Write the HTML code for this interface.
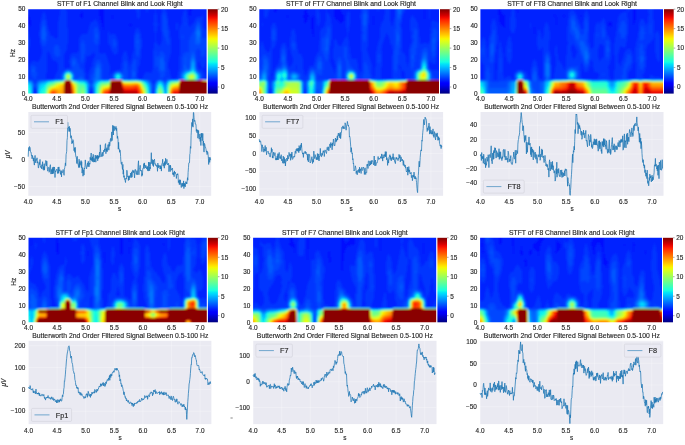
<!DOCTYPE html>
<html lang="en"><head><meta charset="utf-8"><title>STFT and filtered EEG signals</title>
<style>html,body{margin:0;padding:0;background:#fff}body{width:685px;height:445px;overflow:hidden}svg{display:block}text{stroke:#262626;stroke-width:.14px}</style></head>
<body>
<svg width="685" height="445" viewBox="0 0 685 445" font-family="'Liberation Sans', sans-serif" fill="#262626">
<defs><linearGradient id="jet" x1="0" y1="1" x2="0" y2="0"><stop offset="0.000" stop-color="#000080"/><stop offset="0.025" stop-color="#00009c"/><stop offset="0.050" stop-color="#0000b9"/><stop offset="0.075" stop-color="#0000d6"/><stop offset="0.100" stop-color="#0000f3"/><stop offset="0.125" stop-color="#0000ff"/><stop offset="0.150" stop-color="#0019ff"/><stop offset="0.175" stop-color="#0033ff"/><stop offset="0.200" stop-color="#004dff"/><stop offset="0.225" stop-color="#0066ff"/><stop offset="0.250" stop-color="#0080ff"/><stop offset="0.275" stop-color="#0099ff"/><stop offset="0.300" stop-color="#00b2ff"/><stop offset="0.325" stop-color="#00ccff"/><stop offset="0.350" stop-color="#00e5f7"/><stop offset="0.375" stop-color="#15ffe2"/><stop offset="0.400" stop-color="#29ffce"/><stop offset="0.425" stop-color="#3effb9"/><stop offset="0.450" stop-color="#52ffa5"/><stop offset="0.475" stop-color="#67ff90"/><stop offset="0.500" stop-color="#7bff7b"/><stop offset="0.525" stop-color="#90ff67"/><stop offset="0.550" stop-color="#a5ff52"/><stop offset="0.575" stop-color="#b9ff3e"/><stop offset="0.600" stop-color="#ceff29"/><stop offset="0.625" stop-color="#e2ff15"/><stop offset="0.650" stop-color="#f7f600"/><stop offset="0.675" stop-color="#ffde00"/><stop offset="0.700" stop-color="#ffc600"/><stop offset="0.725" stop-color="#ffaf00"/><stop offset="0.750" stop-color="#ff9700"/><stop offset="0.775" stop-color="#ff8000"/><stop offset="0.800" stop-color="#ff6800"/><stop offset="0.825" stop-color="#ff5000"/><stop offset="0.850" stop-color="#ff3900"/><stop offset="0.875" stop-color="#ff2100"/><stop offset="0.900" stop-color="#f30900"/><stop offset="0.925" stop-color="#d60000"/><stop offset="0.950" stop-color="#b90000"/><stop offset="0.975" stop-color="#9c0000"/><stop offset="1.000" stop-color="#800000"/></linearGradient><filter id="bl" x="-2%" y="-4%" width="104%" height="108%"><feGaussianBlur stdDeviation="1"/></filter></defs>
<rect width="685" height="445" fill="#fff" stroke="none"/>
<g><text x="119.9" y="6.2" text-anchor="middle" font-size="6.8">STFT of F1 Channel Blink and Look Right</text>
<clipPath id="cF1"><rect x="28.2" y="9.2" width="178.4" height="84.4"/></clipPath><g clip-path="url(#cF1)"><g filter="url(#bl)"><g shape-rendering="crispEdges"><rect x="25" y="6" width="185" height="91" fill="#000eff"/><path fill="#0021ff" d="M25 6h14v3h-14zM40 6h50v3h-50zM92 6h7v3h-7zM104 6h38v4h-38zM143 6h46v4h-46zM192 6h18v5h-18zM25 9h74v3h-74zM25 12h56v2h-56zM28 14h52v1h-52zM104 10h85v5h-85zM83 12h16v4h-16zM113 15h77v1h-77zM191 11h19v5h-19zM29 15h51v2h-51zM30 17h51v1h-51zM83 16h17v2h-17zM104 15h8v4h-8zM113 16h97v3h-97zM30 18h70v2h-70zM31 20h70v3h-70zM31 23h71v1h-71zM104 19h106v5h-106zM32 24h70v1h-70zM25 25h5v1h-5zM31 25h71v1h-71zM104 24h25v2h-25zM132 24h78v2h-78zM25 26h77v1h-77zM25 27h78v3h-78zM104 26h106v4h-106zM25 30h185v62h-185zM25 92h65v5h-65zM91 92h119v5h-119z"/><path fill="#0034ff" d="M145 6h4v3h-4zM61 6h5v4h-5zM129 6h1v4h-1zM185 6h1v4h-1zM60 10h6v1h-6zM136 6h4v6h-4zM146 9h2v3h-2zM162 6h4v6h-4zM184 10h2v2h-2zM43 12h2v2h-2zM155 6h1v8h-1zM162 12h5v2h-5zM42 14h3v1h-3zM60 11h7v5h-7zM183 12h4v4h-4zM137 12h3v5h-3zM161 14h6v3h-6zM202 15h1v2h-1zM42 15h4v3h-4zM137 17h2v1h-2zM182 16h5v2h-5zM197 17h6v1h-6zM138 18h1v1h-1zM196 18h7v1h-7zM41 18h5v2h-5zM95 19h1v1h-1zM59 16h8v5h-8zM94 20h3v1h-3zM195 19h8v2h-8zM93 21h4v1h-4zM41 20h6v3h-6zM91 22h7v1h-7zM154 14h3v9h-3zM194 21h9v2h-9zM182 18h6v6h-6zM193 23h10v1h-10zM90 23h8v2h-8zM153 23h5v2h-5zM181 24h7v1h-7zM192 24h11v1h-11zM40 23h7v3h-7zM90 25h9v1h-9zM154 25h4v1h-4zM161 17h7v9h-7zM181 25h8v1h-8zM191 25h12v1h-12zM180 26h9v1h-9zM190 26h13v1h-13zM58 21h9v7h-9zM180 27h24v2h-24zM40 26h8v4h-8zM89 26h10v4h-10zM136 28h3v2h-3zM161 26h8v4h-8zM176 23h2v7h-2zM179 29h26v1h-26zM40 30h9v1h-9zM161 30h9v1h-9zM39 31h10v1h-10zM154 26h3v6h-3zM25 32h3v1h-3zM88 30h12v3h-12zM108 31h1v2h-1zM135 30h5v3h-5zM87 33h13v1h-13zM135 33h6v1h-6zM39 32h11v3h-11zM82 34h18v1h-18zM108 33h2v2h-2zM111 34h4v1h-4zM39 35h12v1h-12zM81 35h19v1h-19zM39 36h14v1h-14zM108 35h8v2h-8zM162 31h8v6h-8zM25 33h4v5h-4zM40 37h14v1h-14zM58 28h10v10h-10zM80 36h20v2h-20zM40 38h16v1h-16zM57 38h11v1h-11zM134 34h7v5h-7zM179 30h31v9h-31zM108 37h9v3h-9zM155 32h1v10h-1zM162 37h9v5h-9zM155 42h2v1h-2zM40 39h28v5h-28zM108 40h10v4h-10zM154 43h3v1h-3zM79 38h21v7h-21zM109 44h9v1h-9zM154 44h4v1h-4zM161 42h10v3h-10zM154 45h5v1h-5zM160 45h11v1h-11zM25 38h5v9h-5zM110 45h8v2h-8zM41 44h26v4h-26zM134 39h8v9h-8zM154 46h17v3h-17zM42 48h25v2h-25zM111 47h7v3h-7zM42 50h24v1h-24zM79 45h20v6h-20zM134 48h7v3h-7zM25 47h4v5h-4zM42 51h6v1h-6zM49 51h17v1h-17zM78 51h21v1h-21zM112 50h6v2h-6zM124 51h2v1h-2zM25 52h3v1h-3zM49 52h16v1h-16zM78 52h15v1h-15zM94 52h5v1h-5zM113 52h5v1h-5zM124 52h3v1h-3zM50 53h15v1h-15zM72 53h20v1h-20zM95 53h6v1h-6zM103 53h2v1h-2zM113 53h4v1h-4zM133 51h8v3h-8zM153 49h18v5h-18zM42 52h5v3h-5zM50 54h14v1h-14zM71 54h21v1h-21zM115 54h1v1h-1zM70 55h20v1h-20zM95 54h11v2h-11zM123 53h4v3h-4zM180 39h30v17h-30zM70 56h17v1h-17zM95 56h12v1h-12zM179 56h31v1h-31zM41 55h6v3h-6zM51 55h13v3h-13zM153 54h17v4h-17zM94 57h13v2h-13zM132 54h9v5h-9zM40 58h7v2h-7zM52 58h12v2h-12zM70 57h16v3h-16zM39 60h8v1h-8zM54 60h10v1h-10zM122 56h6v5h-6zM32 61h4v1h-4zM38 61h9v1h-9zM69 60h17v2h-17zM93 59h15v3h-15zM153 58h16v4h-16zM179 57h27v5h-27zM31 62h16v1h-16zM57 61h7v2h-7zM69 62h16v1h-16zM122 61h7v2h-7zM131 59h9v4h-9zM200 62h6v1h-6zM30 63h17v1h-17zM92 62h17v3h-17zM130 63h10v2h-10zM200 63h5v2h-5zM70 63h15v3h-15zM121 63h8v3h-8zM130 65h9v1h-9zM29 64h18v3h-18zM70 66h14v1h-14zM92 65h18v2h-18zM121 66h18v1h-18zM201 65h4v2h-4zM58 63h6v5h-6zM70 67h15v1h-15zM91 67h19v1h-19zM153 62h15v6h-15zM179 62h19v6h-19zM202 67h2v1h-2zM28 67h19v2h-19zM58 68h7v1h-7zM66 68h19v1h-19zM121 67h17v2h-17zM179 68h20v1h-20zM120 69h18v1h-18zM153 68h16v2h-16zM179 69h23v1h-23zM58 69h27v2h-27zM90 68h20v3h-20zM116 70h22v1h-22zM179 70h24v1h-24zM57 71h28v1h-28zM113 71h25v1h-25zM25 69h22v4h-22zM57 72h29v1h-29zM89 71h21v2h-21zM112 72h26v1h-26zM146 72h3v1h-3zM152 70h18v3h-18zM89 73h20v1h-20zM111 73h27v1h-27zM145 73h25v1h-25zM178 71h26v3h-26zM56 73h30v2h-30zM88 74h21v1h-21zM110 74h27v1h-27zM144 74h26v1h-26zM28 73h18v3h-18zM88 75h49v1h-49zM144 75h27v1h-27zM178 74h27v2h-27zM55 75h31v3h-31zM143 76h28v2h-28zM177 76h28v2h-28zM25 76h21v3h-21zM176 78h29v1h-29zM25 79h22v1h-22zM54 78h32v2h-32zM88 76h50v4h-50zM143 78h29v2h-29zM175 79h30v1h-30zM25 80h185v1h-185zM155 81h55v2h-55zM25 81h128v3h-128zM154 83h56v1h-56zM25 84h185v4h-185zM35 88h175v1h-175zM35 89h56v1h-56zM92 89h118v1h-118zM25 88h9v3h-9zM36 90h54v2h-54zM25 91h8v6h-8zM35 93h1v4h-1zM37 92h53v5h-53zM92 90h61v7h-61zM154 90h56v7h-56z"/><path fill="#0047ff" d="M164 13h1v1h-1zM163 14h2v2h-2zM163 16h3v4h-3zM198 20h1v1h-1zM43 20h2v2h-2zM197 21h2v1h-2zM197 22h3v1h-3zM42 22h3v2h-3zM196 23h4v1h-4zM185 23h1v2h-1zM196 24h5v1h-5zM42 24h4v3h-4zM95 27h2v1h-2zM195 25h6v3h-6zM95 28h3v1h-3zM195 28h7v1h-7zM41 27h5v3h-5zM163 20h4v10h-4zM194 29h8v3h-8zM94 29h4v4h-4zM163 30h5v3h-5zM193 32h9v1h-9zM137 33h1v1h-1zM192 33h10v2h-10zM164 33h4v3h-4zM136 34h3v3h-3zM191 35h11v2h-11zM165 36h3v2h-3zM190 37h12v1h-12zM135 37h4v2h-4zM166 38h2v1h-2zM182 35h1v4h-1zM94 33h5v7h-5zM190 38h20v2h-20zM41 30h6v11h-6zM82 40h1v1h-1zM166 39h3v2h-3zM94 40h4v2h-4zM113 39h2v3h-2zM82 41h2v2h-2zM42 41h4v3h-4zM81 43h3v1h-3zM95 42h3v2h-3zM167 41h2v3h-2zM96 44h1v1h-1zM168 44h1v1h-1zM43 44h2v2h-2zM55 45h3v1h-3zM113 42h3v4h-3zM55 46h4v1h-4zM113 46h2v1h-2zM114 47h1v1h-1zM135 39h5v9h-5zM189 40h21v8h-21zM54 47h5v2h-5zM81 44h4v5h-4zM189 48h17v1h-17zM81 49h5v1h-5zM136 48h4v2h-4zM189 49h8v1h-8zM200 49h6v1h-6zM200 50h5v1h-5zM161 51h1v1h-1zM189 50h7v2h-7zM160 52h3v1h-3zM185 52h2v1h-2zM188 52h8v1h-8zM54 49h6v5h-6zM81 50h4v4h-4zM184 53h12v1h-12zM201 51h4v3h-4zM136 50h3v5h-3zM160 53h4v2h-4zM55 54h5v2h-5zM137 55h2v1h-2zM155 51h1v5h-1zM159 55h6v1h-6zM201 54h3v2h-3zM57 56h2v1h-2zM137 56h1v1h-1zM155 56h2v1h-2zM158 56h7v1h-7zM183 54h13v3h-13zM202 56h1v1h-1zM72 57h3v1h-3zM72 58h4v1h-4zM81 54h3v5h-3zM97 60h3v1h-3zM134 59h2v2h-2zM71 59h6v3h-6zM81 59h2v3h-2zM96 61h4v1h-4zM125 60h1v2h-1zM155 57h10v5h-10zM82 62h1v1h-1zM96 62h5v1h-5zM124 62h2v1h-2zM71 62h7v2h-7zM95 63h6v1h-6zM133 61h3v3h-3zM32 65h2v1h-2zM71 64h8v2h-8zM155 62h11v4h-11zM31 66h4v1h-4zM72 66h7v1h-7zM95 64h7v3h-7zM157 66h9v1h-9zM182 57h14v10h-14zM155 66h1v2h-1zM72 67h8v2h-8zM124 63h3v6h-3zM182 67h15v2h-15zM68 69h1v1h-1zM71 69h11v1h-11zM94 67h8v3h-8zM123 69h4v1h-4zM132 64h4v6h-4zM181 69h16v1h-16zM65 70h18v1h-18zM158 67h8v4h-8zM181 70h17v1h-17zM31 67h5v5h-5zM63 71h20v1h-20zM117 71h3v1h-3zM123 70h5v2h-5zM159 71h7v1h-7zM181 71h18v1h-18zM62 72h21v1h-21zM93 70h9v3h-9zM115 72h13v1h-13zM159 72h6v1h-6zM62 73h22v1h-22zM114 73h14v1h-14zM180 72h21v2h-21zM31 72h6v3h-6zM92 73h10v2h-10zM32 75h5v1h-5zM113 74h15v2h-15zM160 73h5v3h-5zM180 74h22v2h-22zM32 76h4v1h-4zM160 76h4v1h-4zM33 77h3v1h-3zM61 74h23v4h-23zM112 76h16v2h-16zM160 77h3v1h-3zM34 78h2v1h-2zM91 75h11v4h-11zM161 78h1v1h-1zM35 79h1v1h-1zM61 78h24v2h-24zM90 79h12v1h-12zM113 78h14v2h-14zM131 70h5v10h-5zM167 78h2v2h-2zM179 76h23v4h-23zM37 80h114v1h-114zM157 80h8v1h-8zM166 80h44v1h-44zM25 80h8v2h-8zM156 81h54v1h-54zM36 81h54v2h-54zM92 81h59v2h-59zM25 82h9v2h-9zM35 83h117v1h-117zM155 82h55v3h-55zM154 85h56v1h-56zM25 84h128v3h-128zM25 87h9v1h-9zM35 87h56v1h-56zM36 88h54v1h-54zM92 87h61v3h-61zM37 89h53v2h-53zM93 90h60v2h-60zM25 88h8v9h-8zM37 91h52v6h-52zM93 92h59v5h-59zM155 86h55v11h-55z"/><path fill="#005aff" d="M198 23h1v2h-1zM197 25h2v1h-2zM43 26h1v1h-1zM197 26h3v1h-3zM43 27h2v3h-2zM196 27h4v3h-4zM196 30h5v1h-5zM42 30h3v3h-3zM42 33h4v3h-4zM96 34h1v4h-1zM42 36h3v3h-3zM43 39h2v1h-2zM137 41h1v2h-1zM195 31h6v12h-6zM195 43h5v1h-5zM197 44h2v1h-2zM192 52h1v1h-1zM192 53h2v2h-2zM161 57h1v1h-1zM161 58h2v1h-2zM191 55h4v4h-4zM73 60h1v1h-1zM160 59h3v2h-3zM190 59h5v2h-5zM73 61h2v4h-2zM97 64h2v1h-2zM185 57h1v8h-1zM73 65h1v1h-1zM97 65h3v1h-3zM184 65h2v2h-2zM96 66h4v2h-4zM190 61h6v7h-6zM95 68h5v1h-5zM160 61h4v8h-4zM184 67h3v2h-3zM189 68h7v1h-7zM33 69h1v1h-1zM161 69h3v1h-3zM184 69h12v1h-12zM32 70h2v1h-2zM66 70h4v1h-4zM161 70h2v1h-2zM183 70h14v1h-14zM33 71h1v1h-1zM65 71h7v1h-7zM133 71h1v1h-1zM183 71h15v1h-15zM64 72h9v1h-9zM116 72h4v1h-4zM182 72h17v1h-17zM95 69h6v5h-6zM115 73h7v1h-7zM181 73h19v1h-19zM63 73h11v2h-11zM114 74h9v1h-9zM133 72h2v4h-2zM79 77h4v1h-4zM94 74h7v4h-7zM113 75h11v3h-11zM133 76h1v2h-1zM62 75h12v4h-12zM114 78h9v1h-9zM63 79h11v1h-11zM78 78h5v2h-5zM93 78h8v2h-8zM114 79h8v1h-8zM181 74h20v6h-20zM25 80h5v1h-5zM40 80h47v1h-47zM93 80h56v1h-56zM158 80h5v1h-5zM167 80h43v1h-43zM38 81h50v1h-50zM93 81h57v1h-57zM157 81h7v1h-7zM37 82h52v1h-52zM93 82h58v1h-58zM25 81h8v3h-8zM37 83h53v1h-53zM92 83h59v1h-59zM156 82h9v2h-9zM166 81h44v3h-44zM36 84h54v1h-54zM25 84h9v2h-9zM36 85h55v1h-55zM36 86h54v1h-54zM92 84h60v4h-60zM37 87h53v2h-53zM93 88h59v4h-59zM25 86h8v11h-8zM37 89h52v8h-52zM94 92h58v5h-58zM155 84h55v13h-55z"/><path fill="#006dff" d="M198 27h1v2h-1zM197 29h2v2h-2zM197 31h3v1h-3zM196 32h4v2h-4zM197 34h3v3h-3zM197 37h2v3h-2zM198 40h1v2h-1zM192 56h1v1h-1zM192 57h2v2h-2zM191 59h4v8h-4zM190 67h5v1h-5zM190 68h6v2h-6zM97 68h2v3h-2zM185 70h11v1h-11zM66 71h5v1h-5zM184 71h13v1h-13zM64 72h8v1h-8zM183 72h15v1h-15zM64 73h9v1h-9zM115 73h6v1h-6zM182 73h17v1h-17zM63 74h10v1h-10zM114 74h8v2h-8zM63 75h11v3h-11zM96 71h3v7h-3zM114 76h9v2h-9zM95 78h4v1h-4zM114 78h8v1h-8zM63 78h10v2h-10zM95 79h3v1h-3zM115 79h6v1h-6zM182 74h18v6h-18zM47 80h39v1h-39zM94 80h53v1h-53zM159 80h2v1h-2zM168 80h42v1h-42zM39 81h49v1h-49zM94 81h55v1h-55zM157 81h6v1h-6zM167 81h43v1h-43zM25 81h7v2h-7zM38 82h50v1h-50zM94 82h56v1h-56zM157 82h7v1h-7zM38 83h51v1h-51zM93 83h57v1h-57zM93 84h58v1h-58zM37 84h53v2h-53zM92 85h59v1h-59zM156 83h9v3h-9zM166 82h44v4h-44zM93 86h58v3h-58zM37 86h52v4h-52zM37 90h51v1h-51zM25 83h8v14h-8zM38 91h50v6h-50zM94 89h57v8h-57zM155 86h55v11h-55z"/><path fill="#0080ff" d="M198 31h1v5h-1zM192 59h2v3h-2zM191 62h4v7h-4zM190 69h5v1h-5zM189 70h7v1h-7zM66 71h4v1h-4zM185 71h11v1h-11zM65 72h7v1h-7zM184 72h13v1h-13zM64 73h8v1h-8zM116 73h4v1h-4zM183 73h15v1h-15zM64 74h9v1h-9zM115 74h6v1h-6zM183 74h16v1h-16zM182 75h17v1h-17zM114 75h8v3h-8zM182 76h18v2h-18zM63 75h10v4h-10zM183 78h17v1h-17zM64 79h9v1h-9zM115 78h6v2h-6zM183 79h16v1h-16zM53 80h31v1h-31zM96 80h48v1h-48zM169 80h41v1h-41zM25 81h5v1h-5zM42 81h45v1h-45zM95 81h53v1h-53zM158 81h4v1h-4zM39 82h49v1h-49zM94 82h55v1h-55zM167 81h43v2h-43zM25 82h7v2h-7zM38 83h50v1h-50zM94 83h56v1h-56zM157 82h7v2h-7zM38 84h51v3h-51zM93 84h57v3h-57zM156 84h9v6h-9zM25 84h8v7h-8zM155 90h10v2h-10zM166 83h44v9h-44zM25 91h7v6h-7zM38 87h50v10h-50zM94 87h57v10h-57zM155 92h55v5h-55z"/><path fill="#0092ff" d="M192 61h2v5h-2zM191 66h3v1h-3zM191 67h4v3h-4zM190 70h5v1h-5zM67 71h2v1h-2zM187 71h9v1h-9zM65 72h6v1h-6zM185 72h12v1h-12zM65 73h7v1h-7zM117 73h2v1h-2zM184 73h14v1h-14zM116 74h5v1h-5zM183 74h15v1h-15zM115 75h6v1h-6zM115 76h7v1h-7zM64 74h9v5h-9zM115 77h6v2h-6zM183 75h16v4h-16zM64 79h8v1h-8zM116 79h4v1h-4zM184 79h15v1h-15zM55 80h25v1h-25zM81 80h2v1h-2zM98 80h5v1h-5zM107 80h35v1h-35zM170 80h40v1h-40zM46 81h40v1h-40zM96 81h51v1h-51zM159 81h2v1h-2zM168 81h42v1h-42zM25 82h6v1h-6zM40 82h47v1h-47zM95 82h53v1h-53zM158 82h5v1h-5zM39 83h49v1h-49zM95 83h54v1h-54zM157 83h6v1h-6zM167 82h43v2h-43zM157 84h7v2h-7zM94 84h56v6h-56zM25 83h7v14h-7zM38 84h50v13h-50zM95 90h55v7h-55zM156 86h9v11h-9zM166 84h44v13h-44z"/><path fill="#00a5ff" d="M192 63h2v6h-2zM191 69h3v1h-3zM191 70h4v1h-4zM189 71h6v1h-6zM66 72h5v1h-5zM186 72h10v1h-10zM65 73h7v1h-7zM185 73h12v1h-12zM64 74h8v1h-8zM116 74h4v1h-4zM184 74h14v2h-14zM64 75h9v3h-9zM115 75h6v3h-6zM183 76h16v2h-16zM64 78h8v1h-8zM116 78h4v1h-4zM184 78h15v1h-15zM65 79h7v1h-7zM117 79h2v1h-2zM184 79h14v1h-14zM56 80h20v1h-20zM110 80h31v1h-31zM175 80h35v1h-35zM47 81h38v1h-38zM97 81h49v1h-49zM159 81h1v1h-1zM168 81h42v1h-42zM25 82h5v1h-5zM43 82h44v1h-44zM96 82h52v1h-52zM158 82h4v1h-4zM25 83h6v1h-6zM40 83h47v1h-47zM95 83h53v1h-53zM158 83h5v1h-5zM95 84h54v1h-54zM157 84h6v1h-6zM167 82h43v3h-43zM94 85h55v1h-55zM95 86h54v1h-54zM157 85h7v3h-7zM39 84h49v5h-49zM25 84h7v13h-7zM38 89h50v8h-50zM95 87h55v10h-55zM156 88h9v9h-9zM166 85h44v12h-44z"/><path fill="#00b8ff" d="M192 67h1v1h-1zM192 68h2v2h-2zM191 70h3v1h-3zM190 71h5v1h-5zM66 72h4v1h-4zM187 72h9v1h-9zM65 73h6v1h-6zM65 74h7v1h-7zM117 74h3v1h-3zM185 73h12v2h-12zM116 75h4v1h-4zM115 76h6v2h-6zM64 75h8v4h-8zM116 78h4v1h-4zM184 75h14v4h-14zM65 79h7v1h-7zM185 79h13v1h-13zM61 80h13v1h-13zM110 80h29v1h-29zM179 80h31v1h-31zM48 81h36v1h-36zM98 81h47v1h-47zM169 81h41v1h-41zM45 82h41v1h-41zM97 82h50v1h-50zM159 82h2v1h-2zM168 82h42v1h-42zM25 83h5v1h-5zM42 83h45v1h-45zM96 83h52v1h-52zM158 83h4v1h-4zM40 84h47v1h-47zM95 84h53v1h-53zM158 84h5v1h-5zM25 84h6v2h-6zM39 85h49v1h-49zM157 85h6v1h-6zM167 83h43v5h-43zM157 86h7v3h-7zM156 89h8v1h-8zM95 85h54v7h-54zM25 86h7v11h-7zM39 86h48v11h-48zM95 92h55v5h-55zM156 90h9v7h-9zM166 88h44v9h-44z"/><path fill="#00cbff" d="M192 70h2v1h-2zM191 71h4v1h-4zM67 72h2v1h-2zM188 72h7v1h-7zM66 73h5v1h-5zM186 73h10v1h-10zM117 74h2v1h-2zM185 74h12v1h-12zM65 74h7v2h-7zM185 75h13v1h-13zM64 76h8v2h-8zM116 75h4v3h-4zM184 76h14v2h-14zM65 78h7v1h-7zM117 78h3v1h-3zM185 78h13v1h-13zM65 79h6v1h-6zM185 79h12v1h-12zM63 80h11v1h-11zM110 80h18v1h-18zM130 80h8v1h-8zM179 80h31v1h-31zM51 81h29v1h-29zM99 81h45v1h-45zM169 81h41v1h-41zM46 82h40v1h-40zM97 82h49v1h-49zM159 82h2v1h-2zM25 83h3v1h-3zM45 83h41v1h-41zM97 83h50v1h-50zM159 83h3v1h-3zM168 82h42v2h-42zM25 84h5v1h-5zM42 84h45v1h-45zM158 84h4v1h-4zM158 85h5v1h-5zM40 85h47v2h-47zM96 84h52v3h-52zM157 86h6v1h-6zM25 85h6v6h-6zM157 87h7v4h-7zM25 91h7v6h-7zM39 87h48v10h-48zM96 87h53v10h-53zM156 91h8v6h-8zM167 84h43v13h-43z"/><path fill="#00defd" d="M192 70h1v1h-1zM191 71h3v1h-3zM68 72h1v1h-1zM189 72h6v1h-6zM66 73h5v1h-5zM187 73h9v1h-9zM65 74h6v1h-6zM186 74h11v1h-11zM185 75h12v1h-12zM116 75h4v3h-4zM185 76h13v2h-13zM65 75h7v4h-7zM117 78h2v1h-2zM185 78h12v1h-12zM65 79h6v1h-6zM186 79h11v1h-11zM63 80h10v1h-10zM110 80h13v1h-13zM134 80h1v1h-1zM179 80h31v1h-31zM53 81h25v1h-25zM101 81h42v1h-42zM170 81h40v1h-40zM47 82h38v1h-38zM98 82h47v1h-47zM46 83h40v1h-40zM97 83h49v1h-49zM159 83h2v1h-2zM25 84h4v1h-4zM44 84h43v1h-43zM96 84h51v1h-51zM159 84h3v1h-3zM168 82h42v3h-42zM158 85h4v1h-4zM25 85h5v2h-5zM42 85h45v2h-45zM41 87h46v1h-46zM158 86h5v2h-5zM157 88h6v1h-6zM40 88h47v2h-47zM96 85h52v5h-52zM25 87h6v10h-6zM39 90h48v7h-48zM96 90h53v7h-53zM157 89h7v8h-7zM167 85h43v12h-43z"/><path fill="#09f1ee" d="M192 71h2v1h-2zM190 72h5v1h-5zM66 73h4v1h-4zM187 73h9v1h-9zM65 74h6v1h-6zM186 74h10v1h-10zM117 75h2v1h-2zM116 76h4v1h-4zM65 75h7v3h-7zM117 77h2v1h-2zM65 78h6v1h-6zM185 75h12v4h-12zM66 79h5v1h-5zM186 79h10v1h-10zM64 80h9v1h-9zM110 80h13v1h-13zM179 80h31v1h-31zM54 81h23v1h-23zM107 81h35v1h-35zM171 81h39v1h-39zM48 82h36v1h-36zM99 82h46v1h-46zM169 82h41v1h-41zM47 83h39v1h-39zM98 83h48v1h-48zM159 83h1v1h-1zM46 84h40v1h-40zM159 84h2v1h-2zM45 85h41v1h-41zM97 84h50v2h-50zM159 85h3v1h-3zM168 83h42v3h-42zM44 86h42v1h-42zM96 86h51v1h-51zM158 86h4v1h-4zM25 85h4v3h-4zM43 87h43v1h-43zM42 88h45v1h-45zM158 87h5v2h-5zM25 88h5v2h-5zM157 89h6v1h-6zM41 89h46v2h-46zM25 90h6v7h-6zM40 91h47v6h-47zM96 87h52v10h-52zM157 90h7v7h-7zM167 86h43v11h-43z"/><path fill="#18ffde" d="M190 72h4v1h-4zM67 73h3v1h-3zM188 73h7v1h-7zM66 74h5v1h-5zM187 74h9v1h-9zM65 75h6v1h-6zM186 75h11v1h-11zM65 76h7v1h-7zM117 76h2v2h-2zM185 76h12v2h-12zM65 77h6v2h-6zM186 78h11v1h-11zM66 79h4v1h-4zM187 79h9v1h-9zM64 80h8v1h-8zM110 80h13v1h-13zM179 80h31v1h-31zM55 81h21v1h-21zM109 81h33v1h-33zM171 81h39v1h-39zM49 82h31v1h-31zM100 82h44v1h-44zM47 83h38v1h-38zM98 83h47v1h-47zM169 82h41v2h-41zM98 84h48v1h-48zM159 84h1v1h-1zM159 85h2v1h-2zM46 84h40v3h-40zM25 87h3v1h-3zM45 87h41v1h-41zM97 85h50v3h-50zM158 86h4v2h-4zM168 84h42v5h-42zM44 88h42v2h-42zM97 88h51v2h-51zM158 88h5v2h-5zM25 88h4v3h-4zM43 90h43v1h-43zM157 90h6v1h-6zM25 91h5v6h-5zM42 91h44v6h-44zM96 90h52v7h-52zM157 91h7v6h-7zM167 89h43v8h-43z"/><path fill="#28ffcf" d="M191 72h3v1h-3zM67 73h3v1h-3zM189 73h6v1h-6zM66 74h5v1h-5zM187 74h9v1h-9zM186 75h10v1h-10zM65 75h6v3h-6zM186 76h11v2h-11zM66 78h5v1h-5zM186 78h10v1h-10zM66 79h4v1h-4zM187 79h9v1h-9zM64 80h8v1h-8zM110 80h12v1h-12zM179 80h31v1h-31zM56 81h19v1h-19zM109 81h32v1h-32zM174 81h36v1h-36zM50 82h29v1h-29zM100 82h44v1h-44zM170 82h40v1h-40zM48 83h35v1h-35zM99 83h46v1h-46zM169 83h41v1h-41zM47 84h38v1h-38zM98 84h47v1h-47zM98 85h48v1h-48zM97 86h49v1h-49zM159 85h2v2h-2zM46 85h40v4h-40zM158 87h4v2h-4zM97 87h50v3h-50zM25 90h3v1h-3zM45 89h41v2h-41zM158 89h5v2h-5zM25 91h4v6h-4zM44 91h42v6h-42zM97 90h51v7h-51zM157 91h6v6h-6zM168 84h42v13h-42z"/><path fill="#37ffc0" d="M192 72h1v1h-1zM67 73h2v1h-2zM189 73h6v1h-6zM66 74h4v1h-4zM187 74h8v1h-8zM66 75h5v1h-5zM187 75h9v1h-9zM65 76h6v2h-6zM186 76h10v2h-10zM66 78h5v1h-5zM187 78h9v1h-9zM67 79h3v1h-3zM187 79h8v1h-8zM64 80h8v1h-8zM110 80h12v1h-12zM180 80h30v1h-30zM58 81h17v1h-17zM110 81h31v1h-31zM177 81h33v1h-33zM52 82h26v1h-26zM101 82h42v1h-42zM170 82h40v1h-40zM49 83h30v1h-30zM100 83h44v1h-44zM48 84h36v1h-36zM99 84h46v1h-46zM169 83h41v2h-41zM47 85h38v1h-38zM98 85h47v1h-47zM46 86h39v1h-39zM98 86h48v2h-48zM159 86h2v2h-2zM98 88h49v1h-49zM158 88h4v2h-4zM46 87h40v5h-40zM97 89h50v3h-50zM45 92h41v5h-41zM97 92h51v5h-51zM158 90h5v7h-5zM168 85h42v12h-42z"/><path fill="#46ffb1" d="M190 73h4v1h-4zM66 74h4v1h-4zM188 74h7v1h-7zM66 75h5v3h-5zM66 78h4v1h-4zM187 75h9v4h-9zM67 79h3v1h-3zM188 79h7v1h-7zM64 80h8v1h-8zM110 80h12v1h-12zM180 80h30v1h-30zM61 81h13v1h-13zM110 81h30v1h-30zM179 81h31v1h-31zM53 82h24v1h-24zM102 82h41v1h-41zM50 83h29v1h-29zM101 83h43v1h-43zM170 82h40v2h-40zM48 84h35v1h-35zM100 84h45v1h-45zM47 85h37v1h-37zM99 85h46v1h-46zM47 86h38v1h-38zM99 86h47v1h-47zM159 86h1v1h-1zM169 84h41v3h-41zM98 87h48v2h-48zM159 87h2v2h-2zM46 87h39v3h-39zM98 89h49v2h-49zM158 89h4v2h-4zM46 90h40v7h-40zM97 91h50v6h-50zM158 91h5v6h-5zM168 87h42v10h-42z"/><path fill="#55ffa1" d="M191 73h3v1h-3zM67 74h3v1h-3zM188 74h7v1h-7zM187 75h8v1h-8zM66 75h5v3h-5zM187 76h9v2h-9zM66 78h4v1h-4zM187 78h8v1h-8zM67 79h2v1h-2zM188 79h6v1h-6zM64 80h8v1h-8zM111 80h11v1h-11zM180 80h30v1h-30zM63 81h10v1h-10zM110 81h29v1h-29zM179 81h31v1h-31zM54 82h23v1h-23zM106 82h36v1h-36zM171 82h39v1h-39zM51 83h27v1h-27zM101 83h42v1h-42zM170 83h40v1h-40zM49 84h30v1h-30zM100 84h44v1h-44zM48 85h35v1h-35zM99 85h46v2h-46zM47 86h37v2h-37zM99 87h47v1h-47zM159 87h1v1h-1zM47 88h38v1h-38zM159 88h2v1h-2zM169 84h41v5h-41zM98 88h48v2h-48zM159 89h3v1h-3zM158 90h4v2h-4zM46 89h39v8h-39zM98 90h49v7h-49zM158 92h5v5h-5zM168 89h42v8h-42z"/><path fill="#65ff92" d="M191 73h2v1h-2zM67 74h3v1h-3zM189 74h5v1h-5zM66 75h4v1h-4zM188 75h7v1h-7zM66 76h5v2h-5zM187 76h8v2h-8zM66 78h4v1h-4zM188 78h7v1h-7zM189 79h5v1h-5zM64 80h7v1h-7zM111 80h11v1h-11zM180 80h30v1h-30zM64 81h9v1h-9zM110 81h19v1h-19zM130 81h8v1h-8zM179 81h31v1h-31zM55 82h21v1h-21zM109 82h33v1h-33zM171 82h39v1h-39zM53 83h24v1h-24zM102 83h41v1h-41zM51 84h28v1h-28zM101 84h43v1h-43zM170 83h40v2h-40zM49 85h30v1h-30zM100 85h44v1h-44zM48 86h31v1h-31zM82 86h1v1h-1zM100 86h45v1h-45zM81 87h2v1h-2zM99 87h46v1h-46zM81 88h3v1h-3zM47 87h32v3h-32zM99 88h47v2h-47zM159 88h2v2h-2zM80 89h4v2h-4zM159 90h3v1h-3zM98 90h48v2h-48zM169 85h41v7h-41zM46 90h33v7h-33zM80 91h5v6h-5zM98 92h49v5h-49zM158 91h4v6h-4zM168 92h42v5h-42z"/><path fill="#74ff83" d="M67 74h2v1h-2zM190 74h4v1h-4zM66 75h4v3h-4zM67 78h3v1h-3zM188 75h7v4h-7zM190 79h3v1h-3zM65 80h6v1h-6zM111 80h11v1h-11zM180 80h30v1h-30zM64 81h8v1h-8zM110 81h14v1h-14zM134 81h3v1h-3zM179 81h31v1h-31zM56 82h20v1h-20zM109 82h33v1h-33zM172 82h38v1h-38zM54 83h23v1h-23zM106 83h37v1h-37zM171 83h39v1h-39zM52 84h26v1h-26zM101 84h42v1h-42zM170 84h40v1h-40zM50 85h29v1h-29zM101 85h43v1h-43zM100 86h44v1h-44zM48 86h31v2h-31zM100 87h45v1h-45zM82 88h1v1h-1zM99 88h46v1h-46zM81 89h2v1h-2zM47 88h32v3h-32zM159 89h2v2h-2zM159 91h3v1h-3zM46 91h33v6h-33zM81 90h3v7h-3zM99 89h47v8h-47zM158 92h4v5h-4zM169 85h41v12h-41z"/><path fill="#83ff74" d="M68 74h1v1h-1zM190 74h4v1h-4zM67 75h3v1h-3zM189 75h6v1h-6zM66 76h4v2h-4zM188 76h7v2h-7zM67 78h3v1h-3zM189 78h5v1h-5zM190 79h3v1h-3zM65 80h6v1h-6zM111 80h11v1h-11zM180 80h25v1h-25zM64 81h8v1h-8zM110 81h13v1h-13zM179 81h31v1h-31zM57 82h18v1h-18zM109 82h32v1h-32zM174 82h36v1h-36zM55 83h21v1h-21zM108 83h34v1h-34zM171 83h39v1h-39zM53 84h24v1h-24zM102 84h41v1h-41zM51 85h27v1h-27zM101 85h43v1h-43zM49 86h29v1h-29zM100 86h44v1h-44zM170 84h40v3h-40zM48 87h30v2h-30zM100 87h45v3h-45zM159 89h1v1h-1zM82 89h1v2h-1zM82 91h2v1h-2zM159 90h2v2h-2zM47 89h31v8h-31zM81 92h3v5h-3zM99 90h47v7h-47zM159 92h3v5h-3zM169 87h41v10h-41z"/><path fill="#92ff65" d="M191 74h2v1h-2zM67 75h3v1h-3zM189 75h5v1h-5zM66 76h4v1h-4zM188 76h7v1h-7zM67 77h3v1h-3zM188 77h6v1h-6zM67 78h2v1h-2zM189 78h5v1h-5zM65 80h6v1h-6zM111 80h11v1h-11zM180 80h25v1h-25zM64 81h8v1h-8zM110 81h13v1h-13zM179 81h31v1h-31zM58 82h17v1h-17zM110 82h31v1h-31zM176 82h34v1h-34zM55 83h21v1h-21zM109 83h33v1h-33zM54 84h23v1h-23zM106 84h37v1h-37zM171 83h39v2h-39zM52 85h25v1h-25zM102 85h41v1h-41zM50 86h27v1h-27zM101 86h43v1h-43zM100 87h44v1h-44zM170 85h40v3h-40zM48 87h29v3h-29zM100 88h45v3h-45zM159 90h1v1h-1zM47 90h30v7h-30zM82 91h1v6h-1zM99 91h47v6h-47zM159 91h2v6h-2zM169 88h41v9h-41z"/><path fill="#a1ff55" d="M67 75h2v1h-2zM190 75h4v1h-4zM67 76h3v2h-3zM189 76h5v2h-5zM68 78h1v1h-1zM190 78h4v1h-4zM65 80h6v1h-6zM111 80h11v1h-11zM180 80h25v1h-25zM64 81h8v1h-8zM110 81h13v1h-13zM179 81h31v1h-31zM59 82h15v1h-15zM110 82h31v1h-31zM178 82h32v1h-32zM56 83h19v1h-19zM109 83h33v1h-33zM173 83h37v1h-37zM55 84h21v1h-21zM107 84h35v1h-35zM171 84h39v1h-39zM53 85h24v1h-24zM102 85h41v1h-41zM50 86h27v1h-27zM101 86h42v1h-42zM49 87h28v1h-28zM101 87h43v1h-43zM100 88h44v1h-44zM170 85h40v4h-40zM48 88h29v2h-29zM159 91h1v1h-1zM47 90h30v7h-30zM82 92h1v5h-1zM100 89h45v8h-45zM159 92h2v5h-2zM169 89h41v8h-41z"/><path fill="#b1ff46" d="M67 75h2v1h-2zM190 75h4v1h-4zM67 76h3v1h-3zM67 77h2v1h-2zM189 76h5v2h-5zM190 78h3v1h-3zM65 80h6v1h-6zM111 80h11v1h-11zM180 80h25v1h-25zM64 81h8v1h-8zM110 81h13v1h-13zM61 82h13v1h-13zM110 82h30v1h-30zM179 81h31v2h-31zM57 83h18v1h-18zM110 83h31v1h-31zM174 83h36v1h-36zM55 84h21v1h-21zM109 84h33v1h-33zM54 85h22v1h-22zM105 85h37v1h-37zM171 84h39v2h-39zM51 86h26v1h-26zM102 86h41v1h-41zM50 87h27v1h-27zM101 87h42v1h-42zM49 88h28v1h-28zM101 88h43v1h-43zM100 89h44v1h-44zM170 86h40v4h-40zM48 89h29v2h-29zM47 91h30v6h-30zM100 90h45v7h-45zM159 92h1v5h-1zM169 90h41v7h-41z"/><path fill="#c0ff37" d="M68 75h1v1h-1zM191 75h2v1h-2zM190 76h4v1h-4zM67 76h2v2h-2zM190 77h3v1h-3zM191 78h1v1h-1zM65 80h6v1h-6zM111 80h11v1h-11zM180 80h25v1h-25zM64 81h8v1h-8zM110 81h13v1h-13zM63 82h10v1h-10zM110 82h30v1h-30zM179 81h31v2h-31zM58 83h17v1h-17zM110 83h31v1h-31zM176 83h34v1h-34zM56 84h20v1h-20zM109 84h33v1h-33zM172 84h38v1h-38zM55 85h21v1h-21zM107 85h35v1h-35zM171 85h39v1h-39zM52 86h24v1h-24zM50 87h26v1h-26zM102 86h41v2h-41zM49 88h27v1h-27zM101 88h43v3h-43zM170 86h40v5h-40zM48 89h28v8h-28zM100 91h45v6h-45zM169 91h41v6h-41z"/><path fill="#cfff28" d="M67 76h2v1h-2zM68 77h1v1h-1zM190 76h3v2h-3zM65 80h6v1h-6zM111 80h11v1h-11zM180 80h24v1h-24zM64 81h8v1h-8zM110 81h12v1h-12zM64 82h9v1h-9zM110 82h29v1h-29zM179 81h31v2h-31zM59 83h15v1h-15zM178 83h32v1h-32zM56 84h19v1h-19zM110 83h31v2h-31zM173 84h37v1h-37zM55 85h21v1h-21zM109 85h33v1h-33zM53 86h23v1h-23zM104 86h38v1h-38zM171 85h39v2h-39zM51 87h25v1h-25zM102 87h41v1h-41zM50 88h26v1h-26zM101 88h42v1h-42zM49 89h27v1h-27zM101 89h43v3h-43zM170 87h40v5h-40zM48 90h28v7h-28zM100 92h45v5h-45zM169 92h41v5h-41z"/><path fill="#deff18" d="M68 76h1v1h-1zM191 76h2v1h-2zM191 77h1v1h-1zM65 80h6v1h-6zM111 80h11v1h-11zM180 80h24v1h-24zM64 81h8v1h-8zM110 81h12v1h-12zM64 82h9v1h-9zM110 82h28v1h-28zM61 83h13v1h-13zM110 83h30v1h-30zM179 81h31v3h-31zM57 84h18v1h-18zM110 84h31v1h-31zM175 84h35v1h-35zM56 85h19v1h-19zM109 85h33v1h-33zM172 85h38v1h-38zM54 86h22v1h-22zM106 86h36v1h-36zM51 87h25v1h-25zM102 87h40v1h-40zM171 86h39v2h-39zM50 88h26v1h-26zM102 88h41v1h-41zM101 89h42v1h-42zM49 89h27v2h-27zM48 91h28v6h-28zM101 90h43v7h-43zM170 88h40v9h-40z"/><path fill="#eeff09" d="M65 80h6v1h-6zM111 80h11v1h-11zM180 80h24v1h-24zM64 81h7v1h-7zM110 81h12v1h-12zM64 82h8v1h-8zM110 82h14v1h-14zM134 82h4v1h-4zM62 83h11v1h-11zM110 83h30v1h-30zM179 81h31v3h-31zM59 84h15v1h-15zM110 84h31v1h-31zM177 84h33v1h-33zM57 85h18v1h-18zM109 85h32v1h-32zM173 85h37v1h-37zM55 86h20v1h-20zM108 86h34v1h-34zM53 87h22v1h-22zM104 87h38v1h-38zM171 86h39v2h-39zM51 88h24v1h-24zM50 89h26v1h-26zM102 88h41v2h-41zM101 90h42v1h-42zM49 90h27v2h-27zM48 92h28v5h-28zM101 91h43v6h-43zM170 88h40v9h-40z"/><path fill="#fdef00" d="M65 80h6v1h-6zM111 80h11v1h-11zM180 80h24v1h-24zM64 81h7v1h-7zM110 81h12v1h-12zM180 81h30v1h-30zM64 82h8v1h-8zM110 82h13v1h-13zM64 83h9v1h-9zM110 83h29v1h-29zM60 84h14v1h-14zM110 84h30v1h-30zM179 82h31v3h-31zM57 85h18v1h-18zM110 85h31v1h-31zM174 85h36v1h-36zM56 86h19v1h-19zM109 86h32v1h-32zM172 86h38v1h-38zM54 87h21v1h-21zM105 87h37v1h-37zM51 88h24v1h-24zM102 88h40v1h-40zM171 87h39v2h-39zM50 89h25v1h-25zM102 89h41v2h-41zM49 90h26v2h-26zM48 92h27v5h-27zM101 91h43v6h-43zM170 89h40v8h-40z"/><path fill="#ffdd00" d="M65 80h6v1h-6zM111 80h11v1h-11zM180 80h23v1h-23zM64 81h7v1h-7zM110 81h12v1h-12zM180 81h30v1h-30zM64 82h8v1h-8zM110 82h13v1h-13zM64 83h9v1h-9zM110 83h29v1h-29zM61 84h13v1h-13zM110 84h30v1h-30zM179 82h31v3h-31zM59 85h15v1h-15zM110 85h31v1h-31zM176 85h34v1h-34zM58 86h16v1h-16zM109 86h32v1h-32zM173 86h37v1h-37zM56 87h19v1h-19zM107 87h35v1h-35zM52 88h23v1h-23zM103 88h39v1h-39zM102 89h40v1h-40zM171 87h39v3h-39zM50 89h25v2h-25zM102 90h41v2h-41zM49 91h26v6h-26zM101 92h42v5h-42zM170 90h40v7h-40z"/><path fill="#ffcc00" d="M65 80h6v1h-6zM111 80h11v1h-11zM180 80h23v1h-23zM64 81h7v1h-7zM110 81h12v1h-12zM180 81h30v1h-30zM110 82h13v1h-13zM64 82h8v2h-8zM110 83h15v1h-15zM132 83h6v1h-6zM63 84h10v1h-10zM179 82h31v3h-31zM110 84h30v2h-30zM178 85h32v1h-32zM60 85h14v2h-14zM110 86h31v1h-31zM174 86h36v1h-36zM58 87h16v1h-16zM108 87h33v1h-33zM172 87h38v1h-38zM53 88h22v1h-22zM105 88h37v1h-37zM51 89h24v1h-24zM103 89h39v1h-39zM50 90h25v1h-25zM171 88h39v3h-39zM49 91h26v6h-26zM102 90h41v7h-41zM170 91h40v6h-40z"/><path fill="#ffba00" d="M111 80h11v1h-11zM180 80h23v1h-23zM65 80h6v2h-6zM110 81h12v1h-12zM180 81h30v1h-30zM110 82h13v1h-13zM64 82h8v2h-8zM110 83h14v1h-14zM135 83h2v1h-2zM64 84h9v1h-9zM110 84h29v1h-29zM62 85h12v1h-12zM110 85h30v1h-30zM179 82h31v4h-31zM110 86h31v1h-31zM176 86h34v1h-34zM61 86h13v2h-13zM109 87h32v1h-32zM173 87h37v1h-37zM60 88h14v1h-14zM106 88h35v1h-35zM52 89h22v1h-22zM104 89h38v1h-38zM102 90h40v1h-40zM171 88h39v3h-39zM50 90h25v2h-25zM49 92h26v5h-26zM102 91h41v6h-41zM170 91h40v6h-40z"/><path fill="#ffa900" d="M111 80h11v1h-11zM180 80h23v1h-23zM65 80h6v2h-6zM110 81h12v1h-12zM180 81h30v1h-30zM110 82h13v2h-13zM64 82h8v3h-8zM110 84h29v1h-29zM179 82h31v4h-31zM63 85h10v2h-10zM110 85h30v2h-30zM178 86h32v1h-32zM109 87h32v1h-32zM174 87h36v1h-36zM62 87h12v2h-12zM107 88h34v1h-34zM172 88h38v1h-38zM53 89h3v1h-3zM61 89h13v1h-13zM104 89h37v1h-37zM51 90h8v1h-8zM103 90h39v1h-39zM50 91h9v1h-9zM60 90h14v2h-14zM102 91h40v1h-40zM171 89h39v3h-39zM50 92h25v5h-25zM102 92h41v5h-41zM170 92h40v5h-40z"/><path fill="#ff9700" d="M111 80h10v1h-10zM180 80h22v1h-22zM65 80h6v2h-6zM111 81h11v1h-11zM180 81h30v1h-30zM110 82h13v2h-13zM64 82h8v3h-8zM110 84h15v1h-15zM132 84h6v1h-6zM110 85h29v1h-29zM179 82h31v5h-31zM64 85h9v3h-9zM110 86h30v2h-30zM176 87h34v1h-34zM109 88h32v1h-32zM173 88h37v1h-37zM63 88h11v2h-11zM105 89h36v1h-36zM172 89h38v1h-38zM51 90h6v1h-6zM104 90h37v1h-37zM50 91h8v1h-8zM62 90h12v2h-12zM50 92h9v5h-9zM61 92h13v5h-13zM102 91h40v6h-40zM171 90h39v7h-39z"/><path fill="#ff8600" d="M113 80h8v1h-8zM180 80h22v1h-22zM65 80h6v2h-6zM111 81h11v1h-11zM180 81h30v1h-30zM110 82h13v2h-13zM110 84h14v1h-14zM135 84h2v1h-2zM64 82h8v4h-8zM110 85h29v2h-29zM110 87h30v1h-30zM179 82h31v6h-31zM109 88h31v1h-31zM174 88h36v1h-36zM64 86h9v4h-9zM107 89h34v1h-34zM172 89h38v1h-38zM52 90h3v1h-3zM64 90h10v1h-10zM104 90h37v1h-37zM51 91h6v1h-6zM103 91h39v1h-39zM50 92h7v5h-7zM63 91h11v6h-11zM102 92h40v5h-40zM171 90h39v7h-39z"/><path fill="#ff7400" d="M115 80h6v1h-6zM180 80h22v1h-22zM65 80h6v2h-6zM111 81h11v1h-11zM180 81h30v1h-30zM110 82h12v1h-12zM110 83h13v2h-13zM110 85h28v1h-28zM110 86h29v1h-29zM64 82h8v6h-8zM179 82h31v6h-31zM110 87h30v2h-30zM176 88h34v1h-34zM108 89h32v1h-32zM173 89h37v1h-37zM53 90h1v1h-1zM64 88h9v3h-9zM105 90h36v1h-36zM172 90h38v1h-38zM51 91h5v1h-5zM104 91h37v1h-37zM50 92h7v5h-7zM64 91h10v6h-10zM103 92h38v5h-38zM171 91h39v6h-39z"/><path fill="#ff6300" d="M116 80h4v1h-4zM180 80h22v1h-22zM65 80h6v2h-6zM111 81h11v1h-11zM180 81h30v1h-30zM110 82h12v1h-12zM110 83h13v2h-13zM110 85h14v1h-14zM133 85h5v1h-5zM110 86h28v1h-28zM110 87h29v1h-29zM64 82h8v7h-8zM110 88h30v1h-30zM179 82h31v7h-31zM109 89h31v1h-31zM174 89h36v1h-36zM106 90h34v1h-34zM172 90h38v1h-38zM52 91h3v1h-3zM104 91h37v1h-37zM51 92h5v5h-5zM64 89h9v8h-9zM103 92h38v5h-38zM171 91h39v6h-39z"/><path fill="#ff5100" d="M117 80h2v1h-2zM180 80h21v1h-21zM65 80h6v2h-6zM111 81h11v1h-11zM180 81h30v1h-30zM110 82h12v1h-12zM110 83h13v3h-13zM136 85h1v1h-1zM110 86h15v1h-15zM132 86h6v1h-6zM110 87h28v1h-28zM110 88h29v1h-29zM179 82h31v7h-31zM64 82h8v8h-8zM110 89h30v1h-30zM177 89h33v1h-33zM108 90h32v1h-32zM173 90h37v1h-37zM53 91h1v1h-1zM105 91h35v1h-35zM172 91h38v1h-38zM51 92h4v5h-4zM64 90h9v7h-9zM104 92h37v5h-37zM171 92h39v5h-39z"/><path fill="#ff4000" d="M180 80h21v1h-21zM65 80h6v2h-6zM111 81h11v1h-11zM180 81h30v1h-30zM64 82h7v1h-7zM110 82h12v1h-12zM110 83h13v3h-13zM110 86h14v1h-14zM135 86h2v1h-2zM110 87h28v2h-28zM110 89h29v1h-29zM179 82h31v8h-31zM109 90h31v1h-31zM174 90h36v1h-36zM64 83h8v9h-8zM106 91h34v1h-34zM173 91h37v1h-37zM52 92h3v5h-3zM64 92h9v5h-9zM105 92h35v5h-35zM172 92h38v5h-38z"/><path fill="#ff2e00" d="M180 80h21v1h-21zM65 80h6v2h-6zM111 81h11v1h-11zM180 81h30v1h-30zM64 82h7v1h-7zM110 82h12v2h-12zM110 84h13v3h-13zM110 87h14v1h-14zM135 87h2v1h-2zM110 88h28v2h-28zM179 82h31v8h-31zM109 90h30v1h-30zM178 90h32v1h-32zM107 91h33v1h-33zM173 91h37v1h-37zM53 92h1v5h-1zM64 83h8v14h-8zM105 92h35v5h-35zM172 92h38v5h-38z"/><path fill="#ff1d00" d="M66 80h5v1h-5zM182 80h19v1h-19zM65 81h6v1h-6zM111 81h11v1h-11zM180 81h25v1h-25zM180 82h30v1h-30zM64 82h7v2h-7zM110 82h12v2h-12zM110 84h13v4h-13zM110 88h15v1h-15zM134 88h3v1h-3zM110 89h28v2h-28zM179 83h31v8h-31zM109 91h30v1h-30zM174 91h36v1h-36zM64 84h8v13h-8zM106 92h33v5h-33zM173 92h37v5h-37z"/><path fill="#f60b00" d="M66 80h4v1h-4zM183 80h18v1h-18zM65 81h6v1h-6zM111 81h11v1h-11zM180 81h25v1h-25zM180 82h30v1h-30zM64 82h7v3h-7zM110 82h12v3h-12zM110 85h13v4h-13zM110 89h15v1h-15zM132 89h5v1h-5zM110 90h28v1h-28zM109 91h29v1h-29zM179 83h31v9h-31zM64 85h8v12h-8zM108 92h31v5h-31zM173 92h37v5h-37z"/><path fill="#e00000" d="M66 80h4v1h-4zM183 80h17v1h-17zM65 81h6v1h-6zM111 81h11v1h-11zM180 81h25v1h-25zM180 82h30v1h-30zM64 82h7v3h-7zM110 82h12v3h-12zM110 85h13v4h-13zM110 89h14v1h-14zM110 90h27v1h-27zM110 91h28v1h-28zM179 83h31v9h-31zM64 85h8v12h-8zM109 92h29v5h-29zM174 92h36v5h-36z"/><path fill="#cb0000" d="M67 80h3v1h-3zM184 80h16v1h-16zM65 81h6v1h-6zM111 81h11v1h-11zM180 81h25v1h-25zM180 82h30v2h-30zM110 82h12v4h-12zM64 82h7v5h-7zM110 86h13v4h-13zM110 90h14v1h-14zM110 91h27v1h-27zM64 87h8v10h-8zM109 92h29v5h-29zM179 84h31v13h-31z"/><path fill="#b50000" d="M67 80h2v1h-2zM184 80h16v1h-16zM111 81h11v1h-11zM180 81h25v1h-25zM65 81h6v2h-6zM180 82h30v3h-30zM110 82h12v5h-12zM64 83h7v5h-7zM110 87h13v4h-13zM110 91h15v1h-15zM64 88h8v9h-8zM110 92h27v5h-27zM179 85h31v12h-31z"/><path fill="#a00000" d="M185 80h15v1h-15zM111 81h11v1h-11zM180 81h25v1h-25zM65 81h6v2h-6zM180 82h30v3h-30zM110 82h12v6h-12zM64 83h7v7h-7zM110 88h13v4h-13zM64 90h8v7h-8zM110 92h14v5h-14zM179 85h31v12h-31z"/><path fill="#8a0000" d="M185 80h14v1h-14zM111 81h11v1h-11zM180 81h25v1h-25zM65 81h6v3h-6zM180 82h30v4h-30zM110 82h12v7h-12zM64 84h7v7h-7zM64 91h8v6h-8zM110 89h13v8h-13zM179 86h31v11h-31z"/></g></g></g>
<text x="25.4" y="95.8" text-anchor="end" font-size="6.45">0</text>
<text x="25.4" y="78.9" text-anchor="end" font-size="6.45">10</text>
<text x="25.4" y="62.0" text-anchor="end" font-size="6.45">20</text>
<text x="25.4" y="45.2" text-anchor="end" font-size="6.45">30</text>
<text x="25.4" y="28.3" text-anchor="end" font-size="6.45">40</text>
<text x="25.4" y="11.4" text-anchor="end" font-size="6.45">50</text>
<text transform="translate(15.2 53.0) rotate(-90)" text-anchor="middle" font-size="6.45">Hz</text>
<text x="28.2" y="101.4" text-anchor="middle" font-size="6.45">4.0</text>
<text x="56.8" y="101.4" text-anchor="middle" font-size="6.45">4.5</text>
<text x="85.4" y="101.4" text-anchor="middle" font-size="6.45">5.0</text>
<text x="114.0" y="101.4" text-anchor="middle" font-size="6.45">5.5</text>
<text x="142.6" y="101.4" text-anchor="middle" font-size="6.45">6.0</text>
<text x="171.2" y="101.4" text-anchor="middle" font-size="6.45">6.5</text>
<text x="199.8" y="101.4" text-anchor="middle" font-size="6.45">7.0</text>
<rect x="207.8" y="9.2" width="9.9" height="84.4" fill="url(#jet)"/>
<path d="M217.7 87.0h1.6" stroke="#555" stroke-width=".5"/>
<text x="220.9" y="89.3" font-size="6.45">0</text>
<path d="M217.7 67.5h1.6" stroke="#555" stroke-width=".5"/>
<text x="220.9" y="69.8" font-size="6.45">5</text>
<path d="M217.7 48.1h1.6" stroke="#555" stroke-width=".5"/>
<text x="220.9" y="50.4" font-size="6.45">10</text>
<path d="M217.7 28.6h1.6" stroke="#555" stroke-width=".5"/>
<text x="220.9" y="30.9" font-size="6.45">15</text>
<path d="M217.7 9.2h1.6" stroke="#555" stroke-width=".5"/>
<text x="220.9" y="11.5" font-size="6.45">20</text>
<text x="120.0" y="108.9" text-anchor="middle" font-size="6.8">Butterworth 2nd Order Filtered Signal Between 0.5-100 Hz</text>
<rect x="28.2" y="112.0" width="183.0" height="83.8" fill="#eaeaf2"/>
<text x="28.2" y="204.2" text-anchor="middle" font-size="6.45">4.0</text>
<text x="56.8" y="204.2" text-anchor="middle" font-size="6.45">4.5</text>
<text x="85.4" y="204.2" text-anchor="middle" font-size="6.45">5.0</text>
<text x="114.0" y="204.2" text-anchor="middle" font-size="6.45">5.5</text>
<text x="142.6" y="204.2" text-anchor="middle" font-size="6.45">6.0</text>
<text x="171.2" y="204.2" text-anchor="middle" font-size="6.45">6.5</text>
<text x="199.8" y="204.2" text-anchor="middle" font-size="6.45">7.0</text>
<text x="25.0" y="188.8" text-anchor="end" font-size="6.45">−50</text>
<text x="25.0" y="161.8" text-anchor="end" font-size="6.45">0</text>
<text x="25.0" y="134.8" text-anchor="end" font-size="6.45">50</text>
<path d="M28.2 112.0V195.8M56.8 112.0V195.8M85.4 112.0V195.8M114.0 112.0V195.8M142.6 112.0V195.8M171.2 112.0V195.8M199.8 112.0V195.8M28.2 186.6H211.2M28.2 159.6H211.2M28.2 132.6H211.2" stroke="#fff" stroke-width=".45" stroke-opacity=".6" fill="none"/>
<polyline points="28.2,156.7 28.5,149.8 28.9,147.4 29.2,150.9 29.5,146.5 29.8,147 30.2,148 30.5,151.8 30.8,152.4 31.1,152.3 31.5,156 31.8,155.6 32.1,158.8 32.4,155.4 32.8,156.9 33.1,158.6 33.4,161.1 33.7,157.9 34.1,163.4 34.4,165.1 34.7,157.5 35.1,155.4 35.4,159.1 35.7,162.9 36,159.3 36.4,160.1 36.7,160.4 37,157.8 37.3,163.1 37.7,161.5 38,162.9 38.3,167.9 38.6,167.9 39,164.4 39.3,162.2 39.6,164.6 40,159.4 40.3,165.3 40.6,167.1 40.9,167.6 41.3,166.6 41.6,168.8 41.9,164.7 42.2,166.2 42.6,161.7 42.9,169.3 43.2,169.5 43.5,166.6 43.9,170.3 44.2,163.7 44.5,169.9 44.8,166 45.2,165.5 45.5,162.2 45.8,160.4 46.2,161 46.5,165.9 46.8,161.1 47.1,165.4 47.5,169.6 47.8,171.2 48.1,168.5 48.4,167.4 48.8,167.5 49.1,172.3 49.4,171.8 49.7,167.2 50.1,166.1 50.4,164.7 50.7,172.3 51,174.1 51.4,169.4 51.7,172.7 52,174 52.4,167.4 52.7,173.9 53,169 53.3,173.4 53.7,166.9 54,170.6 54.3,167 54.6,168.4 55,177.5 55.3,170.8 55.6,171.8 55.9,171.1 56.3,169.6 56.6,169.6 56.9,169.1 57.3,171.7 57.6,173.5 57.9,169.3 58.2,167 58.6,173.3 58.9,166.9 59.2,171.2 59.5,170.5 59.9,169.7 60.2,170.9 60.5,174.4 60.8,172.6 61.2,170.6 61.5,176.9 61.8,171.6 62.1,172.2 62.5,172.6 62.8,170.1 63.1,169.5 63.5,170.3 63.8,174.4 64.1,175.3 64.4,169.3 64.8,167.3 65.1,165.4 65.4,162.9 65.7,165.7 66.1,154.5 66.4,153.1 66.7,151.3 67,140.6 67.4,137.7 67.7,122.2 68,128.2 68.3,127.2 68.7,127.9 69,131.5 69.3,126.3 69.7,131.4 70,128.2 70.3,130 70.6,137.7 71,138.3 71.3,135.7 71.6,137.7 71.9,143.8 72.3,141.2 72.6,143 72.9,139.6 73.2,140.3 73.6,142.7 73.9,150.6 74.2,150.8 74.6,147.8 74.9,152.4 75.2,147.3 75.5,154 75.9,156.9 76.2,157.1 76.5,159.2 76.8,163.5 77.2,156.3 77.5,162.9 77.8,163.8 78.1,163.7 78.5,166.1 78.8,167.6 79.1,159.2 79.4,167.4 79.8,161.6 80.1,165.3 80.4,162.9 80.8,162.8 81.1,160.6 81.4,167.7 81.7,161.7 82.1,173.1 82.4,170 82.7,167.5 83,176.2 83.4,170.1 83.7,169.7 84,175.1 84.3,168 84.7,168.9 85,165.5 85.3,159.9 85.6,164.3 86,166.3 86.3,167.5 86.6,168.8 87,165.8 87.3,163.9 87.6,162.9 87.9,166.7 88.3,161.3 88.6,166 88.9,166.9 89.2,166.6 89.6,163.2 89.9,164.2 90.2,157.3 90.5,159.8 90.9,155.7 91.2,153 91.5,160.4 91.9,158.1 92.2,161.3 92.5,156.8 92.8,161.7 93.2,154.3 93.5,157.3 93.8,162.2 94.1,158.5 94.5,162 94.8,159.6 95.1,155.6 95.4,155 95.8,162.2 96.1,156.7 96.4,158.4 96.7,155.6 97.1,158.5 97.4,155.3 97.7,160.8 98.1,155.6 98.4,158.6 98.7,156 99,157.5 99.4,153.5 99.7,152 100,157.1 100.3,144.8 100.7,151.6 101,152.3 101.3,153.7 101.6,156.4 102,156.9 102.3,154.3 102.6,152.3 102.9,156.1 103.3,153.6 103.6,150.9 103.9,150 104.3,151.8 104.6,148.9 104.9,150.1 105.2,144.8 105.6,143.6 105.9,153.7 106.2,148.9 106.5,151.3 106.9,147.7 107.2,151.7 107.5,150.5 107.8,144.8 108.2,145.1 108.5,144.6 108.8,150.2 109.2,142.1 109.5,146.3 109.8,146 110.1,142.2 110.5,138.5 110.8,138.6 111.1,141.4 111.4,137.3 111.8,131.9 112.1,140.6 112.4,133.6 112.7,125.3 113.1,130.6 113.4,135 113.7,125.8 114,130.8 114.4,130.3 114.7,126.5 115,127.8 115.4,128.1 115.7,129.4 116,126.4 116.3,130.7 116.7,128.3 117,134.1 117.3,138.4 117.6,136.2 118,139.1 118.3,149.2 118.6,142.3 118.9,148.9 119.3,148.9 119.6,152.3 119.9,149.9 120.3,151.2 120.6,156.4 120.9,161.5 121.2,163.6 121.6,164.4 121.9,161.9 122.2,166.7 122.5,169.5 122.9,164.4 123.2,174.2 123.5,169.6 123.8,177.3 124.2,175.7 124.5,179.3 124.8,178.9 125.1,180.4 125.5,182.5 125.8,178 126.1,178.7 126.5,178.9 126.8,170.2 127.1,170.9 127.4,175.6 127.8,176.8 128.1,175.8 128.4,180.5 128.7,176.5 129.1,180 129.4,175.7 129.7,177.6 130,177.4 130.4,176.7 130.7,173 131,177.8 131.3,177.2 131.7,171.8 132,177.2 132.3,172.6 132.7,170.2 133,170.4 133.3,172.8 133.6,170.8 134,170.5 134.3,175.1 134.6,177.9 134.9,170.1 135.3,169.3 135.6,171.4 135.9,172.5 136.2,174.3 136.6,174.3 136.9,170.6 137.2,174.9 137.6,174.1 137.9,168.9 138.2,163.8 138.5,160.8 138.9,174.8 139.2,168.3 139.5,168.4 139.8,167.6 140.2,165.3 140.5,171.1 140.8,170.6 141.1,170 141.5,170.7 141.8,176.3 142.1,173.6 142.4,175.2 142.8,168.6 143.1,168 143.4,168.1 143.8,163.6 144.1,168.7 144.4,162.9 144.7,166 145.1,165.3 145.4,167.9 145.7,166.3 146,165.5 146.4,168.2 146.7,169.1 147,166.7 147.3,166.8 147.7,170.6 148,166.3 148.3,171.1 148.6,162 149,166.1 149.3,162.3 149.6,170.8 150,167 150.3,168.8 150.6,162.6 150.9,163.6 151.3,152.7 151.6,160.2 151.9,163.6 152.2,159.4 152.6,164.3 152.9,165.5 153.2,160 153.5,166.5 153.9,160.2 154.2,160.1 154.5,159.2 154.9,164.1 155.2,163.6 155.5,165.4 155.8,164.6 156.2,165.7 156.5,165.4 156.8,166.6 157.1,165.4 157.5,171.3 157.8,163.1 158.1,164.6 158.4,167.8 158.8,165.2 159.1,166.6 159.4,165.9 159.7,165.9 160.1,169 160.4,165.6 160.7,169 161.1,166.6 161.4,171.1 161.7,164.8 162,163.7 162.4,162.8 162.7,159.2 163,165.9 163.3,166.1 163.7,164.1 164,163.1 164.3,168.2 164.6,161.6 165,165.4 165.3,165.2 165.6,158.3 165.9,164.3 166.3,163 166.6,162.1 166.9,159.3 167.3,163.5 167.6,164.8 167.9,163.7 168.2,164.4 168.6,163.3 168.9,171.7 169.2,168.8 169.5,165.3 169.9,165.6 170.2,171.6 170.5,165.2 170.8,167.7 171.2,168.6 171.5,170.2 171.8,169.3 172.2,168.5 172.5,168 172.8,174.5 173.1,173 173.5,174.9 173.8,172.3 174.1,176.7 174.4,170.9 174.8,173.3 175.1,172.1 175.4,172.5 175.7,174.2 176.1,174.7 176.4,178.5 176.7,175.2 177,174 177.4,174.9 177.7,173.6 178,174.7 178.4,182.6 178.7,180.7 179,180.7 179.3,184.5 179.7,179.7 180,184.6 180.3,179.9 180.6,182.6 181,184.9 181.3,187.5 181.6,183.7 181.9,183 182.3,183.2 182.6,186.5 182.9,183.2 183.2,186.1 183.6,180.9 183.9,188.6 184.2,183 184.6,186.2 184.9,184 185.2,186.9 185.5,183.9 185.9,181.6 186.2,183.9 186.5,182.4 186.8,183.9 187.2,181.2 187.5,177.7 187.8,180.2 188.1,172.6 188.5,167.3 188.8,163 189.1,162.5 189.5,162.7 189.8,154.2 190.1,153.4 190.4,146.5 190.8,148.3 191.1,135.3 191.4,130.1 191.7,122.5 192.1,123.7 192.4,126.2 192.7,118.9 193,127.2 193.4,112.5 193.7,112.5 194,117.3 194.3,121.5 194.7,120.2 195,120.9 195.3,124.1 195.7,123.9 196,125 196.3,131.3 196.6,129.3 197,132.8 197.3,131.2 197.6,129.8 197.9,138.2 198.3,134.1 198.6,130.4 198.9,137.2 199.2,139.2 199.6,137.5 199.9,134 200.2,141.5 200.5,137.2 200.9,145.5 201.2,133.3 201.5,137.4 201.9,133.1 202.2,140.8 202.5,138.5 202.8,133.5 203.2,145.6 203.5,141 203.8,151.1 204.1,152.1 204.5,143.4 204.8,144.4 205.1,146.3 205.4,146.9 205.8,148.4 206.1,149.7 206.4,152.2 206.8,150.9 207.1,154.6 207.4,151.5 207.7,151.8 208.1,154.7 208.4,158.4 208.7,164.5 209,157.3 209.4,158.1 209.7,162.4 210,157.3 210.3,158.2 210.7,160.2" fill="none" stroke="#1f77b4" stroke-width=".75" stroke-linejoin="round"/>
<text x="119.7" y="211.2" text-anchor="middle" font-size="6.45">s</text>
<text transform="translate(9.7 154.4) rotate(-90)" text-anchor="middle" font-size="6.45" font-style="italic">μV</text>
<rect x="31.0" y="115.3" width="36.5" height="13.0" rx="1.2" fill="#eaeaf2" fill-opacity=".8" stroke="#d2d2da" stroke-width=".6"/>
<path d="M34.0 121.8h15" stroke="#1f77b4" stroke-width=".6"/>
<text x="55.2" y="124.4" font-size="7.3">F1</text></g>
<g><text x="351.0" y="6.2" text-anchor="middle" font-size="6.8">STFT of FT7 Channel Blink and Look Right</text>
<clipPath id="cFT7"><rect x="259.3" y="9.2" width="179.7" height="84.4"/></clipPath><g clip-path="url(#cFT7)"><g filter="url(#bl)"><g shape-rendering="crispEdges"><rect x="256" y="6" width="186" height="91" fill="#000eff"/><path fill="#0021ff" d="M260 6h14v3h-14zM259 9h15v1h-15zM306 6h28v4h-28zM277 6h28v5h-28zM256 10h18v2h-18zM341 6h83v6h-83zM256 12h19v1h-19zM276 11h28v2h-28zM307 10h27v3h-27zM342 12h82v2h-82zM256 13h48v2h-48zM308 13h26v2h-26zM343 14h81v1h-81zM309 15h25v1h-25zM344 15h80v1h-80zM309 16h3v1h-3zM314 16h20v1h-20zM256 15h31v3h-31zM288 15h15v3h-15zM308 17h4v1h-4zM314 17h21v2h-21zM374 16h50v3h-50zM425 6h17v13h-17zM308 18h3v2h-3zM314 19h22v1h-22zM314 20h24v1h-24zM344 16h29v5h-29zM307 20h4v2h-4zM343 21h30v1h-30zM256 18h48v5h-48zM306 22h5v1h-5zM314 21h25v2h-25zM342 22h31v1h-31zM314 23h59v1h-59zM314 24h38v1h-38zM353 24h20v1h-20zM374 19h68v6h-68zM256 23h55v6h-55zM256 29h56v5h-56zM256 34h57v3h-57zM314 25h128v12h-128zM256 37h186v55h-186zM256 92h49v5h-49zM306 92h136v5h-136z"/><path fill="#0034ff" d="M317 6h2v3h-2zM395 6h11v4h-11zM377 6h2v5h-2zM264 6h5v6h-5zM348 11h1v1h-1zM395 10h10v2h-10zM316 9h3v4h-3zM326 6h1v7h-1zM395 12h9v1h-9zM326 13h2v1h-2zM361 6h8v8h-8zM326 14h3v1h-3zM385 6h5v9h-5zM264 12h4v4h-4zM347 12h3v4h-3zM412 15h1v1h-1zM264 16h3v1h-3zM395 13h8v4h-8zM265 17h2v1h-2zM316 13h4v5h-4zM326 15h4v3h-4zM395 17h7v1h-7zM411 16h3v2h-3zM360 14h9v5h-9zM411 18h4v1h-4zM429 6h1v13h-1zM384 15h6v5h-6zM410 19h6v2h-6zM432 20h1v1h-1zM326 18h5v4h-5zM383 20h7v2h-7zM394 18h8v4h-8zM431 21h5v1h-5zM317 18h3v5h-3zM382 22h9v1h-9zM393 22h9v1h-9zM410 21h7v2h-7zM431 22h7v1h-7zM273 23h2v1h-2zM325 22h6v2h-6zM361 19h8v5h-8zM317 23h2v2h-2zM262 23h1v3h-1zM272 24h4v2h-4zM318 25h1v1h-1zM325 24h7v2h-7zM346 16h4v10h-4zM381 23h10v3h-10zM393 23h8v3h-8zM271 26h5v1h-5zM381 26h20v1h-20zM324 26h8v2h-8zM346 26h3v2h-3zM380 27h21v1h-21zM410 23h8v5h-8zM431 23h11v5h-11zM322 28h10v1h-10zM292 29h2v1h-2zM292 30h3v1h-3zM321 29h11v2h-11zM410 28h9v3h-9zM430 28h12v3h-12zM347 28h2v4h-2zM361 24h7v8h-7zM362 32h6v1h-6zM380 28h22v5h-22zM431 31h11v2h-11zM291 31h4v3h-4zM387 33h15v1h-15zM380 33h6v3h-6zM388 34h14v2h-14zM271 27h6v10h-6zM291 34h5v3h-5zM347 32h1v5h-1zM411 31h8v6h-8zM270 37h7v1h-7zM346 37h2v1h-2zM380 36h5v2h-5zM345 38h3v1h-3zM380 38h4v1h-4zM389 36h13v3h-13zM320 31h12v9h-12zM335 39h1v1h-1zM344 39h4v1h-4zM411 37h9v3h-9zM430 33h12v7h-12zM271 38h6v3h-6zM320 40h11v1h-11zM334 40h2v1h-2zM344 40h5v1h-5zM379 39h5v2h-5zM379 41h4v1h-4zM412 40h8v2h-8zM430 40h9v2h-9zM290 37h6v6h-6zM319 41h12v2h-12zM343 41h6v2h-6zM411 42h9v1h-9zM283 43h2v1h-2zM320 43h11v1h-11zM334 41h3v3h-3zM378 42h5v2h-5zM390 39h12v5h-12zM411 43h10v1h-10zM423 43h4v1h-4zM429 42h9v2h-9zM261 42h2v3h-2zM271 41h5v4h-5zM282 44h4v1h-4zM334 44h4v1h-4zM342 43h7v2h-7zM391 44h11v1h-11zM261 45h3v1h-3zM334 45h5v1h-5zM341 45h8v1h-8zM378 44h4v2h-4zM410 44h28v2h-28zM271 45h4v2h-4zM281 45h5v2h-5zM319 44h12v3h-12zM334 46h15v1h-15zM361 33h7v14h-7zM260 46h4v2h-4zM271 47h3v1h-3zM334 47h16v1h-16zM410 46h27v2h-27zM270 48h3v1h-3zM281 47h6v2h-6zM290 43h7v6h-7zM377 46h5v3h-5zM392 45h10v4h-10zM260 48h5v2h-5zM290 49h8v1h-8zM377 49h4v1h-4zM361 47h6v4h-6zM377 50h5v1h-5zM260 50h6v2h-6zM270 49h2v3h-2zM319 47h11v5h-11zM362 51h5v1h-5zM393 49h9v3h-9zM291 50h7v3h-7zM318 52h12v1h-12zM393 52h10v1h-10zM291 53h8v1h-8zM333 48h17v6h-17zM393 53h11v1h-11zM292 54h9v1h-9zM317 53h13v2h-13zM362 52h6v3h-6zM393 54h12v1h-12zM392 55h13v1h-13zM409 48h28v8h-28zM292 55h10v2h-10zM316 55h14v2h-14zM293 57h9v1h-9zM333 54h18v4h-18zM362 55h7v3h-7zM260 52h12v7h-12zM280 49h7v10h-7zM333 58h19v1h-19zM259 59h13v1h-13zM334 59h23v2h-23zM362 58h8v3h-8zM409 56h27v5h-27zM279 59h8v3h-8zM315 57h15v5h-15zM409 61h21v1h-21zM431 61h5v1h-5zM279 62h9v1h-9zM293 58h10v5h-10zM314 62h16v1h-16zM335 61h22v2h-22zM392 56h14v7h-14zM409 62h20v1h-20zM432 62h4v1h-4zM362 61h9v3h-9zM432 63h3v1h-3zM278 63h10v2h-10zM292 63h11v2h-11zM335 63h23v2h-23zM392 63h15v2h-15zM277 65h11v1h-11zM291 65h5v1h-5zM314 63h17v3h-17zM400 65h7v1h-7zM276 66h13v1h-13zM290 66h6v1h-6zM310 66h22v1h-22zM376 51h6v16h-6zM401 66h6v1h-6zM408 63h21v4h-21zM276 67h20v1h-20zM309 67h23v1h-23zM336 65h22v3h-22zM392 65h7v3h-7zM401 67h28v1h-28zM309 68h24v1h-24zM335 68h23v1h-23zM401 68h29v1h-29zM275 68h21v2h-21zM297 65h6v5h-6zM392 68h8v2h-8zM401 69h30v1h-30zM274 70h30v1h-30zM308 69h25v2h-25zM335 69h24v2h-24zM362 64h10v7h-10zM403 70h35v1h-35zM308 71h26v1h-26zM335 71h8v1h-8zM344 71h15v1h-15zM404 71h38v1h-38zM256 60h16v13h-16zM307 72h27v2h-27zM335 72h25v2h-25zM361 71h11v3h-11zM273 71h31v4h-31zM306 74h66v1h-66zM273 75h32v1h-32zM306 75h67v1h-67zM375 67h6v10h-6zM392 70h9v7h-9zM272 76h101v3h-101zM374 77h7v2h-7zM392 77h10v2h-10zM256 73h15v7h-15zM272 79h109v1h-109zM391 79h11v1h-11zM405 72h37v8h-37zM256 80h186v8h-186zM271 88h34v1h-34zM256 88h14v9h-14zM271 89h33v8h-33zM306 88h136v9h-136z"/><path fill="#0047ff" d="M364 6h2v4h-2zM396 6h7v6h-7zM363 10h4v4h-4zM396 12h6v3h-6zM362 14h6v5h-6zM396 15h5v5h-5zM396 20h4v3h-4zM362 19h5v6h-5zM396 23h3v3h-3zM328 26h1v1h-1zM327 27h2v1h-2zM273 28h1v1h-1zM363 25h4v4h-4zM396 26h4v3h-4zM414 28h1v1h-1zM434 28h1v1h-1zM273 29h2v1h-2zM414 29h2v1h-2zM433 29h3v2h-3zM363 29h3v3h-3zM433 31h4v1h-4zM272 30h3v3h-3zM327 28h3v5h-3zM433 32h5v1h-5zM364 32h2v2h-2zM272 33h4v2h-4zM326 33h4v2h-4zM414 30h3v5h-3zM325 35h5v2h-5zM324 37h6v1h-6zM413 35h4v3h-4zM432 33h5v6h-5zM272 35h3v5h-3zM363 34h3v6h-3zM273 40h1v1h-1zM364 40h2v1h-2zM431 39h6v2h-6zM364 41h1v1h-1zM414 38h3v4h-3zM293 41h1v2h-1zM322 38h8v6h-8zM413 42h4v3h-4zM292 43h3v4h-3zM345 46h1v1h-1zM395 29h5v19h-5zM412 45h5v3h-5zM283 47h1v2h-1zM424 48h3v1h-3zM293 47h2v3h-2zM395 48h4v2h-4zM423 49h4v1h-4zM431 41h5v9h-5zM322 44h7v7h-7zM431 50h4v2h-4zM282 49h3v4h-3zM422 50h6v3h-6zM282 53h4v1h-4zM323 51h6v3h-6zM379 54h1v1h-1zM394 50h5v5h-5zM411 48h5v7h-5zM263 55h3v1h-3zM432 52h3v4h-3zM263 56h4v1h-4zM319 56h2v1h-2zM324 54h4v3h-4zM318 57h3v1h-3zM339 57h1v1h-1zM344 47h3v11h-3zM378 55h2v3h-2zM433 56h1v2h-1zM262 57h6v2h-6zM318 58h4v1h-4zM325 57h3v2h-3zM338 58h2v1h-2zM345 58h2v1h-2zM379 58h1v1h-1zM421 53h7v6h-7zM325 59h2v1h-2zM326 60h1v1h-1zM338 59h3v2h-3zM345 59h3v2h-3zM317 59h5v3h-5zM378 59h2v3h-2zM411 55h4v7h-4zM365 61h1v2h-1zM378 62h1v1h-1zM281 54h5v10h-5zM317 62h6v2h-6zM346 61h3v3h-3zM364 63h2v1h-2zM394 55h4v9h-4zM281 64h6v2h-6zM346 64h4v2h-4zM364 64h3v2h-3zM280 66h7v1h-7zM346 66h5v1h-5zM411 62h3v5h-3zM278 67h9v1h-9zM346 67h6v1h-6zM411 67h2v1h-2zM420 59h8v9h-8zM277 68h11v1h-11zM312 68h1v1h-1zM346 68h7v1h-7zM418 68h10v1h-10zM256 68h4v2h-4zM262 59h7v11h-7zM276 69h12v1h-12zM310 69h5v1h-5zM316 64h7v6h-7zM346 69h8v1h-8zM364 66h4v4h-4zM394 64h3v6h-3zM416 69h13v1h-13zM276 70h13v1h-13zM346 70h9v1h-9zM395 70h2v1h-2zM412 68h1v3h-1zM414 70h16v1h-16zM275 71h14v1h-14zM291 71h4v1h-4zM310 70h12v2h-12zM345 71h11v1h-11zM275 72h23v1h-23zM309 72h13v1h-13zM337 61h5v12h-5zM413 71h18v2h-18zM275 73h25v1h-25zM318 73h4v1h-4zM364 70h5v4h-5zM395 71h1v3h-1zM319 74h3v1h-3zM345 72h12v3h-12zM256 70h13v6h-13zM275 74h26v2h-26zM309 73h8v3h-8zM413 73h19v3h-19zM413 76h20v1h-20zM274 76h27v2h-27zM395 76h1v2h-1zM412 77h22v1h-22zM363 74h7v5h-7zM411 78h23v1h-23zM256 76h12v4h-12zM275 78h25v2h-25zM308 76h9v4h-9zM336 73h6v7h-6zM345 75h13v5h-13zM362 79h9v1h-9zM395 78h2v2h-2zM410 79h25v1h-25zM272 80h31v1h-31zM256 80h13v2h-13zM272 81h32v1h-32zM271 82h34v4h-34zM256 82h14v6h-14zM271 86h33v3h-33zM256 88h13v9h-13zM272 89h32v8h-32zM306 80h136v17h-136z"/><path fill="#005aff" d="M397 6h5v4h-5zM397 10h4v1h-4zM365 13h1v1h-1zM398 11h3v3h-3zM398 14h2v4h-2zM399 18h1v1h-1zM364 14h2v11h-2zM364 25h1v1h-1zM397 32h1v3h-1zM327 37h1v2h-1zM433 38h1v1h-1zM397 35h2v6h-2zM433 39h2v4h-2zM397 41h1v4h-1zM326 39h2v9h-2zM325 48h3v2h-3zM433 43h1v8h-1zM326 50h1v3h-1zM424 52h2v1h-2zM283 52h1v4h-1zM423 53h4v3h-4zM412 55h1v4h-1zM264 59h2v1h-2zM422 56h5v4h-5zM282 56h3v6h-3zM319 61h1v1h-1zM264 60h3v3h-3zM339 62h1v2h-1zM421 60h6v4h-6zM264 63h4v2h-4zM283 62h2v3h-2zM338 64h2v1h-2zM282 65h4v2h-4zM421 64h7v3h-7zM282 67h5v1h-5zM279 68h8v1h-8zM318 62h3v7h-3zM420 67h8v2h-8zM263 65h5v5h-5zM277 69h10v1h-10zM319 69h1v1h-1zM347 69h4v1h-4zM418 69h10v1h-10zM263 70h4v1h-4zM311 70h3v1h-3zM347 70h7v1h-7zM416 70h13v1h-13zM310 71h4v1h-4zM347 71h8v1h-8zM415 71h15v1h-15zM276 70h12v3h-12zM292 72h3v1h-3zM415 72h16v1h-16zM262 71h5v3h-5zM275 73h14v1h-14zM291 73h6v1h-6zM346 72h10v2h-10zM256 74h3v1h-3zM310 72h5v3h-5zM256 75h4v1h-4zM261 74h6v2h-6zM275 74h24v2h-24zM275 76h25v1h-25zM275 77h24v2h-24zM338 65h3v14h-3zM346 74h11v5h-11zM256 76h11v4h-11zM275 79h13v1h-13zM291 79h7v1h-7zM309 75h7v5h-7zM338 79h2v1h-2zM346 79h10v1h-10zM414 73h17v7h-17zM274 80h28v1h-28zM308 80h8v1h-8zM323 80h119v1h-119zM256 80h12v2h-12zM272 81h31v1h-31zM307 81h10v1h-10zM321 81h121v1h-121zM306 82h136v7h-136zM256 82h13v8h-13zM317 89h125v1h-125zM272 82h32v9h-32zM318 90h124v1h-124zM256 90h12v7h-12zM272 91h31v6h-31zM307 89h9v8h-9zM319 91h123v6h-123z"/><path fill="#006dff" d="M398 6h2v4h-2zM399 10h1v4h-1zM424 55h1v1h-1zM424 56h2v1h-2zM283 58h1v1h-1zM423 57h3v2h-3zM422 59h5v4h-5zM283 66h2v1h-2zM283 67h3v1h-3zM265 66h1v3h-1zM282 68h4v1h-4zM421 63h6v6h-6zM264 69h2v1h-2zM279 69h8v1h-8zM419 69h9v1h-9zM277 70h10v1h-10zM348 70h4v1h-4zM417 70h12v1h-12zM263 70h3v2h-3zM277 71h11v1h-11zM312 71h1v1h-1zM347 71h7v1h-7zM416 71h14v1h-14zM263 72h4v1h-4zM311 72h3v1h-3zM347 72h8v1h-8zM292 73h4v1h-4zM310 73h4v1h-4zM415 72h15v2h-15zM291 74h7v1h-7zM290 75h8v1h-8zM276 72h12v5h-12zM290 76h9v1h-9zM339 66h1v11h-1zM262 73h5v5h-5zM275 77h13v1h-13zM290 77h8v1h-8zM291 78h7v1h-7zM346 73h10v6h-10zM415 74h16v5h-16zM261 78h6v2h-6zM276 78h12v2h-12zM292 79h5v1h-5zM310 74h5v6h-5zM347 79h9v1h-9zM415 79h15v1h-15zM256 80h11v1h-11zM275 80h26v1h-26zM308 80h8v1h-8zM325 80h117v1h-117zM273 81h30v1h-30zM323 81h119v1h-119zM272 82h31v7h-31zM256 81h12v16h-12zM273 89h30v8h-30zM307 81h9v16h-9zM322 82h120v15h-120z"/><path fill="#0080ff" d="M424 58h1v1h-1zM423 59h3v2h-3zM422 61h4v2h-4zM422 63h5v3h-5zM283 68h3v1h-3zM421 66h6v3h-6zM282 69h4v1h-4zM420 69h7v1h-7zM278 70h9v1h-9zM418 70h10v1h-10zM348 71h5v1h-5zM417 71h12v1h-12zM263 72h2v1h-2zM277 71h10v2h-10zM312 72h1v1h-1zM347 72h8v2h-8zM416 72h14v2h-14zM263 73h3v2h-3zM292 74h4v1h-4zM311 73h3v2h-3zM347 74h9v1h-9zM310 75h4v1h-4zM346 75h10v2h-10zM276 73h12v5h-12zM291 75h7v3h-7zM292 78h5v1h-5zM347 77h9v2h-9zM415 74h15v5h-15zM262 75h4v5h-4zM276 78h11v2h-11zM293 79h2v1h-2zM310 76h5v4h-5zM347 79h8v1h-8zM416 79h14v1h-14zM275 80h26v1h-26zM309 80h6v1h-6zM326 80h116v1h-116zM256 80h11v2h-11zM274 81h28v1h-28zM308 81h8v1h-8zM307 82h9v7h-9zM323 81h119v8h-119zM256 82h12v15h-12zM273 82h30v15h-30zM307 89h8v8h-8zM322 89h120v8h-120z"/><path fill="#0092ff" d="M423 60h2v1h-2zM423 61h3v1h-3zM422 62h4v5h-4zM422 67h5v1h-5zM283 69h3v1h-3zM421 68h6v2h-6zM282 70h4v1h-4zM418 70h10v1h-10zM278 71h9v1h-9zM349 71h4v1h-4zM417 71h12v1h-12zM348 72h6v1h-6zM416 72h13v1h-13zM277 72h10v2h-10zM312 73h1v1h-1zM293 74h2v1h-2zM347 73h8v2h-8zM263 74h2v2h-2zM311 74h3v2h-3zM292 75h5v3h-5zM347 75h9v3h-9zM263 76h3v3h-3zM292 78h4v1h-4zM263 79h2v1h-2zM276 74h11v6h-11zM310 76h4v4h-4zM347 78h8v2h-8zM416 73h14v7h-14zM275 80h25v1h-25zM309 80h6v1h-6zM328 80h114v1h-114zM275 81h27v1h-27zM324 81h118v1h-118zM274 82h28v1h-28zM273 83h29v6h-29zM256 80h11v17h-11zM274 89h28v8h-28zM308 81h7v16h-7zM323 82h119v15h-119z"/><path fill="#00a5ff" d="M423 61h2v1h-2zM423 62h3v2h-3zM422 64h4v5h-4zM421 69h6v1h-6zM283 70h3v1h-3zM419 70h9v1h-9zM279 71h1v1h-1zM282 71h4v1h-4zM417 71h11v1h-11zM278 72h9v1h-9zM348 72h6v1h-6zM417 72h12v1h-12zM348 73h7v1h-7zM416 73h13v1h-13zM264 75h1v1h-1zM277 73h10v3h-10zM293 75h3v1h-3zM311 75h2v1h-2zM292 76h4v2h-4zM276 76h11v3h-11zM294 78h1v1h-1zM347 74h8v5h-8zM416 74h14v5h-14zM263 76h2v4h-2zM277 79h4v1h-4zM282 79h5v1h-5zM311 76h3v4h-3zM348 79h6v1h-6zM416 79h13v1h-13zM256 80h10v1h-10zM276 80h24v1h-24zM310 80h4v1h-4zM329 80h49v1h-49zM383 80h59v1h-59zM275 81h26v1h-26zM309 81h6v1h-6zM325 81h117v1h-117zM324 82h118v1h-118zM308 82h7v9h-7zM256 81h11v16h-11zM274 82h28v15h-28zM308 91h6v6h-6zM323 83h119v14h-119z"/><path fill="#00b8ff" d="M423 62h2v2h-2zM423 64h3v1h-3zM422 65h4v4h-4zM421 69h6v1h-6zM284 70h1v1h-1zM420 70h7v1h-7zM283 71h3v1h-3zM418 71h10v1h-10zM278 72h8v1h-8zM349 72h4v1h-4zM348 73h6v1h-6zM417 72h12v2h-12zM348 74h7v1h-7zM293 76h3v1h-3zM277 73h10v5h-10zM293 77h2v1h-2zM311 76h2v2h-2zM347 75h8v3h-8zM277 78h9v1h-9zM348 78h7v1h-7zM416 74h13v5h-13zM277 79h4v1h-4zM283 79h3v1h-3zM311 78h3v2h-3zM348 79h6v1h-6zM417 79h12v1h-12zM256 80h10v1h-10zM276 80h23v1h-23zM310 80h4v1h-4zM329 80h46v1h-46zM386 80h56v1h-56zM275 81h26v1h-26zM309 81h5v1h-5zM325 81h117v1h-117zM308 82h7v3h-7zM308 85h6v1h-6zM324 82h118v5h-118zM256 81h11v16h-11zM274 82h28v15h-28zM309 86h5v11h-5zM323 87h119v10h-119z"/><path fill="#00cbff" d="M423 63h2v2h-2zM423 65h3v2h-3zM422 67h4v3h-4zM420 70h7v1h-7zM283 71h2v1h-2zM418 71h10v1h-10zM282 72h4v1h-4zM349 72h4v1h-4zM417 72h11v1h-11zM278 73h8v1h-8zM348 73h6v1h-6zM348 74h7v2h-7zM277 74h10v3h-10zM347 76h8v1h-8zM277 77h9v1h-9zM348 77h7v1h-7zM277 78h4v1h-4zM283 78h3v1h-3zM348 78h6v1h-6zM277 79h3v1h-3zM284 79h2v1h-2zM312 78h1v2h-1zM349 79h5v1h-5zM417 73h12v7h-12zM261 80h5v1h-5zM276 80h5v1h-5zM283 80h5v1h-5zM291 80h6v1h-6zM329 80h45v1h-45zM388 80h54v1h-54zM256 81h10v1h-10zM276 81h25v1h-25zM310 80h4v2h-4zM326 81h116v1h-116zM275 82h27v6h-27zM324 82h118v6h-118zM309 82h5v11h-5zM256 82h11v15h-11zM274 88h28v9h-28zM309 93h4v4h-4zM323 88h119v9h-119z"/><path fill="#00defd" d="M423 64h2v4h-2zM423 68h3v1h-3zM422 69h4v1h-4zM421 70h6v1h-6zM419 71h9v1h-9zM283 72h3v1h-3zM350 72h2v1h-2zM418 72h10v1h-10zM279 73h1v1h-1zM282 73h4v1h-4zM349 73h5v1h-5zM278 74h8v1h-8zM348 74h6v1h-6zM277 75h9v2h-9zM277 77h4v1h-4zM348 75h7v3h-7zM277 78h3v1h-3zM283 77h3v2h-3zM348 78h6v1h-6zM417 73h12v6h-12zM278 79h2v1h-2zM349 79h5v1h-5zM417 79h11v1h-11zM262 80h3v1h-3zM277 80h3v1h-3zM283 80h4v1h-4zM311 80h2v1h-2zM329 80h44v1h-44zM397 80h45v1h-45zM256 81h10v1h-10zM276 81h25v1h-25zM310 81h4v1h-4zM327 81h115v1h-115zM325 82h117v3h-117zM309 82h5v5h-5zM256 82h11v6h-11zM275 82h26v7h-26zM324 85h118v5h-118zM275 89h27v3h-27zM256 88h10v9h-10zM274 92h28v5h-28zM309 87h4v10h-4zM323 90h119v7h-119z"/><path fill="#09f1ee" d="M424 65h1v1h-1zM423 66h2v3h-2zM422 69h4v1h-4zM421 70h5v1h-5zM419 71h8v1h-8zM284 72h1v1h-1zM418 72h10v1h-10zM283 73h3v1h-3zM349 73h4v1h-4zM417 73h11v1h-11zM278 74h2v1h-2zM348 74h6v1h-6zM278 75h3v1h-3zM282 74h4v2h-4zM348 75h7v2h-7zM283 76h3v2h-3zM278 76h2v3h-2zM284 78h1v1h-1zM348 77h6v2h-6zM417 74h12v5h-12zM278 79h1v1h-1zM349 79h4v1h-4zM417 79h11v1h-11zM263 80h2v1h-2zM277 80h3v1h-3zM284 80h3v1h-3zM311 80h2v1h-2zM329 80h43v1h-43zM402 80h40v1h-40zM276 81h5v1h-5zM282 81h18v1h-18zM310 81h3v1h-3zM328 81h114v1h-114zM309 82h5v2h-5zM276 82h25v4h-25zM309 84h4v2h-4zM325 82h117v4h-117zM310 86h3v4h-3zM324 86h118v5h-118zM256 81h10v16h-10zM275 86h26v11h-26zM310 90h2v7h-2zM323 91h119v6h-119z"/><path fill="#18ffde" d="M424 66h1v1h-1zM423 67h2v2h-2zM423 69h3v1h-3zM422 70h4v1h-4zM420 71h7v1h-7zM284 73h1v1h-1zM349 73h4v1h-4zM418 72h10v2h-10zM283 74h3v3h-3zM278 75h2v3h-2zM284 77h1v1h-1zM348 74h6v4h-6zM278 78h1v1h-1zM349 78h5v1h-5zM417 74h11v5h-11zM350 79h3v1h-3zM418 79h10v1h-10zM278 80h1v1h-1zM284 80h2v1h-2zM329 80h42v1h-42zM405 80h37v1h-37zM277 81h3v1h-3zM283 81h17v1h-17zM328 81h114v1h-114zM326 82h116v1h-116zM310 81h3v6h-3zM325 83h117v4h-117zM276 82h25v6h-25zM256 81h10v16h-10zM275 88h26v9h-26zM310 87h2v10h-2zM324 87h118v10h-118z"/><path fill="#28ffcf" d="M423 68h2v2h-2zM422 70h4v1h-4zM420 71h7v1h-7zM419 72h9v1h-9zM350 73h3v1h-3zM349 74h5v1h-5zM418 73h10v2h-10zM284 74h1v3h-1zM348 75h6v3h-6zM417 75h11v3h-11zM349 78h5v1h-5zM350 79h3v1h-3zM418 78h10v2h-10zM278 80h1v1h-1zM330 80h40v1h-40zM406 80h36v1h-36zM256 81h9v1h-9zM277 81h3v1h-3zM283 81h17v1h-17zM311 81h2v1h-2zM329 81h48v1h-48zM382 81h60v1h-60zM276 82h5v2h-5zM282 82h19v2h-19zM283 84h18v1h-18zM310 82h3v3h-3zM276 84h4v2h-4zM282 85h19v1h-19zM326 82h116v4h-116zM325 86h117v2h-117zM310 85h2v4h-2zM276 86h25v4h-25zM310 89h1v4h-1zM256 82h10v15h-10zM275 90h26v7h-26zM324 88h118v9h-118z"/><path fill="#37ffc0" d="M423 69h2v1h-2zM422 70h4v1h-4zM421 71h6v1h-6zM419 72h8v1h-8zM350 73h3v1h-3zM349 74h5v1h-5zM348 75h6v2h-6zM349 77h5v1h-5zM349 78h4v1h-4zM418 73h10v6h-10zM350 79h2v1h-2zM418 79h9v1h-9zM330 80h40v1h-40zM406 80h36v1h-36zM261 81h4v1h-4zM277 81h2v1h-2zM284 81h15v1h-15zM329 81h47v1h-47zM383 81h59v1h-59zM327 82h115v1h-115zM276 82h4v2h-4zM310 82h3v2h-3zM277 84h2v2h-2zM283 82h18v4h-18zM326 83h116v3h-116zM277 86h24v1h-24zM310 84h2v3h-2zM325 86h117v3h-117zM276 87h25v4h-25zM256 82h10v15h-10zM275 91h26v6h-26zM324 89h118v8h-118z"/><path fill="#46ffb1" d="M424 69h1v1h-1zM422 70h3v1h-3zM421 71h5v1h-5zM419 72h8v1h-8zM350 73h2v1h-2zM349 74h4v1h-4zM349 75h5v3h-5zM349 78h4v1h-4zM418 73h10v6h-10zM418 79h9v1h-9zM330 80h40v1h-40zM406 80h36v1h-36zM262 81h3v1h-3zM285 81h3v1h-3zM290 81h7v1h-7zM329 81h47v1h-47zM385 81h57v1h-57zM277 82h3v1h-3zM283 82h17v1h-17zM277 83h2v1h-2zM283 83h18v1h-18zM310 82h2v3h-2zM327 82h115v3h-115zM284 84h17v2h-17zM256 82h10v5h-10zM278 86h1v1h-1zM283 86h18v1h-18zM326 85h116v2h-116zM277 87h24v1h-24zM325 87h117v3h-117zM256 87h9v10h-9zM276 88h25v9h-25zM324 90h118v7h-118z"/><path fill="#55ffa1" d="M423 70h2v1h-2zM421 71h5v1h-5zM420 72h7v1h-7zM351 73h1v1h-1zM419 73h8v1h-8zM349 74h4v1h-4zM349 75h5v3h-5zM418 74h10v4h-10zM350 78h3v1h-3zM418 78h9v1h-9zM419 79h8v1h-8zM330 80h40v1h-40zM406 80h36v1h-36zM263 81h1v1h-1zM329 81h46v1h-46zM386 81h56v1h-56zM277 82h2v1h-2zM328 82h114v1h-114zM256 82h10v2h-10zM311 82h1v2h-1zM284 82h16v4h-16zM327 83h115v3h-115zM283 86h17v1h-17zM326 86h116v1h-116zM282 87h18v1h-18zM277 88h23v1h-23zM325 87h117v4h-117zM256 84h9v13h-9zM276 89h24v8h-24zM324 91h118v6h-118z"/><path fill="#65ff92" d="M423 70h2v1h-2zM422 71h4v1h-4zM420 72h7v1h-7zM419 73h8v1h-8zM350 74h3v1h-3zM349 75h5v2h-5zM349 77h4v1h-4zM350 78h3v1h-3zM418 74h9v5h-9zM419 79h8v1h-8zM330 80h40v1h-40zM406 80h36v1h-36zM329 81h45v1h-45zM387 81h55v1h-55zM284 82h16v2h-16zM328 82h114v3h-114zM285 84h15v2h-15zM327 85h115v1h-115zM284 86h16v1h-16zM283 87h17v1h-17zM326 86h116v2h-116zM280 88h20v1h-20zM277 89h23v1h-23zM325 88h117v4h-117zM256 82h9v15h-9zM276 90h24v7h-24zM324 92h118v5h-118z"/><path fill="#74ff83" d="M422 71h4v1h-4zM420 72h6v1h-6zM350 74h3v1h-3zM349 75h4v1h-4zM349 76h5v1h-5zM349 77h4v1h-4zM350 78h3v1h-3zM419 73h8v6h-8zM419 79h7v1h-7zM330 80h40v1h-40zM406 80h36v1h-36zM329 81h45v1h-45zM388 81h54v1h-54zM329 82h51v1h-51zM381 82h61v1h-61zM285 82h15v2h-15zM286 84h14v1h-14zM285 85h15v1h-15zM328 83h114v3h-114zM284 86h16v1h-16zM327 86h115v1h-115zM256 82h9v6h-9zM283 87h17v1h-17zM282 88h18v1h-18zM326 87h116v2h-116zM279 89h21v1h-21zM278 90h22v1h-22zM256 88h8v9h-8zM276 91h24v6h-24zM325 89h117v8h-117z"/><path fill="#83ff74" d="M422 71h3v1h-3zM421 72h5v1h-5zM350 74h3v1h-3zM349 75h4v3h-4zM350 78h2v1h-2zM419 73h8v6h-8zM420 79h6v1h-6zM330 80h40v1h-40zM406 80h36v1h-36zM329 81h44v1h-44zM398 81h44v1h-44zM261 82h4v1h-4zM285 82h15v1h-15zM329 82h48v1h-48zM382 82h60v1h-60zM260 83h5v2h-5zM329 83h50v2h-50zM381 83h61v2h-61zM286 83h14v3h-14zM328 85h114v1h-114zM285 86h15v1h-15zM327 86h115v1h-115zM284 87h16v1h-16zM283 88h17v1h-17zM326 87h116v2h-116zM282 89h18v1h-18zM279 90h21v1h-21zM278 91h22v1h-22zM256 85h8v12h-8zM277 92h23v5h-23zM325 89h117v8h-117z"/><path fill="#92ff65" d="M423 71h2v1h-2zM421 72h5v1h-5zM420 73h7v1h-7zM350 74h2v1h-2zM350 75h3v1h-3zM349 76h4v1h-4zM350 77h3v1h-3zM419 74h8v4h-8zM351 78h1v1h-1zM419 78h7v1h-7zM420 79h5v1h-5zM330 80h40v1h-40zM407 80h35v1h-35zM329 81h44v1h-44zM399 81h43v1h-43zM262 82h3v1h-3zM286 82h13v1h-13zM329 82h47v1h-47zM383 82h59v1h-59zM261 83h4v1h-4zM286 83h14v1h-14zM262 84h2v1h-2zM329 83h48v2h-48zM382 83h60v2h-60zM262 85h1v1h-1zM287 84h13v2h-13zM329 85h49v1h-49zM381 85h61v1h-61zM286 86h14v1h-14zM284 87h16v1h-16zM327 86h115v2h-115zM283 88h17v2h-17zM326 88h116v2h-116zM256 86h7v5h-7zM281 90h19v1h-19zM279 91h21v1h-21zM256 91h8v6h-8zM278 92h22v5h-22zM325 90h117v7h-117z"/><path fill="#a1ff55" d="M423 71h2v1h-2zM422 72h4v1h-4zM420 73h6v1h-6zM351 74h1v1h-1zM420 74h7v1h-7zM419 75h8v2h-8zM350 75h3v3h-3zM419 77h7v2h-7zM420 79h5v1h-5zM330 80h40v1h-40zM407 80h35v1h-35zM329 81h43v1h-43zM400 81h42v1h-42zM263 82h1v1h-1zM287 82h11v1h-11zM384 82h58v1h-58zM262 83h2v1h-2zM383 83h59v2h-59zM287 83h12v3h-12zM329 82h47v4h-47zM382 85h60v1h-60zM256 86h5v1h-5zM286 86h13v1h-13zM328 86h114v1h-114zM256 87h6v1h-6zM285 87h14v1h-14zM327 87h115v1h-115zM284 88h15v1h-15zM283 89h17v1h-17zM282 90h18v1h-18zM326 88h116v3h-116zM280 91h20v1h-20zM256 88h7v9h-7zM279 92h21v5h-21zM325 91h117v6h-117z"/><path fill="#b1ff46" d="M422 72h4v1h-4zM421 73h5v1h-5zM350 75h3v3h-3zM420 74h6v5h-6zM421 79h3v1h-3zM330 80h40v1h-40zM407 80h35v1h-35zM329 81h42v1h-42zM402 81h40v1h-40zM294 82h1v1h-1zM385 82h57v1h-57zM289 83h9v1h-9zM290 84h7v1h-7zM384 83h58v2h-58zM288 85h10v1h-10zM329 82h47v4h-47zM383 85h59v1h-59zM256 86h4v1h-4zM287 86h11v1h-11zM328 86h50v1h-50zM381 86h61v1h-61zM286 87h13v1h-13zM284 88h15v1h-15zM327 87h115v2h-115zM256 87h6v4h-6zM283 89h16v2h-16zM326 89h116v2h-116zM282 91h17v1h-17zM256 91h7v6h-7zM280 92h19v5h-19zM325 91h117v6h-117z"/><path fill="#c0ff37" d="M422 72h3v1h-3zM421 73h5v1h-5zM350 75h2v1h-2zM350 76h3v1h-3zM350 77h2v1h-2zM420 74h6v4h-6zM420 78h5v1h-5zM330 80h40v1h-40zM407 80h35v1h-35zM329 81h42v1h-42zM404 81h38v1h-38zM329 82h46v1h-46zM385 82h57v3h-57zM329 83h47v3h-47zM384 85h58v1h-58zM288 86h1v1h-1zM328 86h48v1h-48zM383 86h59v1h-59zM256 87h5v1h-5zM287 87h10v1h-10zM328 87h52v1h-52zM381 87h61v1h-61zM285 88h12v1h-12zM327 88h115v1h-115zM284 89h14v1h-14zM283 90h15v1h-15zM282 91h16v1h-16zM326 89h116v3h-116zM256 88h6v9h-6zM281 92h18v5h-18zM325 92h117v5h-117z"/><path fill="#cfff28" d="M423 72h2v1h-2zM422 73h4v1h-4zM421 74h5v1h-5zM350 75h2v2h-2zM351 77h1v1h-1zM420 75h6v3h-6zM421 78h4v1h-4zM330 80h40v1h-40zM407 80h35v1h-35zM329 81h41v1h-41zM405 81h37v1h-37zM386 82h56v1h-56zM329 82h46v4h-46zM385 83h57v3h-57zM329 86h47v1h-47zM384 86h58v1h-58zM256 87h4v1h-4zM287 87h2v1h-2zM328 87h49v1h-49zM382 87h60v1h-60zM256 88h5v1h-5zM286 88h4v1h-4zM284 89h7v1h-7zM327 88h115v2h-115zM284 90h13v1h-13zM283 91h14v1h-14zM256 89h6v8h-6zM282 92h15v5h-15zM326 90h116v7h-116z"/><path fill="#deff18" d="M423 72h1v1h-1zM422 73h3v1h-3zM351 75h1v1h-1zM421 74h5v2h-5zM350 76h2v1h-2zM421 76h4v2h-4zM422 78h2v1h-2zM330 80h40v1h-40zM407 80h35v1h-35zM329 81h41v1h-41zM406 81h36v1h-36zM387 82h55v1h-55zM329 82h46v4h-46zM386 83h56v3h-56zM329 86h47v1h-47zM385 86h57v1h-57zM256 87h4v1h-4zM328 87h48v1h-48zM383 87h59v1h-59zM287 88h2v1h-2zM327 88h53v1h-53zM381 88h61v1h-61zM256 88h5v2h-5zM285 89h5v1h-5zM327 89h115v1h-115zM284 90h6v1h-6zM283 91h7v1h-7zM256 90h6v7h-6zM283 92h8v5h-8zM326 90h116v7h-116z"/><path fill="#eeff09" d="M422 73h3v2h-3zM351 76h1v1h-1zM421 75h4v2h-4zM422 77h3v1h-3zM330 80h39v1h-39zM407 80h35v1h-35zM330 81h40v1h-40zM406 81h36v1h-36zM329 82h45v1h-45zM387 82h55v3h-55zM386 85h56v1h-56zM329 83h46v4h-46zM385 86h57v1h-57zM328 87h48v1h-48zM384 87h58v1h-58zM256 88h4v1h-4zM328 88h49v1h-49zM382 88h60v1h-60zM286 89h3v1h-3zM256 89h5v2h-5zM284 90h5v1h-5zM327 89h115v2h-115zM284 91h6v1h-6zM256 91h6v6h-6zM283 92h7v5h-7zM326 91h116v6h-116z"/><path fill="#fdef00" d="M423 73h2v1h-2zM422 74h3v3h-3zM330 80h39v1h-39zM407 80h35v1h-35zM330 81h40v1h-40zM406 81h36v1h-36zM388 82h7v1h-7zM397 82h45v1h-45zM329 82h45v4h-45zM387 83h55v3h-55zM329 86h46v1h-46zM386 86h56v1h-56zM329 87h47v1h-47zM385 87h57v1h-57zM256 88h4v1h-4zM328 88h48v1h-48zM383 88h59v1h-59zM285 90h4v1h-4zM327 89h115v2h-115zM256 89h5v3h-5zM284 91h5v1h-5zM256 92h6v5h-6zM283 92h7v5h-7zM326 91h116v6h-116z"/><path fill="#ffdd00" d="M423 74h2v2h-2zM330 80h39v1h-39zM407 80h35v1h-35zM330 81h40v1h-40zM406 81h36v1h-36zM329 82h44v1h-44zM389 82h3v1h-3zM398 82h44v1h-44zM388 83h7v2h-7zM329 83h45v3h-45zM387 85h9v1h-9zM397 83h45v3h-45zM387 86h55v1h-55zM329 86h46v2h-46zM386 87h56v1h-56zM256 88h3v1h-3zM328 88h48v1h-48zM384 88h58v1h-58zM256 89h4v1h-4zM327 89h50v1h-50zM382 89h60v1h-60zM327 90h115v2h-115zM256 90h5v7h-5zM284 91h5v6h-5zM326 92h116v5h-116z"/><path fill="#ffcc00" d="M330 80h39v1h-39zM407 80h35v1h-35zM330 81h40v1h-40zM406 81h36v1h-36zM329 82h44v1h-44zM399 82h43v1h-43zM389 83h4v2h-4zM388 85h6v1h-6zM398 83h44v3h-44zM329 83h45v4h-45zM387 86h9v1h-9zM397 86h45v1h-45zM329 87h46v1h-46zM328 88h47v1h-47zM386 87h56v2h-56zM256 89h4v1h-4zM328 89h48v1h-48zM383 89h59v1h-59zM285 91h3v1h-3zM327 90h115v2h-115zM256 90h5v7h-5zM284 92h4v5h-4zM326 92h116v5h-116z"/><path fill="#ffba00" d="M330 80h39v1h-39zM407 80h35v1h-35zM330 81h40v1h-40zM406 81h36v1h-36zM400 82h42v1h-42zM399 83h43v2h-43zM329 82h44v4h-44zM390 85h1v1h-1zM388 86h6v1h-6zM398 85h44v2h-44zM329 86h45v2h-45zM387 87h9v1h-9zM397 87h45v1h-45zM329 88h46v1h-46zM386 88h56v1h-56zM328 89h48v1h-48zM384 89h58v1h-58zM256 89h4v2h-4zM327 90h50v1h-50zM381 90h61v1h-61zM256 91h5v6h-5zM285 92h3v5h-3zM327 91h115v6h-115z"/><path fill="#ffa900" d="M330 80h39v1h-39zM407 80h35v1h-35zM330 81h40v1h-40zM406 81h36v1h-36zM329 82h43v1h-43zM400 82h42v1h-42zM329 83h44v4h-44zM390 86h2v1h-2zM399 83h43v4h-43zM329 87h45v1h-45zM388 87h6v1h-6zM398 87h44v1h-44zM329 88h46v1h-46zM387 88h55v1h-55zM256 89h3v1h-3zM328 89h47v1h-47zM385 89h57v1h-57zM328 90h48v1h-48zM382 90h60v1h-60zM256 90h4v2h-4zM285 92h1v1h-1zM256 92h5v5h-5zM327 91h115v6h-115z"/><path fill="#ff9700" d="M330 80h39v1h-39zM407 80h35v1h-35zM330 81h40v1h-40zM406 81h36v1h-36zM401 82h41v1h-41zM329 82h43v4h-43zM329 86h44v1h-44zM400 83h42v4h-42zM390 87h2v1h-2zM329 87h45v2h-45zM388 88h6v1h-6zM399 87h43v2h-43zM328 89h47v1h-47zM386 89h56v1h-56zM328 90h48v1h-48zM383 90h59v1h-59zM256 90h4v2h-4zM327 91h50v1h-50zM381 91h61v1h-61zM256 92h5v5h-5zM327 92h115v5h-115z"/><path fill="#ff8600" d="M330 80h39v1h-39zM407 80h35v1h-35zM330 81h40v1h-40zM406 81h36v1h-36zM329 82h42v1h-42zM402 82h40v1h-40zM329 83h43v3h-43zM401 83h41v4h-41zM329 86h44v2h-44zM329 88h45v1h-45zM390 88h2v1h-2zM400 87h42v2h-42zM329 89h46v1h-46zM386 89h56v1h-56zM328 90h47v1h-47zM384 90h58v1h-58zM327 91h49v1h-49zM382 91h60v1h-60zM256 90h4v7h-4zM327 92h115v5h-115z"/><path fill="#ff7400" d="M330 80h39v1h-39zM407 80h35v1h-35zM330 81h40v1h-40zM406 81h36v1h-36zM403 82h39v1h-39zM329 82h42v3h-42zM402 83h40v3h-40zM329 85h43v2h-43zM329 87h44v2h-44zM401 86h41v3h-41zM329 89h45v1h-45zM387 89h55v1h-55zM328 90h47v1h-47zM385 90h57v1h-57zM328 91h48v1h-48zM383 91h59v1h-59zM256 91h4v6h-4zM327 92h49v5h-49zM381 92h61v5h-61z"/><path fill="#ff6300" d="M330 80h39v1h-39zM407 80h35v1h-35zM330 81h40v1h-40zM406 81h36v1h-36zM404 82h38v1h-38zM329 82h42v4h-42zM329 86h43v2h-43zM329 88h44v1h-44zM402 83h40v6h-40zM329 89h45v1h-45zM388 89h7v1h-7zM398 89h44v1h-44zM386 90h56v1h-56zM328 90h47v2h-47zM384 91h58v1h-58zM256 91h4v6h-4zM327 92h49v5h-49zM382 92h60v5h-60z"/><path fill="#ff5100" d="M330 80h39v1h-39zM407 80h35v1h-35zM330 81h40v1h-40zM406 81h36v1h-36zM329 82h41v1h-41zM405 82h37v1h-37zM329 83h42v4h-42zM403 83h39v5h-39zM329 87h43v2h-43zM402 88h40v1h-40zM329 89h44v1h-44zM390 89h2v1h-2zM400 89h42v1h-42zM329 90h45v1h-45zM387 90h55v1h-55zM256 91h3v1h-3zM328 91h47v1h-47zM385 91h57v1h-57zM256 92h4v5h-4zM328 92h48v5h-48zM383 92h59v5h-59z"/><path fill="#ff4000" d="M330 80h39v1h-39zM407 80h35v1h-35zM330 81h40v1h-40zM406 81h36v2h-36zM329 82h41v3h-41zM329 85h42v3h-42zM404 83h38v5h-38zM329 88h43v1h-43zM403 88h39v1h-39zM329 89h44v1h-44zM401 89h41v1h-41zM329 90h45v1h-45zM387 90h55v1h-55zM385 91h57v1h-57zM256 92h4v5h-4zM328 91h47v6h-47zM384 92h58v5h-58z"/><path fill="#ff2e00" d="M330 80h39v1h-39zM407 80h35v1h-35zM330 81h40v2h-40zM406 81h36v2h-36zM329 83h41v4h-41zM405 83h37v4h-37zM329 87h42v2h-42zM404 87h38v2h-38zM329 89h43v1h-43zM402 89h40v1h-40zM329 90h44v1h-44zM388 90h54v1h-54zM328 91h46v1h-46zM386 91h56v1h-56zM256 92h3v5h-3zM328 92h47v5h-47zM385 92h57v5h-57z"/><path fill="#ff1d00" d="M330 80h39v1h-39zM407 80h35v1h-35zM330 81h40v2h-40zM406 81h36v6h-36zM329 83h41v5h-41zM405 87h37v2h-37zM329 88h42v2h-42zM403 89h39v1h-39zM329 90h44v1h-44zM390 90h3v1h-3zM400 90h42v1h-42zM329 91h45v1h-45zM387 91h55v1h-55zM328 92h46v5h-46zM385 92h57v5h-57z"/><path fill="#f60b00" d="M330 80h39v1h-39zM407 80h35v2h-35zM330 81h40v4h-40zM329 85h41v4h-41zM406 82h36v7h-36zM329 89h42v1h-42zM404 89h38v1h-38zM329 90h43v1h-43zM401 90h41v1h-41zM329 91h44v1h-44zM387 91h55v1h-55zM328 92h46v5h-46zM386 92h56v5h-56z"/><path fill="#e00000" d="M330 80h39v1h-39zM407 80h35v2h-35zM330 81h40v5h-40zM329 86h41v4h-41zM406 82h36v8h-36zM329 90h42v1h-42zM403 90h39v1h-39zM329 91h44v1h-44zM388 91h54v1h-54zM329 92h45v5h-45zM387 92h55v5h-55z"/><path fill="#cb0000" d="M336 80h6v1h-6zM345 80h13v1h-13zM362 80h7v1h-7zM408 80h34v1h-34zM407 81h35v1h-35zM330 81h40v5h-40zM329 86h41v4h-41zM406 82h36v8h-36zM329 90h42v1h-42zM405 90h37v1h-37zM329 91h43v1h-43zM390 91h52v1h-52zM329 92h44v5h-44zM387 92h55v5h-55z"/><path fill="#b50000" d="M339 80h1v1h-1zM346 80h10v1h-10zM408 80h34v1h-34zM407 81h35v1h-35zM330 81h40v5h-40zM329 86h41v5h-41zM406 82h36v9h-36zM329 91h42v1h-42zM402 91h40v1h-40zM329 92h43v5h-43zM388 92h54v5h-54z"/><path fill="#a00000" d="M347 80h8v1h-8zM409 80h33v1h-33zM407 81h35v1h-35zM330 81h40v6h-40zM329 87h41v4h-41zM406 82h36v10h-36zM329 91h42v6h-42zM389 92h53v5h-53z"/><path fill="#8a0000" d="M348 80h6v1h-6zM410 80h32v1h-32zM407 81h35v1h-35zM330 81h40v6h-40zM329 87h41v5h-41zM329 92h42v5h-42zM406 82h36v15h-36z"/></g></g></g>
<text x="256.5" y="95.8" text-anchor="end" font-size="6.45">0</text>
<text x="256.5" y="78.9" text-anchor="end" font-size="6.45">10</text>
<text x="256.5" y="62.0" text-anchor="end" font-size="6.45">20</text>
<text x="256.5" y="45.2" text-anchor="end" font-size="6.45">30</text>
<text x="256.5" y="28.3" text-anchor="end" font-size="6.45">40</text>
<text x="256.5" y="11.4" text-anchor="end" font-size="6.45">50</text>
<text x="259.3" y="101.4" text-anchor="middle" font-size="6.45">4.0</text>
<text x="287.9" y="101.4" text-anchor="middle" font-size="6.45">4.5</text>
<text x="316.5" y="101.4" text-anchor="middle" font-size="6.45">5.0</text>
<text x="345.1" y="101.4" text-anchor="middle" font-size="6.45">5.5</text>
<text x="373.7" y="101.4" text-anchor="middle" font-size="6.45">6.0</text>
<text x="402.3" y="101.4" text-anchor="middle" font-size="6.45">6.5</text>
<text x="430.9" y="101.4" text-anchor="middle" font-size="6.45">7.0</text>
<rect x="440.0" y="9.2" width="9.7" height="84.4" fill="url(#jet)"/>
<path d="M449.7 87.0h1.6" stroke="#555" stroke-width=".5"/>
<text x="452.9" y="89.3" font-size="6.45">0</text>
<path d="M449.7 67.5h1.6" stroke="#555" stroke-width=".5"/>
<text x="452.9" y="69.8" font-size="6.45">5</text>
<path d="M449.7 48.1h1.6" stroke="#555" stroke-width=".5"/>
<text x="452.9" y="50.4" font-size="6.45">10</text>
<path d="M449.7 28.6h1.6" stroke="#555" stroke-width=".5"/>
<text x="452.9" y="30.9" font-size="6.45">15</text>
<path d="M449.7 9.2h1.6" stroke="#555" stroke-width=".5"/>
<text x="452.9" y="11.5" font-size="6.45">20</text>
<text x="351.1" y="108.9" text-anchor="middle" font-size="6.8">Butterworth 2nd Order Filtered Signal Between 0.5-100 Hz</text>
<rect x="259.3" y="112.0" width="183.8" height="83.8" fill="#eaeaf2"/>
<text x="259.3" y="204.2" text-anchor="middle" font-size="6.45">4.0</text>
<text x="287.9" y="204.2" text-anchor="middle" font-size="6.45">4.5</text>
<text x="316.5" y="204.2" text-anchor="middle" font-size="6.45">5.0</text>
<text x="345.1" y="204.2" text-anchor="middle" font-size="6.45">5.5</text>
<text x="373.7" y="204.2" text-anchor="middle" font-size="6.45">6.0</text>
<text x="402.3" y="204.2" text-anchor="middle" font-size="6.45">6.5</text>
<text x="430.9" y="204.2" text-anchor="middle" font-size="6.45">7.0</text>
<text x="256.1" y="191.1" text-anchor="end" font-size="6.45">−100</text>
<text x="256.1" y="173.4" text-anchor="end" font-size="6.45">−50</text>
<text x="256.1" y="155.7" text-anchor="end" font-size="6.45">0</text>
<text x="256.1" y="138.0" text-anchor="end" font-size="6.45">50</text>
<text x="256.1" y="120.3" text-anchor="end" font-size="6.45">100</text>
<path d="M259.3 112.0V195.8M287.9 112.0V195.8M316.5 112.0V195.8M345.1 112.0V195.8M373.7 112.0V195.8M402.3 112.0V195.8M430.9 112.0V195.8M259.3 188.9H443.1M259.3 171.2H443.1M259.3 153.5H443.1M259.3 135.8H443.1M259.3 118.1H443.1" stroke="#fff" stroke-width=".45" stroke-opacity=".6" fill="none"/>
<polyline points="259.3,139.2 259.6,142.1 260,141.2 260.3,140.8 260.6,141 260.9,143.3 261.3,145.4 261.6,145.2 261.9,151.6 262.2,144.8 262.6,146.6 262.9,147.6 263.2,147.2 263.5,150.3 263.9,152.2 264.2,148.9 264.5,150.7 264.8,148.2 265.2,145.5 265.5,151.2 265.8,150.7 266.2,147.3 266.5,154.7 266.8,153.2 267.1,151.6 267.5,151.7 267.8,151.7 268.1,151.4 268.4,151.4 268.8,153.8 269.1,153.1 269.4,155.4 269.7,156.6 270.1,156.7 270.4,156.9 270.7,152.8 271.1,152.9 271.4,147.7 271.7,151.6 272,149.1 272.4,157.8 272.7,155.9 273,158.2 273.3,154.8 273.7,152.1 274,155.5 274.3,155.5 274.6,154.6 275,152.7 275.3,157.1 275.6,159.9 275.9,159.9 276.3,158 276.6,160.1 276.9,156.8 277.3,155.8 277.6,159.8 277.9,153.6 278.2,159.9 278.6,154.3 278.9,154.7 279.2,152.4 279.5,157.8 279.9,158.5 280.2,157.4 280.5,156.6 280.8,158.8 281.2,154.7 281.5,160.2 281.8,160.9 282.1,159.2 282.5,160.6 282.8,163.2 283.1,156 283.5,156.5 283.8,163.4 284.1,157.3 284.4,157.8 284.8,163.1 285.1,159.2 285.4,166 285.7,162.2 286.1,161.6 286.4,159.5 286.7,158.1 287,158.9 287.4,160.9 287.7,155.3 288,156.6 288.4,159.1 288.7,158.5 289,152.4 289.3,153.4 289.7,156.3 290,155.4 290.3,153.9 290.6,160.3 291,158 291.3,153.8 291.6,157.4 291.9,152 292.3,158.4 292.6,159.4 292.9,158.9 293.2,156.5 293.6,156.8 293.9,157.4 294.2,156.3 294.6,157 294.9,153.3 295.2,151.1 295.5,150.9 295.9,153.5 296.2,149.2 296.5,150.7 296.8,149 297.2,148.1 297.5,150.8 297.8,149.2 298.1,151.5 298.5,148.1 298.8,152.7 299.1,145.6 299.4,147.2 299.8,150.9 300.1,147 300.4,150.1 300.8,144.8 301.1,147.5 301.4,143.1 301.7,147.3 302.1,151.9 302.4,152.9 302.7,154.1 303,152.9 303.4,157.4 303.7,153.1 304,153.8 304.3,151.8 304.7,152 305,152.4 305.3,151.3 305.7,153.6 306,152 306.3,153.8 306.6,154.4 307,153.9 307.3,154.9 307.6,160.3 307.9,154.3 308.3,161.6 308.6,162 308.9,153.9 309.2,154.8 309.6,154.9 309.9,158.6 310.2,163 310.5,162 310.9,161.5 311.2,160 311.5,159 311.9,156.7 312.2,159.9 312.5,163.5 312.8,159.4 313.2,159.4 313.5,162.2 313.8,151.1 314.1,155.6 314.5,158 314.8,158.7 315.1,154.6 315.4,155.4 315.8,157.2 316.1,158.4 316.4,159.9 316.7,157.4 317.1,159 317.4,153.5 317.7,160 318.1,159.3 318.4,159.2 318.7,153.9 319,161 319.4,157.1 319.7,155.8 320,155.5 320.3,148.4 320.7,155.4 321,154.7 321.3,156.9 321.6,156.7 322,153 322.3,155.3 322.6,153.8 323,151.3 323.3,150.6 323.6,152.3 323.9,151.2 324.3,156.5 324.6,153.4 324.9,149.9 325.2,150 325.6,151.6 325.9,151.9 326.2,152.8 326.5,153.5 326.9,149.1 327.2,147.3 327.5,148.3 327.8,150.1 328.2,146.7 328.5,147 328.8,150.9 329.2,147.9 329.5,146.5 329.8,144.1 330.1,143.9 330.5,147.6 330.8,142.5 331.1,145.4 331.4,145.1 331.8,143.9 332.1,149.8 332.4,142.8 332.7,146.2 333.1,143.9 333.4,139 333.7,139.7 334,144.2 334.4,145 334.7,145.9 335,144 335.4,138 335.7,139.5 336,142.1 336.3,139.3 336.7,141.1 337,138.3 337.3,135.8 337.6,140 338,134.8 338.3,133 338.6,133.7 338.9,136.1 339.3,133.5 339.6,137.1 339.9,138 340.3,132.4 340.6,138.7 340.9,136.2 341.2,133.5 341.6,131 341.9,127.4 342.2,128.5 342.5,126.4 342.9,126.5 343.2,125.8 343.5,128.6 343.8,126.9 344.2,128.7 344.5,129 344.8,128.5 345.1,122.8 345.5,124.5 345.8,125 346.1,130.2 346.5,126.2 346.8,125.3 347.1,123.9 347.4,121.4 347.8,124 348.1,125.7 348.4,125 348.7,126.9 349.1,127.4 349.4,137.1 349.7,136.4 350,137.5 350.4,142 350.7,146.3 351,152.2 351.4,147.7 351.7,151.6 352,153.6 352.3,152.9 352.7,159.7 353,158.7 353.3,163.9 353.6,163.2 354,171 354.3,170.2 354.6,170.1 354.9,169.4 355.3,165.8 355.6,167.1 355.9,168.1 356.2,173.6 356.6,170.9 356.9,171.9 357.2,174.8 357.6,172.2 357.9,170.2 358.2,171.7 358.5,171.3 358.9,169.2 359.2,173 359.5,167.2 359.8,171.5 360.2,170.2 360.5,168.8 360.8,171.2 361.1,173.5 361.5,168.2 361.8,167.3 362.1,169.5 362.4,170.5 362.8,170.2 363.1,167.6 363.4,167 363.8,168.4 364.1,169 364.4,174.5 364.7,170.4 365.1,167.8 365.4,171.3 365.7,174.5 366,172.2 366.4,172.2 366.7,172.6 367,164.4 367.3,165.7 367.7,164.2 368,168.5 368.3,161.3 368.7,161 369,160.8 369.3,165.8 369.6,165.9 370,161.1 370.3,161.6 370.6,165 370.9,162.5 371.3,160.4 371.6,164 371.9,161.2 372.2,161.4 372.6,160.5 372.9,161.3 373.2,162.5 373.5,164.8 373.9,163.3 374.2,156 374.5,163 374.9,165.8 375.2,160.7 375.5,160 375.8,165.7 376.2,163.7 376.5,162.9 376.8,162.8 377.1,163 377.5,161.3 377.8,159.9 378.1,156.5 378.4,159.1 378.8,159.5 379.1,158.2 379.4,158.5 379.7,159.1 380.1,158.3 380.4,158 380.7,156.6 381.1,158.2 381.4,156.5 381.7,153.9 382,158.5 382.4,157.3 382.7,161.1 383,154.6 383.3,156.6 383.7,157.9 384,158.2 384.3,156.2 384.6,154.5 385,156.5 385.3,151.6 385.6,156.8 386,153.2 386.3,151.7 386.6,159.8 386.9,157.7 387.3,159.3 387.6,165.4 387.9,160.8 388.2,159.5 388.6,163.1 388.9,157.4 389.2,156.6 389.5,156.6 389.9,154.7 390.2,159.5 390.5,155.9 390.8,157.7 391.2,160.9 391.5,160 391.8,157.6 392.2,159.5 392.5,156.9 392.8,157.7 393.1,153.7 393.5,159.8 393.8,157.2 394.1,157.4 394.4,160 394.8,162.1 395.1,162.1 395.4,163.6 395.7,160.1 396.1,157.4 396.4,159.2 396.7,157.5 397,158.7 397.4,158.9 397.7,158.7 398,160.7 398.4,158.4 398.7,159.1 399,154.4 399.3,155.8 399.7,158.1 400,155.2 400.3,161.9 400.6,159.9 401,156.8 401.3,157.8 401.6,158.9 401.9,161 402.3,159.2 402.6,160.9 402.9,161.5 403.3,165.4 403.6,160.5 403.9,164.1 404.2,165.5 404.6,164.7 404.9,166.8 405.2,165.1 405.5,168.1 405.9,167.3 406.2,170.7 406.5,172 406.8,171.3 407.2,170.7 407.5,167.1 407.8,175.2 408.1,169.2 408.5,171.5 408.8,166.6 409.1,172.3 409.5,169.9 409.8,172.1 410.1,173.9 410.4,173.1 410.8,173.5 411.1,172.3 411.4,177.6 411.7,176.9 412.1,175.2 412.4,180.7 412.7,178.8 413,175.3 413.4,175.1 413.7,177.2 414,172.1 414.3,175.1 414.7,178.8 415,177.1 415.3,176.3 415.7,179 416,177.7 416.3,180.7 416.6,182.7 417,188.4 417.3,191.1 417.6,192.6 417.9,184.5 418.3,175.5 418.6,171.1 418.9,164.1 419.2,161.2 419.6,167 419.9,163.1 420.2,157.5 420.6,152.9 420.9,149.9 421.2,150 421.5,150.9 421.9,140.3 422.2,141.2 422.5,135.8 422.8,132.2 423.2,128.6 423.5,121.9 423.8,119.4 424.1,124.1 424.5,124.9 424.8,120.6 425.1,117.1 425.4,117.9 425.8,119 426.1,118.9 426.4,120.9 426.8,127.6 427.1,131.5 427.4,130.8 427.7,127.8 428.1,130.3 428.4,126.5 428.7,127.4 429,123.1 429.4,129.5 429.7,134.1 430,126.6 430.3,132.1 430.7,133.5 431,130.1 431.3,132.2 431.6,134.2 432,131.6 432.3,131.5 432.6,134.2 433,128.9 433.3,135.7 433.6,134.8 433.9,137.4 434.3,131.6 434.6,131.8 434.9,136.2 435.2,137.8 435.6,139.9 435.9,133.3 436.2,135.4 436.5,134.3 436.9,136.9 437.2,132.9 437.5,136.9 437.9,140.3 438.2,138.8 438.5,136.7 438.8,140.1 439.2,137.8 439.5,143.5 439.8,144.5 440.1,146.2 440.5,146 440.8,144.8 441.1,148.6 441.4,145.5 441.8,146.9" fill="none" stroke="#1f77b4" stroke-width=".75" stroke-linejoin="round"/>
<text x="351.2" y="211.2" text-anchor="middle" font-size="6.45">s</text>
<rect x="262.1" y="115.3" width="40.8" height="13.0" rx="1.2" fill="#eaeaf2" fill-opacity=".8" stroke="#d2d2da" stroke-width=".6"/>
<path d="M265.1 121.8h15" stroke="#1f77b4" stroke-width=".6"/>
<text x="286.3" y="124.4" font-size="7.3">FT7</text></g>
<g><text x="572.1" y="6.2" text-anchor="middle" font-size="6.8">STFT of FT8 Channel Blink and Look Right</text>
<clipPath id="cFT8"><rect x="480.4" y="9.2" width="182.6" height="84.4"/></clipPath><g clip-path="url(#cFT8)"><g filter="url(#bl)"><g shape-rendering="crispEdges"><rect x="477" y="6" width="189" height="91" fill="#000eff"/><path fill="#0021ff" d="M477 6h20v3h-20zM635 6h31v4h-31zM501 6h16v6h-16zM502 12h15v1h-15zM518 6h115v7h-115zM502 13h131v1h-131zM477 9h21v6h-21zM503 14h130v1h-130zM477 15h22v1h-22zM505 15h48v1h-48zM477 16h6v1h-6zM484 16h15v1h-15zM506 16h49v1h-49zM556 15h7v2h-7zM565 15h16v2h-16zM582 15h51v2h-51zM636 10h30v10h-30zM477 17h22v5h-22zM557 17h76v5h-76zM635 20h31v3h-31zM557 22h51v2h-51zM477 22h23v3h-23zM505 17h51v8h-51zM557 24h50v1h-50zM612 22h21v3h-21zM634 23h32v2h-32zM477 25h25v1h-25zM505 25h103v1h-103zM477 26h26v1h-26zM505 26h106v1h-106zM612 25h54v2h-54zM477 27h27v1h-27zM505 27h29v1h-29zM535 27h131v3h-131zM477 28h57v6h-57zM535 30h128v4h-128zM477 34h186v2h-186zM477 36h189v61h-189z"/><path fill="#0034ff" d="M504 6h1v3h-1zM627 6h3v4h-3zM512 6h2v5h-2zM571 10h2v1h-2zM586 10h1v1h-1zM627 10h2v1h-2zM570 11h5v1h-5zM585 11h2v1h-2zM628 11h1v1h-1zM569 12h6v1h-6zM623 12h4v1h-4zM648 6h5v7h-5zM585 12h3v2h-3zM621 13h6v1h-6zM569 13h7v2h-7zM584 14h4v1h-4zM620 14h7v1h-7zM649 13h4v3h-4zM511 11h4v6h-4zM619 15h8v2h-8zM510 17h5v1h-5zM569 15h8v3h-8zM618 17h9v1h-9zM569 18h9v1h-9zM603 18h1v1h-1zM493 19h2v1h-2zM568 19h10v1h-10zM602 19h2v1h-2zM641 19h2v1h-2zM648 16h5v4h-5zM584 15h5v6h-5zM602 20h3v1h-3zM492 20h3v2h-3zM601 21h4v1h-4zM640 20h4v2h-4zM546 22h1v1h-1zM568 20h11v3h-11zM597 22h1v1h-1zM618 18h10v5h-10zM640 22h5v1h-5zM648 20h6v3h-6zM492 22h4v2h-4zM596 23h3v1h-3zM600 22h5v2h-5zM639 23h6v1h-6zM491 24h5v2h-5zM545 23h3v3h-3zM568 23h12v3h-12zM596 24h10v2h-10zM639 24h7v2h-7zM647 23h7v3h-7zM545 26h4v1h-4zM510 18h6v10h-6zM530 23h1v5h-1zM567 26h14v3h-14zM583 21h6v8h-6zM510 28h5v2h-5zM544 27h5v4h-5zM595 26h11v5h-11zM617 23h11v8h-11zM511 30h4v2h-4zM639 26h15v6h-15zM656 31h2v1h-2zM512 32h2v1h-2zM538 30h2v3h-2zM595 31h12v2h-12zM656 32h3v1h-3zM491 26h6v8h-6zM490 34h7v1h-7zM594 33h13v2h-13zM616 31h12v4h-12zM655 33h4v2h-4zM538 33h3v3h-3zM544 31h6v5h-6zM594 35h14v1h-14zM490 35h8v2h-8zM509 36h1v1h-1zM616 35h11v2h-11zM483 37h1v1h-1zM509 37h2v1h-2zM537 36h4v2h-4zM594 36h15v2h-15zM638 32h16v6h-16zM537 38h5v2h-5zM543 36h7v4h-7zM637 38h16v2h-16zM482 38h3v3h-3zM508 38h3v3h-3zM567 29h22v12h-22zM594 38h16v3h-16zM637 40h15v1h-15zM507 41h4v1h-4zM615 37h12v5h-12zM637 41h14v1h-14zM500 41h1v2h-1zM568 41h21v2h-21zM615 42h11v1h-11zM636 42h15v1h-15zM489 37h9v7h-9zM568 43h22v1h-22zM594 41h17v3h-17zM636 43h13v1h-13zM568 44h4v1h-4zM573 44h17v1h-17zM594 44h6v1h-6zM602 44h9v1h-9zM636 44h12v1h-12zM489 44h8v2h-8zM507 42h5v4h-5zM537 40h12v6h-12zM567 45h5v1h-5zM574 45h16v1h-16zM603 45h8v1h-8zM614 43h12v3h-12zM499 43h2v4h-2zM538 46h11v1h-11zM556 45h1v2h-1zM594 45h5v2h-5zM621 46h5v1h-5zM636 45h11v2h-11zM481 41h5v7h-5zM538 47h4v1h-4zM575 46h15v2h-15zM593 47h6v1h-6zM624 47h1v1h-1zM635 47h12v1h-12zM480 48h7v1h-7zM499 47h3v2h-3zM576 48h15v1h-15zM593 48h5v1h-5zM614 46h6v3h-6zM538 48h3v2h-3zM576 49h22v1h-22zM627 49h4v1h-4zM543 47h6v4h-6zM626 50h5v1h-5zM567 46h4v6h-4zM498 49h4v4h-4zM614 49h5v4h-5zM625 51h7v2h-7zM655 35h5v18h-5zM488 46h8v8h-8zM555 47h2v7h-2zM577 50h21v4h-21zM624 53h8v1h-8zM477 49h10v6h-10zM543 51h7v4h-7zM567 52h5v3h-5zM614 53h4v2h-4zM555 54h3v2h-3zM506 46h6v11h-6zM566 55h6v2h-6zM576 54h22v3h-22zM604 46h7v11h-7zM624 54h9v3h-9zM635 48h11v9h-11zM480 55h7v3h-7zM488 54h7v4h-7zM575 57h23v1h-23zM603 57h8v1h-8zM656 53h4v5h-4zM507 57h5v2h-5zM602 58h9v1h-9zM635 57h12v2h-12zM534 59h1v1h-1zM556 56h2v4h-2zM566 57h7v3h-7zM574 58h25v2h-25zM601 59h10v1h-10zM623 57h10v3h-10zM657 58h3v2h-3zM507 59h4v2h-4zM566 60h25v1h-25zM592 60h7v1h-7zM658 60h2v1h-2zM481 58h14v4h-14zM508 61h3v1h-3zM533 60h3v2h-3zM556 60h3v2h-3zM566 61h24v1h-24zM593 61h6v1h-6zM600 60h10v2h-10zM622 60h11v2h-11zM635 59h11v3h-11zM658 61h1v1h-1zM482 62h13v1h-13zM508 62h2v1h-2zM533 62h4v1h-4zM615 55h3v8h-3zM482 63h12v1h-12zM509 63h1v1h-1zM556 62h5v2h-5zM582 62h8v2h-8zM593 62h17v2h-17zM621 62h12v2h-12zM615 63h4v2h-4zM556 64h6v2h-6zM593 64h16v2h-16zM615 65h5v1h-5zM621 64h11v2h-11zM532 63h5v4h-5zM556 66h7v1h-7zM566 62h15v5h-15zM583 64h7v3h-7zM532 67h6v1h-6zM593 66h15v2h-15zM636 62h10v6h-10zM555 67h8v2h-8zM583 67h6v2h-6zM594 68h14v1h-14zM615 66h17v3h-17zM498 53h5v17h-5zM555 69h9v1h-9zM565 67h16v3h-16zM584 69h5v1h-5zM615 69h16v1h-16zM517 70h6v1h-6zM584 70h4v1h-4zM614 70h16v1h-16zM516 71h9v1h-9zM585 71h3v1h-3zM594 69h15v3h-15zM636 68h9v4h-9zM515 72h12v1h-12zM555 70h26v3h-26zM597 72h12v1h-12zM614 71h15v2h-15zM636 72h8v2h-8zM514 73h13v2h-13zM636 74h7v1h-7zM497 70h6v6h-6zM531 68h7v8h-7zM636 75h6v1h-6zM650 75h2v1h-2zM508 76h2v1h-2zM554 73h27v4h-27zM599 73h10v4h-10zM636 76h7v1h-7zM650 76h4v1h-4zM506 77h5v1h-5zM543 55h8v23h-8zM636 77h8v1h-8zM650 77h10v1h-10zM497 76h7v3h-7zM505 78h7v1h-7zM514 75h14v4h-14zM531 76h8v3h-8zM598 77h12v2h-12zM614 73h14v6h-14zM635 78h9v1h-9zM649 78h13v1h-13zM484 64h10v16h-10zM497 79h15v1h-15zM514 79h15v1h-15zM531 79h11v1h-11zM543 78h9v2h-9zM554 77h28v3h-28zM597 79h13v1h-13zM613 79h15v1h-15zM633 79h11v1h-11zM649 79h17v1h-17zM477 80h189v17h-189z"/><path fill="#0047ff" d="M572 15h2v1h-2zM571 16h4v3h-4zM586 17h1v2h-1zM570 19h6v3h-6zM585 19h2v3h-2zM622 21h3v1h-3zM570 22h7v2h-7zM621 22h4v2h-4zM621 24h5v1h-5zM570 24h8v2h-8zM603 24h1v3h-1zM620 25h6v3h-6zM641 26h2v2h-2zM570 26h9v3h-9zM585 22h3v7h-3zM602 27h2v3h-2zM641 28h3v2h-3zM570 29h10v3h-10zM584 29h4v3h-4zM602 30h3v2h-3zM619 28h7v4h-7zM640 30h4v2h-4zM571 32h9v1h-9zM601 32h4v1h-4zM493 30h2v4h-2zM571 33h10v1h-10zM584 32h3v2h-3zM620 32h6v2h-6zM640 32h5v2h-5zM650 24h1v10h-1zM572 34h9v1h-9zM583 34h4v1h-4zM621 34h5v1h-5zM573 35h14v1h-14zM492 34h3v3h-3zM597 33h1v4h-1zM602 33h3v4h-3zM621 35h4v3h-4zM574 36h13v3h-13zM603 37h1v2h-1zM640 34h4v5h-4zM575 39h12v1h-12zM640 39h3v1h-3zM575 40h11v1h-11zM606 40h2v1h-2zM641 40h1v1h-1zM576 41h10v1h-10zM605 41h4v1h-4zM491 37h4v6h-4zM576 42h11v1h-11zM641 43h1v1h-1zM577 43h10v2h-10zM640 44h2v1h-2zM578 45h10v2h-10zM483 45h1v3h-1zM606 42h3v6h-3zM640 45h3v3h-3zM509 49h1v1h-1zM579 47h10v3h-10zM508 50h2v1h-2zM639 48h4v3h-4zM490 43h5v9h-5zM509 51h1v1h-1zM580 50h9v2h-9zM606 48h4v4h-4zM482 48h2v5h-2zM547 52h1v1h-1zM546 53h2v1h-2zM580 52h10v2h-10zM546 54h3v1h-3zM628 54h2v1h-2zM483 53h1v3h-1zM581 54h9v2h-9zM627 55h3v1h-3zM545 55h4v2h-4zM606 52h3v5h-3zM639 51h5v6h-5zM490 52h4v6h-4zM582 56h8v2h-8zM627 56h4v2h-4zM583 58h7v1h-7zM638 57h7v2h-7zM607 57h1v3h-1zM639 59h6v1h-6zM545 57h5v4h-5zM490 58h3v4h-3zM583 59h6v3h-6zM626 58h5v4h-5zM491 62h1v1h-1zM625 62h6v1h-6zM584 62h5v2h-5zM625 63h5v1h-5zM544 61h6v4h-6zM584 64h4v1h-4zM624 64h6v1h-6zM585 65h3v1h-3zM624 65h5v1h-5zM639 60h5v6h-5zM534 66h1v1h-1zM576 66h2v1h-2zM585 66h2v1h-2zM640 66h4v1h-4zM487 66h1v2h-1zM534 67h2v1h-2zM569 67h9v1h-9zM586 67h1v1h-1zM624 66h4v2h-4zM568 68h10v1h-10zM640 67h3v2h-3zM623 68h4v2h-4zM641 69h2v1h-2zM487 68h2v3h-2zM533 68h3v3h-3zM567 69h11v2h-11zM500 58h1v14h-1zM518 71h4v1h-4zM486 71h3v2h-3zM517 72h6v1h-6zM533 71h4v2h-4zM516 73h8v1h-8zM623 70h3v5h-3zM603 73h1v3h-1zM532 73h5v4h-5zM544 65h7v12h-7zM566 71h13v7h-13zM515 74h10v5h-10zM486 73h4v7h-4zM516 79h9v1h-9zM532 77h6v3h-6zM545 77h5v3h-5zM566 78h12v2h-12zM622 75h4v5h-4zM477 80h13v1h-13zM507 80h23v1h-23zM531 80h7v1h-7zM544 80h122v1h-122zM477 81h15v1h-15zM499 81h167v1h-167zM477 82h189v15h-189z"/><path fill="#005aff" d="M572 20h2v2h-2zM572 22h3v5h-3zM572 27h4v1h-4zM572 28h5v1h-5zM573 29h4v1h-4zM574 30h4v1h-4zM575 31h3v1h-3zM575 32h4v2h-4zM576 34h3v4h-3zM577 38h2v1h-2zM578 39h1v1h-1zM580 41h3v1h-3zM580 42h4v2h-4zM492 43h1v2h-1zM580 44h5v2h-5zM581 46h5v1h-5zM581 47h6v2h-6zM581 49h7v1h-7zM607 47h1v5h-1zM582 50h6v3h-6zM491 45h2v9h-2zM491 54h1v2h-1zM583 53h6v3h-6zM547 55h1v2h-1zM546 57h2v1h-2zM584 56h5v3h-5zM584 59h4v1h-4zM641 56h2v5h-2zM546 58h3v5h-3zM585 60h3v3h-3zM641 61h1v2h-1zM545 63h4v1h-4zM586 63h1v1h-1zM571 68h2v1h-2zM569 69h7v1h-7zM568 70h9v1h-9zM567 71h10v1h-10zM518 72h4v1h-4zM534 71h1v2h-1zM517 73h6v1h-6zM534 73h2v2h-2zM545 64h5v12h-5zM546 76h4v1h-4zM567 72h11v5h-11zM516 74h8v5h-8zM567 77h10v2h-10zM516 79h7v1h-7zM533 75h3v5h-3zM546 77h3v3h-3zM568 79h8v1h-8zM514 80h15v1h-15zM534 80h2v1h-2zM545 80h65v1h-65zM614 80h52v1h-52zM477 80h11v2h-11zM509 81h22v1h-22zM534 81h1v1h-1zM544 81h122v1h-122zM508 82h24v1h-24zM507 83h25v4h-25zM477 82h12v6h-12zM506 87h26v1h-26zM477 88h56v1h-56zM477 89h57v2h-57zM477 91h58v6h-58zM540 82h126v15h-126z"/><path fill="#006dff" d="M585 51h2v4h-2zM585 55h3v3h-3zM585 58h2v1h-2zM586 59h1v2h-1zM547 59h1v4h-1zM571 69h2v1h-2zM569 70h6v1h-6zM568 71h8v1h-8zM519 72h2v1h-2zM568 72h9v1h-9zM517 73h5v1h-5zM517 74h6v1h-6zM546 63h3v13h-3zM547 76h2v1h-2zM567 73h10v4h-10zM516 75h8v3h-8zM568 77h8v2h-8zM517 78h6v2h-6zM547 77h1v3h-1zM569 79h6v1h-6zM516 80h13v1h-13zM545 80h63v1h-63zM616 80h50v1h-50zM477 81h10v1h-10zM511 81h19v1h-19zM544 81h122v2h-122zM509 82h22v6h-22zM508 88h23v1h-23zM477 82h11v9h-11zM508 89h24v2h-24zM477 91h12v6h-12zM507 91h25v6h-25zM543 83h123v14h-123z"/><path fill="#0080ff" d="M570 70h4v1h-4zM569 71h6v1h-6zM518 73h4v1h-4zM547 64h1v12h-1zM568 72h8v6h-8zM517 74h6v5h-6zM569 78h6v1h-6zM518 79h4v1h-4zM570 79h4v1h-4zM516 80h12v1h-12zM547 80h45v1h-45zM601 80h5v1h-5zM617 80h49v1h-49zM477 81h8v1h-8zM514 81h15v1h-15zM545 81h66v1h-66zM613 81h53v1h-53zM511 82h19v1h-19zM510 83h20v3h-20zM510 86h21v4h-21zM477 82h10v15h-10zM509 90h22v7h-22zM544 82h122v15h-122z"/><path fill="#0092ff" d="M570 71h4v1h-4zM569 72h6v1h-6zM519 73h2v1h-2zM569 73h7v1h-7zM518 74h4v1h-4zM568 74h8v3h-8zM517 75h6v3h-6zM569 77h6v1h-6zM517 78h5v1h-5zM569 78h5v1h-5zM518 79h4v1h-4zM571 79h1v1h-1zM516 80h12v1h-12zM550 80h40v1h-40zM622 80h44v1h-44zM477 81h6v1h-6zM516 81h13v1h-13zM546 81h63v1h-63zM615 81h51v1h-51zM512 82h18v4h-18zM545 82h121v5h-121zM511 86h19v2h-19zM511 88h20v3h-20zM477 82h9v15h-9zM510 91h21v6h-21zM544 87h122v10h-122z"/><path fill="#00a5ff" d="M571 71h2v1h-2zM518 74h4v1h-4zM517 75h5v1h-5zM517 76h6v1h-6zM517 77h5v1h-5zM569 72h6v6h-6zM518 78h4v1h-4zM570 78h3v1h-3zM519 79h2v1h-2zM516 80h11v1h-11zM552 80h35v1h-35zM627 80h39v1h-39zM477 81h4v1h-4zM516 81h13v1h-13zM547 81h61v1h-61zM616 81h50v1h-50zM514 82h15v1h-15zM513 83h16v3h-16zM545 82h66v4h-66zM613 82h53v4h-53zM477 82h8v5h-8zM513 86h17v1h-17zM512 87h18v4h-18zM512 91h19v1h-19zM477 87h9v10h-9zM511 92h20v5h-20zM545 86h121v11h-121z"/><path fill="#00b8ff" d="M570 72h4v1h-4zM519 74h2v1h-2zM569 73h6v4h-6zM570 77h4v1h-4zM518 75h4v4h-4zM517 80h8v1h-8zM553 80h33v1h-33zM630 80h36v1h-36zM516 81h12v1h-12zM549 81h58v1h-58zM617 81h49v1h-49zM477 82h7v4h-7zM515 82h14v4h-14zM546 82h64v4h-64zM614 82h52v4h-52zM546 86h65v1h-65zM613 86h53v1h-53zM514 86h15v2h-15zM514 88h16v1h-16zM477 86h8v11h-8zM513 89h17v8h-17zM545 87h121v10h-121z"/><path fill="#00cbff" d="M571 72h2v1h-2zM519 74h2v1h-2zM570 73h4v4h-4zM518 75h4v3h-4zM571 77h2v1h-2zM519 78h2v1h-2zM517 80h7v1h-7zM554 80h30v1h-30zM630 80h36v1h-36zM516 81h12v1h-12zM550 81h42v1h-42zM599 81h7v1h-7zM618 81h48v1h-48zM477 82h5v1h-5zM547 82h62v3h-62zM477 83h6v3h-6zM546 85h63v1h-63zM615 82h51v4h-51zM516 82h13v5h-13zM546 86h64v1h-64zM614 86h52v1h-52zM546 87h65v1h-65zM477 86h7v3h-7zM546 88h66v1h-66zM613 87h53v2h-53zM515 87h14v3h-14zM546 89h120v2h-120zM477 89h8v8h-8zM514 90h16v7h-16zM545 91h121v6h-121z"/><path fill="#00defd" d="M519 75h2v1h-2zM518 76h4v1h-4zM570 73h4v4h-4zM518 77h3v1h-3zM519 78h2v1h-2zM517 80h7v1h-7zM555 80h28v1h-28zM631 80h9v1h-9zM641 80h25v1h-25zM516 81h12v1h-12zM550 81h41v1h-41zM621 81h45v1h-45zM477 82h4v1h-4zM548 82h60v3h-60zM616 82h50v3h-50zM477 83h5v3h-5zM547 85h61v1h-61zM477 86h6v1h-6zM547 86h62v1h-62zM547 87h63v1h-63zM615 85h51v3h-51zM546 88h64v1h-64zM614 88h52v1h-52zM516 82h13v8h-13zM546 89h65v1h-65zM613 89h53v1h-53zM477 87h7v4h-7zM477 91h8v6h-8zM515 90h14v7h-14zM546 90h120v7h-120z"/><path fill="#09f1ee" d="M571 73h2v4h-2zM519 75h2v3h-2zM517 80h7v1h-7zM562 80h17v1h-17zM632 80h7v1h-7zM642 80h9v1h-9zM551 81h39v1h-39zM623 81h43v1h-43zM516 81h12v4h-12zM477 83h4v3h-4zM549 82h59v4h-59zM477 86h5v1h-5zM548 86h60v1h-60zM616 82h50v5h-50zM477 87h6v2h-6zM547 87h62v2h-62zM547 89h63v1h-63zM615 87h51v3h-51zM546 90h65v1h-65zM614 90h52v1h-52zM546 91h66v1h-66zM613 91h53v1h-53zM477 89h7v8h-7zM516 85h13v12h-13zM546 92h120v5h-120z"/><path fill="#18ffde" d="M571 74h2v2h-2zM519 76h2v2h-2zM517 80h7v1h-7zM566 80h11v1h-11zM633 80h5v1h-5zM643 80h5v1h-5zM516 81h11v1h-11zM551 81h38v1h-38zM625 81h41v1h-41zM516 82h12v4h-12zM549 82h58v4h-58zM617 82h49v4h-49zM549 86h59v1h-59zM477 86h4v2h-4zM548 87h60v1h-60zM477 88h5v1h-5zM548 88h61v1h-61zM616 86h50v3h-50zM547 89h62v1h-62zM477 89h6v2h-6zM547 90h63v2h-63zM615 89h51v3h-51zM477 91h7v6h-7zM516 86h13v11h-13zM547 92h64v5h-64zM614 92h52v5h-52z"/><path fill="#28ffcf" d="M517 80h7v1h-7zM567 80h9v1h-9zM517 81h10v1h-10zM552 81h36v1h-36zM627 81h39v1h-39zM550 82h56v1h-56zM618 82h48v1h-48zM550 83h57v2h-57zM516 82h12v5h-12zM549 85h58v3h-58zM617 83h49v5h-49zM477 88h4v1h-4zM549 88h59v1h-59zM477 89h5v1h-5zM548 89h60v1h-60zM548 90h61v1h-61zM477 90h6v2h-6zM547 91h62v1h-62zM616 88h50v4h-50zM477 92h7v5h-7zM516 87h13v10h-13zM547 92h63v5h-63zM615 92h51v5h-51z"/><path fill="#37ffc0" d="M517 80h6v1h-6zM568 80h7v1h-7zM517 81h10v1h-10zM552 81h35v1h-35zM628 81h38v1h-38zM550 82h41v1h-41zM620 82h46v1h-46zM550 83h42v3h-42zM549 86h57v1h-57zM618 83h48v4h-48zM516 82h12v6h-12zM549 87h58v2h-58zM477 89h4v1h-4zM549 89h59v1h-59zM617 87h49v4h-49zM477 90h5v2h-5zM548 90h60v2h-60zM477 92h6v5h-6zM516 88h13v9h-13zM548 92h61v5h-61zM616 91h50v6h-50z"/><path fill="#46ffb1" d="M517 80h6v1h-6zM569 80h6v1h-6zM517 81h8v1h-8zM553 81h33v1h-33zM629 81h37v1h-37zM622 82h44v1h-44zM621 83h45v2h-45zM550 82h41v4h-41zM620 85h46v1h-46zM550 86h42v1h-42zM619 86h47v1h-47zM549 87h45v1h-45zM516 82h12v7h-12zM618 87h48v3h-48zM549 88h58v3h-58zM477 91h4v1h-4zM549 91h59v1h-59zM477 92h5v5h-5zM516 89h13v8h-13zM548 92h60v5h-60zM617 90h49v7h-49z"/><path fill="#55ffa1" d="M517 80h6v1h-6zM570 80h4v1h-4zM517 81h7v1h-7zM553 81h33v1h-33zM630 81h36v1h-36zM551 82h39v1h-39zM624 82h42v1h-42zM623 83h43v2h-43zM622 85h44v1h-44zM550 83h41v4h-41zM621 86h45v1h-45zM550 87h42v1h-42zM620 87h46v1h-46zM549 88h43v1h-43zM619 88h47v1h-47zM516 82h12v8h-12zM549 89h57v1h-57zM477 92h4v5h-4zM516 90h13v7h-13zM549 90h58v7h-58zM618 89h48v8h-48z"/><path fill="#65ff92" d="M518 80h5v1h-5zM517 81h7v1h-7zM553 81h32v1h-32zM630 81h36v1h-36zM625 82h41v1h-41zM551 82h39v4h-39zM624 83h42v3h-42zM622 86h44v1h-44zM550 86h41v2h-41zM621 87h45v1h-45zM620 88h46v1h-46zM550 88h42v2h-42zM516 82h12v9h-12zM549 90h44v1h-44zM549 91h57v1h-57zM619 89h47v3h-47zM516 91h13v6h-13zM549 92h58v5h-58zM618 92h48v5h-48z"/><path fill="#74ff83" d="M518 80h5v1h-5zM517 81h7v1h-7zM554 81h30v1h-30zM630 81h36v1h-36zM516 82h11v3h-11zM551 82h38v3h-38zM626 82h40v3h-40zM551 85h39v1h-39zM625 85h41v1h-41zM550 86h40v1h-40zM624 86h42v1h-42zM622 87h44v1h-44zM550 87h41v2h-41zM621 88h45v2h-45zM550 89h42v2h-42zM620 90h46v1h-46zM516 85h12v7h-12zM549 91h43v1h-43zM516 92h13v5h-13zM549 92h44v5h-44zM619 91h47v6h-47z"/><path fill="#83ff74" d="M518 80h5v1h-5zM517 81h7v1h-7zM554 81h30v1h-30zM631 81h9v1h-9zM641 81h25v1h-25zM552 82h36v1h-36zM627 82h39v1h-39zM517 82h10v4h-10zM551 83h38v3h-38zM626 83h40v3h-40zM517 86h11v1h-11zM551 86h39v1h-39zM625 86h41v1h-41zM550 87h40v1h-40zM624 87h42v1h-42zM622 88h44v2h-44zM550 88h41v3h-41zM621 90h45v1h-45zM550 91h42v1h-42zM516 87h12v10h-12zM549 92h43v5h-43zM620 91h46v6h-46z"/><path fill="#92ff65" d="M518 80h5v1h-5zM517 81h7v1h-7zM555 81h28v1h-28zM631 81h9v1h-9zM641 81h12v1h-12zM656 81h7v1h-7zM628 82h38v1h-38zM552 82h36v3h-36zM517 82h10v4h-10zM627 83h39v3h-39zM551 85h38v2h-38zM625 86h41v1h-41zM551 87h39v1h-39zM624 87h42v1h-42zM517 86h11v3h-11zM550 88h40v1h-40zM623 88h43v2h-43zM622 90h44v1h-44zM550 89h41v3h-41zM516 89h12v8h-12zM550 92h42v5h-42zM621 91h45v6h-45z"/><path fill="#a1ff55" d="M518 80h5v1h-5zM517 81h7v1h-7zM560 81h20v1h-20zM632 81h7v1h-7zM642 81h9v1h-9zM517 82h9v1h-9zM552 82h35v1h-35zM628 82h38v3h-38zM552 83h36v3h-36zM627 85h39v1h-39zM517 83h10v4h-10zM551 86h38v1h-38zM626 86h40v1h-40zM551 87h39v1h-39zM625 87h41v1h-41zM624 88h42v1h-42zM550 88h40v2h-40zM517 87h11v4h-11zM623 89h43v2h-43zM622 91h44v1h-44zM516 91h12v6h-12zM550 90h41v7h-41zM621 92h45v5h-45z"/><path fill="#b1ff46" d="M518 80h5v1h-5zM517 81h7v1h-7zM562 81h16v1h-16zM632 81h7v1h-7zM642 81h8v1h-8zM517 82h8v1h-8zM629 82h37v1h-37zM517 83h9v2h-9zM552 82h35v4h-35zM628 83h38v3h-38zM517 85h10v2h-10zM551 86h37v1h-37zM627 86h39v1h-39zM551 87h38v1h-38zM626 87h40v1h-40zM551 88h39v1h-39zM625 88h41v1h-41zM624 89h42v1h-42zM550 89h40v2h-40zM623 90h43v2h-43zM517 87h11v10h-11zM550 91h41v6h-41zM622 92h44v5h-44z"/><path fill="#c0ff37" d="M518 80h5v1h-5zM565 81h12v1h-12zM633 81h5v1h-5zM643 81h6v1h-6zM517 81h7v2h-7zM553 82h33v1h-33zM517 83h8v2h-8zM629 82h37v3h-37zM517 85h9v1h-9zM552 83h35v3h-35zM628 85h38v1h-38zM552 86h36v1h-36zM627 86h39v1h-39zM517 86h10v2h-10zM626 87h40v1h-40zM551 87h38v2h-38zM625 88h41v1h-41zM551 89h39v1h-39zM624 89h42v2h-42zM550 90h40v2h-40zM517 88h11v9h-11zM550 92h41v5h-41zM623 91h43v6h-43z"/><path fill="#cfff28" d="M518 80h5v1h-5zM567 81h9v1h-9zM633 81h5v1h-5zM643 81h5v1h-5zM630 82h36v1h-36zM517 81h7v4h-7zM517 85h8v1h-8zM553 82h33v4h-33zM629 83h37v3h-37zM552 86h35v1h-35zM628 86h38v1h-38zM551 87h37v1h-37zM627 87h39v1h-39zM517 86h10v3h-10zM626 88h40v1h-40zM551 88h38v2h-38zM625 89h41v1h-41zM551 90h39v1h-39zM517 89h11v8h-11zM550 91h40v6h-40zM624 90h42v7h-42z"/><path fill="#deff18" d="M518 80h5v1h-5zM567 81h9v1h-9zM634 81h3v1h-3zM644 81h3v1h-3zM553 82h32v1h-32zM630 82h36v3h-36zM517 81h7v5h-7zM553 83h33v3h-33zM517 86h9v1h-9zM552 86h35v1h-35zM629 85h37v2h-37zM552 87h36v1h-36zM627 87h39v1h-39zM517 87h10v2h-10zM551 88h37v1h-37zM626 88h40v2h-40zM551 89h38v2h-38zM625 90h41v1h-41zM517 89h11v8h-11zM550 91h40v6h-40zM624 91h42v6h-42z"/><path fill="#eeff09" d="M518 80h5v1h-5zM517 81h6v1h-6zM568 81h7v1h-7zM554 82h31v1h-31zM553 83h32v2h-32zM517 82h7v4h-7zM630 82h36v4h-36zM517 86h8v1h-8zM553 85h33v2h-33zM629 86h37v1h-37zM552 87h35v1h-35zM628 87h38v1h-38zM517 87h10v2h-10zM551 88h37v1h-37zM627 88h39v1h-39zM626 89h40v1h-40zM551 89h38v2h-38zM551 91h39v1h-39zM625 90h41v2h-41zM517 89h11v8h-11zM550 92h40v5h-40zM624 92h42v5h-42z"/><path fill="#fdef00" d="M518 80h5v1h-5zM517 81h6v1h-6zM569 81h6v1h-6zM554 82h30v1h-30zM554 83h31v2h-31zM553 85h32v1h-32zM630 82h36v4h-36zM517 82h7v5h-7zM553 86h33v1h-33zM517 87h9v1h-9zM629 86h37v2h-37zM552 87h35v2h-35zM628 88h38v1h-38zM517 88h10v2h-10zM551 89h37v1h-37zM627 89h39v1h-39zM626 90h40v1h-40zM551 90h38v2h-38zM517 90h11v7h-11zM551 92h39v5h-39zM625 91h41v6h-41z"/><path fill="#ffdd00" d="M518 80h5v1h-5zM517 81h6v1h-6zM570 81h4v1h-4zM554 82h30v1h-30zM631 82h9v1h-9zM641 82h25v1h-25zM554 83h31v3h-31zM517 82h7v5h-7zM553 86h32v1h-32zM630 83h36v4h-36zM517 87h8v1h-8zM552 87h34v1h-34zM629 87h37v1h-37zM552 88h35v1h-35zM628 88h38v1h-38zM517 88h10v2h-10zM627 89h39v1h-39zM551 89h37v2h-37zM626 90h40v2h-40zM517 90h11v7h-11zM551 91h38v6h-38zM625 92h41v5h-41z"/><path fill="#ffcc00" d="M518 80h5v1h-5zM517 81h6v1h-6zM571 81h2v1h-2zM555 82h29v1h-29zM554 83h30v3h-30zM631 82h9v4h-9zM641 82h25v4h-25zM553 86h32v1h-32zM630 86h36v1h-36zM517 82h7v6h-7zM553 87h33v1h-33zM517 88h9v1h-9zM629 87h37v2h-37zM517 89h10v1h-10zM552 88h35v2h-35zM628 89h38v1h-38zM551 90h37v1h-37zM627 90h39v1h-39zM626 91h40v1h-40zM517 90h11v7h-11zM551 91h38v6h-38zM625 92h41v5h-41z"/><path fill="#ffba00" d="M518 80h5v1h-5zM517 81h6v1h-6zM558 82h25v1h-25zM641 82h11v1h-11zM554 83h30v3h-30zM631 82h9v4h-9zM554 86h31v1h-31zM517 82h7v6h-7zM553 87h32v1h-32zM630 86h10v2h-10zM641 83h25v5h-25zM517 88h8v1h-8zM552 88h34v1h-34zM629 88h37v1h-37zM552 89h35v1h-35zM628 89h38v1h-38zM517 89h10v2h-10zM627 90h39v1h-39zM551 90h37v2h-37zM517 91h11v6h-11zM551 92h38v5h-38zM626 91h40v6h-40z"/><path fill="#ffa900" d="M518 80h5v2h-5zM559 82h22v1h-22zM632 82h7v1h-7zM642 82h9v1h-9zM555 83h28v2h-28zM555 85h29v1h-29zM554 86h30v1h-30zM631 83h9v4h-9zM554 87h31v1h-31zM517 82h7v7h-7zM553 88h33v1h-33zM630 87h10v2h-10zM552 89h34v1h-34zM629 89h11v1h-11zM517 89h10v2h-10zM552 90h35v1h-35zM628 90h12v1h-12zM641 83h25v8h-25zM627 91h39v1h-39zM517 91h11v6h-11zM551 91h37v6h-37zM626 92h40v5h-40z"/><path fill="#ff9700" d="M518 80h5v2h-5zM560 82h18v1h-18zM632 82h7v1h-7zM559 83h22v2h-22zM632 83h8v2h-8zM642 82h9v3h-9zM558 85h24v1h-24zM642 85h10v1h-10zM554 86h30v2h-30zM631 85h9v3h-9zM517 82h7v7h-7zM553 88h32v1h-32zM630 88h10v1h-10zM552 89h34v1h-34zM629 89h11v1h-11zM517 89h10v3h-10zM552 90h35v2h-35zM628 90h12v2h-12zM517 92h11v5h-11zM551 92h37v5h-37zM627 92h13v5h-13zM641 86h25v11h-25z"/><path fill="#ff8600" d="M518 80h5v2h-5zM562 82h15v1h-15zM642 82h8v1h-8zM560 83h19v2h-19zM559 85h21v1h-21zM632 82h7v4h-7zM642 83h9v3h-9zM555 86h28v1h-28zM631 86h8v1h-8zM554 87h30v1h-30zM631 87h9v1h-9zM642 86h24v2h-24zM517 82h7v7h-7zM554 88h31v1h-31zM517 89h9v1h-9zM553 89h33v1h-33zM630 88h10v2h-10zM552 90h34v1h-34zM629 90h11v1h-11zM517 90h10v2h-10zM552 91h35v1h-35zM628 91h12v1h-12zM517 92h11v5h-11zM551 92h36v5h-36zM627 92h13v5h-13zM641 88h25v9h-25z"/><path fill="#ff7400" d="M518 80h5v2h-5zM565 82h12v1h-12zM633 82h6v1h-6zM643 82h6v1h-6zM561 83h16v2h-16zM642 83h8v2h-8zM561 85h17v1h-17zM559 86h22v1h-22zM632 83h7v4h-7zM642 85h9v2h-9zM555 87h29v1h-29zM517 82h7v7h-7zM554 88h30v1h-30zM631 87h8v2h-8zM517 89h8v1h-8zM553 89h32v1h-32zM630 89h9v1h-9zM552 90h34v1h-34zM630 90h10v1h-10zM642 87h24v4h-24zM629 91h11v1h-11zM517 90h10v7h-10zM552 91h35v6h-35zM628 92h12v5h-12zM641 91h25v6h-25z"/><path fill="#ff6300" d="M518 80h4v1h-4zM518 81h5v1h-5zM566 82h11v1h-11zM633 82h5v1h-5zM643 82h6v1h-6zM564 83h13v2h-13zM633 83h6v2h-6zM563 85h14v1h-14zM642 83h8v3h-8zM562 86h17v1h-17zM642 86h9v1h-9zM559 87h23v1h-23zM632 85h7v3h-7zM642 87h10v1h-10zM554 88h30v1h-30zM517 82h7v8h-7zM631 88h8v2h-8zM553 89h32v2h-32zM630 90h9v1h-9zM552 91h34v1h-34zM517 90h10v7h-10zM552 92h35v5h-35zM629 91h10v6h-10zM642 88h24v9h-24z"/><path fill="#ff5100" d="M518 80h3v1h-3zM518 81h5v1h-5zM567 82h9v1h-9zM634 82h4v1h-4zM643 82h5v1h-5zM566 83h11v3h-11zM633 83h5v3h-5zM643 83h6v3h-6zM564 86h13v1h-13zM643 86h7v1h-7zM562 87h18v1h-18zM642 87h9v1h-9zM558 88h25v1h-25zM632 86h7v3h-7zM642 88h10v1h-10zM517 82h7v8h-7zM554 89h30v1h-30zM631 89h8v1h-8zM517 90h9v1h-9zM553 90h32v1h-32zM630 90h9v2h-9zM517 91h10v6h-10zM552 91h34v6h-34zM629 92h10v5h-10zM642 89h24v8h-24z"/><path fill="#ff4000" d="M518 81h5v1h-5zM634 82h4v1h-4zM643 82h5v1h-5zM567 82h9v4h-9zM566 86h11v1h-11zM633 83h5v4h-5zM643 83h6v4h-6zM564 87h14v1h-14zM643 87h7v1h-7zM563 88h18v1h-18zM632 87h6v2h-6zM643 88h8v1h-8zM517 82h7v8h-7zM554 89h30v1h-30zM643 89h23v1h-23zM517 90h8v1h-8zM631 89h8v2h-8zM553 90h32v2h-32zM517 91h10v6h-10zM552 92h34v5h-34zM630 91h9v6h-9zM642 90h24v7h-24z"/><path fill="#ff2e00" d="M518 81h5v1h-5zM517 82h6v1h-6zM568 82h7v1h-7zM634 82h2v1h-2zM645 82h2v1h-2zM634 83h4v3h-4zM643 83h5v3h-5zM567 83h9v4h-9zM643 86h6v1h-6zM566 87h11v1h-11zM633 86h5v2h-5zM565 88h14v1h-14zM643 87h7v2h-7zM555 89h28v1h-28zM632 88h6v2h-6zM643 89h8v1h-8zM517 83h7v8h-7zM554 90h30v1h-30zM553 91h32v1h-32zM631 90h7v2h-7zM517 91h10v6h-10zM552 92h33v5h-33zM630 92h9v5h-9zM643 90h23v7h-23z"/><path fill="#ff1d00" d="M518 81h5v1h-5zM569 82h6v1h-6zM517 82h6v3h-6zM644 83h3v2h-3zM568 83h8v3h-8zM634 83h3v3h-3zM644 85h4v1h-4zM634 86h4v1h-4zM643 86h5v1h-5zM567 86h9v2h-9zM643 87h6v1h-6zM567 88h10v1h-10zM633 87h5v2h-5zM643 88h7v1h-7zM563 89h18v1h-18zM643 89h8v1h-8zM517 85h7v6h-7zM554 90h30v1h-30zM632 89h6v2h-6zM643 90h9v1h-9zM517 91h9v1h-9zM517 92h10v5h-10zM553 91h32v6h-32zM631 91h7v6h-7zM643 91h23v6h-23z"/><path fill="#f60b00" d="M518 81h5v1h-5zM569 82h6v1h-6zM517 82h6v4h-6zM568 83h7v3h-7zM634 83h2v3h-2zM645 83h2v4h-2zM568 86h8v2h-8zM644 87h4v1h-4zM567 88h9v1h-9zM634 86h3v3h-3zM644 88h5v1h-5zM566 89h12v1h-12zM643 89h7v1h-7zM517 86h7v5h-7zM554 90h29v1h-29zM633 89h5v2h-5zM643 90h8v1h-8zM517 91h8v1h-8zM554 91h30v1h-30zM632 91h6v1h-6zM517 92h10v5h-10zM553 92h32v5h-32zM631 92h7v5h-7zM643 91h23v6h-23z"/><path fill="#e00000" d="M518 81h5v1h-5zM570 82h4v1h-4zM517 82h6v5h-6zM569 83h6v4h-6zM646 86h1v1h-1zM568 87h7v1h-7zM645 87h2v1h-2zM568 88h8v1h-8zM634 87h2v2h-2zM645 88h3v1h-3zM567 89h10v1h-10zM634 89h3v1h-3zM644 89h5v1h-5zM555 90h4v1h-4zM562 90h18v1h-18zM644 90h6v1h-6zM517 87h7v5h-7zM554 91h30v1h-30zM633 90h4v2h-4zM644 91h7v1h-7zM517 92h10v5h-10zM553 92h31v5h-31zM632 92h6v5h-6zM643 92h23v5h-23z"/><path fill="#cb0000" d="M518 81h5v1h-5zM571 82h2v1h-2zM517 82h6v5h-6zM570 83h4v4h-4zM569 87h6v2h-6zM568 89h8v1h-8zM646 88h1v2h-1zM566 90h11v1h-11zM645 90h4v1h-4zM517 87h7v5h-7zM554 91h29v1h-29zM634 89h2v3h-2zM645 91h5v1h-5zM517 92h9v5h-9zM554 92h30v5h-30zM633 92h4v5h-4zM645 92h6v5h-6z"/><path fill="#b50000" d="M518 81h5v1h-5zM517 82h6v6h-6zM571 83h2v6h-2zM569 89h6v1h-6zM568 90h8v1h-8zM517 88h7v4h-7zM554 91h6v1h-6zM561 91h19v1h-19zM646 91h2v1h-2zM517 92h8v5h-8zM554 92h30v5h-30zM634 92h1v5h-1zM646 92h4v5h-4z"/><path fill="#a00000" d="M518 81h5v1h-5zM517 82h6v7h-6zM571 89h1v1h-1zM569 90h6v1h-6zM567 91h10v1h-10zM517 89h7v8h-7zM554 92h27v5h-27z"/><path fill="#8a0000" d="M518 81h5v2h-5zM517 83h6v6h-6zM569 91h6v1h-6zM517 89h7v8h-7zM554 92h6v5h-6zM567 92h10v5h-10z"/></g></g></g>
<text x="477.6" y="95.8" text-anchor="end" font-size="6.45">0</text>
<text x="477.6" y="78.9" text-anchor="end" font-size="6.45">10</text>
<text x="477.6" y="62.0" text-anchor="end" font-size="6.45">20</text>
<text x="477.6" y="45.2" text-anchor="end" font-size="6.45">30</text>
<text x="477.6" y="28.3" text-anchor="end" font-size="6.45">40</text>
<text x="477.6" y="11.4" text-anchor="end" font-size="6.45">50</text>
<text x="480.4" y="101.4" text-anchor="middle" font-size="6.45">4.0</text>
<text x="509.0" y="101.4" text-anchor="middle" font-size="6.45">4.5</text>
<text x="537.6" y="101.4" text-anchor="middle" font-size="6.45">5.0</text>
<text x="566.2" y="101.4" text-anchor="middle" font-size="6.45">5.5</text>
<text x="594.8" y="101.4" text-anchor="middle" font-size="6.45">6.0</text>
<text x="623.4" y="101.4" text-anchor="middle" font-size="6.45">6.5</text>
<text x="652.0" y="101.4" text-anchor="middle" font-size="6.45">7.0</text>
<rect x="664.0" y="9.2" width="9.7" height="84.4" fill="url(#jet)"/>
<path d="M673.7 87.0h1.6" stroke="#555" stroke-width=".5"/>
<text x="676.9" y="89.3" font-size="6.45">0</text>
<path d="M673.7 67.5h1.6" stroke="#555" stroke-width=".5"/>
<text x="676.9" y="69.8" font-size="6.45">5</text>
<path d="M673.7 48.1h1.6" stroke="#555" stroke-width=".5"/>
<text x="676.9" y="50.4" font-size="6.45">10</text>
<path d="M673.7 28.6h1.6" stroke="#555" stroke-width=".5"/>
<text x="676.9" y="30.9" font-size="6.45">15</text>
<path d="M673.7 9.2h1.6" stroke="#555" stroke-width=".5"/>
<text x="676.9" y="11.5" font-size="6.45">20</text>
<text x="572.2" y="108.9" text-anchor="middle" font-size="6.8">Butterworth 2nd Order Filtered Signal Between 0.5-100 Hz</text>
<rect x="480.4" y="112.0" width="183.1" height="83.8" fill="#eaeaf2"/>
<text x="480.4" y="204.2" text-anchor="middle" font-size="6.45">4.0</text>
<text x="509.0" y="204.2" text-anchor="middle" font-size="6.45">4.5</text>
<text x="537.6" y="204.2" text-anchor="middle" font-size="6.45">5.0</text>
<text x="566.2" y="204.2" text-anchor="middle" font-size="6.45">5.5</text>
<text x="594.8" y="204.2" text-anchor="middle" font-size="6.45">6.0</text>
<text x="623.4" y="204.2" text-anchor="middle" font-size="6.45">6.5</text>
<text x="652.0" y="204.2" text-anchor="middle" font-size="6.45">7.0</text>
<text x="477.2" y="185.0" text-anchor="end" font-size="6.45">−40</text>
<text x="477.2" y="170.6" text-anchor="end" font-size="6.45">−20</text>
<text x="477.2" y="156.2" text-anchor="end" font-size="6.45">0</text>
<text x="477.2" y="141.8" text-anchor="end" font-size="6.45">20</text>
<text x="477.2" y="127.4" text-anchor="end" font-size="6.45">40</text>
<path d="M480.4 112.0V195.8M509.0 112.0V195.8M537.6 112.0V195.8M566.2 112.0V195.8M594.8 112.0V195.8M623.4 112.0V195.8M652.0 112.0V195.8M480.4 182.8H663.5M480.4 168.4H663.5M480.4 154.0H663.5M480.4 139.6H663.5M480.4 125.2H663.5" stroke="#fff" stroke-width=".45" stroke-opacity=".6" fill="none"/>
<polyline points="480.4,155.8 480.7,154.5 481.1,157.2 481.4,160.5 481.7,152.5 482,157.9 482.4,156.5 482.7,159 483,156.3 483.3,163.3 483.7,154.2 484,157.6 484.3,162.4 484.6,164.2 485,162.8 485.3,158.5 485.6,167.7 485.9,162.7 486.3,165.3 486.6,163.7 486.9,157.1 487.3,158.4 487.6,161.3 487.9,159.1 488.2,154.7 488.6,158.9 488.9,167.6 489.2,156.4 489.5,155.5 489.9,154.4 490.2,157.7 490.5,154.7 490.8,152.5 491.2,145.8 491.5,160.5 491.8,159.8 492.2,163.8 492.5,153.2 492.8,154.8 493.1,159.5 493.5,151.5 493.8,158.9 494.1,150 494.4,152.8 494.8,147.6 495.1,150.1 495.4,148 495.7,153.6 496.1,158.1 496.4,150.6 496.7,151 497,157.2 497.4,156.2 497.7,152.6 498,154.1 498.4,154.1 498.7,157.1 499,148.7 499.3,159.4 499.7,151.8 500,158.4 500.3,157.7 500.6,151.8 501,158.4 501.3,158.5 501.6,157.7 501.9,160.6 502.3,156.6 502.6,158.4 502.9,156 503.2,150 503.6,149.4 503.9,152 504.2,156.6 504.6,157.2 504.9,149.4 505.2,160.1 505.5,159.4 505.9,156.1 506.2,156.6 506.5,159.2 506.8,160 507.2,158 507.5,161.9 507.8,162.4 508.1,151.2 508.5,152.4 508.8,155.6 509.1,161.9 509.5,160.6 509.8,159.1 510.1,161.2 510.4,158.4 510.8,155.6 511.1,163.3 511.4,163.1 511.7,162.9 512.1,164.6 512.4,163.8 512.7,161.7 513,157.7 513.4,156.9 513.7,152 514,156 514.3,159.1 514.7,158.8 515,153.2 515.3,150.2 515.7,163.2 516,153.7 516.3,154.9 516.6,150.4 517,150.5 517.3,150.8 517.6,153.6 517.9,144.1 518.3,139.8 518.6,139.3 518.9,135.9 519.2,135.8 519.6,132.8 519.9,125.8 520.2,122.2 520.5,122.2 520.9,115.4 521.2,112.5 521.5,115 521.9,119.6 522.2,122.7 522.5,124.3 522.8,130.7 523.2,126.4 523.5,125.8 523.8,134.7 524.1,136.3 524.5,142.3 524.8,135.6 525.1,140.6 525.4,139.4 525.8,135.4 526.1,141.7 526.4,153.9 526.8,142.2 527.1,146.1 527.4,152.3 527.7,146.4 528.1,142.7 528.4,144.7 528.7,141.1 529,136.9 529.4,143.5 529.7,145.1 530,143.1 530.3,146.5 530.7,154.6 531,147.5 531.3,156.9 531.6,146.9 532,150.7 532.3,152.3 532.6,149 533,157.6 533.3,159.9 533.6,150.4 533.9,152.8 534.3,152.7 534.6,154.2 534.9,157.5 535.2,152.1 535.6,153.3 535.9,159.2 536.2,154.5 536.5,156.4 536.9,162 537.2,163.3 537.5,158 537.8,157.3 538.2,154.6 538.5,156.5 538.8,155.4 539.2,156.8 539.5,146.4 539.8,153.3 540.1,160.3 540.5,158.3 540.8,154.2 541.1,157 541.4,155.4 541.8,148.9 542.1,154.4 542.4,150 542.7,157.5 543.1,157.1 543.4,155.9 543.7,160.1 544.1,162.6 544.4,160.9 544.7,158.3 545,155.4 545.4,159.9 545.7,161.2 546,166 546.3,163.8 546.7,164.2 547,166.9 547.3,164.6 547.6,166.9 548,170 548.3,170 548.6,168.4 548.9,177.1 549.3,161.7 549.6,159.8 549.9,167.9 550.3,170.9 550.6,167.1 550.9,161.9 551.2,162.1 551.6,169.3 551.9,164.6 552.2,167.3 552.5,161.4 552.9,169.8 553.2,165.7 553.5,170.4 553.8,170.4 554.2,173.1 554.5,170.7 554.8,171.1 555.1,181.1 555.5,179.9 555.8,175.7 556.1,168.7 556.5,173.8 556.8,162.2 557.1,177.2 557.4,169.5 557.8,169.6 558.1,173.1 558.4,173.1 558.7,168.5 559.1,175.6 559.4,175.4 559.7,175.3 560,177 560.4,170.1 560.7,170.8 561,175.4 561.4,174.7 561.7,169.9 562,177.5 562.3,173.1 562.7,172.3 563,177 563.3,175.6 563.6,173.1 564,175.8 564.3,172.3 564.6,170.6 564.9,176 565.3,168.8 565.6,170.3 565.9,170.6 566.2,169.4 566.6,169.4 566.9,176.7 567.2,176.9 567.6,186.2 567.9,177.7 568.2,182.9 568.5,182.7 568.9,183.4 569.2,185.7 569.5,184.9 569.8,194 570.2,195.3 570.5,190.4 570.8,187 571.1,179.7 571.5,174.3 571.8,168.8 572.1,162.6 572.5,154.2 572.8,162.7 573.1,156.3 573.4,150.6 573.8,152.2 574.1,146.3 574.4,150 574.7,141.3 575.1,129.5 575.4,133.5 575.7,124 576,114 576.4,114.5 576.7,114 577,117.6 577.3,124.4 577.7,122.2 578,133.7 578.3,129.8 578.7,123.5 579,128.3 579.3,128.8 579.6,125.4 580,128.4 580.3,128.2 580.6,130.9 580.9,134.2 581.3,135.3 581.6,131.1 581.9,139.3 582.2,138 582.6,137.6 582.9,132.4 583.2,134.7 583.5,130.1 583.9,134.3 584.2,133.2 584.5,137.3 584.9,138.1 585.2,134.6 585.5,134 585.8,130.4 586.2,140.8 586.5,140 586.8,142.3 587.1,143.9 587.5,146.8 587.8,140.7 588.1,139.6 588.4,134.5 588.8,135.8 589.1,136 589.4,145.7 589.8,139.9 590.1,142.2 590.4,141.1 590.7,134.4 591.1,138.1 591.4,142 591.7,147.3 592,144.5 592.4,148.6 592.7,147.9 593,145.3 593.3,141.7 593.7,144.7 594,142.8 594.3,138.8 594.6,144.8 595,141.7 595.3,139.4 595.6,144.9 596,140.4 596.3,145.1 596.6,138.9 596.9,141.8 597.3,143.8 597.6,146.2 597.9,148.8 598.2,151.2 598.6,149 598.9,140.9 599.2,147.5 599.5,140.8 599.9,149.1 600.2,146.6 600.5,142.3 600.8,142.4 601.2,151.3 601.5,149.6 601.8,153.6 602.2,141.4 602.5,145.3 602.8,141.9 603.1,146.4 603.5,138.7 603.8,147.1 604.1,138.7 604.4,145.1 604.8,140.3 605.1,139.6 605.4,146.3 605.7,145.2 606.1,149.3 606.4,140.7 606.7,142.6 607.1,148.1 607.4,152.1 607.7,153.3 608,149 608.4,152.4 608.7,149.9 609,143.1 609.3,139.8 609.7,149 610,153.2 610.3,149.2 610.6,154.5 611,152.8 611.3,147.2 611.6,144.3 611.9,141.7 612.3,137.6 612.6,144.3 612.9,150.1 613.3,145.7 613.6,147.2 613.9,149.8 614.2,143.8 614.6,149.7 614.9,152.1 615.2,149.1 615.5,147 615.9,145.6 616.2,149.7 616.5,146.2 616.8,146.9 617.2,149.6 617.5,146.5 617.8,145 618.1,142.5 618.5,146.7 618.8,143.9 619.1,140.6 619.5,141.1 619.8,147.1 620.1,146.2 620.4,140.4 620.8,142.9 621.1,138.9 621.4,141.7 621.7,139.8 622.1,142.2 622.4,141.6 622.7,135.8 623,150.2 623.4,149.5 623.7,141.2 624,139.4 624.4,133.9 624.7,147.6 625,140.4 625.3,141.9 625.7,141.2 626,147.9 626.3,137.1 626.6,134.4 627,141.4 627.3,133 627.6,144.3 627.9,140.4 628.3,140.6 628.6,137.1 628.9,141.7 629.2,133.6 629.6,129.5 629.9,131.2 630.2,133.1 630.6,132.8 630.9,136.8 631.2,133.3 631.5,133 631.9,127.9 632.2,134.5 632.5,132.9 632.8,136.5 633.2,135 633.5,126.8 633.8,125.5 634.1,130.6 634.5,124.4 634.8,125.8 635.1,123.3 635.4,123.5 635.8,124.1 636.1,126.1 636.4,122.6 636.8,116.9 637.1,122.9 637.4,125.2 637.7,125.3 638.1,130.9 638.4,127.2 638.7,133.1 639,135.2 639.4,142.1 639.7,133.4 640,138.7 640.3,143.4 640.7,138 641,148.7 641.3,141.5 641.7,145.8 642,153.5 642.3,157.5 642.6,161.9 643,162.6 643.3,159.7 643.6,165.6 643.9,164.5 644.3,168.2 644.6,165.2 644.9,172.6 645.2,169.8 645.6,174.7 645.9,176.3 646.2,173 646.5,173.1 646.9,178.6 647.2,170.1 647.5,180.8 647.9,183.4 648.2,180.7 648.5,185.6 648.8,185.9 649.2,177.5 649.5,180.4 649.8,174.1 650.1,176.2 650.5,178 650.8,175.8 651.1,181 651.4,181.9 651.8,177.5 652.1,175.2 652.4,181 652.7,177 653.1,179.5 653.4,179.8 653.7,175.8 654.1,172.7 654.4,165.7 654.7,164.8 655,166.2 655.4,158.4 655.7,166.2 656,164.4 656.3,164.4 656.7,168.8 657,167.7 657.3,170.9 657.6,165.7 658,175.3 658.3,165 658.6,166.7 659,178.7 659.3,162 659.6,162.9 659.9,167.7 660.3,169.9 660.6,160.5 660.9,163.8 661.2,170.2 661.6,170.1 661.9,167.4 662.2,159.7 662.5,168.3 662.9,168.3" fill="none" stroke="#1f77b4" stroke-width=".75" stroke-linejoin="round"/>
<text x="572.0" y="211.2" text-anchor="middle" font-size="6.45">s</text>
<rect x="483.4" y="180.1" width="40.8" height="13.0" rx="1.2" fill="#eaeaf2" fill-opacity=".8" stroke="#d2d2da" stroke-width=".6"/>
<path d="M486.4 186.6h15" stroke="#1f77b4" stroke-width=".6"/>
<text x="507.6" y="189.2" font-size="7.3">FT8</text></g>
<g><text x="120.2" y="234.8" text-anchor="middle" font-size="6.8">STFT of Fp1 Channel Blink and Look Right</text>
<clipPath id="cFp1"><rect x="28.5" y="237.8" width="178.3" height="84.5"/></clipPath><g clip-path="url(#cFp1)"><g filter="url(#bl)"><g shape-rendering="crispEdges"><rect x="25" y="234" width="185" height="92" fill="#000eff"/><path fill="#0021ff" d="M25 234h32v5h-32zM122 234h7v5h-7zM123 239h6v3h-6zM130 234h80v8h-80zM58 234h62v9h-62zM123 242h87v1h-87zM25 239h6v5h-6zM164 243h46v1h-46zM25 244h5v1h-5zM32 239h24v6h-24zM123 243h40v2h-40zM165 244h45v1h-45zM123 245h87v2h-87zM59 243h61v8h-61zM25 245h31v7h-31zM88 251h32v1h-32zM105 252h15v1h-15zM59 251h28v3h-28zM106 253h14v1h-14zM123 247h6v7h-6zM130 247h80v7h-80zM25 252h32v3h-32zM58 254h29v1h-29zM105 254h16v1h-16zM122 254h88v1h-88zM25 255h62v1h-62zM88 252h16v4h-16zM25 256h79v7h-79zM105 255h105v8h-105zM25 263h185v63h-185z"/><path fill="#0034ff" d="M90 234h10v4h-10zM185 234h6v4h-6zM203 234h7v4h-7zM72 234h6v5h-6zM134 234h1v5h-1zM185 238h7v1h-7zM194 238h1v1h-1zM73 239h4v1h-4zM134 239h2v1h-2zM185 239h10v1h-10zM202 238h8v2h-8zM73 240h3v1h-3zM134 240h3v1h-3zM43 234h2v8h-2zM90 238h9v4h-9zM134 241h4v1h-4zM44 242h1v1h-1zM134 242h5v1h-5zM185 240h11v3h-11zM201 240h9v3h-9zM35 243h1v1h-1zM184 243h12v1h-12zM82 244h2v1h-2zM91 242h8v3h-8zM133 243h6v2h-6zM35 244h2v2h-2zM91 245h9v1h-9zM81 245h3v2h-3zM146 245h2v2h-2zM146 247h3v1h-3zM168 234h2v14h-2zM35 246h1v3h-1zM92 246h8v3h-8zM133 245h7v4h-7zM93 249h7v1h-7zM112 247h2v4h-2zM168 248h1v3h-1zM44 251h1v1h-1zM81 247h4v5h-4zM145 248h4v4h-4zM44 252h2v1h-2zM43 253h3v1h-3zM80 252h5v2h-5zM43 254h4v1h-4zM164 253h2v2h-2zM42 255h5v1h-5zM163 255h3v1h-3zM184 244h13v12h-13zM200 243h10v13h-10zM111 251h4v6h-4zM200 256h7v1h-7zM31 256h1v2h-1zM93 250h8v8h-8zM183 256h14v2h-14zM200 257h6v1h-6zM31 258h2v1h-2zM163 256h4v3h-4zM42 256h6v4h-6zM65 257h1v3h-1zM201 258h5v2h-5zM41 260h7v1h-7zM81 254h4v7h-4zM132 249h8v12h-8zM145 252h5v9h-5zM81 261h3v1h-3zM111 257h3v5h-3zM201 260h4v2h-4zM65 260h2v3h-2zM82 262h2v1h-2zM162 259h5v4h-5zM65 263h1v1h-1zM82 263h1v1h-1zM112 262h2v2h-2zM121 263h1v1h-1zM201 262h3v2h-3zM30 259h3v6h-3zM41 261h8v4h-8zM64 264h2v1h-2zM112 264h1v1h-1zM120 264h2v1h-2zM181 264h1v1h-1zM183 258h13v7h-13zM202 264h1v1h-1zM61 265h5v1h-5zM93 258h9v8h-9zM120 265h3v1h-3zM162 263h6v3h-6zM177 265h1v1h-1zM181 265h14v1h-14zM30 265h2v2h-2zM60 266h5v1h-5zM119 266h4v1h-4zM145 261h6v6h-6zM162 266h8v1h-8zM177 266h18v1h-18zM29 267h3v1h-3zM59 267h6v1h-6zM131 261h9v7h-9zM145 267h7v1h-7zM176 267h19v1h-19zM25 268h7v1h-7zM92 266h10v3h-10zM131 268h8v1h-8zM176 268h18v1h-18zM25 269h6v1h-6zM145 268h8v2h-8zM163 267h8v3h-8zM175 269h18v1h-18zM58 268h7v3h-7zM119 267h5v4h-5zM163 270h9v1h-9zM175 270h19v1h-19zM199 270h2v1h-2zM91 269h12v3h-12zM132 269h7v3h-7zM145 270h9v2h-9zM163 271h10v1h-10zM175 271h20v1h-20zM198 271h3v1h-3zM25 270h5v3h-5zM145 272h11v1h-11zM164 272h18v1h-18zM183 272h12v1h-12zM197 272h5v1h-5zM41 265h9v9h-9zM57 271h8v3h-8zM113 273h2v1h-2zM164 273h16v1h-16zM67 274h3v1h-3zM133 272h6v3h-6zM145 273h12v2h-12zM164 274h15v1h-15zM67 275h4v1h-4zM90 272h13v4h-13zM145 275h13v1h-13zM183 273h19v3h-19zM67 276h5v1h-5zM77 276h2v1h-2zM112 274h4v3h-4zM134 275h4v2h-4zM144 276h15v1h-15zM165 275h13v2h-13zM183 276h20v1h-20zM66 277h6v1h-6zM75 277h4v1h-4zM112 277h5v1h-5zM118 271h6v7h-6zM135 277h3v1h-3zM165 277h12v1h-12zM42 274h8v5h-8zM56 274h9v5h-9zM118 278h7v1h-7zM135 278h2v1h-2zM144 277h16v2h-16zM166 278h11v1h-11zM25 273h4v7h-4zM66 278h14v2h-14zM111 278h6v2h-6zM118 279h6v1h-6zM134 279h3v1h-3zM165 279h12v1h-12zM55 279h10v2h-10zM66 280h15v1h-15zM144 279h17v2h-17zM25 280h5v2h-5zM43 279h7v3h-7zM133 280h4v2h-4zM25 282h6v1h-6zM44 282h6v1h-6zM55 281h27v2h-27zM132 282h5v1h-5zM144 281h18v2h-18zM165 280h11v3h-11zM25 283h8v1h-8zM55 283h28v1h-28zM144 283h32v1h-32zM25 284h10v1h-10zM45 283h5v3h-5zM55 284h29v2h-29zM111 280h13v6h-13zM25 285h11v2h-11zM132 283h6v4h-6zM25 287h12v1h-12zM46 286h4v2h-4zM118 286h6v2h-6zM184 277h19v11h-19zM54 286h31v3h-31zM45 288h5v2h-5zM89 276h14v14h-14zM143 284h33v6h-33zM184 288h18v2h-18zM25 288h13v3h-13zM44 290h6v1h-6zM54 289h32v2h-32zM89 290h13v1h-13zM111 286h6v5h-6zM199 290h2v1h-2zM43 291h7v1h-7zM54 291h33v1h-33zM88 291h14v1h-14zM110 291h7v1h-7zM119 288h5v4h-5zM143 290h34v2h-34zM42 292h8v2h-8zM108 293h1v1h-1zM110 292h6v2h-6zM144 292h34v2h-34zM144 294h35v1h-35zM54 292h48v4h-48zM108 294h8v2h-8zM120 292h4v4h-4zM25 291h14v6h-14zM41 294h9v3h-9zM54 296h37v1h-37zM108 296h17v1h-17zM184 290h14v7h-14zM108 297h19v1h-19zM183 297h16v1h-16zM25 297h25v2h-25zM54 297h36v2h-36zM92 296h10v3h-10zM108 298h20v1h-20zM144 295h36v4h-36zM183 298h17v1h-17zM201 298h4v1h-4zM108 299h21v1h-21zM131 287h7v13h-7zM145 299h36v3h-36zM55 299h35v4h-35zM108 300h30v3h-30zM146 302h35v3h-35zM92 299h11v8h-11zM25 299h26v9h-26zM56 303h34v5h-34zM92 307h12v1h-12zM107 303h31v5h-31zM147 305h34v3h-34zM182 299h28v9h-28zM25 308h185v18h-185z"/><path fill="#0047ff" d="M207 239h3v1h-3zM206 240h4v1h-4zM187 239h2v3h-2zM205 241h5v1h-5zM203 242h7v2h-7zM96 245h1v1h-1zM95 246h2v1h-2zM186 242h4v5h-4zM202 244h8v3h-8zM202 247h5v1h-5zM95 247h3v2h-3zM135 248h2v1h-2zM134 249h3v1h-3zM186 247h5v4h-5zM194 248h1v3h-1zM202 248h4v3h-4zM185 251h6v1h-6zM202 251h3v1h-3zM95 249h4v4h-4zM134 250h4v3h-4zM201 252h4v1h-4zM82 252h1v2h-1zM95 253h5v1h-5zM193 251h2v3h-2zM185 252h7v3h-7zM202 253h3v2h-3zM194 254h1v2h-1zM44 257h1v1h-1zM202 255h2v3h-2zM44 258h2v1h-2zM43 259h3v1h-3zM94 254h6v6h-6zM43 260h4v4h-4zM133 253h5v12h-5zM147 253h1v13h-1zM134 265h4v4h-4zM61 269h1v2h-1zM121 268h1v3h-1zM148 270h1v1h-1zM42 264h6v8h-6zM135 269h2v3h-2zM60 271h3v2h-3zM120 271h2v2h-2zM147 271h3v2h-3zM94 260h7v14h-7zM43 272h5v4h-5zM59 273h4v3h-4zM168 274h2v2h-2zM147 273h4v4h-4zM167 276h4v1h-4zM185 255h6v22h-6zM44 276h4v2h-4zM146 277h5v1h-5zM186 277h6v1h-6zM45 278h2v1h-2zM186 278h7v1h-7zM68 279h1v1h-1zM146 278h6v2h-6zM168 277h3v3h-3zM58 276h6v5h-6zM68 280h2v1h-2zM146 280h7v1h-7zM186 279h9v2h-9zM67 281h3v1h-3zM120 273h3v9h-3zM146 281h8v1h-8zM120 282h2v1h-2zM77 283h2v1h-2zM146 282h9v2h-9zM168 280h4v4h-4zM186 281h10v3h-10zM57 281h7v4h-7zM76 284h4v1h-4zM134 284h1v1h-1zM75 285h5v1h-5zM121 283h1v3h-1zM146 284h10v2h-10zM74 286h7v2h-7zM168 284h5v4h-5zM31 288h1v1h-1zM168 288h3v1h-3zM186 284h11v5h-11zM30 289h3v1h-3zM67 282h4v8h-4zM133 285h3v5h-3zM146 286h11v4h-11zM30 290h4v1h-4zM56 285h8v6h-8zM67 290h3v1h-3zM73 288h9v3h-9zM146 290h10v1h-10zM164 290h4v1h-4zM56 291h9v1h-9zM66 291h4v1h-4zM163 291h5v1h-5zM187 289h10v3h-10zM29 291h7v2h-7zM56 292h14v1h-14zM72 291h11v2h-11zM56 293h27v1h-27zM162 292h6v2h-6zM189 292h8v2h-8zM93 274h8v21h-8zM162 294h7v2h-7zM190 294h7v2h-7zM29 293h8v4h-8zM44 296h1v1h-1zM56 294h28v3h-28zM147 291h9v6h-9zM187 296h10v1h-10zM25 297h12v1h-12zM43 297h3v1h-3zM147 297h8v1h-8zM185 297h13v1h-13zM43 298h4v1h-4zM56 297h27v2h-27zM115 298h9v1h-9zM57 299h25v1h-25zM114 299h12v1h-12zM184 298h15v2h-15zM42 299h5v2h-5zM57 300h24v2h-24zM113 300h15v2h-15zM42 301h6v2h-6zM57 302h23v1h-23zM112 302h17v1h-17zM177 302h1v1h-1zM111 303h18v1h-18zM132 290h5v14h-5zM202 303h2v1h-2zM86 303h1v2h-1zM131 304h5v1h-5zM202 304h3v1h-3zM183 300h17v6h-17zM201 305h4v1h-4zM58 303h22v4h-22zM132 305h4v2h-4zM148 298h7v9h-7zM162 296h6v11h-6zM183 306h22v1h-22zM25 298h13v10h-13zM41 303h7v5h-7zM58 307h21v1h-21zM94 295h7v13h-7zM111 304h19v4h-19zM133 307h2v1h-2zM149 307h6v1h-6zM162 307h5v1h-5zM176 303h2v5h-2zM183 307h23v1h-23zM25 308h185v18h-185z"/><path fill="#005aff" d="M187 247h1v1h-1zM187 248h2v5h-2zM186 253h3v1h-3zM96 253h2v2h-2zM96 255h3v2h-3zM135 255h1v2h-1zM95 257h4v3h-4zM135 257h2v6h-2zM135 263h1v1h-1zM44 262h2v4h-2zM43 266h4v5h-4zM44 271h3v1h-3zM44 272h2v2h-2zM61 274h1v1h-1zM186 254h4v21h-4zM60 275h2v2h-2zM60 277h3v1h-3zM187 275h3v4h-3zM59 278h4v3h-4zM148 280h2v1h-2zM187 279h2v2h-2zM148 281h3v1h-3zM188 281h1v1h-1zM148 282h4v2h-4zM192 282h3v2h-3zM59 281h3v4h-3zM191 284h4v1h-4zM95 260h5v26h-5zM148 284h5v2h-5zM58 285h4v2h-4zM76 287h3v2h-3zM191 285h5v4h-5zM75 289h5v1h-5zM57 287h5v4h-5zM134 288h1v3h-1zM57 291h6v1h-6zM133 291h2v1h-2zM57 292h11v1h-11zM57 293h12v1h-12zM31 294h2v1h-2zM74 290h6v5h-6zM94 286h6v9h-6zM57 294h13v2h-13zM31 295h3v2h-3zM57 296h14v1h-14zM73 295h7v2h-7zM148 286h6v11h-6zM190 289h6v8h-6zM57 297h23v1h-23zM186 297h11v1h-11zM31 297h4v2h-4zM185 298h13v1h-13zM115 299h9v1h-9zM31 299h5v2h-5zM44 300h1v1h-1zM58 298h21v3h-21zM95 295h5v6h-5zM114 300h12v1h-12zM133 292h3v9h-3zM43 301h2v1h-2zM114 301h13v1h-13zM133 301h2v2h-2zM30 301h6v3h-6zM113 302h15v2h-15zM134 303h1v2h-1zM149 297h5v8h-5zM184 299h15v6h-15zM43 302h3v4h-3zM150 305h4v1h-4zM164 295h1v11h-1zM95 301h4v6h-4zM112 304h17v3h-17zM31 304h5v4h-5zM42 306h4v2h-4zM58 301h20v7h-20zM96 307h3v1h-3zM113 307h16v1h-16zM150 306h3v2h-3zM184 305h16v3h-16zM30 308h59v1h-59zM94 308h9v1h-9zM105 308h105v1h-105zM25 309h185v17h-185z"/><path fill="#006dff" d="M97 258h1v1h-1zM96 259h2v2h-2zM61 278h1v1h-1zM193 284h2v1h-2zM151 285h1v1h-1zM96 261h3v26h-3zM192 285h3v2h-3zM191 287h4v1h-4zM60 288h1v1h-1zM150 286h2v3h-2zM59 289h2v2h-2zM77 290h1v1h-1zM58 291h3v1h-3zM58 292h4v1h-4zM76 291h3v2h-3zM150 289h3v4h-3zM58 293h10v1h-10zM58 294h11v2h-11zM75 293h4v3h-4zM149 293h4v3h-4zM58 296h12v1h-12zM74 296h4v1h-4zM95 287h4v10h-4zM191 288h5v9h-5zM59 297h12v1h-12zM73 297h5v1h-5zM189 297h8v1h-8zM134 293h1v6h-1zM185 298h13v1h-13zM59 298h18v2h-18zM96 297h3v3h-3zM117 299h5v1h-5zM184 299h14v1h-14zM115 300h10v1h-10zM114 301h12v1h-12zM96 300h2v3h-2zM114 302h13v1h-13zM150 296h3v8h-3zM44 304h1v4h-1zM59 300h19v8h-19zM113 303h15v5h-15zM151 304h1v4h-1zM184 300h15v8h-15zM35 308h52v1h-52zM97 308h2v1h-2zM105 308h105v1h-105zM25 309h185v17h-185z"/><path fill="#0080ff" d="M97 265h1v11h-1zM97 280h1v7h-1zM192 286h3v4h-3zM191 290h4v4h-4zM60 294h8v1h-8zM96 287h2v8h-2zM97 295h1v1h-1zM60 295h9v2h-9zM191 294h5v3h-5zM60 297h10v1h-10zM190 297h6v1h-6zM60 298h11v1h-11zM73 298h3v1h-3zM186 298h11v1h-11zM185 299h13v1h-13zM60 299h17v2h-17zM116 300h8v1h-8zM115 301h11v1h-11zM59 301h18v2h-18zM151 291h1v12h-1zM114 302h13v3h-13zM113 305h14v1h-14zM59 303h19v4h-19zM59 307h18v1h-18zM114 306h13v2h-13zM184 300h15v8h-15zM38 308h41v1h-41zM82 308h1v1h-1zM106 308h40v1h-40zM148 308h6v1h-6zM159 308h51v1h-51zM25 309h185v17h-185z"/><path fill="#0092ff" d="M193 287h1v1h-1zM62 294h5v1h-5zM61 295h7v1h-7zM192 288h3v8h-3zM60 296h9v1h-9zM191 296h4v1h-4zM60 297h10v1h-10zM191 297h5v1h-5zM186 298h11v1h-11zM60 298h11v2h-11zM73 299h3v1h-3zM60 300h16v1h-16zM117 300h6v1h-6zM185 299h13v2h-13zM60 301h17v1h-17zM115 301h10v1h-10zM115 302h11v1h-11zM114 303h13v4h-13zM59 302h18v6h-18zM114 307h12v1h-12zM184 301h15v7h-15zM39 308h39v1h-39zM106 308h39v1h-39zM151 308h1v1h-1zM161 308h49v1h-49zM33 309h177v1h-177zM25 310h185v16h-185z"/><path fill="#00a5ff" d="M193 289h1v1h-1zM64 294h1v1h-1zM62 295h6v1h-6zM61 296h7v1h-7zM192 290h3v7h-3zM61 297h8v1h-8zM191 297h4v1h-4zM61 298h9v1h-9zM187 298h10v1h-10zM61 299h10v1h-10zM73 299h2v1h-2zM119 300h2v1h-2zM60 300h16v2h-16zM116 301h8v1h-8zM185 299h13v3h-13zM60 302h17v1h-17zM115 302h10v1h-10zM184 302h14v1h-14zM115 303h11v1h-11zM114 304h12v3h-12zM184 303h15v4h-15zM59 303h18v5h-18zM115 307h11v1h-11zM184 307h14v1h-14zM42 308h36v1h-36zM106 308h39v1h-39zM167 308h43v1h-43zM35 309h57v1h-57zM97 309h113v1h-113zM25 310h185v16h-185z"/><path fill="#00b8ff" d="M193 290h1v2h-1zM192 292h2v2h-2zM63 295h4v1h-4zM62 296h6v1h-6zM192 294h3v3h-3zM62 297h7v1h-7zM191 297h4v1h-4zM61 298h9v1h-9zM187 298h9v1h-9zM61 299h10v1h-10zM186 299h11v1h-11zM61 300h14v1h-14zM117 301h6v1h-6zM60 301h16v2h-16zM116 302h9v1h-9zM60 303h17v2h-17zM59 305h18v1h-18zM115 303h11v4h-11zM60 306h17v2h-17zM115 307h10v1h-10zM185 300h13v8h-13zM43 308h2v1h-2zM46 308h31v1h-31zM106 308h39v1h-39zM168 308h42v1h-42zM35 309h56v1h-56zM99 309h111v1h-111zM25 310h5v1h-5zM33 310h177v1h-177zM25 311h185v15h-185z"/><path fill="#00cbff" d="M64 295h2v1h-2zM63 296h4v1h-4zM193 293h1v4h-1zM62 297h6v1h-6zM192 297h3v1h-3zM62 298h8v1h-8zM188 298h8v1h-8zM186 299h11v1h-11zM61 299h10v2h-10zM73 300h2v1h-2zM117 301h5v1h-5zM116 302h8v1h-8zM60 301h16v3h-16zM115 303h10v1h-10zM115 304h11v2h-11zM60 304h17v3h-17zM60 307h16v1h-16zM115 306h10v2h-10zM185 300h13v8h-13zM48 308h29v1h-29zM106 308h38v1h-38zM169 308h41v1h-41zM36 309h54v1h-54zM100 309h110v1h-110zM34 310h176v1h-176zM25 311h6v15h-6zM32 311h178v15h-178z"/><path fill="#00defd" d="M63 296h3v1h-3zM63 297h5v1h-5zM192 297h2v1h-2zM62 298h8v1h-8zM190 298h6v1h-6zM62 299h9v1h-9zM186 299h11v1h-11zM61 300h10v1h-10zM61 301h14v1h-14zM119 301h2v1h-2zM116 302h8v1h-8zM116 303h9v1h-9zM115 304h10v3h-10zM60 302h16v6h-16zM116 307h8v1h-8zM185 300h13v8h-13zM49 308h28v1h-28zM106 308h38v1h-38zM169 308h41v1h-41zM37 309h53v1h-53zM101 309h109v1h-109zM35 310h60v1h-60zM97 310h113v1h-113zM33 311h177v7h-177zM25 311h5v8h-5zM25 319h6v7h-6zM32 318h178v8h-178z"/><path fill="#09f1ee" d="M64 297h3v1h-3zM193 297h1v1h-1zM63 298h6v1h-6zM191 298h5v1h-5zM63 299h8v1h-8zM186 299h11v1h-11zM62 300h9v1h-9zM61 301h11v1h-11zM73 301h2v1h-2zM117 302h6v1h-6zM116 303h8v1h-8zM116 304h9v2h-9zM60 302h16v6h-16zM116 306h8v2h-8zM185 300h13v8h-13zM49 308h27v1h-27zM106 308h38v1h-38zM170 308h40v1h-40zM37 309h52v1h-52zM103 309h107v1h-107zM35 310h58v1h-58zM98 310h112v1h-112zM25 311h4v6h-4zM34 311h176v7h-176zM25 317h5v9h-5zM33 318h177v8h-177z"/><path fill="#18ffde" d="M65 298h4v1h-4zM191 298h4v1h-4zM64 299h6v1h-6zM62 300h9v1h-9zM186 299h11v2h-11zM61 301h10v1h-10zM73 301h2v1h-2zM61 302h15v1h-15zM117 302h6v1h-6zM116 303h8v4h-8zM60 303h16v5h-16zM116 307h7v1h-7zM185 301h13v7h-13zM50 308h26v1h-26zM106 308h38v1h-38zM170 308h40v1h-40zM37 309h51v1h-51zM105 309h105v1h-105zM35 310h57v1h-57zM99 310h111v1h-111zM34 311h176v2h-176zM96 313h114v2h-114zM34 313h61v7h-61zM25 316h4v10h-4zM33 320h62v6h-62zM97 315h113v11h-113z"/><path fill="#28ffcf" d="M65 298h4v1h-4zM191 298h4v1h-4zM65 299h5v1h-5zM187 299h10v1h-10zM63 300h8v1h-8zM186 300h11v1h-11zM61 301h10v1h-10zM61 302h14v1h-14zM118 302h4v1h-4zM117 303h6v1h-6zM116 304h8v3h-8zM60 303h16v5h-16zM117 307h5v1h-5zM185 301h13v7h-13zM50 308h26v1h-26zM106 308h37v1h-37zM170 308h40v1h-40zM37 309h51v1h-51zM105 309h105v1h-105zM36 310h56v1h-56zM99 310h111v1h-111zM97 311h113v6h-113zM35 311h59v7h-59zM25 319h4v7h-4zM34 318h60v8h-60zM98 317h112v9h-112z"/><path fill="#37ffc0" d="M66 298h2v1h-2zM192 298h3v1h-3zM65 299h5v1h-5zM187 299h9v1h-9zM65 300h6v1h-6zM62 301h9v1h-9zM186 300h11v2h-11zM61 302h11v1h-11zM73 302h2v1h-2zM61 303h15v1h-15zM117 303h6v1h-6zM117 304h7v1h-7zM116 305h8v1h-8zM60 304h16v3h-16zM117 306h6v1h-6zM61 307h14v1h-14zM117 307h4v1h-4zM185 302h13v6h-13zM51 308h25v1h-25zM107 308h36v1h-36zM171 308h39v1h-39zM37 309h50v1h-50zM105 309h105v1h-105zM36 310h55v1h-55zM100 310h110v1h-110zM35 311h58v7h-58zM34 318h59v8h-59zM98 311h112v15h-112z"/><path fill="#46ffb1" d="M66 298h2v1h-2zM192 298h2v1h-2zM65 299h5v1h-5zM187 299h9v1h-9zM65 300h6v1h-6zM62 301h9v1h-9zM61 302h10v1h-10zM73 302h2v1h-2zM61 303h14v1h-14zM118 303h4v1h-4zM61 304h15v1h-15zM186 300h11v5h-11zM60 305h16v1h-16zM117 304h6v3h-6zM185 305h12v2h-12zM61 306h14v2h-14zM118 307h2v1h-2zM186 307h11v1h-11zM51 308h25v1h-25zM108 308h35v1h-35zM171 308h39v1h-39zM38 309h48v1h-48zM105 309h105v1h-105zM37 310h54v1h-54zM100 310h110v1h-110zM35 311h58v8h-58zM34 319h59v7h-59zM99 311h111v15h-111z"/><path fill="#55ffa1" d="M193 298h1v1h-1zM65 299h5v1h-5zM188 299h8v1h-8zM65 300h6v1h-6zM62 301h1v1h-1zM64 301h7v1h-7zM61 302h10v1h-10zM73 302h1v1h-1zM118 303h4v1h-4zM117 304h6v2h-6zM117 306h5v1h-5zM61 303h14v5h-14zM186 300h11v8h-11zM57 308h19v1h-19zM110 308h26v1h-26zM173 308h7v1h-7zM183 308h24v1h-24zM38 309h48v1h-48zM105 309h47v1h-47zM155 309h55v1h-55zM37 310h53v1h-53zM101 310h109v1h-109zM36 311h56v2h-56zM35 313h57v7h-57zM34 320h58v6h-58zM99 311h111v15h-111z"/><path fill="#65ff92" d="M65 299h5v1h-5zM188 299h8v1h-8zM65 300h6v1h-6zM64 301h7v1h-7zM62 302h9v1h-9zM61 303h11v1h-11zM73 303h2v1h-2zM118 304h4v1h-4zM117 305h5v1h-5zM61 304h14v3h-14zM118 306h3v1h-3zM61 307h10v1h-10zM73 307h2v1h-2zM186 300h11v8h-11zM58 308h18v1h-18zM113 308h16v1h-16zM183 308h17v1h-17zM202 308h3v1h-3zM38 309h47v1h-47zM105 309h46v1h-46zM156 309h54v1h-54zM37 310h53v1h-53zM101 310h109v1h-109zM36 311h56v4h-56zM35 315h57v11h-57zM99 311h111v15h-111z"/><path fill="#74ff83" d="M66 299h4v1h-4zM189 299h7v1h-7zM187 300h10v1h-10zM65 300h6v2h-6zM62 302h9v1h-9zM61 303h10v1h-10zM73 303h2v1h-2zM118 304h3v1h-3zM118 305h4v1h-4zM61 304h14v3h-14zM61 307h10v1h-10zM73 307h1v1h-1zM186 301h11v7h-11zM59 308h17v1h-17zM113 308h14v1h-14zM184 308h15v1h-15zM38 309h41v1h-41zM105 309h45v1h-45zM156 309h54v1h-54zM37 310h52v1h-52zM102 310h108v1h-108zM36 311h55v3h-55zM100 311h110v5h-110zM36 314h56v3h-56zM35 317h57v9h-57zM99 316h111v10h-111z"/><path fill="#83ff74" d="M66 299h4v1h-4zM190 299h5v1h-5zM65 300h5v1h-5zM187 300h9v1h-9zM65 301h6v1h-6zM62 302h9v1h-9zM73 303h1v1h-1zM73 304h2v1h-2zM72 305h3v1h-3zM119 305h2v1h-2zM73 306h2v1h-2zM61 303h10v5h-10zM186 301h11v7h-11zM59 308h16v1h-16zM114 308h12v1h-12zM184 308h15v1h-15zM38 309h40v1h-40zM106 309h43v1h-43zM158 309h52v1h-52zM37 310h52v1h-52zM103 310h107v1h-107zM37 311h54v1h-54zM100 311h110v3h-110zM100 314h53v1h-53zM154 314h56v1h-56zM36 312h55v6h-55zM35 318h56v1h-56zM35 319h57v7h-57zM100 315h110v11h-110z"/><path fill="#92ff65" d="M66 299h4v1h-4zM191 299h4v1h-4zM65 300h5v1h-5zM187 300h9v1h-9zM65 301h6v1h-6zM62 302h1v1h-1zM64 302h7v1h-7zM62 303h9v1h-9zM73 304h2v2h-2zM61 304h10v3h-10zM73 306h1v1h-1zM62 307h9v1h-9zM186 301h11v7h-11zM59 308h16v1h-16zM114 308h12v1h-12zM184 308h15v1h-15zM39 309h38v1h-38zM106 309h42v1h-42zM159 309h51v1h-51zM37 310h52v1h-52zM104 310h106v1h-106zM37 311h54v2h-54zM100 311h110v2h-110zM100 313h53v1h-53zM100 314h52v1h-52zM154 313h56v2h-56zM36 313h55v5h-55zM35 318h56v8h-56zM100 315h110v11h-110z"/><path fill="#a1ff55" d="M66 299h3v1h-3zM191 299h4v1h-4zM65 300h5v1h-5zM187 300h9v1h-9zM65 301h6v2h-6zM62 303h9v1h-9zM73 304h1v1h-1zM73 305h2v1h-2zM61 304h10v3h-10zM73 306h1v1h-1zM62 307h9v1h-9zM186 301h11v7h-11zM60 308h15v1h-15zM115 308h10v1h-10zM184 308h14v1h-14zM39 309h38v1h-38zM106 309h42v1h-42zM159 309h51v1h-51zM37 310h51v1h-51zM105 310h105v1h-105zM101 311h109v2h-109zM37 311h53v3h-53zM154 313h56v1h-56zM36 314h54v1h-54zM101 313h51v2h-51zM155 314h55v1h-55zM101 315h52v1h-52zM154 315h56v1h-56zM36 315h55v3h-55zM35 318h56v8h-56zM100 316h110v10h-110z"/><path fill="#b1ff46" d="M66 299h3v1h-3zM192 299h3v1h-3zM65 300h5v1h-5zM187 300h9v2h-9zM65 301h6v2h-6zM62 303h9v1h-9zM73 305h1v1h-1zM61 304h10v3h-10zM62 307h9v1h-9zM186 302h11v6h-11zM60 308h15v1h-15zM115 308h9v1h-9zM185 308h13v1h-13zM39 309h38v1h-38zM106 309h41v1h-41zM159 309h51v1h-51zM37 310h51v1h-51zM105 310h105v1h-105zM101 311h109v2h-109zM101 313h51v1h-51zM37 311h53v4h-53zM101 314h50v1h-50zM155 313h55v2h-55zM101 315h51v1h-51zM154 315h56v1h-56zM36 315h54v3h-54zM36 318h55v1h-55zM35 319h56v7h-56zM101 316h109v10h-109z"/><path fill="#c0ff37" d="M66 299h3v1h-3zM192 299h2v1h-2zM65 300h5v1h-5zM188 300h8v1h-8zM187 301h9v1h-9zM65 301h6v2h-6zM187 302h10v1h-10zM62 303h9v2h-9zM61 305h10v1h-10zM62 306h9v1h-9zM186 303h11v4h-11zM62 307h1v1h-1zM64 307h7v1h-7zM187 307h9v1h-9zM60 308h15v1h-15zM116 308h7v1h-7zM185 308h13v1h-13zM39 309h37v1h-37zM106 309h40v1h-40zM159 309h51v1h-51zM37 310h50v1h-50zM105 310h105v1h-105zM37 311h53v2h-53zM101 311h109v2h-109zM37 313h52v1h-52zM37 314h53v2h-53zM101 313h50v3h-50zM155 313h55v3h-55zM101 316h52v1h-52zM154 316h56v1h-56zM36 316h54v3h-54zM35 319h55v7h-55zM101 317h109v9h-109z"/><path fill="#cfff28" d="M66 299h3v1h-3zM193 299h1v1h-1zM65 300h5v1h-5zM188 300h8v1h-8zM65 301h6v2h-6zM64 303h7v1h-7zM62 304h9v3h-9zM65 307h6v1h-6zM187 301h9v7h-9zM60 308h15v1h-15zM116 308h7v1h-7zM185 308h13v1h-13zM39 309h37v1h-37zM106 309h40v1h-40zM160 309h50v1h-50zM38 310h49v1h-49zM105 310h105v1h-105zM102 311h108v2h-108zM102 313h49v1h-49zM155 313h55v1h-55zM102 314h48v1h-48zM156 314h54v1h-54zM101 315h50v1h-50zM155 315h55v1h-55zM37 311h52v6h-52zM101 316h51v1h-51zM154 316h56v1h-56zM36 317h54v3h-54zM35 320h55v6h-55zM101 317h109v9h-109z"/><path fill="#deff18" d="M67 299h2v1h-2zM66 300h4v1h-4zM188 300h7v1h-7zM65 301h6v3h-6zM62 304h9v3h-9zM65 307h6v1h-6zM187 301h9v7h-9zM60 308h15v1h-15zM117 308h4v1h-4zM185 308h13v1h-13zM39 309h37v1h-37zM106 309h39v1h-39zM160 309h50v1h-50zM38 310h49v1h-49zM105 310h105v1h-105zM103 311h107v2h-107zM103 313h47v1h-47zM156 313h54v2h-54zM102 314h48v2h-48zM102 316h49v1h-49zM155 315h55v2h-55zM37 311h52v7h-52zM36 318h54v2h-54zM35 320h55v6h-55zM101 317h109v9h-109z"/><path fill="#eeff09" d="M67 299h1v1h-1zM66 300h4v1h-4zM189 300h6v1h-6zM65 301h6v3h-6zM62 304h9v2h-9zM62 306h1v1h-1zM64 306h7v1h-7zM65 307h6v1h-6zM187 301h9v7h-9zM61 308h14v1h-14zM117 308h3v1h-3zM185 308h13v1h-13zM41 309h35v1h-35zM106 309h39v1h-39zM164 309h1v1h-1zM167 309h43v1h-43zM38 310h48v1h-48zM105 310h48v1h-48zM154 310h56v1h-56zM37 311h52v2h-52zM103 311h107v2h-107zM103 313h47v1h-47zM38 313h50v2h-50zM103 314h46v1h-46zM103 315h47v1h-47zM156 313h54v3h-54zM37 315h51v2h-51zM102 316h49v1h-49zM155 316h55v1h-55zM37 317h52v1h-52zM36 318h53v1h-53zM36 319h54v1h-54zM35 320h55v6h-55zM102 317h108v9h-108z"/><path fill="#fdef00" d="M66 300h4v1h-4zM190 300h5v1h-5zM65 301h6v4h-6zM62 305h1v1h-1zM64 305h7v1h-7zM65 306h6v2h-6zM187 301h9v7h-9zM61 308h14v1h-14zM185 308h13v1h-13zM44 309h1v1h-1zM46 309h30v1h-30zM106 309h39v1h-39zM167 309h43v1h-43zM38 310h48v1h-48zM105 310h47v1h-47zM155 310h55v1h-55zM37 311h52v1h-52zM104 311h106v1h-106zM37 312h51v1h-51zM104 312h49v1h-49zM154 312h56v1h-56zM156 313h54v1h-54zM157 314h53v1h-53zM38 313h50v3h-50zM104 313h45v3h-45zM103 316h47v1h-47zM156 315h54v2h-54zM37 316h51v2h-51zM103 317h107v2h-107zM36 318h53v2h-53zM36 320h54v1h-54zM35 321h55v5h-55zM102 319h108v7h-108z"/><path fill="#ffdd00" d="M66 300h4v1h-4zM191 300h4v1h-4zM65 301h5v1h-5zM188 301h8v1h-8zM65 302h6v6h-6zM187 302h9v6h-9zM61 308h11v1h-11zM73 308h1v1h-1zM186 308h11v1h-11zM46 309h30v1h-30zM106 309h39v1h-39zM167 309h43v1h-43zM38 310h48v1h-48zM105 310h46v1h-46zM155 310h55v1h-55zM104 311h106v1h-106zM37 311h51v2h-51zM104 312h48v1h-48zM154 312h56v1h-56zM104 313h45v1h-45zM156 313h54v1h-54zM104 314h43v1h-43zM157 314h53v1h-53zM38 313h49v3h-49zM104 315h45v1h-45zM38 316h50v1h-50zM104 316h46v1h-46zM156 315h54v2h-54zM37 317h51v1h-51zM104 317h106v2h-106zM36 318h53v8h-53zM103 319h107v7h-107z"/><path fill="#ffcc00" d="M66 300h4v1h-4zM191 300h4v1h-4zM65 301h5v1h-5zM188 301h8v1h-8zM65 302h6v6h-6zM187 302h9v6h-9zM61 308h10v1h-10zM73 308h1v1h-1zM186 308h11v1h-11zM46 309h30v1h-30zM106 309h39v1h-39zM167 309h43v1h-43zM38 310h47v1h-47zM105 310h46v1h-46zM155 310h55v1h-55zM37 311h51v1h-51zM105 311h105v1h-105zM38 312h50v1h-50zM105 312h46v1h-46zM155 312h55v1h-55zM38 313h48v1h-48zM105 313h43v1h-43zM157 313h53v1h-53zM39 314h46v1h-46zM105 314h41v1h-41zM158 314h52v1h-52zM38 315h48v1h-48zM105 315h43v1h-43zM157 315h53v1h-53zM38 316h49v1h-49zM105 316h44v1h-44zM156 316h54v1h-54zM105 317h48v1h-48zM154 317h56v1h-56zM37 317h51v2h-51zM36 319h53v7h-53zM104 318h106v8h-106z"/><path fill="#ffba00" d="M66 300h4v1h-4zM192 300h2v1h-2zM65 301h5v1h-5zM188 301h7v1h-7zM188 302h8v1h-8zM187 303h9v4h-9zM65 302h6v6h-6zM188 307h7v1h-7zM61 308h10v1h-10zM186 308h11v1h-11zM46 309h30v1h-30zM106 309h39v1h-39zM167 309h43v1h-43zM38 310h47v1h-47zM105 310h45v1h-45zM156 310h54v1h-54zM37 311h51v1h-51zM105 311h105v1h-105zM38 312h49v1h-49zM105 312h46v1h-46zM155 312h55v1h-55zM39 313h46v1h-46zM105 313h43v1h-43zM158 313h52v1h-52zM42 314h37v1h-37zM105 314h40v1h-40zM159 314h51v1h-51zM39 315h41v1h-41zM105 315h42v1h-42zM158 315h52v1h-52zM38 316h47v1h-47zM105 316h44v1h-44zM157 316h53v1h-53zM38 317h49v1h-49zM105 317h47v1h-47zM154 317h56v1h-56zM37 318h51v1h-51zM105 318h105v2h-105zM104 320h106v1h-106zM36 319h53v7h-53zM104 321h84v5h-84zM189 321h21v5h-21z"/><path fill="#ffa900" d="M66 300h4v1h-4zM192 300h2v1h-2zM65 301h5v1h-5zM189 301h6v1h-6zM188 302h8v4h-8zM65 302h6v6h-6zM188 306h7v2h-7zM62 308h9v1h-9zM186 308h11v1h-11zM46 309h30v1h-30zM106 309h39v1h-39zM168 309h42v1h-42zM38 310h41v1h-41zM105 310h45v1h-45zM156 310h54v1h-54zM37 311h50v1h-50zM105 311h105v1h-105zM38 312h49v1h-49zM105 312h46v1h-46zM155 312h55v1h-55zM39 313h40v1h-40zM105 313h42v1h-42zM158 313h52v1h-52zM46 314h31v1h-31zM160 314h50v1h-50zM39 315h39v1h-39zM105 314h40v2h-40zM159 315h51v1h-51zM38 316h41v1h-41zM105 316h42v1h-42zM158 316h52v1h-52zM38 317h48v1h-48zM105 317h46v1h-46zM155 317h55v1h-55zM37 318h51v1h-51zM36 319h52v1h-52zM105 318h105v3h-105zM36 320h53v6h-53zM105 321h82v5h-82zM189 321h21v5h-21z"/><path fill="#ff9700" d="M66 300h4v1h-4zM65 301h5v1h-5zM189 301h6v1h-6zM65 302h6v6h-6zM188 302h7v6h-7zM62 308h9v1h-9zM186 308h11v1h-11zM47 309h29v1h-29zM106 309h39v1h-39zM168 309h42v1h-42zM38 310h40v1h-40zM105 310h45v1h-45zM157 310h53v1h-53zM38 311h49v1h-49zM105 311h105v1h-105zM38 312h48v1h-48zM105 312h45v1h-45zM156 312h54v1h-54zM39 313h39v1h-39zM105 313h41v1h-41zM159 313h51v1h-51zM162 314h48v1h-48zM46 314h31v2h-31zM105 314h40v2h-40zM160 315h50v1h-50zM39 316h39v1h-39zM105 316h41v1h-41zM159 316h51v1h-51zM38 317h47v1h-47zM105 317h46v1h-46zM155 317h55v1h-55zM37 318h50v1h-50zM36 319h52v1h-52zM105 318h105v3h-105zM36 320h53v6h-53zM105 321h82v5h-82zM189 321h21v5h-21z"/><path fill="#ff8600" d="M66 300h4v1h-4zM65 301h5v1h-5zM190 301h5v1h-5zM188 302h7v5h-7zM65 302h6v6h-6zM189 307h6v1h-6zM62 308h1v1h-1zM64 308h7v1h-7zM186 308h11v1h-11zM47 309h29v1h-29zM106 309h39v1h-39zM168 309h42v1h-42zM38 310h39v1h-39zM105 310h44v1h-44zM157 310h53v1h-53zM38 311h49v1h-49zM105 311h48v1h-48zM154 311h56v1h-56zM38 312h48v1h-48zM105 312h45v1h-45zM156 312h54v1h-54zM39 313h38v1h-38zM159 313h51v1h-51zM46 314h30v1h-30zM167 314h43v1h-43zM163 315h47v1h-47zM46 315h31v2h-31zM105 313h40v4h-40zM160 316h50v1h-50zM38 317h47v1h-47zM105 317h45v1h-45zM155 317h55v1h-55zM37 318h50v1h-50zM37 319h51v1h-51zM105 318h105v3h-105zM36 320h52v6h-52zM105 321h82v5h-82zM189 321h21v5h-21z"/><path fill="#ff7400" d="M66 300h4v2h-4zM191 301h4v1h-4zM189 302h6v6h-6zM65 302h6v7h-6zM186 308h11v1h-11zM47 309h29v1h-29zM106 309h39v1h-39zM168 309h42v1h-42zM39 310h38v1h-38zM106 310h43v1h-43zM158 310h52v1h-52zM38 311h48v1h-48zM105 311h47v1h-47zM154 311h56v1h-56zM38 312h47v1h-47zM105 312h45v1h-45zM156 312h54v1h-54zM45 313h32v1h-32zM160 313h50v1h-50zM167 314h43v1h-43zM166 315h44v1h-44zM46 314h30v3h-30zM105 313h40v4h-40zM163 316h47v1h-47zM38 317h43v1h-43zM105 317h45v1h-45zM156 317h54v1h-54zM37 318h49v1h-49zM37 319h51v1h-51zM105 318h105v3h-105zM36 320h52v6h-52zM105 321h81v5h-81zM190 321h20v5h-20z"/><path fill="#ff6300" d="M66 300h4v2h-4zM192 301h2v1h-2zM190 302h5v1h-5zM189 303h6v4h-6zM191 307h3v1h-3zM65 302h6v7h-6zM186 308h11v1h-11zM47 309h29v1h-29zM106 309h39v1h-39zM168 309h42v1h-42zM39 310h38v1h-38zM106 310h42v1h-42zM158 310h52v1h-52zM38 311h48v1h-48zM105 311h46v1h-46zM155 311h55v1h-55zM38 312h47v1h-47zM105 312h44v1h-44zM157 312h53v1h-53zM160 313h50v1h-50zM167 314h43v2h-43zM46 313h30v4h-30zM105 313h40v4h-40zM166 316h44v1h-44zM38 317h41v1h-41zM105 317h44v1h-44zM156 317h54v1h-54zM38 318h48v1h-48zM37 319h50v1h-50zM105 318h105v3h-105zM36 320h52v6h-52zM105 321h81v5h-81zM190 321h20v5h-20z"/><path fill="#ff5100" d="M66 300h3v1h-3zM66 301h4v1h-4zM192 301h2v1h-2zM65 302h5v1h-5zM191 302h4v1h-4zM190 303h5v3h-5zM191 306h3v1h-3zM65 303h6v6h-6zM187 308h9v1h-9zM47 309h29v1h-29zM106 309h39v1h-39zM168 309h42v1h-42zM39 310h37v1h-37zM106 310h42v1h-42zM159 310h51v1h-51zM38 311h48v1h-48zM105 311h46v1h-46zM155 311h55v1h-55zM38 312h41v1h-41zM105 312h44v1h-44zM157 312h53v1h-53zM165 313h45v1h-45zM46 313h30v4h-30zM105 313h40v4h-40zM167 314h43v3h-43zM38 317h40v1h-40zM105 317h44v1h-44zM156 317h54v1h-54zM38 318h47v1h-47zM37 319h50v1h-50zM105 318h105v3h-105zM36 320h52v6h-52zM105 321h81v5h-81zM190 321h20v5h-20z"/><path fill="#ff4000" d="M66 300h3v1h-3zM66 301h4v1h-4zM65 302h5v1h-5zM191 302h3v4h-3zM192 306h2v1h-2zM65 303h6v6h-6zM187 308h9v1h-9zM47 309h29v1h-29zM106 309h39v1h-39zM168 309h42v1h-42zM39 310h37v1h-37zM106 310h42v1h-42zM159 310h51v1h-51zM38 311h48v1h-48zM105 311h46v1h-46zM155 311h55v1h-55zM39 312h39v1h-39zM105 312h44v1h-44zM158 312h52v1h-52zM46 313h30v1h-30zM47 314h29v1h-29zM46 315h30v2h-30zM105 313h40v4h-40zM167 313h43v4h-43zM39 317h38v1h-38zM105 317h43v1h-43zM157 317h53v1h-53zM38 318h47v1h-47zM37 319h49v1h-49zM105 318h105v2h-105zM37 320h50v1h-50zM105 320h83v1h-83zM189 320h21v1h-21zM36 321h52v5h-52zM105 321h81v5h-81zM190 321h20v5h-20z"/><path fill="#ff2e00" d="M66 300h3v1h-3zM66 301h4v1h-4zM65 302h5v1h-5zM192 302h2v4h-2zM65 303h6v6h-6zM187 308h9v1h-9zM48 309h28v1h-28zM106 309h39v1h-39zM169 309h41v1h-41zM39 310h37v1h-37zM106 310h41v1h-41zM159 310h51v1h-51zM38 311h47v1h-47zM105 311h46v1h-46zM155 311h55v1h-55zM39 312h38v1h-38zM105 312h43v1h-43zM158 312h52v1h-52zM46 313h30v1h-30zM167 313h43v1h-43zM168 314h42v1h-42zM47 314h29v2h-29zM46 316h30v1h-30zM105 313h40v4h-40zM167 315h43v2h-43zM39 317h38v1h-38zM105 317h41v1h-41zM159 317h51v1h-51zM38 318h47v1h-47zM37 319h49v1h-49zM105 318h105v2h-105zM37 320h50v1h-50zM105 320h82v1h-82zM189 320h21v1h-21zM36 321h52v5h-52zM105 321h81v5h-81zM191 321h19v5h-19z"/><path fill="#ff1d00" d="M66 300h3v1h-3zM66 301h4v1h-4zM65 302h5v1h-5zM193 303h1v1h-1zM65 303h6v6h-6zM187 308h9v1h-9zM48 309h28v1h-28zM106 309h39v1h-39zM169 309h41v1h-41zM39 310h37v1h-37zM106 310h41v1h-41zM159 310h51v1h-51zM38 311h47v1h-47zM105 311h45v1h-45zM156 311h54v1h-54zM39 312h38v1h-38zM105 312h43v1h-43zM159 312h51v1h-51zM46 313h30v1h-30zM167 313h43v1h-43zM168 314h42v2h-42zM47 314h29v3h-29zM167 316h43v1h-43zM46 317h30v1h-30zM105 313h40v5h-40zM161 317h49v1h-49zM38 318h47v1h-47zM37 319h49v1h-49zM105 318h105v2h-105zM105 320h82v1h-82zM189 320h21v1h-21zM37 320h50v6h-50zM105 321h81v5h-81zM191 321h19v5h-19z"/><path fill="#f60b00" d="M67 300h2v1h-2zM66 301h4v1h-4zM65 302h5v1h-5zM65 303h6v4h-6zM65 307h5v1h-5zM65 308h6v1h-6zM187 308h9v1h-9zM48 309h28v1h-28zM106 309h39v1h-39zM169 309h41v1h-41zM39 310h37v1h-37zM106 310h41v1h-41zM159 310h51v1h-51zM38 311h47v1h-47zM105 311h45v1h-45zM156 311h54v1h-54zM39 312h37v1h-37zM105 312h42v1h-42zM159 312h51v1h-51zM46 313h30v1h-30zM167 313h43v1h-43zM47 314h29v3h-29zM168 314h42v3h-42zM46 317h30v1h-30zM105 313h40v5h-40zM164 317h46v1h-46zM38 318h47v2h-47zM105 318h105v2h-105zM105 320h82v1h-82zM189 320h21v1h-21zM37 320h50v6h-50zM105 321h81v5h-81zM191 321h19v5h-19z"/><path fill="#e00000" d="M67 300h2v1h-2zM66 301h4v1h-4zM65 302h5v2h-5zM65 304h6v3h-6zM65 307h5v1h-5zM65 308h6v1h-6zM188 308h8v1h-8zM48 309h28v1h-28zM106 309h39v1h-39zM169 309h41v1h-41zM39 310h37v1h-37zM106 310h40v1h-40zM159 310h51v1h-51zM38 311h41v1h-41zM105 311h45v1h-45zM156 311h54v1h-54zM39 312h37v1h-37zM105 312h42v1h-42zM159 312h51v1h-51zM46 313h30v1h-30zM167 313h43v1h-43zM47 314h29v3h-29zM168 314h42v3h-42zM46 317h30v1h-30zM105 313h40v5h-40zM167 317h43v1h-43zM38 318h47v2h-47zM105 318h105v2h-105zM37 320h49v1h-49zM105 320h82v1h-82zM190 320h20v1h-20zM37 321h50v5h-50zM105 321h81v5h-81zM191 321h19v5h-19z"/><path fill="#cb0000" d="M67 300h2v1h-2zM66 301h4v2h-4zM65 303h5v1h-5zM65 304h6v3h-6zM65 307h5v1h-5zM65 308h6v1h-6zM188 308h7v1h-7zM48 309h28v1h-28zM106 309h38v1h-38zM169 309h41v1h-41zM39 310h37v1h-37zM106 310h40v1h-40zM160 310h50v1h-50zM38 311h40v1h-40zM105 311h44v1h-44zM157 311h53v1h-53zM39 312h37v1h-37zM105 312h42v1h-42zM159 312h51v1h-51zM105 313h40v1h-40zM105 314h39v1h-39zM47 313h29v4h-29zM168 313h42v4h-42zM46 317h30v1h-30zM105 315h40v3h-40zM167 317h43v1h-43zM38 318h46v1h-46zM38 319h47v1h-47zM105 318h105v2h-105zM190 320h20v1h-20zM37 320h49v6h-49zM105 320h81v6h-81zM191 321h19v5h-19z"/><path fill="#b50000" d="M67 300h2v1h-2zM66 301h4v2h-4zM65 303h5v2h-5zM65 305h6v1h-6zM65 306h5v2h-5zM65 308h6v1h-6zM188 308h7v1h-7zM48 309h28v1h-28zM106 309h38v1h-38zM169 309h41v1h-41zM39 310h37v1h-37zM106 310h40v1h-40zM160 310h50v1h-50zM38 311h39v1h-39zM105 311h44v1h-44zM157 311h53v1h-53zM39 312h37v1h-37zM105 312h41v1h-41zM159 312h51v1h-51zM105 313h40v1h-40zM105 314h39v1h-39zM47 313h29v4h-29zM168 313h42v4h-42zM46 317h30v1h-30zM105 315h40v3h-40zM167 317h43v1h-43zM38 318h45v1h-45zM38 319h47v1h-47zM105 318h105v2h-105zM190 320h20v1h-20zM37 320h49v6h-49zM105 320h81v6h-81zM191 321h19v5h-19z"/><path fill="#a00000" d="M67 300h1v1h-1zM66 301h4v2h-4zM65 303h5v5h-5zM65 308h6v1h-6zM188 308h7v1h-7zM49 309h27v1h-27zM106 309h38v1h-38zM169 309h41v1h-41zM39 310h37v1h-37zM106 310h39v1h-39zM160 310h50v1h-50zM39 311h38v1h-38zM105 311h44v1h-44zM158 311h52v1h-52zM39 312h37v1h-37zM105 312h41v1h-41zM160 312h50v1h-50zM105 313h40v1h-40zM105 314h39v2h-39zM47 313h29v4h-29zM168 313h42v4h-42zM46 317h30v1h-30zM105 316h40v2h-40zM167 317h43v1h-43zM38 318h44v1h-44zM38 319h47v1h-47zM105 318h105v2h-105zM37 320h48v1h-48zM190 320h20v1h-20zM37 321h49v5h-49zM105 320h81v6h-81zM191 321h19v5h-19z"/><path fill="#8a0000" d="M66 301h4v2h-4zM65 303h5v5h-5zM65 308h6v1h-6zM189 308h6v1h-6zM49 309h27v1h-27zM106 309h38v1h-38zM169 309h41v1h-41zM106 310h39v1h-39zM160 310h50v1h-50zM105 311h44v1h-44zM158 311h52v1h-52zM39 310h37v3h-37zM160 312h50v1h-50zM47 313h29v1h-29zM105 312h40v2h-40zM48 314h28v1h-28zM105 314h39v3h-39zM168 313h42v4h-42zM47 315h29v3h-29zM105 317h40v1h-40zM167 317h43v1h-43zM38 318h43v1h-43zM105 318h105v2h-105zM38 319h47v2h-47zM190 320h20v1h-20zM37 321h49v5h-49zM105 320h81v6h-81zM191 321h19v5h-19z"/></g></g></g>
<text x="25.7" y="324.5" text-anchor="end" font-size="6.45">0</text>
<text x="25.7" y="307.6" text-anchor="end" font-size="6.45">10</text>
<text x="25.7" y="290.7" text-anchor="end" font-size="6.45">20</text>
<text x="25.7" y="273.8" text-anchor="end" font-size="6.45">30</text>
<text x="25.7" y="256.9" text-anchor="end" font-size="6.45">40</text>
<text x="25.7" y="240.0" text-anchor="end" font-size="6.45">50</text>
<text transform="translate(15.5 281.7) rotate(-90)" text-anchor="middle" font-size="6.45">Hz</text>
<text x="28.5" y="330.1" text-anchor="middle" font-size="6.45">4.0</text>
<text x="57.1" y="330.1" text-anchor="middle" font-size="6.45">4.5</text>
<text x="85.7" y="330.1" text-anchor="middle" font-size="6.45">5.0</text>
<text x="114.3" y="330.1" text-anchor="middle" font-size="6.45">5.5</text>
<text x="142.9" y="330.1" text-anchor="middle" font-size="6.45">6.0</text>
<text x="171.5" y="330.1" text-anchor="middle" font-size="6.45">6.5</text>
<text x="200.1" y="330.1" text-anchor="middle" font-size="6.45">7.0</text>
<rect x="207.9" y="237.8" width="10.0" height="84.5" fill="url(#jet)"/>
<path d="M217.9 315.7h1.6" stroke="#555" stroke-width=".5"/>
<text x="221.1" y="318.0" font-size="6.45">0</text>
<path d="M217.9 296.2h1.6" stroke="#555" stroke-width=".5"/>
<text x="221.1" y="298.5" font-size="6.45">5</text>
<path d="M217.9 276.7h1.6" stroke="#555" stroke-width=".5"/>
<text x="221.1" y="279.0" font-size="6.45">10</text>
<path d="M217.9 257.3h1.6" stroke="#555" stroke-width=".5"/>
<text x="221.1" y="259.6" font-size="6.45">15</text>
<path d="M217.9 237.8h1.6" stroke="#555" stroke-width=".5"/>
<text x="221.1" y="240.1" font-size="6.45">20</text>
<text x="120.3" y="337.7" text-anchor="middle" font-size="6.8">Butterworth 2nd Order Filtered Signal Between 0.5-100 Hz</text>
<rect x="28.5" y="340.8" width="182.9" height="83.3" fill="#eaeaf2"/>
<text x="28.5" y="432.5" text-anchor="middle" font-size="6.45">4.0</text>
<text x="57.1" y="432.5" text-anchor="middle" font-size="6.45">4.5</text>
<text x="85.7" y="432.5" text-anchor="middle" font-size="6.45">5.0</text>
<text x="114.3" y="432.5" text-anchor="middle" font-size="6.45">5.5</text>
<text x="142.9" y="432.5" text-anchor="middle" font-size="6.45">6.0</text>
<text x="171.5" y="432.5" text-anchor="middle" font-size="6.45">6.5</text>
<text x="200.1" y="432.5" text-anchor="middle" font-size="6.45">7.0</text>
<text x="25.3" y="413.4" text-anchor="end" font-size="6.45">−100</text>
<text x="25.3" y="391.6" text-anchor="end" font-size="6.45">0</text>
<text x="25.3" y="369.7" text-anchor="end" font-size="6.45">100</text>
<text x="25.3" y="347.9" text-anchor="end" font-size="6.45">200</text>
<path d="M28.5 340.8V424.1M57.1 340.8V424.1M85.7 340.8V424.1M114.3 340.8V424.1M142.9 340.8V424.1M171.5 340.8V424.1M200.1 340.8V424.1M28.5 411.2H211.4M28.5 389.4H211.4M28.5 367.5H211.4M28.5 345.7H211.4" stroke="#fff" stroke-width=".45" stroke-opacity=".6" fill="none"/>
<polyline points="28.5,388.3 28.8,387.2 29.2,387.8 29.5,388 29.8,389 30.1,385.6 30.5,387.6 30.8,388.8 31.1,390.1 31.4,389.9 31.8,389.2 32.1,389.7 32.4,389 32.7,388.6 33.1,391.9 33.4,392.9 33.7,390.8 34,392.9 34.4,392.4 34.7,391.8 35,391.3 35.4,393.9 35.7,390.7 36,389.1 36.3,391.5 36.7,393.3 37,394.1 37.3,393 37.6,394.1 38,393 38.3,394 38.6,392.6 38.9,394.3 39.3,395.6 39.6,393.3 39.9,395.8 40.3,395.4 40.6,395.2 40.9,396.2 41.2,395.8 41.6,395.3 41.9,394.1 42.2,394.2 42.5,394.6 42.9,396.1 43.2,395.6 43.5,395.5 43.8,394.4 44.2,396.6 44.5,398.5 44.8,397.2 45.1,397.8 45.5,400.1 45.8,398.1 46.1,398.3 46.5,397.4 46.8,398.1 47.1,397 47.4,397.9 47.8,396.1 48.1,395.5 48.4,397 48.7,398.1 49.1,398.3 49.4,397.5 49.7,397.6 50,398.9 50.4,398.5 50.7,399.4 51,397.5 51.3,398.5 51.7,396.8 52,397.9 52.3,399.3 52.7,399.5 53,397.6 53.3,398.5 53.6,400.5 54,399 54.3,399 54.6,400 54.9,399.7 55.3,401.8 55.6,401.3 55.9,400.7 56.2,399.9 56.6,402.8 56.9,400.8 57.2,402.8 57.6,399.7 57.9,399.6 58.2,400.3 58.5,399.9 58.9,402.4 59.2,400.2 59.5,401.9 59.8,399.7 60.2,400.7 60.5,398.9 60.8,399 61.1,401.1 61.5,401.1 61.8,400.9 62.1,397.8 62.4,395.2 62.8,396.7 63.1,394.2 63.4,393.9 63.8,388.9 64.1,387.6 64.4,380.9 64.7,381.2 65.1,377.2 65.4,374.1 65.7,369.6 66,366.4 66.4,361 66.7,358.3 67,355 67.3,353 67.7,351.1 68,349.5 68.3,347.2 68.6,346.3 69,345.8 69.3,346.6 69.6,350.6 70,351 70.3,353.4 70.6,356.9 70.9,358.2 71.3,356 71.6,357.6 71.9,362.5 72.2,363 72.6,364.7 72.9,367.4 73.2,370.5 73.5,371.1 73.9,373.2 74.2,372.9 74.5,374.6 74.9,379.7 75.2,380.5 75.5,382.5 75.8,385.5 76.2,385.5 76.5,385.3 76.8,388.3 77.1,387 77.5,388.1 77.8,388.8 78.1,387.7 78.4,392.7 78.8,392.8 79.1,391.8 79.4,393.3 79.7,392.6 80.1,394.9 80.4,394 80.7,392.5 81.1,395.5 81.4,395.1 81.7,393.6 82,394 82.4,395.7 82.7,396.3 83,396.7 83.3,396.7 83.7,396.7 84,398.5 84.3,396.7 84.6,397.3 85,396.9 85.3,398.1 85.6,396.2 85.9,395.4 86.3,394 86.6,394.6 86.9,393.5 87.3,397.3 87.6,394.4 87.9,395.3 88.2,391.3 88.6,393.1 88.9,393.2 89.2,396.3 89.5,396.1 89.9,394.5 90.2,394.1 90.5,397.4 90.8,394 91.2,394.5 91.5,395.5 91.8,392.3 92.2,393.6 92.5,393.9 92.8,392.1 93.1,392.6 93.5,392.8 93.8,392.7 94.1,391.6 94.4,393.2 94.8,389.4 95.1,390.7 95.4,390.8 95.7,390.7 96.1,392.6 96.4,390.7 96.7,391.7 97,389 97.4,390.9 97.7,390.9 98,389.1 98.4,389 98.7,387.7 99,386.7 99.3,386 99.7,386.8 100,387.1 100.3,385.6 100.6,383.7 101,386.3 101.3,384.2 101.6,385.2 101.9,385.7 102.3,383.3 102.6,384.2 102.9,384.7 103.2,382.4 103.6,385.9 103.9,384.1 104.2,383.2 104.6,384.3 104.9,386.5 105.2,384.1 105.5,385.3 105.9,381.9 106.2,383.7 106.5,381.7 106.8,381.8 107.2,379.6 107.5,379.8 107.8,379.5 108.1,380.7 108.5,378 108.8,379.5 109.1,377.7 109.5,375.5 109.8,380.3 110.1,375.4 110.4,374.5 110.8,377.5 111.1,373.9 111.4,374.4 111.7,376 112.1,373.7 112.4,372.5 112.7,372.5 113,372.8 113.4,371.4 113.7,370.8 114,372.3 114.3,370.8 114.7,369.7 115,368.3 115.3,370 115.7,369.9 116,369.5 116.3,368.3 116.6,370.3 117,368.2 117.3,368.6 117.6,370.1 117.9,370 118.3,370.4 118.6,371.4 118.9,372 119.2,376.7 119.6,374.9 119.9,380.9 120.2,379.6 120.6,379.3 120.9,384 121.2,383.6 121.5,386.6 121.9,384.8 122.2,385.9 122.5,386.6 122.8,388.2 123.2,390.4 123.5,391.3 123.8,394.6 124.1,391.9 124.5,395.1 124.8,395.3 125.1,397.4 125.4,396.7 125.8,398.6 126.1,398 126.4,400.9 126.8,399.6 127.1,400.9 127.4,400.9 127.7,400.9 128.1,402.3 128.4,400.4 128.7,401.7 129,402.6 129.4,403.7 129.7,403.2 130,402.2 130.3,402.1 130.7,402.3 131,403.2 131.3,404 131.6,402.8 132,405.6 132.3,404.8 132.6,403 133,405.1 133.3,406.7 133.6,403.9 133.9,404.3 134.3,405.6 134.6,403 134.9,403.7 135.2,402.9 135.6,403.5 135.9,403.4 136.2,403.3 136.5,403.6 136.9,402.1 137.2,403.2 137.5,402.9 137.9,401.1 138.2,402 138.5,401.9 138.8,401.2 139.2,400 139.5,399.5 139.8,401.9 140.1,401 140.5,401.4 140.8,401.3 141.1,400.2 141.4,399.3 141.8,398 142.1,400.4 142.4,399.4 142.7,399.3 143.1,399 143.4,399.8 143.7,398.8 144.1,399.1 144.4,398.3 144.7,395.5 145,395.9 145.4,397.4 145.7,397.6 146,396.8 146.3,396.1 146.7,395.8 147,397.3 147.3,396 147.6,399.3 148,396.3 148.3,395.1 148.6,394.8 148.9,395.2 149.3,396.8 149.6,395.7 149.9,393.6 150.3,392.7 150.6,393.5 150.9,392.7 151.2,391.8 151.6,392.8 151.9,393.1 152.2,392.4 152.5,395.8 152.9,393.4 153.2,394.3 153.5,392.7 153.8,390 154.2,392 154.5,390.7 154.8,390.7 155.2,389.6 155.5,393.7 155.8,391.3 156.1,391.3 156.5,393.1 156.8,393 157.1,393.7 157.4,393.4 157.8,393.1 158.1,392.3 158.4,392 158.7,392.4 159.1,393 159.4,391.5 159.7,394.7 160,393 160.4,392.5 160.7,393.7 161,393.9 161.4,391.6 161.7,393 162,392.7 162.3,394.6 162.7,392.9 163,393.9 163.3,392.8 163.6,395.1 164,391.9 164.3,393.6 164.6,394 164.9,395 165.3,393.1 165.6,392.7 165.9,393.9 166.2,392.7 166.6,395.6 166.9,395.6 167.2,395.5 167.6,395.1 167.9,394.7 168.2,395.8 168.5,395.4 168.9,397.6 169.2,398.6 169.5,396.2 169.8,396.5 170.2,396.9 170.5,398.4 170.8,399.6 171.1,395.9 171.5,396.6 171.8,399.5 172.1,398.6 172.5,400.5 172.8,399.6 173.1,396.7 173.4,396.2 173.8,397.9 174.1,398.7 174.4,399.9 174.7,399.4 175.1,402.2 175.4,402 175.7,402.1 176,399.6 176.4,401.6 176.7,398.9 177,398.9 177.3,402 177.7,403.6 178,404.2 178.3,402.2 178.7,402 179,401.6 179.3,402 179.6,402.9 180,403.2 180.3,403.6 180.6,404 180.9,405.4 181.3,403.6 181.6,404 181.9,404.9 182.2,407 182.6,405 182.9,405.1 183.2,404.7 183.5,406.3 183.9,404.3 184.2,407 184.5,406.2 184.9,407.5 185.2,409.6 185.5,407.2 185.8,409.9 186.2,408.9 186.5,414.2 186.8,419.4 187.1,414.1 187.5,407.1 187.8,401.5 188.1,397.8 188.4,393.3 188.8,388.9 189.1,383.9 189.4,383 189.8,379.4 190.1,377.1 190.4,373.4 190.7,369 191.1,364.6 191.4,364.9 191.7,357.8 192,358.1 192.4,355.7 192.7,354.7 193,355.3 193.3,354.2 193.7,352.6 194,352.9 194.3,353.6 194.6,356.8 195,356.2 195.3,355.5 195.6,357.5 196,359.7 196.3,359.9 196.6,362.6 196.9,364.9 197.3,365.8 197.6,365.9 197.9,365.5 198.2,366 198.6,365.5 198.9,366.6 199.2,370 199.5,369.2 199.9,370 200.2,371.5 200.5,372.6 200.8,372.6 201.2,373.1 201.5,372.8 201.8,371.7 202.2,371.6 202.5,373.8 202.8,374.3 203.1,375.2 203.5,375.5 203.8,375.4 204.1,375.9 204.4,376 204.8,374.5 205.1,379.1 205.4,378.2 205.7,379.5 206.1,378 206.4,378.9 206.7,378.7 207.1,379.1 207.4,378.9 207.7,381.3 208,384.9 208.4,383.7 208.7,384.1 209,382.5 209.3,384.4 209.7,383.6 210,381.7 210.3,381.7 210.6,383.5 211,383.6" fill="none" stroke="#1f77b4" stroke-width=".75" stroke-linejoin="round"/>
<text x="120.0" y="439.5" text-anchor="middle" font-size="6.45">s</text>
<text transform="translate(6.0 382.5) rotate(-90)" text-anchor="middle" font-size="6.45" font-style="italic">μV</text>
<rect x="31.5" y="408.4" width="40.1" height="13.0" rx="1.2" fill="#eaeaf2" fill-opacity=".8" stroke="#d2d2da" stroke-width=".6"/>
<path d="M34.5 414.9h15" stroke="#1f77b4" stroke-width=".6"/>
<text x="55.7" y="417.5" font-size="7.3">Fp1</text></g>
<g><text x="344.8" y="234.8" text-anchor="middle" font-size="6.8">STFT of F7 Channel Blink and Look Right</text>
<clipPath id="cF7"><rect x="253.1" y="237.8" width="183.1" height="84.5"/></clipPath><g clip-path="url(#cF7)"><g filter="url(#bl)"><g shape-rendering="crispEdges"><rect x="250" y="234" width="190" height="92" fill="#000eff"/><path fill="#0021ff" d="M343 234h6v4h-6zM344 238h5v3h-5zM293 234h14v8h-14zM345 241h3v1h-3zM250 234h40v9h-40zM345 242h2v1h-2zM381 234h59v9h-59zM294 242h13v2h-13zM309 234h32v10h-32zM355 234h25v10h-25zM250 243h39v2h-39zM310 244h31v1h-31zM354 244h26v1h-26zM250 245h40v1h-40zM350 245h30v1h-30zM250 246h41v1h-41zM250 247h43v1h-43zM347 246h33v2h-33zM309 245h32v4h-32zM346 248h34v2h-34zM308 249h33v2h-33zM345 250h35v1h-35zM381 243h42v8h-42zM308 251h21v1h-21zM250 248h44v5h-44zM295 244h12v9h-12zM345 251h78v2h-78zM344 253h79v1h-79zM424 243h16v11h-16zM330 251h11v6h-11zM308 252h20v6h-20zM250 253h57v7h-57zM308 258h21v2h-21zM344 254h96v7h-96zM331 257h10v5h-10zM250 260h79v3h-79zM330 262h11v1h-11zM250 263h91v7h-91zM250 270h92v1h-92zM343 261h97v10h-97zM250 271h190v55h-190z"/><path fill="#0034ff" d="M431 234h2v4h-2zM285 234h2v5h-2zM300 234h4v5h-4zM410 234h1v5h-1zM360 239h3v1h-3zM299 239h6v2h-6zM409 239h3v2h-3zM276 234h3v8h-3zM360 240h4v2h-4zM409 241h4v1h-4zM260 241h1v2h-1zM275 242h4v1h-4zM359 242h5v1h-5zM401 234h2v9h-2zM260 243h2v1h-2zM267 243h3v1h-3zM408 242h5v2h-5zM260 244h4v1h-4zM265 244h6v1h-6zM260 245h11v1h-11zM275 243h5v3h-5zM359 243h6v3h-6zM401 243h1v3h-1zM275 246h6v1h-6zM375 234h2v13h-2zM408 244h6v3h-6zM250 247h4v1h-4zM408 247h8v1h-8zM250 248h6v1h-6zM263 246h9v3h-9zM274 247h7v2h-7zM298 241h7v8h-7zM358 246h7v3h-7zM401 246h2v3h-2zM408 248h9v1h-9zM274 249h8v1h-8zM401 249h3v1h-3zM263 249h10v2h-10zM274 250h9v1h-9zM317 250h1v1h-1zM357 249h8v2h-8zM408 249h10v2h-10zM263 251h20v1h-20zM316 251h3v1h-3zM370 251h1v1h-1zM400 250h4v2h-4zM431 251h2v1h-2zM316 252h4v1h-4zM369 252h3v1h-3zM430 252h3v1h-3zM250 249h8v5h-8zM357 251h9v3h-9zM368 253h5v1h-5zM430 253h4v1h-4zM298 249h6v6h-6zM315 253h5v2h-5zM356 254h10v1h-10zM367 254h6v1h-6zM388 254h1v1h-1zM400 252h5v3h-5zM299 255h4v1h-4zM388 255h2v1h-2zM399 255h6v1h-6zM408 251h11v5h-11zM263 252h21v5h-21zM315 255h6v2h-6zM387 256h3v1h-3zM429 254h5v3h-5zM356 255h17v3h-17zM399 256h7v2h-7zM408 256h12v2h-12zM428 257h6v1h-6zM315 257h7v2h-7zM409 258h11v1h-11zM264 257h20v3h-20zM314 259h8v1h-8zM356 258h18v2h-18zM399 258h9v2h-9zM410 259h10v1h-10zM387 257h4v4h-4zM428 258h7v3h-7zM264 260h21v2h-21zM426 261h9v1h-9zM411 260h9v3h-9zM290 262h1v2h-1zM425 262h10v2h-10zM311 260h12v5h-12zM355 260h19v5h-19zM398 260h10v5h-10zM424 264h11v1h-11zM289 264h2v2h-2zM350 265h1v1h-1zM354 265h20v1h-20zM423 265h12v1h-12zM311 265h13v2h-13zM411 263h10v4h-10zM422 266h14v1h-14zM411 267h25v1h-25zM263 262h22v7h-22zM289 266h3v3h-3zM386 261h6v8h-6zM262 269h23v1h-23zM397 265h10v5h-10zM262 270h24v2h-24zM288 269h4v3h-4zM350 266h24v6h-24zM396 270h11v2h-11zM250 254h9v19h-9zM261 272h31v1h-31zM311 267h14v6h-14zM351 272h23v1h-23zM386 269h7v4h-7zM250 273h6v1h-6zM260 273h32v1h-32zM368 273h6v1h-6zM386 273h8v1h-8zM395 272h11v2h-11zM411 268h29v6h-29zM259 274h33v1h-33zM386 274h20v1h-20zM250 274h5v2h-5zM259 275h18v1h-18zM411 274h9v2h-9zM421 274h19v2h-19zM259 276h17v1h-17zM311 273h13v4h-13zM351 273h15v4h-15zM281 275h11v3h-11zM387 275h19v3h-19zM422 276h18v2h-18zM310 277h14v2h-14zM259 277h16v3h-16zM310 279h13v1h-13zM282 278h9v3h-9zM338 280h2v1h-2zM352 277h13v4h-13zM411 276h8v5h-8zM422 278h9v3h-9zM259 280h15v2h-15zM290 281h1v1h-1zM309 280h14v2h-14zM337 281h3v1h-3zM290 282h2v1h-2zM337 282h4v1h-4zM353 281h12v2h-12zM433 278h7v5h-7zM259 282h14v2h-14zM281 281h7v3h-7zM290 283h4v1h-4zM336 283h5v1h-5zM423 281h8v3h-8zM259 284h13v1h-13zM308 282h15v3h-15zM354 283h11v2h-11zM410 281h9v4h-9zM424 284h7v1h-7zM282 284h6v2h-6zM289 284h6v2h-6zM259 285h12v2h-12zM289 286h7v1h-7zM336 284h6v3h-6zM355 285h9v2h-9zM424 285h6v2h-6zM250 276h4v12h-4zM259 287h11v1h-11zM282 286h5v2h-5zM336 287h7v1h-7zM409 285h10v3h-10zM259 288h10v1h-10zM281 288h6v1h-6zM336 288h8v1h-8zM368 274h7v15h-7zM387 278h18v11h-18zM409 288h11v1h-11zM250 288h3v2h-3zM288 287h8v3h-8zM307 285h16v5h-16zM336 289h9v1h-9zM356 287h8v3h-8zM367 289h8v1h-8zM387 289h6v1h-6zM408 289h13v1h-13zM260 289h9v2h-9zM281 289h5v2h-5zM366 290h9v1h-9zM388 290h5v1h-5zM408 290h14v1h-14zM434 283h6v8h-6zM262 291h6v1h-6zM388 291h4v1h-4zM425 287h5v5h-5zM281 291h4v2h-4zM335 290h11v3h-11zM356 290h7v3h-7zM366 291h8v2h-8zM389 292h2v1h-2zM394 289h11v4h-11zM408 291h15v2h-15zM435 291h5v2h-5zM280 293h5v1h-5zM287 290h10v4h-10zM335 293h13v1h-13zM425 292h4v2h-4zM436 293h4v1h-4zM280 294h4v1h-4zM335 294h14v1h-14zM408 293h16v2h-16zM263 292h5v4h-5zM306 290h17v6h-17zM407 295h18v1h-18zM426 294h3v2h-3zM288 294h9v3h-9zM335 295h15v2h-15zM384 293h2v4h-2zM395 293h10v4h-10zM407 296h21v1h-21zM279 295h5v3h-5zM287 297h10v1h-10zM305 296h18v2h-18zM335 297h16v1h-16zM395 297h31v1h-31zM335 298h17v1h-17zM365 293h9v6h-9zM278 298h6v2h-6zM287 298h11v2h-11zM304 298h19v2h-19zM355 293h8v7h-8zM383 297h3v3h-3zM395 298h32v2h-32zM436 299h4v1h-4zM264 296h5v5h-5zM278 300h7v1h-7zM287 300h12v1h-12zM335 299h18v2h-18zM304 300h20v2h-20zM365 299h8v3h-8zM383 300h4v2h-4zM255 302h1v1h-1zM264 301h6v2h-6zM277 301h8v2h-8zM286 301h13v2h-13zM396 300h31v3h-31zM435 300h5v3h-5zM255 303h2v1h-2zM264 303h7v1h-7zM275 303h25v1h-25zM303 302h21v2h-21zM335 301h19v3h-19zM366 302h6v2h-6zM254 304h4v1h-4zM302 304h23v1h-23zM334 304h20v1h-20zM355 300h7v5h-7zM366 304h5v1h-5zM397 303h30v2h-30zM434 303h6v2h-6zM254 305h5v1h-5zM263 304h37v2h-37zM301 305h28v1h-28zM253 306h7v1h-7zM261 306h68v1h-68zM253 307h77v1h-77zM334 305h28v3h-28zM365 305h7v3h-7zM382 302h5v6h-5zM396 305h31v3h-31zM433 305h7v3h-7zM250 308h190v18h-190z"/><path fill="#0047ff" d="M277 247h1v2h-1zM268 249h2v1h-2zM268 250h3v1h-3zM276 249h3v2h-3zM360 250h1v1h-1zM267 251h4v2h-4zM276 251h4v2h-4zM359 251h3v2h-3zM275 253h5v1h-5zM358 253h4v1h-4zM255 255h1v1h-1zM267 253h5v3h-5zM254 256h2v1h-2zM275 254h6v3h-6zM358 254h5v3h-5zM415 256h1v1h-1zM414 257h2v1h-2zM267 256h6v3h-6zM274 257h7v2h-7zM318 258h1v1h-1zM414 258h3v1h-3zM266 259h15v1h-15zM318 259h2v1h-2zM431 259h1v1h-1zM254 257h3v4h-3zM431 260h2v1h-2zM253 261h4v1h-4zM370 260h1v2h-1zM266 260h16v3h-16zM317 260h3v3h-3zM369 262h2v1h-2zM413 259h4v4h-4zM317 263h4v1h-4zM254 262h3v3h-3zM266 263h15v2h-15zM357 257h6v8h-6zM430 261h3v5h-3zM255 265h1v2h-1zM267 265h13v2h-13zM357 265h7v2h-7zM369 263h3v4h-3zM430 266h2v1h-2zM267 267h12v2h-12zM316 264h5v5h-5zM431 267h1v2h-1zM267 269h11v1h-11zM389 268h1v3h-1zM267 270h8v2h-8zM413 263h5v10h-5zM370 267h1v7h-1zM267 272h7v3h-7zM356 267h8v8h-8zM370 274h2v1h-2zM388 271h3v4h-3zM267 275h6v1h-6zM401 275h1v1h-1zM357 275h7v2h-7zM400 276h3v1h-3zM268 276h5v2h-5zM399 277h4v1h-4zM268 278h4v1h-4zM269 279h2v1h-2zM315 269h6v12h-6zM357 277h6v5h-6zM398 278h5v4h-5zM315 281h5v2h-5zM358 282h5v1h-5zM389 275h3v9h-3zM371 275h1v10h-1zM389 284h2v1h-2zM316 283h4v3h-4zM390 285h1v1h-1zM358 283h4v4h-4zM338 287h2v1h-2zM371 285h2v3h-2zM413 273h4v15h-4zM291 288h3v1h-3zM338 288h3v1h-3zM412 288h5v1h-5zM290 289h4v1h-4zM338 289h4v1h-4zM412 289h6v1h-6zM338 290h5v1h-5zM371 288h1v3h-1zM397 282h7v9h-7zM410 290h9v1h-9zM290 290h5v2h-5zM410 291h11v1h-11zM338 291h6v2h-6zM397 291h6v2h-6zM358 287h3v7h-3zM410 292h12v2h-12zM316 286h5v9h-5zM338 293h7v2h-7zM289 292h6v4h-6zM338 295h9v1h-9zM398 293h5v3h-5zM338 296h10v1h-10zM409 294h14v3h-14zM289 296h7v2h-7zM337 297h12v1h-12zM399 296h4v2h-4zM408 297h16v1h-16zM337 298h13v1h-13zM400 298h3v1h-3zM408 298h17v1h-17zM289 298h8v2h-8zM307 299h2v1h-2zM401 299h1v1h-1zM407 299h18v1h-18zM307 300h3v1h-3zM337 299h14v2h-14zM407 300h19v1h-19zM316 295h6v7h-6zM406 301h20v1h-20zM306 301h4v2h-4zM317 302h5v1h-5zM288 300h10v4h-10zM336 301h16v3h-16zM404 302h22v2h-22zM287 304h12v2h-12zM317 303h4v3h-4zM305 303h6v4h-6zM318 306h3v1h-3zM357 294h4v13h-4zM288 306h10v2h-10zM304 307h7v1h-7zM318 307h4v1h-4zM336 304h17v4h-17zM357 307h3v1h-3zM403 304h23v4h-23zM255 308h3v1h-3zM268 308h4v1h-4zM279 308h19v1h-19zM303 308h9v1h-9zM317 308h58v1h-58zM378 308h62v1h-62zM250 309h65v1h-65zM316 309h124v1h-124zM250 310h190v9h-190zM250 319h65v7h-65zM316 319h124v7h-124z"/><path fill="#005aff" d="M269 255h1v1h-1zM268 256h3v3h-3zM359 257h2v2h-2zM277 254h1v6h-1zM358 259h3v2h-3zM276 260h3v2h-3zM277 262h1v2h-1zM268 259h4v6h-4zM268 265h5v3h-5zM269 268h4v2h-4zM318 266h1v4h-1zM269 270h3v3h-3zM415 271h1v2h-1zM317 270h2v4h-2zM270 273h1v2h-1zM318 274h1v3h-1zM358 261h4v16h-4zM359 277h3v1h-3zM359 278h2v3h-2zM401 283h1v2h-1zM400 285h2v1h-2zM400 286h3v1h-3zM400 287h2v2h-2zM414 290h3v1h-3zM318 291h1v1h-1zM340 291h2v1h-2zM401 289h1v3h-1zM413 291h6v1h-6zM291 291h2v2h-2zM413 292h8v1h-8zM339 292h4v2h-4zM412 293h9v1h-9zM339 294h5v1h-5zM412 294h10v1h-10zM339 295h6v1h-6zM411 295h11v1h-11zM291 293h3v4h-3zM338 296h9v1h-9zM410 296h12v1h-12zM290 297h5v1h-5zM338 297h10v1h-10zM409 297h14v1h-14zM290 298h6v1h-6zM338 298h11v1h-11zM408 298h16v1h-16zM289 299h7v1h-7zM338 299h12v1h-12zM338 300h13v1h-13zM408 299h17v2h-17zM289 300h8v2h-8zM318 292h2v10h-2zM407 301h18v1h-18zM337 301h14v2h-14zM407 302h19v2h-19zM406 304h20v2h-20zM288 302h10v5h-10zM307 304h1v3h-1zM289 307h9v1h-9zM306 307h3v1h-3zM337 303h15v5h-15zM405 306h21v2h-21zM287 308h10v1h-10zM305 308h5v1h-5zM319 308h52v1h-52zM383 308h5v1h-5zM391 308h49v1h-49zM250 309h11v1h-11zM266 309h32v1h-32zM299 309h13v1h-13zM317 309h123v1h-123zM250 310h64v1h-64zM250 311h65v4h-65zM250 315h64v11h-64zM316 310h124v16h-124z"/><path fill="#006dff" d="M415 291h3v1h-3zM414 292h6v1h-6zM340 294h3v1h-3zM413 293h8v2h-8zM340 295h4v1h-4zM413 295h9v1h-9zM339 296h6v1h-6zM412 296h10v1h-10zM292 297h2v1h-2zM339 297h8v1h-8zM410 297h12v1h-12zM291 298h4v1h-4zM339 298h9v1h-9zM409 298h15v1h-15zM338 299h11v1h-11zM290 299h6v2h-6zM338 300h12v2h-12zM289 301h8v3h-8zM338 302h13v2h-13zM408 299h17v5h-17zM289 304h9v2h-9zM337 304h14v2h-14zM338 306h14v1h-14zM289 306h8v2h-8zM338 307h13v1h-13zM407 304h18v4h-18zM288 308h9v1h-9zM307 308h1v1h-1zM323 308h47v1h-47zM393 308h47v1h-47zM250 309h9v1h-9zM270 309h27v1h-27zM303 309h7v1h-7zM250 310h11v1h-11zM266 310h31v1h-31zM299 310h13v1h-13zM317 309h123v2h-123zM250 311h13v1h-13zM265 311h48v1h-48zM250 312h63v14h-63zM316 311h124v15h-124z"/><path fill="#0080ff" d="M415 292h4v1h-4zM414 293h6v1h-6zM414 294h7v1h-7zM341 295h1v1h-1zM340 296h4v1h-4zM413 295h8v2h-8zM340 297h6v1h-6zM411 297h11v1h-11zM292 298h2v1h-2zM339 298h9v1h-9zM410 298h13v1h-13zM291 299h4v1h-4zM339 299h10v1h-10zM409 299h15v1h-15zM290 300h6v1h-6zM339 300h11v1h-11zM290 301h7v1h-7zM338 301h12v2h-12zM289 302h8v5h-8zM290 307h7v1h-7zM338 303h13v5h-13zM408 300h17v8h-17zM289 308h8v1h-8zM323 308h47v1h-47zM393 308h47v1h-47zM278 309h19v1h-19zM305 309h4v1h-4zM318 309h122v1h-122zM250 310h10v1h-10zM267 310h30v1h-30zM300 310h11v1h-11zM250 311h11v1h-11zM266 311h31v1h-31zM298 311h14v1h-14zM250 312h14v1h-14zM265 312h48v1h-48zM317 310h123v8h-123zM250 313h63v13h-63zM316 318h124v8h-124z"/><path fill="#0092ff" d="M416 292h2v1h-2zM415 293h5v1h-5zM414 294h7v3h-7zM341 297h4v1h-4zM412 297h10v1h-10zM340 298h7v1h-7zM410 298h13v1h-13zM291 299h4v1h-4zM339 299h9v1h-9zM339 300h10v1h-10zM409 299h15v2h-15zM290 300h6v2h-6zM339 301h11v1h-11zM290 302h7v1h-7zM338 302h12v2h-12zM289 303h8v3h-8zM290 306h7v1h-7zM290 307h6v1h-6zM338 304h13v4h-13zM408 301h17v7h-17zM289 308h8v1h-8zM324 308h46v1h-46zM393 308h47v1h-47zM281 309h16v1h-16zM318 309h122v1h-122zM250 310h9v1h-9zM273 310h24v1h-24zM303 310h6v1h-6zM250 311h11v1h-11zM267 311h30v1h-30zM299 311h12v1h-12zM250 312h12v1h-12zM265 312h47v1h-47zM250 313h14v1h-14zM265 313h48v1h-48zM250 314h63v12h-63zM317 310h123v16h-123z"/><path fill="#00a5ff" d="M415 293h4v1h-4zM415 294h5v1h-5zM414 295h7v2h-7zM341 297h3v1h-3zM413 297h8v1h-8zM341 298h5v1h-5zM410 298h13v1h-13zM292 299h2v1h-2zM340 299h8v1h-8zM291 300h4v1h-4zM339 300h10v2h-10zM409 299h15v3h-15zM290 301h6v2h-6zM409 302h16v1h-16zM339 302h11v2h-11zM290 303h7v3h-7zM338 304h12v3h-12zM339 307h11v1h-11zM408 303h17v5h-17zM290 306h6v3h-6zM324 308h46v1h-46zM393 308h47v1h-47zM283 309h14v1h-14zM319 309h121v1h-121zM277 310h20v1h-20zM305 310h3v1h-3zM318 310h122v1h-122zM250 311h10v1h-10zM268 311h29v1h-29zM300 311h10v1h-10zM250 312h11v1h-11zM266 312h31v1h-31zM298 312h14v1h-14zM250 313h13v1h-13zM250 314h14v1h-14zM265 313h47v2h-47zM250 315h62v1h-62zM250 316h63v10h-63zM317 311h123v15h-123z"/><path fill="#00b8ff" d="M416 293h3v1h-3zM415 294h5v2h-5zM414 296h6v1h-6zM414 297h7v1h-7zM341 298h4v1h-4zM411 298h11v1h-11zM340 299h7v1h-7zM410 299h13v1h-13zM291 300h4v1h-4zM340 300h8v1h-8zM291 301h5v1h-5zM339 301h10v2h-10zM290 302h6v5h-6zM291 307h5v1h-5zM339 303h11v5h-11zM409 300h15v8h-15zM290 308h6v1h-6zM324 308h46v1h-46zM393 308h47v1h-47zM285 309h12v1h-12zM320 309h53v1h-53zM379 309h61v1h-61zM278 310h19v1h-19zM318 310h122v1h-122zM250 311h10v1h-10zM270 311h27v1h-27zM302 311h7v1h-7zM250 312h11v1h-11zM266 312h31v1h-31zM298 312h13v1h-13zM250 313h12v1h-12zM250 314h13v1h-13zM250 315h14v1h-14zM265 313h47v3h-47zM250 316h62v10h-62zM317 311h123v15h-123z"/><path fill="#00cbff" d="M417 293h1v1h-1zM416 294h3v1h-3zM415 295h5v2h-5zM414 297h7v1h-7zM342 298h3v1h-3zM411 298h11v1h-11zM341 299h6v1h-6zM410 299h13v1h-13zM292 300h2v1h-2zM340 300h8v1h-8zM291 301h4v1h-4zM340 301h9v1h-9zM339 302h10v1h-10zM290 302h6v5h-6zM291 307h4v1h-4zM339 303h11v5h-11zM409 300h15v8h-15zM290 308h6v1h-6zM324 308h46v1h-46zM393 308h47v1h-47zM286 309h11v1h-11zM322 309h49v1h-49zM380 309h60v1h-60zM280 310h17v1h-17zM250 311h9v1h-9zM275 311h22v1h-22zM304 311h4v1h-4zM267 312h30v1h-30zM299 312h12v1h-12zM250 312h11v2h-11zM266 313h31v1h-31zM318 310h122v5h-122zM250 314h12v2h-12zM250 316h13v1h-13zM250 317h14v1h-14zM265 314h32v4h-32zM250 318h47v8h-47zM298 313h14v13h-14zM317 315h123v11h-123z"/><path fill="#00defd" d="M416 294h3v1h-3zM415 295h5v3h-5zM412 298h10v1h-10zM341 299h5v1h-5zM410 299h13v1h-13zM292 300h2v1h-2zM410 300h14v1h-14zM291 301h4v1h-4zM340 300h8v2h-8zM291 302h5v1h-5zM340 302h9v1h-9zM339 303h10v1h-10zM290 303h6v3h-6zM291 306h5v1h-5zM339 304h11v3h-11zM291 307h4v1h-4zM339 307h10v1h-10zM409 301h15v7h-15zM291 308h5v1h-5zM324 308h46v1h-46zM393 308h47v1h-47zM287 309h10v1h-10zM323 309h48v1h-48zM381 309h59v1h-59zM281 310h16v1h-16zM319 310h121v1h-121zM277 311h20v1h-20zM250 312h10v1h-10zM268 312h29v1h-29zM300 312h11v1h-11zM250 313h11v3h-11zM318 311h122v5h-122zM266 313h31v4h-31zM250 316h12v2h-12zM250 318h13v1h-13zM265 317h32v2h-32zM250 319h47v7h-47zM298 313h14v13h-14zM317 316h123v10h-123z"/><path fill="#09f1ee" d="M417 294h2v1h-2zM416 295h3v1h-3zM416 296h4v1h-4zM415 297h5v1h-5zM412 298h9v1h-9zM341 299h5v1h-5zM341 300h6v1h-6zM410 299h13v2h-13zM340 301h8v1h-8zM291 301h4v2h-4zM340 302h9v1h-9zM290 303h6v3h-6zM291 306h5v1h-5zM339 303h10v4h-10zM340 307h9v1h-9zM409 301h15v7h-15zM291 307h4v2h-4zM324 308h46v1h-46zM393 308h47v1h-47zM288 309h9v1h-9zM323 309h48v1h-48zM382 309h58v1h-58zM283 310h14v1h-14zM319 310h121v1h-121zM278 311h19v1h-19zM250 312h10v1h-10zM269 312h28v1h-28zM300 312h10v1h-10zM267 313h30v1h-30zM299 313h12v1h-12zM318 311h122v6h-122zM266 314h31v4h-31zM250 313h11v6h-11zM250 319h12v2h-12zM265 318h32v3h-32zM250 321h47v5h-47zM298 314h14v12h-14zM317 317h123v9h-123z"/><path fill="#18ffde" d="M416 295h3v2h-3zM415 297h5v1h-5zM413 298h8v1h-8zM342 299h3v1h-3zM411 299h11v1h-11zM341 300h6v1h-6zM410 300h13v1h-13zM292 301h2v1h-2zM340 301h8v1h-8zM410 301h14v1h-14zM291 302h4v1h-4zM291 303h5v3h-5zM291 306h4v1h-4zM292 307h3v1h-3zM340 302h9v6h-9zM409 302h15v6h-15zM291 308h4v1h-4zM324 308h46v1h-46zM393 308h47v1h-47zM288 309h9v1h-9zM323 309h47v1h-47zM384 309h56v1h-56zM284 310h13v1h-13zM320 310h120v1h-120zM279 311h18v1h-18zM250 312h9v1h-9zM274 312h23v1h-23zM301 312h8v1h-8zM250 313h10v1h-10zM299 313h12v3h-12zM267 313h30v4h-30zM318 311h122v7h-122zM266 317h31v2h-31zM250 314h11v12h-11zM265 319h32v7h-32zM299 316h13v10h-13zM317 318h123v8h-123z"/><path fill="#28ffcf" d="M417 295h1v1h-1zM416 296h3v2h-3zM414 298h6v1h-6zM411 299h11v1h-11zM341 300h6v1h-6zM292 301h2v1h-2zM341 301h7v1h-7zM410 300h13v2h-13zM340 302h8v1h-8zM291 302h4v2h-4zM410 302h14v2h-14zM291 304h5v1h-5zM291 305h4v2h-4zM409 304h15v3h-15zM292 307h2v1h-2zM340 303h9v5h-9zM410 307h14v1h-14zM292 308h3v1h-3zM324 308h46v1h-46zM394 308h46v1h-46zM288 309h9v1h-9zM323 309h47v1h-47zM389 309h51v1h-51zM285 310h12v1h-12zM320 310h53v1h-53zM376 310h64v1h-64zM280 311h17v1h-17zM250 312h9v1h-9zM275 312h22v1h-22zM303 312h6v1h-6zM250 313h10v1h-10zM268 313h29v1h-29zM319 311h121v3h-121zM267 314h30v4h-30zM299 313h12v6h-12zM266 318h31v2h-31zM318 314h122v6h-122zM250 314h11v12h-11zM265 320h32v6h-32zM299 319h13v7h-13zM317 320h123v6h-123z"/><path fill="#37ffc0" d="M417 296h1v1h-1zM416 297h3v1h-3zM414 298h6v1h-6zM411 299h11v1h-11zM342 300h4v1h-4zM341 301h6v1h-6zM410 300h13v2h-13zM340 302h8v2h-8zM291 302h4v5h-4zM340 304h9v4h-9zM410 302h14v6h-14zM292 308h2v1h-2zM324 308h46v1h-46zM394 308h46v1h-46zM288 309h8v1h-8zM323 309h47v1h-47zM392 309h48v1h-48zM286 310h11v1h-11zM321 310h51v1h-51zM379 310h61v1h-61zM281 311h16v1h-16zM277 312h20v1h-20zM304 312h4v1h-4zM269 313h28v1h-28zM300 313h10v1h-10zM319 311h121v4h-121zM250 313h10v4h-10zM268 314h29v3h-29zM267 317h30v2h-30zM318 315h122v6h-122zM250 317h11v9h-11zM266 319h31v7h-31zM299 314h12v12h-12zM317 321h123v5h-123z"/><path fill="#46ffb1" d="M417 297h1v1h-1zM415 298h5v1h-5zM411 299h11v1h-11zM342 300h4v1h-4zM341 301h6v1h-6zM292 302h3v1h-3zM341 302h7v1h-7zM340 303h8v1h-8zM291 303h4v3h-4zM292 306h3v1h-3zM340 304h9v3h-9zM340 307h8v1h-8zM410 300h13v8h-13zM293 308h1v1h-1zM324 308h46v1h-46zM394 308h46v1h-46zM289 309h7v1h-7zM323 309h47v1h-47zM392 309h48v1h-48zM286 310h11v1h-11zM322 310h49v1h-49zM380 310h60v1h-60zM282 311h15v1h-15zM277 312h20v1h-20zM273 313h24v1h-24zM300 313h10v1h-10zM319 311h121v5h-121zM269 314h28v3h-28zM268 317h29v1h-29zM250 313h10v7h-10zM267 318h30v2h-30zM250 320h11v6h-11zM266 320h31v6h-31zM300 314h11v12h-11zM318 316h122v10h-122z"/><path fill="#55ffa1" d="M415 298h4v1h-4zM412 299h9v1h-9zM343 300h2v1h-2zM411 300h12v1h-12zM341 301h6v1h-6zM292 302h2v1h-2zM341 302h7v1h-7zM291 303h4v3h-4zM292 306h2v1h-2zM340 303h8v4h-8zM341 307h7v1h-7zM410 301h13v7h-13zM324 308h1v1h-1zM335 308h19v1h-19zM356 308h5v1h-5zM402 308h24v1h-24zM289 309h7v1h-7zM323 309h47v1h-47zM392 309h48v1h-48zM287 310h10v1h-10zM323 310h48v1h-48zM380 310h60v1h-60zM283 311h14v1h-14zM278 312h19v1h-19zM250 313h9v1h-9zM274 313h23v1h-23zM301 313h9v1h-9zM320 311h120v3h-120zM300 314h10v1h-10zM270 314h27v2h-27zM319 314h121v2h-121zM269 316h28v2h-28zM268 318h29v1h-29zM267 319h30v2h-30zM250 314h10v12h-10zM266 321h31v5h-31zM300 315h11v11h-11zM318 316h122v10h-122z"/><path fill="#65ff92" d="M416 298h3v1h-3zM412 299h9v1h-9zM411 300h11v1h-11zM342 301h5v1h-5zM292 302h2v1h-2zM341 302h6v1h-6zM292 303h3v1h-3zM341 303h7v1h-7zM291 304h4v1h-4zM292 305h3v1h-3zM292 306h2v1h-2zM340 304h8v3h-8zM341 307h7v1h-7zM410 301h13v7h-13zM337 308h15v1h-15zM404 308h22v1h-22zM289 309h7v1h-7zM323 309h47v1h-47zM392 309h48v1h-48zM287 310h10v1h-10zM323 310h48v1h-48zM381 310h59v1h-59zM285 311h12v1h-12zM279 312h18v1h-18zM276 313h21v1h-21zM302 313h7v1h-7zM274 314h23v1h-23zM320 311h120v4h-120zM250 313h9v3h-9zM271 315h26v1h-26zM301 314h9v2h-9zM319 315h121v2h-121zM270 316h27v2h-27zM301 316h10v2h-10zM268 318h29v2h-29zM250 316h10v10h-10zM267 320h30v6h-30zM300 318h11v8h-11zM318 317h122v9h-122z"/><path fill="#74ff83" d="M416 298h2v1h-2zM412 299h9v1h-9zM411 300h11v1h-11zM342 301h4v1h-4zM341 302h6v1h-6zM292 303h2v1h-2zM292 304h3v1h-3zM292 305h2v1h-2zM341 303h7v5h-7zM410 301h13v7h-13zM338 308h14v1h-14zM406 308h19v1h-19zM289 309h7v1h-7zM323 309h47v1h-47zM393 309h47v1h-47zM287 310h10v1h-10zM323 310h48v1h-48zM381 310h59v1h-59zM285 311h12v1h-12zM280 312h17v1h-17zM255 313h2v1h-2zM276 313h21v1h-21zM303 313h5v1h-5zM321 311h52v3h-52zM377 311h63v3h-63zM275 314h22v1h-22zM302 314h8v1h-8zM320 314h120v1h-120zM274 315h23v1h-23zM273 316h24v1h-24zM270 317h27v1h-27zM301 315h9v3h-9zM319 315h121v3h-121zM250 314h9v5h-9zM269 318h28v1h-28zM268 319h29v1h-29zM250 319h10v7h-10zM267 320h30v6h-30zM301 318h10v8h-10zM318 318h122v8h-122z"/><path fill="#83ff74" d="M413 299h8v1h-8zM411 300h11v1h-11zM342 301h4v1h-4zM411 301h12v1h-12zM341 302h6v1h-6zM292 303h2v3h-2zM341 303h7v5h-7zM410 302h13v6h-13zM338 308h13v1h-13zM408 308h17v1h-17zM290 309h6v1h-6zM323 309h47v1h-47zM393 309h47v1h-47zM288 310h9v1h-9zM323 310h48v1h-48zM382 310h58v1h-58zM285 311h12v1h-12zM281 312h16v1h-16zM321 311h51v2h-51zM277 313h20v1h-20zM304 313h4v1h-4zM322 313h50v1h-50zM379 311h61v3h-61zM276 314h21v1h-21zM321 314h52v1h-52zM377 314h63v1h-63zM275 315h22v1h-22zM302 314h7v2h-7zM320 315h120v1h-120zM274 316h23v1h-23zM272 317h25v1h-25zM319 316h121v2h-121zM269 318h28v1h-28zM302 316h8v3h-8zM301 319h9v1h-9zM250 314h9v12h-9zM268 319h29v7h-29zM301 320h10v6h-10zM318 318h122v8h-122z"/><path fill="#92ff65" d="M413 299h7v1h-7zM411 300h11v1h-11zM343 301h3v1h-3zM411 301h12v1h-12zM342 302h5v1h-5zM293 303h1v1h-1zM341 303h6v1h-6zM292 304h2v1h-2zM293 305h1v1h-1zM341 304h7v3h-7zM341 307h6v1h-6zM410 302h13v6h-13zM338 308h13v1h-13zM408 308h17v1h-17zM290 309h6v1h-6zM323 309h47v1h-47zM393 309h47v1h-47zM288 310h9v1h-9zM323 310h48v1h-48zM383 310h57v1h-57zM286 311h11v1h-11zM282 312h15v1h-15zM278 313h19v1h-19zM322 311h49v3h-49zM250 314h7v1h-7zM303 314h5v1h-5zM321 314h51v1h-51zM379 311h61v4h-61zM276 314h21v2h-21zM320 315h53v1h-53zM375 315h65v1h-65zM250 315h8v2h-8zM275 316h22v1h-22zM303 315h6v2h-6zM273 317h24v1h-24zM270 318h27v1h-27zM319 316h121v3h-121zM269 319h28v1h-28zM250 317h9v9h-9zM268 320h29v6h-29zM302 317h8v9h-8zM318 319h122v7h-122z"/><path fill="#a1ff55" d="M414 299h6v1h-6zM343 301h2v1h-2zM411 300h11v2h-11zM342 302h5v1h-5zM341 303h6v1h-6zM293 304h1v1h-1zM341 304h7v3h-7zM341 307h6v1h-6zM411 302h12v6h-12zM339 308h11v1h-11zM408 308h17v1h-17zM290 309h6v1h-6zM393 309h47v1h-47zM288 310h8v1h-8zM323 309h47v2h-47zM384 310h56v1h-56zM286 311h11v1h-11zM283 312h14v1h-14zM278 313h19v1h-19zM323 311h48v3h-48zM380 311h60v3h-60zM322 314h49v1h-49zM379 314h61v1h-61zM250 315h6v1h-6zM277 314h20v2h-20zM304 314h4v2h-4zM321 315h51v1h-51zM377 315h63v1h-63zM250 316h7v1h-7zM276 316h21v1h-21zM320 316h53v1h-53zM374 316h66v1h-66zM275 317h22v1h-22zM250 317h8v2h-8zM271 318h26v1h-26zM303 316h6v3h-6zM319 317h121v3h-121zM269 319h28v2h-28zM250 319h9v7h-9zM268 321h29v5h-29zM302 319h8v7h-8zM318 320h122v6h-122z"/><path fill="#b1ff46" d="M414 299h5v1h-5zM412 300h10v1h-10zM342 302h4v1h-4zM411 301h11v2h-11zM341 303h6v4h-6zM342 307h5v1h-5zM411 303h12v5h-12zM339 308h11v1h-11zM409 308h15v1h-15zM290 309h6v1h-6zM393 309h47v1h-47zM288 310h8v1h-8zM323 309h47v2h-47zM386 310h54v1h-54zM286 311h11v1h-11zM285 312h12v1h-12zM279 313h18v1h-18zM323 311h48v3h-48zM278 314h19v1h-19zM322 314h49v1h-49zM380 311h60v4h-60zM250 315h4v1h-4zM321 315h51v1h-51zM379 315h61v1h-61zM250 316h6v1h-6zM277 315h20v2h-20zM320 316h52v1h-52zM375 316h65v1h-65zM276 317h21v1h-21zM304 315h4v3h-4zM250 317h7v2h-7zM272 318h25v1h-25zM270 319h27v1h-27zM303 318h6v2h-6zM319 317h121v3h-121zM250 319h8v7h-8zM269 320h28v6h-28zM303 320h7v6h-7zM318 320h122v6h-122z"/><path fill="#c0ff37" d="M415 299h4v1h-4zM412 300h9v1h-9zM342 302h4v1h-4zM342 303h5v1h-5zM341 304h6v3h-6zM342 307h5v1h-5zM411 301h11v7h-11zM339 308h11v1h-11zM409 308h15v1h-15zM290 309h6v1h-6zM324 309h46v1h-46zM393 309h47v1h-47zM288 310h8v1h-8zM323 310h47v1h-47zM388 310h52v1h-52zM287 311h10v1h-10zM285 312h12v1h-12zM280 313h17v1h-17zM381 311h59v3h-59zM323 311h48v4h-48zM380 314h60v1h-60zM278 314h19v2h-19zM321 315h50v1h-50zM379 315h61v1h-61zM250 316h5v1h-5zM277 316h20v1h-20zM305 316h2v1h-2zM320 316h52v1h-52zM377 316h63v1h-63zM250 317h6v1h-6zM276 317h21v1h-21zM320 317h53v1h-53zM374 317h66v1h-66zM273 318h24v1h-24zM304 317h4v2h-4zM250 318h7v2h-7zM270 319h27v1h-27zM250 320h8v6h-8zM269 320h28v6h-28zM303 319h6v7h-6zM319 318h121v8h-121z"/><path fill="#cfff28" d="M416 299h2v1h-2zM412 300h9v1h-9zM343 302h3v1h-3zM342 303h5v1h-5zM341 304h6v2h-6zM342 306h5v2h-5zM411 301h11v7h-11zM340 308h9v1h-9zM409 308h15v1h-15zM291 309h4v1h-4zM324 309h46v1h-46zM393 309h47v1h-47zM288 310h8v1h-8zM323 310h47v1h-47zM391 310h49v1h-49zM287 311h10v1h-10zM285 312h12v1h-12zM281 313h16v1h-16zM279 314h18v1h-18zM323 311h48v4h-48zM381 311h59v4h-59zM322 315h49v1h-49zM380 315h60v1h-60zM250 316h4v1h-4zM278 315h19v2h-19zM321 316h50v1h-50zM379 316h61v1h-61zM250 317h5v1h-5zM277 317h20v1h-20zM320 317h52v1h-52zM375 317h65v1h-65zM273 318h24v1h-24zM250 318h6v2h-6zM271 319h26v1h-26zM270 320h27v1h-27zM304 318h4v3h-4zM250 320h7v6h-7zM269 321h28v5h-28zM304 321h5v5h-5zM319 318h121v8h-121z"/><path fill="#deff18" d="M412 300h9v1h-9zM343 302h2v1h-2zM342 303h4v1h-4zM342 304h5v3h-5zM342 307h4v1h-4zM411 301h11v7h-11zM340 308h9v1h-9zM409 308h15v1h-15zM291 309h4v1h-4zM324 309h46v1h-46zM393 309h47v1h-47zM289 310h7v1h-7zM323 310h47v1h-47zM392 310h48v1h-48zM287 311h10v1h-10zM286 312h11v1h-11zM282 313h15v1h-15zM280 314h17v1h-17zM323 311h48v4h-48zM381 311h59v4h-59zM322 315h49v1h-49zM279 315h18v2h-18zM321 316h50v1h-50zM380 315h60v2h-60zM250 317h4v1h-4zM278 317h19v1h-19zM320 317h52v1h-52zM377 317h63v1h-63zM250 318h5v1h-5zM274 318h23v1h-23zM320 318h120v1h-120zM272 319h25v1h-25zM305 319h3v1h-3zM250 319h6v2h-6zM250 321h7v5h-7zM270 320h27v6h-27zM304 320h4v6h-4zM319 319h121v7h-121z"/><path fill="#eeff09" d="M413 300h7v1h-7zM412 301h10v1h-10zM344 302h1v1h-1zM342 303h4v1h-4zM342 304h5v3h-5zM342 307h4v1h-4zM411 302h11v6h-11zM340 308h9v1h-9zM409 308h15v1h-15zM291 309h4v1h-4zM324 309h46v1h-46zM393 309h47v1h-47zM289 310h7v1h-7zM323 310h47v1h-47zM392 310h48v1h-48zM288 311h9v1h-9zM286 312h11v1h-11zM284 313h13v1h-13zM382 311h58v3h-58zM281 314h16v1h-16zM280 315h17v1h-17zM323 311h48v5h-48zM381 314h59v2h-59zM279 316h18v1h-18zM322 316h49v1h-49zM380 316h60v1h-60zM250 317h4v1h-4zM278 317h19v1h-19zM321 317h50v1h-50zM379 317h61v1h-61zM275 318h22v1h-22zM320 318h53v1h-53zM375 318h65v1h-65zM250 318h5v2h-5zM272 319h25v1h-25zM320 319h120v1h-120zM271 320h26v1h-26zM250 320h6v6h-6zM270 321h27v5h-27zM305 321h2v5h-2zM319 320h121v6h-121z"/><path fill="#fdef00" d="M413 300h7v1h-7zM412 301h9v1h-9zM343 303h3v1h-3zM342 304h4v1h-4zM342 305h5v1h-5zM342 306h4v1h-4zM343 307h3v1h-3zM411 302h11v6h-11zM340 308h9v1h-9zM410 308h14v1h-14zM291 309h4v1h-4zM324 309h46v1h-46zM393 309h47v1h-47zM289 310h7v1h-7zM323 310h47v1h-47zM392 310h48v1h-48zM288 311h9v1h-9zM287 312h10v1h-10zM285 313h12v1h-12zM383 311h57v3h-57zM282 314h15v1h-15zM382 314h58v1h-58zM323 311h48v5h-48zM381 315h59v1h-59zM281 315h16v2h-16zM322 316h49v1h-49zM279 317h18v1h-18zM321 317h50v1h-50zM380 316h60v2h-60zM250 318h4v1h-4zM276 318h21v1h-21zM320 318h52v1h-52zM379 318h61v1h-61zM273 319h24v1h-24zM320 319h120v1h-120zM250 319h5v2h-5zM250 321h6v5h-6zM271 320h26v6h-26zM319 320h121v6h-121z"/><path fill="#ffdd00" d="M413 300h7v1h-7zM412 301h9v1h-9zM412 302h10v1h-10zM343 303h3v1h-3zM342 304h4v3h-4zM411 303h11v4h-11zM343 307h3v1h-3zM412 307h10v1h-10zM340 308h8v1h-8zM410 308h14v1h-14zM291 309h4v1h-4zM324 309h46v1h-46zM393 309h47v1h-47zM289 310h7v1h-7zM392 310h48v1h-48zM288 311h8v1h-8zM287 312h9v1h-9zM285 313h12v1h-12zM323 310h47v4h-47zM384 311h56v3h-56zM283 314h14v1h-14zM383 314h57v1h-57zM323 314h48v2h-48zM382 315h58v1h-58zM282 315h15v2h-15zM322 316h49v1h-49zM381 316h59v1h-59zM280 317h17v1h-17zM321 317h50v1h-50zM380 317h60v1h-60zM250 318h3v1h-3zM277 318h20v1h-20zM321 318h51v1h-51zM379 318h61v1h-61zM250 319h4v1h-4zM273 319h24v1h-24zM272 320h25v1h-25zM320 319h120v2h-120zM250 320h5v6h-5zM271 321h26v5h-26zM319 321h121v5h-121z"/><path fill="#ffcc00" d="M414 300h5v1h-5zM412 301h9v2h-9zM343 303h2v1h-2zM342 304h4v2h-4zM343 306h3v1h-3zM412 303h10v4h-10zM343 307h2v1h-2zM412 307h9v1h-9zM341 308h7v1h-7zM410 308h13v1h-13zM292 309h3v1h-3zM324 309h46v1h-46zM393 309h47v1h-47zM289 310h7v1h-7zM392 310h48v1h-48zM288 311h8v2h-8zM286 313h10v1h-10zM385 311h55v3h-55zM323 310h47v5h-47zM384 314h56v1h-56zM284 314h13v2h-13zM382 315h58v1h-58zM283 316h14v1h-14zM323 315h48v2h-48zM281 317h16v1h-16zM322 317h49v1h-49zM381 316h59v2h-59zM277 318h20v1h-20zM321 318h50v1h-50zM380 318h60v1h-60zM250 319h4v1h-4zM274 319h23v1h-23zM320 319h53v1h-53zM379 319h61v1h-61zM272 320h25v1h-25zM250 320h5v6h-5zM271 321h26v5h-26zM320 320h120v6h-120z"/><path fill="#ffba00" d="M414 300h4v1h-4zM344 303h1v1h-1zM343 304h3v3h-3zM344 307h1v1h-1zM412 301h9v7h-9zM341 308h7v1h-7zM410 308h13v1h-13zM292 309h2v1h-2zM324 309h46v1h-46zM393 309h47v1h-47zM289 310h7v1h-7zM392 310h48v1h-48zM288 311h8v2h-8zM286 313h10v1h-10zM387 311h53v3h-53zM285 314h11v1h-11zM385 314h55v1h-55zM285 315h12v1h-12zM323 310h47v6h-47zM383 315h57v1h-57zM284 316h13v1h-13zM323 316h48v1h-48zM382 316h58v1h-58zM282 317h15v1h-15zM322 317h49v1h-49zM381 317h59v1h-59zM278 318h19v1h-19zM321 318h50v1h-50zM250 319h3v1h-3zM275 319h22v1h-22zM321 319h52v1h-52zM380 318h60v2h-60zM250 320h4v6h-4zM272 320h25v6h-25zM320 320h120v6h-120z"/><path fill="#ffa900" d="M413 301h7v1h-7zM343 304h3v2h-3zM343 306h2v1h-2zM412 302h9v6h-9zM341 308h7v1h-7zM410 308h13v1h-13zM292 309h2v1h-2zM324 309h46v1h-46zM393 309h47v1h-47zM290 310h6v1h-6zM392 310h48v1h-48zM288 311h8v2h-8zM287 313h9v1h-9zM388 311h52v3h-52zM286 314h10v1h-10zM387 314h53v1h-53zM285 315h11v1h-11zM384 315h56v1h-56zM285 316h12v1h-12zM323 310h47v7h-47zM383 316h57v1h-57zM284 317h13v1h-13zM382 317h58v1h-58zM279 318h18v1h-18zM322 317h49v2h-49zM381 318h59v1h-59zM275 319h22v1h-22zM321 319h51v1h-51zM380 319h60v1h-60zM273 320h24v1h-24zM320 320h55v1h-55zM379 320h61v1h-61zM250 320h4v6h-4zM272 321h25v5h-25zM320 321h120v5h-120z"/><path fill="#ff9700" d="M413 301h7v1h-7zM343 304h2v2h-2zM344 306h1v1h-1zM412 302h9v6h-9zM341 308h6v1h-6zM410 308h13v1h-13zM292 309h2v1h-2zM324 309h46v1h-46zM290 310h6v1h-6zM393 309h47v2h-47zM288 311h8v2h-8zM287 313h9v1h-9zM390 311h50v3h-50zM388 314h52v1h-52zM286 314h10v2h-10zM385 315h55v1h-55zM323 310h47v7h-47zM383 316h57v1h-57zM285 316h11v2h-11zM323 317h48v1h-48zM382 317h58v1h-58zM280 318h17v1h-17zM322 318h49v1h-49zM276 319h21v1h-21zM321 319h51v1h-51zM381 318h59v2h-59zM250 320h3v1h-3zM321 320h52v1h-52zM380 320h60v1h-60zM250 321h4v5h-4zM273 320h24v6h-24zM320 321h55v5h-55zM379 321h61v5h-61z"/><path fill="#ff8600" d="M413 301h6v1h-6zM412 302h8v1h-8zM344 304h1v1h-1zM343 305h2v1h-2zM412 303h9v5h-9zM341 308h6v1h-6zM410 308h13v1h-13zM292 309h2v1h-2zM324 309h46v1h-46zM290 310h6v1h-6zM393 309h47v2h-47zM289 311h7v1h-7zM288 312h8v2h-8zM391 311h49v3h-49zM287 314h9v1h-9zM390 314h50v1h-50zM387 315h53v1h-53zM286 315h10v2h-10zM384 316h56v1h-56zM285 317h11v1h-11zM323 310h47v8h-47zM383 317h57v1h-57zM282 318h14v1h-14zM322 318h49v1h-49zM382 318h58v1h-58zM277 319h20v1h-20zM321 319h50v1h-50zM381 319h59v1h-59zM274 320h23v1h-23zM321 320h52v1h-52zM250 321h3v5h-3zM273 321h24v5h-24zM321 321h53v5h-53zM380 320h60v6h-60z"/><path fill="#ff7400" d="M414 301h5v1h-5zM413 302h7v1h-7zM412 303h8v4h-8zM413 307h7v1h-7zM342 308h5v1h-5zM411 308h12v1h-12zM292 309h2v1h-2zM324 309h46v1h-46zM290 310h6v1h-6zM393 309h47v2h-47zM289 311h7v1h-7zM288 312h8v2h-8zM392 311h48v3h-48zM391 314h49v1h-49zM389 315h51v1h-51zM287 314h9v3h-9zM386 316h54v1h-54zM286 317h10v1h-10zM323 310h47v8h-47zM384 317h56v1h-56zM284 318h12v1h-12zM383 318h57v1h-57zM278 319h18v1h-18zM322 318h49v2h-49zM382 319h58v1h-58zM274 320h22v1h-22zM321 320h51v1h-51zM273 321h24v5h-24zM321 321h52v5h-52zM381 320h59v6h-59z"/><path fill="#ff6300" d="M414 301h4v1h-4zM413 302h7v6h-7zM342 308h5v1h-5zM411 308h12v1h-12zM293 309h1v1h-1zM324 309h46v1h-46zM290 310h6v1h-6zM393 309h47v2h-47zM289 311h7v1h-7zM288 312h8v3h-8zM392 311h48v4h-48zM390 315h50v1h-50zM287 315h9v2h-9zM388 316h52v1h-52zM286 317h10v1h-10zM323 310h47v8h-47zM384 317h56v1h-56zM285 318h11v1h-11zM323 318h48v1h-48zM383 318h57v1h-57zM279 319h17v1h-17zM322 319h49v1h-49zM275 320h21v1h-21zM382 319h58v2h-58zM274 321h22v5h-22zM321 320h51v6h-51zM381 321h59v5h-59z"/><path fill="#ff5100" d="M413 302h6v2h-6zM413 304h7v2h-7zM413 306h6v2h-6zM342 308h4v1h-4zM411 308h11v1h-11zM324 309h46v1h-46zM290 310h6v1h-6zM393 309h47v2h-47zM289 311h7v2h-7zM392 311h48v5h-48zM288 313h8v4h-8zM389 316h51v1h-51zM287 317h9v1h-9zM386 317h54v1h-54zM286 318h10v1h-10zM323 310h47v9h-47zM384 318h56v1h-56zM281 319h15v1h-15zM383 319h57v1h-57zM276 320h20v1h-20zM322 319h49v2h-49zM275 321h21v5h-21zM321 321h51v5h-51zM382 320h58v6h-58z"/><path fill="#ff4000" d="M414 302h4v1h-4zM413 303h6v4h-6zM414 307h3v1h-3zM342 308h4v1h-4zM411 308h11v1h-11zM324 309h46v1h-46zM290 310h6v1h-6zM393 309h47v2h-47zM289 311h7v2h-7zM392 311h48v5h-48zM288 313h8v4h-8zM391 316h49v1h-49zM287 317h9v1h-9zM388 317h52v1h-52zM286 318h10v1h-10zM323 310h47v9h-47zM385 318h55v1h-55zM284 319h12v1h-12zM323 319h48v1h-48zM384 319h56v1h-56zM277 320h19v1h-19zM383 320h57v1h-57zM275 321h21v5h-21zM322 320h49v6h-49zM382 321h58v5h-58z"/><path fill="#ff2e00" d="M414 302h2v1h-2zM414 303h3v4h-3zM343 308h3v1h-3zM411 308h11v1h-11zM324 309h46v1h-46zM291 310h4v1h-4zM393 309h47v2h-47zM289 311h7v3h-7zM392 311h48v6h-48zM288 314h8v4h-8zM390 317h50v1h-50zM287 318h9v1h-9zM323 310h47v9h-47zM387 318h53v1h-53zM285 319h11v1h-11zM323 319h48v1h-48zM384 319h56v1h-56zM278 320h18v1h-18zM276 321h20v5h-20zM322 320h49v6h-49zM383 320h57v6h-57z"/><path fill="#ff1d00" d="M414 303h2v3h-2zM343 308h2v1h-2zM411 308h11v1h-11zM324 309h46v1h-46zM291 310h4v1h-4zM393 309h47v2h-47zM289 311h7v4h-7zM392 311h48v7h-48zM288 315h8v4h-8zM389 318h51v1h-51zM286 319h10v1h-10zM323 310h47v10h-47zM386 319h54v1h-54zM279 320h17v1h-17zM384 320h56v1h-56zM277 321h19v5h-19zM322 320h49v6h-49zM383 321h57v5h-57z"/><path fill="#f60b00" d="M344 308h1v1h-1zM411 308h11v1h-11zM291 310h4v1h-4zM324 309h46v2h-46zM393 309h47v2h-47zM289 311h7v5h-7zM288 316h8v3h-8zM392 311h48v8h-48zM287 319h9v1h-9zM323 311h47v9h-47zM388 319h52v1h-52zM285 320h11v1h-11zM323 320h48v1h-48zM278 321h18v5h-18zM322 321h49v5h-49zM384 320h56v6h-56z"/><path fill="#e00000" d="M412 308h10v1h-10zM291 310h4v1h-4zM324 309h46v2h-46zM393 309h47v2h-47zM290 311h6v1h-6zM289 312h7v5h-7zM392 311h48v8h-48zM288 317h8v3h-8zM323 311h47v9h-47zM391 319h49v1h-49zM286 320h10v1h-10zM387 320h53v1h-53zM279 321h17v5h-17zM323 320h48v6h-48zM385 321h55v5h-55z"/><path fill="#cb0000" d="M412 308h9v1h-9zM291 310h4v1h-4zM324 309h46v2h-46zM393 309h47v2h-47zM290 311h6v2h-6zM289 313h7v4h-7zM288 317h8v3h-8zM392 311h48v9h-48zM287 320h9v1h-9zM323 311h47v10h-47zM390 320h50v1h-50zM286 321h10v5h-10zM323 321h48v5h-48zM388 321h52v5h-52z"/><path fill="#b50000" d="M412 308h9v1h-9zM291 310h4v1h-4zM324 309h46v2h-46zM290 311h6v3h-6zM393 309h47v5h-47zM289 314h7v4h-7zM288 318h8v3h-8zM392 314h48v7h-48zM287 321h9v5h-9zM323 311h47v15h-47zM391 321h49v5h-49z"/><path fill="#a00000" d="M412 308h9v1h-9zM291 310h4v1h-4zM324 309h46v2h-46zM290 311h6v3h-6zM393 309h47v6h-47zM289 314h7v4h-7zM288 318h8v8h-8zM323 311h47v15h-47zM392 315h48v11h-48z"/><path fill="#8a0000" d="M412 308h9v1h-9zM291 310h4v1h-4zM324 309h46v2h-46zM290 311h6v4h-6zM393 309h47v7h-47zM289 315h7v3h-7zM288 318h8v8h-8zM323 311h47v15h-47zM392 316h48v10h-48z"/></g></g></g>
<text x="250.3" y="324.5" text-anchor="end" font-size="6.45">0</text>
<text x="250.3" y="307.6" text-anchor="end" font-size="6.45">10</text>
<text x="250.3" y="290.7" text-anchor="end" font-size="6.45">20</text>
<text x="250.3" y="273.8" text-anchor="end" font-size="6.45">30</text>
<text x="250.3" y="256.9" text-anchor="end" font-size="6.45">40</text>
<text x="250.3" y="240.0" text-anchor="end" font-size="6.45">50</text>
<text x="253.1" y="330.1" text-anchor="middle" font-size="6.45">4.0</text>
<text x="281.7" y="330.1" text-anchor="middle" font-size="6.45">4.5</text>
<text x="310.3" y="330.1" text-anchor="middle" font-size="6.45">5.0</text>
<text x="338.9" y="330.1" text-anchor="middle" font-size="6.45">5.5</text>
<text x="367.5" y="330.1" text-anchor="middle" font-size="6.45">6.0</text>
<text x="396.1" y="330.1" text-anchor="middle" font-size="6.45">6.5</text>
<text x="424.7" y="330.1" text-anchor="middle" font-size="6.45">7.0</text>
<rect x="437.4" y="237.8" width="9.6" height="84.5" fill="url(#jet)"/>
<path d="M447.0 315.7h1.6" stroke="#555" stroke-width=".5"/>
<text x="450.2" y="318.0" font-size="6.45">0</text>
<path d="M447.0 296.2h1.6" stroke="#555" stroke-width=".5"/>
<text x="450.2" y="298.5" font-size="6.45">5</text>
<path d="M447.0 276.7h1.6" stroke="#555" stroke-width=".5"/>
<text x="450.2" y="279.0" font-size="6.45">10</text>
<path d="M447.0 257.3h1.6" stroke="#555" stroke-width=".5"/>
<text x="450.2" y="259.6" font-size="6.45">15</text>
<path d="M447.0 237.8h1.6" stroke="#555" stroke-width=".5"/>
<text x="450.2" y="240.1" font-size="6.45">20</text>
<text x="344.9" y="337.7" text-anchor="middle" font-size="6.8">Butterworth 2nd Order Filtered Signal Between 0.5-100 Hz</text>
<rect x="253.1" y="340.8" width="183.4" height="83.3" fill="#eaeaf2"/>
<text x="253.1" y="432.5" text-anchor="middle" font-size="6.45">4.0</text>
<text x="281.7" y="432.5" text-anchor="middle" font-size="6.45">4.5</text>
<text x="310.3" y="432.5" text-anchor="middle" font-size="6.45">5.0</text>
<text x="338.9" y="432.5" text-anchor="middle" font-size="6.45">5.5</text>
<text x="367.5" y="432.5" text-anchor="middle" font-size="6.45">6.0</text>
<text x="396.1" y="432.5" text-anchor="middle" font-size="6.45">6.5</text>
<text x="424.7" y="432.5" text-anchor="middle" font-size="6.45">7.0</text>
<text x="249.9" y="409.7" text-anchor="end" font-size="6.45">−100</text>
<text x="249.9" y="384.0" text-anchor="end" font-size="6.45">0</text>
<text x="249.9" y="358.3" text-anchor="end" font-size="6.45">100</text>
<path d="M253.1 340.8V424.1M281.7 340.8V424.1M310.3 340.8V424.1M338.9 340.8V424.1M367.5 340.8V424.1M396.1 340.8V424.1M424.7 340.8V424.1M253.1 407.5H436.5M253.1 381.8H436.5M253.1 356.1H436.5" stroke="#fff" stroke-width=".45" stroke-opacity=".6" fill="none"/>
<polyline points="253.1,375.2 253.4,376.2 253.8,376.6 254.1,374.1 254.4,375.1 254.7,377 255.1,373.4 255.4,377.4 255.7,378.1 256,377.8 256.4,376.7 256.7,378.2 257,380 257.3,378.6 257.7,377.8 258,379.2 258.3,378.4 258.6,380.3 259,378.8 259.3,381.8 259.6,380.4 260,381.3 260.3,386.3 260.6,384.1 260.9,384.2 261.3,384.3 261.6,385.2 261.9,384.3 262.2,382.6 262.6,381.3 262.9,384.1 263.2,383.5 263.5,381.6 263.9,382.1 264.2,383.9 264.5,383.6 264.9,382.3 265.2,382.8 265.5,384.8 265.8,384.7 266.2,382.7 266.5,386.3 266.8,387.3 267.1,385.8 267.5,386.5 267.8,386.3 268.1,385.7 268.4,385.3 268.8,386 269.1,385.8 269.4,388.7 269.7,385 270.1,384.5 270.4,384.3 270.7,388.6 271.1,387.5 271.4,386.9 271.7,385.9 272,386.8 272.4,386.7 272.7,387.1 273,386.4 273.3,386.3 273.7,388.5 274,387.1 274.3,383.7 274.6,386.9 275,385.1 275.3,385 275.6,386.6 275.9,388.6 276.3,386.5 276.6,388 276.9,387.1 277.3,387.3 277.6,387.5 277.9,385.8 278.2,387.1 278.6,386.4 278.9,387.3 279.2,385.8 279.5,388.4 279.9,386.8 280.2,388.9 280.5,388 280.8,388.1 281.2,388 281.5,388.1 281.8,387 282.2,389.6 282.5,389.6 282.8,388.1 283.1,389.5 283.5,389.2 283.8,391.2 284.1,389.3 284.4,387.8 284.8,388.6 285.1,386.3 285.4,388 285.7,390.5 286.1,388.5 286.4,389.8 286.7,391.8 287,387.5 287.4,384.7 287.7,383.5 288,385 288.4,385.4 288.7,383.8 289,384.6 289.3,380 289.7,379.1 290,377.5 290.3,375.4 290.6,376 291,374 291.3,368 291.6,370.6 291.9,371.8 292.3,370.6 292.6,367.2 292.9,369 293.2,369.9 293.6,371.1 293.9,372.5 294.2,373.6 294.6,370.5 294.9,371.3 295.2,373.5 295.5,372.4 295.9,372 296.2,376.6 296.5,378.5 296.8,376.1 297.2,377.7 297.5,376 297.8,377.3 298.1,379.8 298.5,378.2 298.8,378 299.1,380 299.5,379.7 299.8,379 300.1,381 300.4,382 300.8,381.7 301.1,381.2 301.4,383 301.7,383.9 302.1,382.3 302.4,381.6 302.7,384.9 303,384.3 303.4,381.6 303.7,385.2 304,385.5 304.3,387.5 304.7,386.7 305,383.6 305.3,386.5 305.7,386.7 306,386.7 306.3,388.4 306.6,385.7 307,387.5 307.3,387.8 307.6,388.4 307.9,387.6 308.3,388.9 308.6,386.9 308.9,387.2 309.2,387 309.6,386.3 309.9,385.5 310.2,386 310.5,384.4 310.9,385.4 311.2,383.6 311.5,384.4 311.9,386.2 312.2,387.8 312.5,386.7 312.8,385.2 313.2,385.7 313.5,384.7 313.8,382.3 314.1,383.7 314.5,385.3 314.8,381.8 315.1,383.5 315.4,382.9 315.8,383.5 316.1,380 316.4,381.1 316.8,382.9 317.1,380.9 317.4,382.9 317.7,380.5 318.1,380.8 318.4,382.7 318.7,380.5 319,381.6 319.4,381.9 319.7,381.9 320,380.2 320.3,379.9 320.7,380.4 321,380.9 321.3,378.4 321.6,379.9 322,378.6 322.3,377.8 322.6,377.7 323,379.2 323.3,379.4 323.6,381.2 323.9,380.1 324.3,376.2 324.6,376.5 324.9,374.4 325.2,375.4 325.6,374.3 325.9,374.7 326.2,377.5 326.5,375.4 326.9,372 327.2,375.7 327.5,375 327.8,373.7 328.2,373.5 328.5,374.3 328.8,371.9 329.2,372.3 329.5,373.1 329.8,373.3 330.1,369.6 330.5,369.6 330.8,369.7 331.1,368.9 331.4,369.3 331.8,370.9 332.1,369.8 332.4,368.5 332.7,369.7 333.1,370.6 333.4,365.9 333.7,367.8 334.1,366.6 334.4,363.5 334.7,363 335,360.4 335.4,362 335.7,362.1 336,364.5 336.3,361.9 336.7,363.3 337,362.8 337.3,360.6 337.6,358.5 338,354.8 338.3,354.9 338.6,354.7 338.9,355.6 339.3,354.2 339.6,351.2 339.9,355.5 340.3,353.7 340.6,355.2 340.9,351.4 341.2,351.7 341.6,351.9 341.9,354.4 342.2,354.9 342.5,355.8 342.9,356.5 343.2,356.5 343.5,356.2 343.8,363.1 344.2,364.4 344.5,366.4 344.8,368.9 345.2,373.4 345.5,371.6 345.8,374.1 346.1,374.5 346.5,373.8 346.8,381 347.1,386.2 347.4,385.1 347.8,388.5 348.1,391.8 348.4,392.9 348.7,396.4 349.1,395.4 349.4,391.4 349.7,394.3 350,394 350.4,394.9 350.7,395.5 351,401.9 351.4,401.4 351.7,400.5 352,400 352.3,397 352.7,398.7 353,398.8 353.3,400.9 353.6,399.3 354,398.4 354.3,399.9 354.6,403.3 354.9,402.1 355.3,399.3 355.6,402.8 355.9,400.2 356.2,399 356.6,400.6 356.9,401.1 357.2,398.3 357.6,398.2 357.9,397.2 358.2,396.5 358.5,393.4 358.9,396.1 359.2,393.8 359.5,396.4 359.8,397.5 360.2,397.1 360.5,396.6 360.8,396.4 361.1,394.3 361.5,395.1 361.8,392.3 362.1,392.5 362.5,392.6 362.8,393.2 363.1,391.1 363.4,392.3 363.8,391.9 364.1,394.2 364.4,391.3 364.7,390.9 365.1,393.3 365.4,388.3 365.7,390.6 366,392.2 366.4,391.9 366.7,393.2 367,388.8 367.3,387.7 367.7,389.8 368,392.2 368.3,391.2 368.7,389.7 369,390.5 369.3,389.2 369.6,387.8 370,390.8 370.3,389.2 370.6,388.6 370.9,388.9 371.3,387.8 371.6,386.1 371.9,387.5 372.2,386.5 372.6,385.8 372.9,386 373.2,385.7 373.5,384.2 373.9,386 374.2,387 374.5,385.8 374.9,386.6 375.2,389.9 375.5,387.2 375.8,386 376.2,385.1 376.5,386.5 376.8,385.8 377.1,385.8 377.5,387.2 377.8,384 378.1,386.2 378.4,387.1 378.8,382.2 379.1,385.6 379.4,383.8 379.8,383.9 380.1,387 380.4,383.6 380.7,384.9 381.1,387.2 381.4,386 381.7,386 382,387.9 382.4,387.4 382.7,388.5 383,388.6 383.3,385.1 383.7,386.4 384,384 384.3,386 384.6,387.3 385,385.6 385.3,385.9 385.6,387.7 386,386.5 386.3,387.1 386.6,386.4 386.9,388.6 387.3,388.9 387.6,387.7 387.9,389 388.2,387.9 388.6,391.8 388.9,388.9 389.2,389.1 389.5,388.5 389.9,388.5 390.2,389.4 390.5,389.5 390.8,391.7 391.2,390.3 391.5,391.7 391.8,394.8 392.2,391.2 392.5,390 392.8,392.3 393.1,390.7 393.5,392.2 393.8,390 394.1,392.8 394.4,390.7 394.8,392.3 395.1,393.1 395.4,394.2 395.7,391.6 396.1,393.2 396.4,393 396.7,393.5 397.1,393.3 397.4,392.7 397.7,394.4 398,392.6 398.4,393.5 398.7,394.4 399,395.7 399.3,395.7 399.7,393.7 400,396.4 400.3,401 400.6,397.3 401,396.9 401.3,396.6 401.6,399.3 401.9,397.3 402.3,399.6 402.6,398.1 402.9,398.1 403.3,402.1 403.6,401.3 403.9,399.7 404.2,398.8 404.6,401.5 404.9,401.4 405.2,401 405.5,403.8 405.9,404.1 406.2,403.9 406.5,404 406.8,404.2 407.2,406.4 407.5,406.1 407.8,404.6 408.1,406 408.5,404.9 408.8,405.2 409.1,407.1 409.5,407.6 409.8,408.1 410.1,406.4 410.4,408.4 410.8,411 411.1,413.5 411.4,416 411.7,417.3 412.1,410.3 412.4,405.2 412.7,401.6 413,396.8 413.4,394.9 413.7,390.5 414,389.5 414.4,381 414.7,380.4 415,376.4 415.3,373.3 415.7,369.5 416,367.4 416.3,364.1 416.6,362 417,354.4 417.3,350.1 417.6,350.3 417.9,349.4 418.3,348.5 418.6,345.6 418.9,343.9 419.2,346.1 419.6,347.9 419.9,348.5 420.2,351.4 420.6,354.6 420.9,354 421.2,352.9 421.5,354.5 421.9,354.6 422.2,351.9 422.5,356.3 422.8,356.4 423.2,355.5 423.5,357.8 423.8,357.1 424.1,359.8 424.5,357.1 424.8,357.5 425.1,357.2 425.4,356.9 425.8,358.3 426.1,357 426.4,360.1 426.8,359.1 427.1,362.3 427.4,363.1 427.7,360.9 428.1,365 428.4,365.4 428.7,364.2 429,366.3 429.4,365.6 429.7,367.3 430,365.7 430.3,367.4 430.7,365.6 431,365.4 431.3,366.9 431.7,366.8 432,367.2 432.3,373 432.6,371.1 433,369.1 433.3,367.1 433.6,372.1 433.9,367.7 434.3,372.3 434.6,374.7 434.9,373.2 435.2,373.2 435.6,372.9" fill="none" stroke="#1f77b4" stroke-width=".75" stroke-linejoin="round"/>
<text x="344.8" y="439.5" text-anchor="middle" font-size="6.45">s</text>
<rect x="230.5" y="417.6" width="2.2" height=".8" fill="#666"/>
<rect x="255.9" y="344.1" width="36.5" height="13.0" rx="1.2" fill="#eaeaf2" fill-opacity=".8" stroke="#d2d2da" stroke-width=".6"/>
<path d="M258.9 350.6h15" stroke="#1f77b4" stroke-width=".6"/>
<text x="280.1" y="353.2" font-size="7.3">F7</text></g>
<g><text x="571.8" y="234.8" text-anchor="middle" font-size="6.8">STFT of F8 Channel Blink and Look Right</text>
<clipPath id="cF8"><rect x="480.1" y="237.8" width="181.9" height="84.5"/></clipPath><g clip-path="url(#cF8)"><g filter="url(#bl)"><g shape-rendering="crispEdges"><rect x="477" y="234" width="188" height="92" fill="#000eff"/><path fill="#0021ff" d="M502 234h9v5h-9zM544 234h50v5h-50zM544 239h49v1h-49zM514 234h24v7h-24zM543 240h13v1h-13zM514 241h23v1h-23zM557 240h35v2h-35zM604 234h61v8h-61zM477 234h5v9h-5zM502 239h10v4h-10zM514 242h22v1h-22zM542 241h14v2h-14zM598 242h1v1h-1zM483 234h16v10h-16zM514 243h20v1h-20zM560 242h31v2h-31zM604 242h29v2h-29zM634 242h31v2h-31zM483 244h17v1h-17zM501 243h11v2h-11zM597 243h3v2h-3zM483 245h29v1h-29zM514 244h19v2h-19zM541 243h15v3h-15zM561 244h30v2h-30zM604 244h20v2h-20zM625 244h8v2h-8zM635 244h30v2h-30zM477 243h4v4h-4zM596 245h5v2h-5zM561 246h31v2h-31zM522 246h11v3h-11zM514 246h7v4h-7zM531 249h4v1h-4zM560 248h32v2h-32zM634 246h31v4h-31zM483 246h30v5h-30zM522 249h8v2h-8zM532 250h4v1h-4zM540 246h16v5h-16zM559 250h34v1h-34zM532 251h5v1h-5zM558 251h35v1h-35zM595 247h7v5h-7zM604 246h29v6h-29zM634 250h11v2h-11zM646 250h19v2h-19zM477 247h5v6h-5zM484 251h29v2h-29zM539 251h16v2h-16zM557 252h36v1h-36zM604 252h40v1h-40zM647 252h18v1h-18zM477 253h36v1h-36zM514 250h6v4h-6zM532 252h6v2h-6zM539 253h54v1h-54zM604 253h41v1h-41zM646 253h19v1h-19zM523 251h6v4h-6zM531 254h7v1h-7zM539 254h55v1h-55zM595 252h8v3h-8zM477 254h44v2h-44zM522 255h16v1h-16zM539 255h64v1h-64zM605 254h60v4h-60zM477 256h126v3h-126zM477 259h48v1h-48zM526 259h77v1h-77zM606 258h59v2h-59zM607 260h58v1h-58zM477 260h47v2h-47zM527 260h76v4h-76zM608 261h57v3h-57zM527 264h77v1h-77zM527 265h78v1h-78zM477 262h48v5h-48zM526 266h80v1h-80zM477 267h129v1h-129zM607 264h58v4h-58zM477 268h188v58h-188z"/><path fill="#0034ff" d="M485 234h6v4h-6zM636 234h5v4h-5zM485 238h7v1h-7zM570 238h2v1h-2zM637 238h3v1h-3zM569 239h3v1h-3zM485 239h8v2h-8zM569 240h4v1h-4zM568 241h5v1h-5zM564 240h1v3h-1zM567 242h6v1h-6zM485 241h9v3h-9zM486 244h8v2h-8zM654 243h1v3h-1zM585 244h2v3h-2zM548 246h2v2h-2zM564 243h10v5h-10zM585 247h3v1h-3zM486 246h9v4h-9zM547 248h4v2h-4zM653 246h3v4h-3zM487 250h9v1h-9zM584 248h4v3h-4zM628 250h1v1h-1zM487 251h11v1h-11zM598 251h1v1h-1zM628 251h2v1h-2zM652 250h4v2h-4zM487 252h12v1h-12zM546 250h5v3h-5zM598 252h2v1h-2zM487 253h13v1h-13zM615 253h1v1h-1zM627 252h3v2h-3zM545 253h6v2h-6zM584 251h5v4h-5zM614 254h3v1h-3zM613 255h4v1h-4zM488 254h13v3h-13zM583 255h6v2h-6zM597 253h3v4h-3zM612 256h5v1h-5zM566 248h9v10h-9zM612 257h6v1h-6zM626 254h5v4h-5zM482 258h2v1h-2zM488 257h14v2h-14zM545 255h7v4h-7zM481 259h3v1h-3zM566 258h8v2h-8zM583 257h7v3h-7zM625 258h6v2h-6zM652 252h5v8h-5zM481 260h4v1h-4zM545 259h8v2h-8zM611 258h7v3h-7zM545 261h9v1h-9zM582 260h8v2h-8zM596 257h5v5h-5zM610 261h8v1h-8zM480 261h5v2h-5zM625 260h7v3h-7zM477 263h8v1h-8zM489 259h14v5h-14zM545 262h12v2h-12zM581 262h9v2h-9zM580 264h10v1h-10zM624 263h8v2h-8zM490 264h13v2h-13zM517 264h1v2h-1zM545 264h13v2h-13zM567 260h7v6h-7zM516 266h3v1h-3zM580 265h11v2h-11zM491 266h11v2h-11zM531 267h2v1h-2zM623 265h9v3h-9zM515 267h5v2h-5zM610 262h9v7h-9zM514 269h7v1h-7zM530 268h4v2h-4zM567 266h6v4h-6zM514 270h8v1h-8zM530 270h5v1h-5zM595 262h6v9h-6zM641 270h2v1h-2zM651 260h6v11h-6zM493 268h9v4h-9zM513 271h9v1h-9zM579 267h12v5h-12zM594 271h7v1h-7zM641 271h3v1h-3zM511 272h11v1h-11zM568 270h4v3h-4zM493 272h8v2h-8zM568 273h3v1h-3zM494 274h7v1h-7zM510 273h12v2h-12zM545 266h14v9h-14zM569 274h1v1h-1zM579 272h13v3h-13zM594 272h8v3h-8zM622 268h10v7h-10zM640 272h5v3h-5zM652 271h6v4h-6zM477 264h9v12h-9zM622 275h11v2h-11zM494 275h6v3h-6zM509 275h13v3h-13zM609 269h10v9h-10zM480 276h6v3h-6zM509 278h14v1h-14zM546 275h12v4h-12zM609 278h9v1h-9zM621 277h13v2h-13zM652 275h7v4h-7zM481 279h4v2h-4zM546 279h11v2h-11zM639 275h6v6h-6zM482 281h3v1h-3zM494 278h5v4h-5zM546 281h8v1h-8zM482 282h2v1h-2zM509 279h13v4h-13zM547 282h6v1h-6zM509 283h10v1h-10zM521 283h1v1h-1zM609 279h10v5h-10zM622 279h12v5h-12zM653 279h7v5h-7zM529 271h6v14h-6zM547 283h5v2h-5zM579 275h23v10h-23zM509 284h9v2h-9zM547 285h4v1h-4zM622 284h13v2h-13zM638 281h7v5h-7zM654 284h6v2h-6zM622 286h23v1h-23zM487 286h1v2h-1zM509 286h8v2h-8zM548 286h2v2h-2zM580 285h23v3h-23zM486 288h2v1h-2zM529 285h5v4h-5zM548 288h1v1h-1zM580 288h22v1h-22zM622 287h7v2h-7zM630 287h15v2h-15zM530 289h4v1h-4zM580 289h12v1h-12zM631 289h14v1h-14zM510 288h7v3h-7zM581 290h10v1h-10zM632 290h14v1h-14zM486 289h3v3h-3zM494 282h4v10h-4zM530 290h3v2h-3zM581 291h9v1h-9zM622 289h6v3h-6zM654 286h7v6h-7zM485 292h4v1h-4zM493 292h5v1h-5zM510 291h12v2h-12zM531 292h1v1h-1zM556 292h1v1h-1zM581 292h8v1h-8zM633 291h13v2h-13zM510 293h13v1h-13zM555 293h3v1h-3zM568 293h1v1h-1zM583 293h5v1h-5zM623 292h4v2h-4zM555 294h4v1h-4zM567 294h3v1h-3zM584 294h4v1h-4zM593 289h9v6h-9zM623 294h3v1h-3zM493 293h6v3h-6zM554 295h6v1h-6zM566 295h6v1h-6zM634 293h12v3h-12zM653 292h8v4h-8zM485 293h5v4h-5zM510 294h14v3h-14zM538 295h1v2h-1zM566 296h9v1h-9zM610 284h9v13h-9zM624 295h1v2h-1zM634 296h13v1h-13zM485 297h6v1h-6zM492 296h7v2h-7zM554 296h8v2h-8zM565 297h12v1h-12zM593 295h8v3h-8zM627 297h3v1h-3zM633 297h14v1h-14zM653 296h9v2h-9zM510 297h15v2h-15zM554 298h9v1h-9zM565 298h13v1h-13zM592 298h9v1h-9zM626 298h22v1h-22zM537 297h3v3h-3zM553 299h26v1h-26zM609 297h10v3h-10zM626 299h23v1h-23zM477 300h3v1h-3zM484 298h16v3h-16zM584 295h3v6h-3zM592 299h8v2h-8zM608 300h11v1h-11zM626 300h24v1h-24zM652 298h13v3h-13zM477 301h23v1h-23zM510 299h16v3h-16zM536 300h4v2h-4zM477 302h24v1h-24zM536 302h5v1h-5zM547 300h1v3h-1zM584 301h4v2h-4zM592 301h7v2h-7zM546 303h2v1h-2zM553 300h27v4h-27zM477 303h25v2h-25zM510 302h17v3h-17zM553 304h28v1h-28zM626 301h39v4h-39zM477 305h26v1h-26zM535 303h6v3h-6zM546 304h3v2h-3zM552 305h29v1h-29zM477 306h28v1h-28zM509 305h18v2h-18zM534 306h7v1h-7zM477 307h29v1h-29zM509 307h19v1h-19zM533 307h8v1h-8zM545 306h5v2h-5zM552 306h28v2h-28zM583 303h5v5h-5zM592 303h6v5h-6zM608 301h12v7h-12zM625 305h40v3h-40zM477 308h188v18h-188z"/><path fill="#0047ff" d="M486 234h3v7h-3zM487 241h2v1h-2zM487 242h1v1h-1zM570 244h1v1h-1zM491 245h1v1h-1zM570 245h2v1h-2zM490 246h2v2h-2zM569 246h3v3h-3zM490 248h3v2h-3zM569 249h4v1h-4zM489 250h4v1h-4zM489 251h5v3h-5zM548 254h1v1h-1zM586 255h1v1h-1zM490 254h4v4h-4zM547 255h3v3h-3zM585 256h2v2h-2zM490 258h5v1h-5zM496 258h2v1h-2zM547 258h4v1h-4zM568 250h5v9h-5zM491 259h8v1h-8zM628 258h1v2h-1zM598 259h1v2h-1zM585 258h3v4h-3zM614 261h2v1h-2zM628 260h2v2h-2zM491 260h9v3h-9zM568 259h4v4h-4zM613 262h3v1h-3zM584 262h4v2h-4zM546 259h5v6h-5zM569 263h3v2h-3zM627 262h3v3h-3zM569 265h2v1h-2zM597 261h3v5h-3zM612 263h4v3h-4zM627 265h2v1h-2zM494 263h6v4h-6zM570 266h1v1h-1zM584 264h5v3h-5zM628 266h1v1h-1zM482 264h2v4h-2zM611 266h5v2h-5zM481 268h3v1h-3zM583 267h6v2h-6zM495 267h5v3h-5zM546 265h6v5h-6zM481 269h4v3h-4zM495 270h4v4h-4zM547 270h5v5h-5zM596 266h4v9h-4zM496 274h2v2h-2zM547 275h4v1h-4zM581 269h8v7h-8zM482 272h2v5h-2zM496 276h1v1h-1zM641 276h1v1h-1zM513 277h2v1h-2zM595 275h5v3h-5zM624 275h1v3h-1zM548 276h3v3h-3zM581 276h9v3h-9zM641 277h2v2h-2zM512 278h3v2h-3zM549 279h1v1h-1zM581 279h8v1h-8zM624 278h2v2h-2zM512 280h4v1h-4zM581 280h4v1h-4zM531 278h1v4h-1zM581 281h1v1h-1zM586 280h3v2h-3zM611 268h6v14h-6zM587 282h1v1h-1zM640 279h3v4h-3zM640 283h4v1h-4zM511 281h5v4h-5zM612 282h5v4h-5zM596 278h4v10h-4zM624 280h1v8h-1zM639 284h5v4h-5zM597 288h2v2h-2zM511 285h4v6h-4zM598 290h1v1h-1zM613 286h4v6h-4zM638 288h6v4h-6zM638 292h7v1h-7zM518 293h4v1h-4zM517 294h6v1h-6zM516 295h7v1h-7zM512 291h3v6h-3zM516 296h8v1h-8zM568 297h7v1h-7zM637 293h8v5h-8zM512 297h12v2h-12zM567 298h9v1h-9zM636 298h10v1h-10zM566 299h11v1h-11zM614 292h3v8h-3zM636 299h11v1h-11zM635 300h13v1h-13zM512 299h13v3h-13zM566 300h12v2h-12zM613 300h4v2h-4zM635 301h14v1h-14zM512 302h14v1h-14zM612 302h5v1h-5zM490 303h4v1h-4zM555 303h3v1h-3zM489 304h6v1h-6zM654 304h1v1h-1zM488 305h7v1h-7zM555 304h4v2h-4zM628 304h2v2h-2zM654 305h2v1h-2zM628 306h3v1h-3zM634 302h16v5h-16zM511 303h15v5h-15zM554 306h6v2h-6zM565 302h14v6h-14zM611 303h6v5h-6zM627 307h5v1h-5zM634 307h15v1h-15zM654 306h5v2h-5zM477 308h9v1h-9zM488 306h8v3h-8zM510 308h18v1h-18zM545 308h54v1h-54zM608 308h57v1h-57zM477 309h20v1h-20zM504 309h161v1h-161zM477 310h188v16h-188z"/><path fill="#005aff" d="M491 252h1v2h-1zM570 253h1v3h-1zM548 261h1v2h-1zM613 269h2v2h-2zM548 263h2v9h-2zM612 271h3v7h-3zM613 278h2v4h-2zM614 282h1v2h-1zM641 283h1v3h-1zM641 286h2v1h-2zM640 287h3v3h-3zM639 290h4v2h-4zM518 294h4v1h-4zM639 292h5v4h-5zM517 295h6v3h-6zM638 296h6v2h-6zM568 298h7v1h-7zM638 298h7v1h-7zM516 298h8v2h-8zM568 299h8v1h-8zM637 299h9v1h-9zM515 300h9v1h-9zM567 300h10v1h-10zM637 300h10v1h-10zM514 301h11v1h-11zM636 301h12v1h-12zM513 302h12v1h-12zM636 302h13v1h-13zM635 303h14v3h-14zM636 306h13v1h-13zM491 307h1v1h-1zM512 303h13v5h-13zM566 301h12v7h-12zM636 307h12v1h-12zM491 308h2v1h-2zM511 308h17v1h-17zM552 308h36v1h-36zM614 308h4v1h-4zM625 308h40v1h-40zM477 309h10v1h-10zM491 309h1v1h-1zM507 309h23v1h-23zM537 309h128v1h-128zM477 310h11v1h-11zM506 310h159v1h-159zM477 311h12v5h-12zM504 311h161v5h-161zM477 316h13v1h-13zM477 317h14v9h-14zM503 316h162v10h-162z"/><path fill="#006dff" d="M641 289h1v3h-1zM640 292h2v1h-2zM519 294h2v1h-2zM518 295h4v1h-4zM640 293h3v5h-3zM517 296h6v3h-6zM570 298h4v1h-4zM639 298h4v1h-4zM568 299h7v1h-7zM639 299h5v1h-5zM516 299h8v2h-8zM568 300h8v1h-8zM638 300h8v1h-8zM515 301h9v1h-9zM637 301h10v1h-10zM514 302h11v1h-11zM567 301h10v2h-10zM637 302h11v1h-11zM513 303h12v3h-12zM566 303h12v3h-12zM636 303h12v3h-12zM567 306h11v1h-11zM637 306h11v1h-11zM512 306h13v2h-13zM567 307h10v1h-10zM638 307h9v1h-9zM512 308h15v1h-15zM553 308h31v1h-31zM627 308h38v1h-38zM477 309h9v1h-9zM509 309h20v1h-20zM538 309h127v1h-127zM477 310h10v1h-10zM507 310h23v1h-23zM536 310h129v1h-129zM506 311h27v3h-27zM477 311h11v4h-11zM506 314h28v1h-28zM505 315h29v1h-29zM477 315h12v4h-12zM477 319h13v7h-13zM504 316h30v10h-30zM535 311h130v15h-130z"/><path fill="#0080ff" d="M518 295h4v2h-4zM518 297h5v1h-5zM641 298h1v1h-1zM517 298h6v2h-6zM569 299h6v1h-6zM640 299h3v1h-3zM568 300h8v1h-8zM639 300h6v1h-6zM516 300h8v2h-8zM568 301h9v1h-9zM638 301h8v1h-8zM515 302h9v1h-9zM638 302h9v1h-9zM514 303h11v1h-11zM637 303h10v1h-10zM637 304h11v1h-11zM513 304h12v2h-12zM637 305h10v1h-10zM638 306h9v1h-9zM513 306h11v2h-11zM567 302h10v6h-10zM639 307h7v1h-7zM512 308h15v1h-15zM555 308h29v1h-29zM629 308h1v1h-1zM633 308h27v1h-27zM477 309h8v1h-8zM509 309h19v1h-19zM540 309h2v1h-2zM543 309h67v1h-67zM613 309h52v1h-52zM477 310h9v1h-9zM537 310h128v1h-128zM507 310h23v4h-23zM477 311h10v4h-10zM506 314h25v2h-25zM477 315h11v2h-11zM505 316h26v1h-26zM505 317h27v2h-27zM504 319h28v2h-28zM477 317h12v9h-12zM504 321h10v5h-10zM515 321h17v5h-17zM536 311h129v15h-129z"/><path fill="#0092ff" d="M519 295h2v1h-2zM518 296h4v2h-4zM518 298h5v1h-5zM570 299h4v1h-4zM517 299h6v2h-6zM569 300h6v1h-6zM640 300h3v1h-3zM516 301h8v1h-8zM568 301h8v1h-8zM639 301h6v1h-6zM515 302h9v1h-9zM638 302h8v1h-8zM514 303h10v2h-10zM638 303h9v3h-9zM567 302h10v5h-10zM639 306h7v1h-7zM513 305h11v3h-11zM568 307h9v1h-9zM640 307h5v1h-5zM513 308h14v1h-14zM557 308h26v1h-26zM633 308h27v1h-27zM477 309h7v1h-7zM510 309h18v1h-18zM545 309h62v1h-62zM615 309h50v1h-50zM477 310h9v1h-9zM508 310h21v1h-21zM538 310h127v1h-127zM507 311h23v4h-23zM477 311h10v5h-10zM506 315h24v3h-24zM477 316h11v3h-11zM505 318h25v2h-25zM477 319h12v7h-12zM505 320h9v6h-9zM515 320h16v6h-16zM537 311h128v15h-128z"/><path fill="#00a5ff" d="M519 295h2v1h-2zM519 296h3v1h-3zM518 297h4v2h-4zM571 299h2v1h-2zM517 299h6v2h-6zM569 300h6v1h-6zM640 301h4v1h-4zM516 301h8v2h-8zM568 301h8v2h-8zM639 302h6v1h-6zM515 303h9v1h-9zM568 303h9v1h-9zM639 303h7v1h-7zM638 304h8v1h-8zM514 304h10v2h-10zM567 304h10v2h-10zM639 305h7v1h-7zM568 306h9v1h-9zM639 306h6v1h-6zM513 306h11v2h-11zM568 307h8v1h-8zM641 307h3v1h-3zM513 308h14v1h-14zM557 308h26v1h-26zM633 308h27v1h-27zM477 309h6v1h-6zM510 309h18v1h-18zM546 309h47v1h-47zM615 309h50v1h-50zM477 310h8v1h-8zM509 310h20v1h-20zM539 310h72v1h-72zM613 310h52v1h-52zM508 311h22v3h-22zM477 311h9v4h-9zM477 315h10v2h-10zM507 314h23v3h-23zM506 317h24v2h-24zM505 319h25v1h-25zM505 320h9v1h-9zM477 317h11v9h-11zM505 321h8v5h-8zM515 320h15v6h-15zM538 311h127v15h-127z"/><path fill="#00b8ff" d="M519 296h2v1h-2zM518 297h4v2h-4zM518 299h5v1h-5zM570 300h4v1h-4zM517 300h6v2h-6zM569 301h6v1h-6zM516 302h8v1h-8zM640 302h4v1h-4zM515 303h9v1h-9zM639 303h6v1h-6zM639 304h7v1h-7zM639 305h6v1h-6zM514 304h10v3h-10zM640 306h4v1h-4zM514 307h9v1h-9zM568 302h8v6h-8zM513 308h14v1h-14zM557 308h26v1h-26zM633 308h27v1h-27zM477 309h4v1h-4zM511 309h17v1h-17zM547 309h44v1h-44zM617 309h48v1h-48zM477 310h8v1h-8zM509 310h19v1h-19zM540 310h69v1h-69zM614 310h51v1h-51zM538 311h73v3h-73zM612 311h53v3h-53zM477 311h9v5h-9zM508 311h21v5h-21zM507 316h23v2h-23zM477 316h10v3h-10zM506 318h24v1h-24zM506 319h8v1h-8zM477 319h11v7h-11zM506 320h7v6h-7zM515 319h15v7h-15zM538 314h127v12h-127z"/><path fill="#00cbff" d="M519 296h2v1h-2zM519 297h3v1h-3zM518 298h4v2h-4zM570 300h4v1h-4zM517 300h6v2h-6zM569 301h6v1h-6zM641 302h2v1h-2zM516 302h8v2h-8zM640 303h4v1h-4zM515 304h9v1h-9zM640 304h5v2h-5zM514 305h10v2h-10zM568 302h8v5h-8zM514 307h9v1h-9zM569 307h7v1h-7zM514 308h12v1h-12zM557 308h26v1h-26zM633 308h27v1h-27zM511 309h17v1h-17zM548 309h42v1h-42zM619 309h46v1h-46zM477 310h7v1h-7zM510 310h18v1h-18zM544 310h64v1h-64zM615 310h50v1h-50zM477 311h8v3h-8zM539 311h71v3h-71zM613 311h52v3h-52zM509 311h20v4h-20zM539 314h72v1h-72zM612 314h53v1h-53zM539 315h126v1h-126zM477 314h9v3h-9zM508 315h21v2h-21zM507 317h22v2h-22zM477 317h10v3h-10zM507 319h7v1h-7zM515 319h14v1h-14zM506 320h7v1h-7zM477 320h11v6h-11zM506 321h6v5h-6zM515 320h15v6h-15zM538 316h127v10h-127z"/><path fill="#00defd" d="M520 296h1v1h-1zM519 297h2v1h-2zM518 298h4v2h-4zM518 300h5v1h-5zM571 300h2v1h-2zM517 301h6v2h-6zM569 301h6v2h-6zM516 303h8v1h-8zM641 303h2v1h-2zM515 304h9v1h-9zM641 304h3v1h-3zM514 305h10v1h-10zM568 303h8v3h-8zM642 305h1v1h-1zM569 306h7v1h-7zM514 306h9v2h-9zM569 307h6v1h-6zM514 308h12v1h-12zM557 308h26v1h-26zM633 308h27v1h-27zM512 309h16v1h-16zM548 309h41v1h-41zM623 309h42v1h-42zM477 310h7v1h-7zM510 310h18v1h-18zM545 310h62v1h-62zM615 310h50v1h-50zM614 311h51v3h-51zM477 311h8v4h-8zM539 311h71v4h-71zM613 314h52v1h-52zM509 311h20v5h-20zM539 315h72v1h-72zM612 315h53v1h-53zM477 315h9v3h-9zM508 316h21v3h-21zM507 319h6v1h-6zM539 316h126v4h-126zM515 319h14v2h-14zM477 318h10v8h-10zM507 320h5v6h-5zM516 321h13v5h-13zM538 320h127v6h-127z"/><path fill="#09f1ee" d="M519 297h2v1h-2zM519 298h3v1h-3zM518 299h4v2h-4zM570 301h4v1h-4zM517 301h6v2h-6zM569 302h6v1h-6zM516 303h7v1h-7zM569 303h7v1h-7zM515 304h9v1h-9zM568 304h8v1h-8zM515 305h8v1h-8zM569 305h7v1h-7zM514 306h9v1h-9zM515 307h8v1h-8zM569 306h6v2h-6zM514 308h12v1h-12zM558 308h25v1h-25zM633 308h26v1h-26zM513 309h15v1h-15zM549 309h40v1h-40zM624 309h41v1h-41zM477 310h6v1h-6zM510 310h18v1h-18zM546 310h60v1h-60zM616 310h49v1h-49zM540 311h69v4h-69zM614 311h51v4h-51zM477 311h8v5h-8zM509 311h19v5h-19zM540 315h70v1h-70zM613 315h52v1h-52zM539 316h72v1h-72zM612 316h53v1h-53zM509 316h20v2h-20zM477 316h9v3h-9zM508 318h6v1h-6zM508 319h4v1h-4zM515 318h14v2h-14zM477 319h10v7h-10zM507 320h5v6h-5zM516 320h13v6h-13zM539 317h126v9h-126z"/><path fill="#18ffde" d="M520 297h1v1h-1zM519 298h2v1h-2zM519 299h3v1h-3zM518 300h4v1h-4zM518 301h5v1h-5zM570 301h4v1h-4zM517 302h6v1h-6zM569 302h6v2h-6zM516 303h7v2h-7zM569 304h7v1h-7zM569 305h6v2h-6zM515 305h8v3h-8zM570 307h5v1h-5zM515 308h11v1h-11zM558 308h24v1h-24zM633 308h26v1h-26zM513 309h15v1h-15zM551 309h37v1h-37zM625 309h40v1h-40zM477 310h6v1h-6zM511 310h17v1h-17zM547 310h45v1h-45zM616 310h49v1h-49zM477 311h7v3h-7zM544 311h64v3h-64zM542 314h67v1h-67zM615 311h50v4h-50zM510 311h18v5h-18zM540 315h69v1h-69zM614 315h51v1h-51zM477 314h8v3h-8zM540 316h70v1h-70zM613 316h52v1h-52zM509 316h19v2h-19zM509 318h4v1h-4zM515 318h13v1h-13zM477 317h9v3h-9zM508 319h4v1h-4zM515 319h14v1h-14zM477 320h10v6h-10zM508 320h3v6h-3zM516 320h13v6h-13zM539 317h126v9h-126z"/><path fill="#28ffcf" d="M519 298h2v2h-2zM518 300h4v2h-4zM570 301h4v1h-4zM570 302h5v1h-5zM517 302h6v2h-6zM516 304h7v1h-7zM515 305h8v2h-8zM569 303h6v4h-6zM515 307h7v1h-7zM570 307h4v1h-4zM515 308h11v1h-11zM558 308h24v1h-24zM634 308h25v1h-25zM513 309h14v1h-14zM552 309h35v1h-35zM626 309h39v1h-39zM477 310h4v1h-4zM511 310h17v1h-17zM547 310h44v1h-44zM617 310h48v1h-48zM545 311h62v3h-62zM477 311h7v4h-7zM544 314h64v1h-64zM542 315h66v1h-66zM615 311h50v5h-50zM540 316h69v1h-69zM614 316h51v1h-51zM477 315h8v3h-8zM510 311h18v7h-18zM540 317h71v1h-71zM613 317h52v1h-52zM510 318h2v1h-2zM515 318h13v1h-13zM540 318h125v1h-125zM477 318h9v8h-9zM508 320h1v6h-1zM516 319h12v7h-12zM539 319h126v7h-126z"/><path fill="#37ffc0" d="M520 298h1v1h-1zM519 299h2v1h-2zM519 300h3v1h-3zM518 301h4v1h-4zM571 301h2v1h-2zM570 302h4v1h-4zM517 302h6v2h-6zM516 304h7v2h-7zM569 303h6v3h-6zM515 306h8v1h-8zM570 306h5v1h-5zM516 307h6v1h-6zM570 307h4v1h-4zM516 308h10v1h-10zM558 308h24v1h-24zM634 308h25v1h-25zM514 309h13v1h-13zM552 309h34v1h-34zM627 309h38v1h-38zM477 310h3v1h-3zM511 310h17v1h-17zM547 310h44v1h-44zM617 310h48v1h-48zM477 311h6v3h-6zM546 311h61v3h-61zM616 311h49v3h-49zM545 314h62v1h-62zM477 314h7v2h-7zM510 311h18v5h-18zM543 315h64v1h-64zM511 316h17v1h-17zM541 316h67v1h-67zM615 314h50v3h-50zM511 317h2v1h-2zM540 317h70v1h-70zM614 317h51v1h-51zM477 316h8v3h-8zM515 317h13v2h-13zM477 319h9v7h-9zM516 319h12v7h-12zM540 318h125v8h-125z"/><path fill="#46ffb1" d="M519 299h2v1h-2zM519 300h3v1h-3zM518 301h4v1h-4zM518 302h5v1h-5zM570 302h4v1h-4zM570 303h5v1h-5zM517 303h6v2h-6zM569 304h6v2h-6zM516 305h7v2h-7zM570 306h4v1h-4zM517 307h5v1h-5zM571 307h3v1h-3zM518 308h8v1h-8zM558 308h24v1h-24zM634 308h25v1h-25zM514 309h13v1h-13zM553 309h32v1h-32zM628 309h37v1h-37zM512 310h16v1h-16zM548 310h42v1h-42zM619 310h46v1h-46zM510 311h18v1h-18zM546 311h48v3h-48zM477 311h6v4h-6zM546 314h60v1h-60zM544 315h62v1h-62zM616 311h49v5h-49zM477 315h7v2h-7zM511 312h17v5h-17zM543 316h64v1h-64zM541 317h68v1h-68zM615 316h50v2h-50zM515 317h13v2h-13zM541 318h124v1h-124zM477 317h8v3h-8zM477 320h9v6h-9zM516 319h12v7h-12zM540 319h125v7h-125z"/><path fill="#55ffa1" d="M519 300h2v1h-2zM518 301h4v2h-4zM570 302h4v2h-4zM517 303h6v2h-6zM516 305h7v1h-7zM570 304h5v2h-5zM516 306h6v1h-6zM570 306h4v1h-4zM518 307h4v1h-4zM571 307h2v1h-2zM518 308h8v1h-8zM558 308h5v1h-5zM565 308h14v1h-14zM634 308h16v1h-16zM652 308h7v1h-7zM514 309h13v1h-13zM554 309h30v1h-30zM630 309h31v1h-31zM512 310h16v1h-16zM548 310h42v1h-42zM621 310h44v1h-44zM477 311h5v3h-5zM547 311h45v3h-45zM477 314h6v1h-6zM546 314h47v1h-47zM511 311h17v5h-17zM545 315h49v1h-49zM514 316h14v1h-14zM544 316h50v1h-50zM616 311h49v6h-49zM477 315h7v3h-7zM515 317h13v1h-13zM542 317h66v1h-66zM615 317h50v1h-50zM516 318h12v2h-12zM541 318h124v2h-124zM477 318h8v8h-8zM517 320h11v6h-11zM540 320h125v6h-125z"/><path fill="#65ff92" d="M519 300h2v1h-2zM518 301h4v2h-4zM571 302h2v1h-2zM517 303h6v3h-6zM517 306h5v1h-5zM570 303h4v4h-4zM518 307h3v1h-3zM518 308h7v1h-7zM566 308h12v1h-12zM636 308h12v1h-12zM515 309h12v1h-12zM554 309h30v1h-30zM632 309h29v1h-29zM513 310h15v1h-15zM548 310h42v1h-42zM622 310h43v1h-43zM477 311h5v3h-5zM547 311h44v3h-44zM511 311h17v4h-17zM617 311h48v4h-48zM477 314h6v2h-6zM512 315h16v1h-16zM546 314h46v2h-46zM545 316h48v1h-48zM616 315h49v2h-49zM515 316h13v2h-13zM543 317h63v1h-63zM615 317h50v1h-50zM477 316h7v3h-7zM542 318h69v1h-69zM613 318h52v1h-52zM516 318h12v2h-12zM477 319h8v7h-8zM517 320h11v6h-11zM541 319h124v7h-124z"/><path fill="#74ff83" d="M520 300h1v1h-1zM519 301h3v1h-3zM571 302h2v1h-2zM518 302h4v2h-4zM517 304h6v1h-6zM570 303h4v3h-4zM517 305h5v2h-5zM571 306h3v1h-3zM519 307h2v1h-2zM518 308h6v1h-6zM567 308h10v1h-10zM638 308h9v1h-9zM515 309h12v1h-12zM556 309h28v1h-28zM632 309h29v1h-29zM513 310h15v1h-15zM549 310h40v1h-40zM623 310h42v1h-42zM477 311h4v3h-4zM511 311h17v3h-17zM477 314h5v1h-5zM512 314h16v1h-16zM547 311h44v4h-44zM513 315h15v1h-15zM546 315h45v1h-45zM617 311h48v5h-48zM477 315h6v2h-6zM515 316h13v1h-13zM545 316h47v1h-47zM544 317h50v1h-50zM616 316h49v2h-49zM543 318h67v1h-67zM614 318h51v1h-51zM477 317h7v3h-7zM516 317h12v3h-12zM542 319h123v1h-123zM477 320h8v6h-8zM517 320h11v6h-11zM541 320h124v6h-124z"/><path fill="#83ff74" d="M519 301h2v1h-2zM518 302h4v2h-4zM571 303h3v1h-3zM517 304h5v2h-5zM570 304h4v2h-4zM518 306h4v1h-4zM571 306h2v1h-2zM519 307h2v1h-2zM519 308h5v1h-5zM568 308h9v1h-9zM640 308h5v1h-5zM515 309h12v1h-12zM557 309h27v1h-27zM633 309h27v1h-27zM514 310h14v1h-14zM549 310h40v1h-40zM624 310h41v1h-41zM618 311h47v3h-47zM477 314h4v1h-4zM512 311h16v4h-16zM547 311h44v4h-44zM477 315h5v1h-5zM514 315h14v1h-14zM477 316h6v1h-6zM515 316h13v1h-13zM546 315h45v2h-45zM617 314h48v3h-48zM545 317h47v1h-47zM616 317h49v1h-49zM516 317h12v2h-12zM544 318h65v1h-65zM615 318h50v1h-50zM543 319h122v1h-122zM477 317h7v4h-7zM477 321h8v5h-8zM517 319h11v7h-11zM542 320h123v6h-123z"/><path fill="#92ff65" d="M519 301h2v1h-2zM571 303h2v1h-2zM571 304h3v2h-3zM518 302h4v5h-4zM572 306h1v1h-1zM519 308h5v1h-5zM568 308h8v1h-8zM516 309h11v1h-11zM557 309h27v1h-27zM633 309h27v1h-27zM514 310h14v1h-14zM550 310h38v1h-38zM625 310h40v1h-40zM512 311h16v3h-16zM548 311h43v3h-43zM619 311h46v3h-46zM477 314h3v1h-3zM513 314h15v1h-15zM477 315h5v1h-5zM547 314h44v2h-44zM618 314h47v2h-47zM515 315h13v2h-13zM546 316h45v1h-45zM477 316h6v2h-6zM546 317h46v1h-46zM617 316h48v2h-48zM516 317h12v2h-12zM545 318h63v1h-63zM615 318h50v1h-50zM544 319h121v1h-121zM543 320h122v1h-122zM477 318h7v8h-7zM517 319h11v7h-11zM542 321h123v5h-123z"/><path fill="#a1ff55" d="M519 301h2v1h-2zM519 302h3v1h-3zM571 303h2v3h-2zM518 303h4v4h-4zM519 308h4v1h-4zM568 308h8v1h-8zM517 309h10v1h-10zM557 309h27v1h-27zM633 309h27v1h-27zM514 310h13v1h-13zM551 310h37v1h-37zM626 310h39v1h-39zM513 311h15v3h-15zM514 314h14v1h-14zM548 311h42v4h-42zM620 311h45v4h-45zM477 315h4v1h-4zM515 315h13v1h-13zM547 315h44v1h-44zM619 315h46v1h-46zM477 316h5v1h-5zM618 316h47v1h-47zM516 316h12v2h-12zM546 316h45v2h-45zM617 317h48v1h-48zM477 317h6v2h-6zM545 318h62v1h-62zM615 318h50v1h-50zM544 319h67v1h-67zM612 319h53v1h-53zM477 319h7v7h-7zM517 318h11v8h-11zM543 320h122v6h-122z"/><path fill="#b1ff46" d="M519 302h3v1h-3zM518 303h4v3h-4zM571 304h2v2h-2zM518 306h3v1h-3zM519 308h4v1h-4zM569 308h6v1h-6zM517 309h10v1h-10zM557 309h27v1h-27zM633 309h27v1h-27zM515 310h12v1h-12zM551 310h36v1h-36zM626 310h39v1h-39zM513 311h15v3h-15zM514 314h14v1h-14zM548 311h42v4h-42zM621 311h44v4h-44zM477 315h3v1h-3zM515 315h13v1h-13zM547 315h43v1h-43zM620 315h45v1h-45zM477 316h5v1h-5zM547 316h44v1h-44zM619 316h46v1h-46zM516 316h12v2h-12zM546 317h45v1h-45zM617 317h48v1h-48zM546 318h48v1h-48zM600 318h6v1h-6zM616 318h49v1h-49zM477 317h6v3h-6zM545 319h65v1h-65zM614 319h51v1h-51zM477 320h7v6h-7zM517 318h11v8h-11zM544 320h121v6h-121z"/><path fill="#c0ff37" d="M519 302h2v1h-2zM572 304h1v1h-1zM518 303h4v3h-4zM519 306h2v1h-2zM519 308h4v1h-4zM569 308h6v1h-6zM517 309h10v1h-10zM557 309h27v1h-27zM633 309h27v1h-27zM515 310h12v1h-12zM552 310h35v1h-35zM627 310h38v1h-38zM513 311h15v1h-15zM514 312h14v2h-14zM549 311h41v3h-41zM515 314h13v1h-13zM548 314h42v1h-42zM622 311h43v4h-43zM621 315h44v1h-44zM477 316h4v1h-4zM516 315h12v2h-12zM547 315h43v2h-43zM620 316h45v1h-45zM477 317h5v1h-5zM546 317h45v1h-45zM618 317h47v1h-47zM546 318h46v1h-46zM616 318h49v1h-49zM477 318h6v2h-6zM545 319h65v1h-65zM615 319h50v1h-50zM477 320h7v6h-7zM517 317h11v9h-11zM544 320h121v6h-121z"/><path fill="#cfff28" d="M519 302h2v1h-2zM519 303h3v1h-3zM518 304h4v2h-4zM519 306h2v1h-2zM519 308h3v1h-3zM570 308h5v1h-5zM517 309h10v1h-10zM557 309h27v1h-27zM633 309h27v1h-27zM515 310h12v1h-12zM552 310h34v1h-34zM628 310h37v1h-37zM514 311h14v3h-14zM549 311h40v3h-40zM515 314h13v1h-13zM623 311h42v4h-42zM548 314h42v2h-42zM622 315h43v1h-43zM477 316h3v1h-3zM516 315h12v2h-12zM547 316h43v1h-43zM621 316h44v1h-44zM477 317h5v1h-5zM547 317h44v1h-44zM619 317h46v1h-46zM546 318h46v1h-46zM617 318h48v1h-48zM546 319h63v1h-63zM615 319h50v1h-50zM477 318h6v8h-6zM517 317h11v9h-11zM545 320h120v6h-120z"/><path fill="#deff18" d="M519 302h2v1h-2zM519 303h3v1h-3zM518 304h4v1h-4zM519 305h2v2h-2zM519 308h3v1h-3zM570 308h4v1h-4zM518 309h9v1h-9zM557 309h27v1h-27zM633 309h27v1h-27zM516 310h11v1h-11zM553 310h33v1h-33zM629 310h36v1h-36zM514 311h14v1h-14zM515 312h13v3h-13zM549 311h40v4h-40zM624 311h41v4h-41zM516 315h12v1h-12zM548 315h42v1h-42zM623 315h42v1h-42zM622 316h43v1h-43zM477 317h4v1h-4zM547 316h43v2h-43zM621 317h44v1h-44zM477 318h5v1h-5zM547 318h44v1h-44zM617 318h48v1h-48zM546 319h62v1h-62zM615 319h50v1h-50zM546 320h65v1h-65zM612 320h53v1h-53zM477 319h6v7h-6zM517 316h11v10h-11zM545 321h120v5h-120z"/><path fill="#eeff09" d="M520 302h1v1h-1zM519 303h2v1h-2zM519 304h3v1h-3zM519 305h2v1h-2zM520 308h2v1h-2zM571 308h3v1h-3zM518 309h9v1h-9zM557 309h26v1h-26zM633 309h27v1h-27zM516 310h11v1h-11zM553 310h32v1h-32zM629 310h36v1h-36zM515 311h13v3h-13zM550 311h39v3h-39zM549 314h40v1h-40zM516 314h12v2h-12zM548 315h41v1h-41zM624 311h41v5h-41zM548 316h42v1h-42zM623 316h42v1h-42zM477 317h3v1h-3zM547 317h43v1h-43zM622 317h43v1h-43zM547 318h44v1h-44zM617 318h48v1h-48zM477 318h5v2h-5zM546 319h48v1h-48zM597 319h10v1h-10zM616 319h49v1h-49zM546 320h65v1h-65zM614 320h51v1h-51zM477 320h6v6h-6zM517 316h11v10h-11zM546 321h119v5h-119z"/><path fill="#fdef00" d="M519 303h2v3h-2zM520 308h1v1h-1zM571 308h2v1h-2zM518 309h9v1h-9zM557 309h26v1h-26zM633 309h27v1h-27zM516 310h11v1h-11zM554 310h31v1h-31zM630 310h32v1h-32zM515 311h13v3h-13zM550 311h38v3h-38zM516 314h12v1h-12zM625 311h40v4h-40zM549 314h40v2h-40zM548 316h41v1h-41zM624 315h41v2h-41zM547 317h43v1h-43zM623 317h42v1h-42zM477 318h4v1h-4zM547 318h44v1h-44zM618 318h47v1h-47zM477 319h5v1h-5zM547 319h45v1h-45zM616 319h49v1h-49zM546 320h64v1h-64zM615 320h50v1h-50zM477 320h6v6h-6zM517 315h11v11h-11zM546 321h65v5h-65zM613 321h52v5h-52z"/><path fill="#ffdd00" d="M519 303h2v3h-2zM520 308h1v1h-1zM518 309h9v1h-9zM557 309h26v1h-26zM633 309h27v1h-27zM517 310h10v1h-10zM554 310h30v1h-30zM631 310h30v1h-30zM515 311h13v2h-13zM626 311h39v3h-39zM516 313h12v2h-12zM550 311h38v4h-38zM549 315h40v1h-40zM548 316h41v1h-41zM625 314h40v3h-40zM548 317h42v1h-42zM624 317h41v1h-41zM477 318h3v1h-3zM547 318h43v1h-43zM619 318h46v1h-46zM477 319h4v1h-4zM547 319h45v1h-45zM617 319h48v1h-48zM477 320h5v1h-5zM546 320h63v1h-63zM615 320h50v1h-50zM477 321h6v5h-6zM517 315h11v11h-11zM546 321h65v5h-65zM614 321h51v5h-51z"/><path fill="#ffcc00" d="M520 303h1v1h-1zM519 304h2v2h-2zM518 309h9v1h-9zM557 309h26v1h-26zM633 309h27v1h-27zM517 310h10v1h-10zM555 310h29v1h-29zM632 310h29v1h-29zM515 311h12v1h-12zM551 311h36v3h-36zM516 312h11v3h-11zM550 314h38v1h-38zM549 315h40v1h-40zM626 311h39v5h-39zM517 315h10v2h-10zM625 316h40v1h-40zM548 316h41v2h-41zM624 317h41v1h-41zM547 318h43v1h-43zM621 318h44v1h-44zM477 319h4v1h-4zM547 319h44v1h-44zM617 319h48v1h-48zM547 320h62v1h-62zM477 320h5v6h-5zM517 317h11v9h-11zM546 321h64v5h-64zM615 320h50v6h-50z"/><path fill="#ffba00" d="M519 304h2v1h-2zM518 309h9v1h-9zM557 309h26v1h-26zM633 309h27v1h-27zM517 310h10v1h-10zM556 310h28v1h-28zM632 310h29v1h-29zM516 311h11v3h-11zM551 311h36v4h-36zM627 311h38v4h-38zM550 315h38v1h-38zM549 316h40v1h-40zM626 315h39v2h-39zM548 317h41v1h-41zM625 317h40v1h-40zM548 318h42v1h-42zM622 318h43v1h-43zM477 319h3v1h-3zM547 319h44v1h-44zM617 319h48v1h-48zM477 320h4v1h-4zM547 320h47v1h-47zM596 320h12v1h-12zM616 320h49v1h-49zM477 321h5v5h-5zM517 314h10v12h-10zM547 321h62v5h-62zM615 321h50v5h-50z"/><path fill="#ffa900" d="M518 309h9v1h-9zM557 309h26v1h-26zM633 309h27v1h-27zM517 310h10v1h-10zM557 310h27v1h-27zM632 310h29v1h-29zM516 311h11v2h-11zM552 311h35v3h-35zM551 314h36v1h-36zM550 315h37v1h-37zM627 311h38v5h-38zM549 316h39v1h-39zM626 316h39v1h-39zM625 317h40v1h-40zM548 317h41v2h-41zM623 318h42v1h-42zM547 319h43v1h-43zM618 319h47v1h-47zM547 320h46v1h-46zM599 320h7v1h-7zM616 320h49v1h-49zM477 320h4v6h-4zM517 313h10v13h-10zM547 321h62v5h-62zM615 321h50v5h-50z"/><path fill="#ff9700" d="M518 309h9v1h-9zM557 309h26v1h-26zM633 309h27v1h-27zM517 310h10v1h-10zM557 310h27v1h-27zM632 310h29v1h-29zM516 311h11v1h-11zM552 311h34v3h-34zM551 314h35v1h-35zM628 311h37v4h-37zM550 315h37v1h-37zM627 315h38v2h-38zM549 316h39v2h-39zM626 317h39v1h-39zM548 318h41v1h-41zM624 318h41v1h-41zM548 319h42v1h-42zM619 319h46v1h-46zM477 320h3v1h-3zM547 320h44v1h-44zM617 320h48v1h-48zM477 321h4v5h-4zM517 312h10v14h-10zM547 321h46v5h-46zM597 321h11v5h-11zM616 321h49v5h-49z"/><path fill="#ff8600" d="M518 309h9v1h-9zM557 309h26v1h-26zM557 310h27v1h-27zM633 309h27v2h-27zM552 311h34v4h-34zM551 315h35v1h-35zM628 311h37v5h-37zM550 316h37v1h-37zM549 317h39v1h-39zM627 316h38v2h-38zM624 318h41v1h-41zM548 318h41v2h-41zM621 319h44v1h-44zM547 320h44v1h-44zM617 320h48v1h-48zM477 321h3v5h-3zM517 310h10v16h-10zM547 321h45v5h-45zM599 321h8v5h-8zM616 321h49v5h-49z"/><path fill="#ff7400" d="M518 309h9v1h-9zM557 309h26v1h-26zM557 310h27v1h-27zM633 309h27v2h-27zM553 311h33v3h-33zM552 314h34v1h-34zM629 311h36v4h-36zM551 315h35v1h-35zM550 316h36v1h-36zM628 315h37v2h-37zM549 317h38v1h-38zM627 317h38v1h-38zM548 318h40v1h-40zM625 318h40v1h-40zM548 319h41v1h-41zM622 319h43v1h-43zM548 320h42v1h-42zM517 310h10v16h-10zM547 321h44v5h-44zM617 320h48v6h-48z"/><path fill="#ff6300" d="M557 309h26v1h-26zM518 309h9v2h-9zM557 310h27v1h-27zM633 309h27v2h-27zM630 311h35v3h-35zM553 311h32v4h-32zM552 315h34v1h-34zM551 316h35v1h-35zM629 314h36v3h-36zM550 317h37v1h-37zM628 317h37v1h-37zM549 318h38v1h-38zM626 318h39v1h-39zM517 311h10v9h-10zM548 319h40v1h-40zM623 319h42v1h-42zM548 320h41v1h-41zM618 320h47v1h-47zM518 320h9v6h-9zM548 321h42v5h-42zM617 321h48v5h-48z"/><path fill="#ff5100" d="M557 309h26v1h-26zM518 309h9v2h-9zM557 310h27v1h-27zM633 309h27v2h-27zM630 311h35v1h-35zM631 312h34v2h-34zM553 311h32v4h-32zM552 315h33v1h-33zM630 314h35v2h-35zM551 316h35v1h-35zM629 316h36v1h-36zM550 317h36v1h-36zM628 317h37v1h-37zM517 311h10v8h-10zM549 318h38v1h-38zM626 318h39v1h-39zM548 319h39v1h-39zM624 319h41v1h-41zM548 320h40v1h-40zM619 320h46v1h-46zM518 319h9v7h-9zM548 321h41v5h-41zM617 321h48v5h-48z"/><path fill="#ff4000" d="M557 309h26v1h-26zM518 309h9v2h-9zM557 310h27v1h-27zM633 309h27v2h-27zM631 311h31v3h-31zM554 311h31v4h-31zM631 314h34v1h-34zM553 315h32v1h-32zM552 316h33v1h-33zM630 315h35v2h-35zM517 311h10v7h-10zM551 317h35v1h-35zM629 317h36v1h-36zM550 318h36v1h-36zM627 318h38v1h-38zM549 319h38v1h-38zM625 319h40v1h-40zM548 320h39v1h-39zM621 320h44v1h-44zM518 318h9v8h-9zM548 321h40v5h-40zM618 321h47v5h-47z"/><path fill="#ff2e00" d="M557 309h26v1h-26zM518 309h9v2h-9zM557 310h27v1h-27zM633 309h27v2h-27zM554 311h30v3h-30zM632 311h29v3h-29zM554 314h31v1h-31zM631 314h31v1h-31zM553 315h32v1h-32zM631 315h34v1h-34zM517 311h10v6h-10zM552 316h33v1h-33zM551 317h34v1h-34zM630 316h35v2h-35zM550 318h36v1h-36zM628 318h37v1h-37zM549 319h37v1h-37zM625 319h40v1h-40zM622 320h43v1h-43zM518 317h9v9h-9zM548 320h39v6h-39zM620 321h45v5h-45z"/><path fill="#ff1d00" d="M557 309h26v1h-26zM518 309h9v2h-9zM557 310h27v1h-27zM633 309h27v2h-27zM555 311h29v3h-29zM517 311h10v4h-10zM632 311h29v4h-29zM554 314h30v2h-30zM632 315h30v1h-30zM553 316h32v1h-32zM631 316h34v1h-34zM552 317h33v1h-33zM630 317h35v1h-35zM551 318h34v1h-34zM629 318h36v1h-36zM626 319h39v1h-39zM549 319h37v2h-37zM623 320h42v1h-42zM518 315h9v11h-9zM548 321h38v5h-38zM621 321h44v5h-44z"/><path fill="#f60b00" d="M518 309h8v1h-8zM557 309h26v1h-26zM518 310h9v1h-9zM557 310h27v1h-27zM633 309h27v2h-27zM517 311h10v3h-10zM556 311h28v3h-28zM555 314h29v1h-29zM632 311h29v5h-29zM554 315h30v2h-30zM632 316h30v1h-30zM552 317h33v1h-33zM631 317h34v1h-34zM551 318h34v1h-34zM630 318h35v1h-35zM550 319h35v1h-35zM627 319h38v1h-38zM624 320h41v1h-41zM518 314h9v12h-9zM549 320h37v6h-37zM622 321h43v5h-43z"/><path fill="#e00000" d="M519 309h7v1h-7zM557 309h26v1h-26zM518 310h9v1h-9zM633 309h27v2h-27zM517 311h10v2h-10zM557 310h27v4h-27zM556 314h28v1h-28zM555 315h29v1h-29zM554 316h30v1h-30zM632 311h29v6h-29zM553 317h31v1h-31zM632 317h30v1h-30zM552 318h33v1h-33zM631 318h34v1h-34zM551 319h34v1h-34zM628 319h37v1h-37zM625 320h40v1h-40zM518 313h9v13h-9zM549 320h36v6h-36zM623 321h42v5h-42z"/><path fill="#cb0000" d="M519 309h7v1h-7zM557 309h26v1h-26zM518 310h9v1h-9zM633 309h27v2h-27zM517 311h10v1h-10zM557 310h27v6h-27zM556 316h28v1h-28zM554 317h30v1h-30zM632 311h29v7h-29zM553 318h31v1h-31zM632 318h33v1h-33zM551 319h33v1h-33zM630 319h35v1h-35zM550 320h35v1h-35zM626 320h39v1h-39zM518 312h9v14h-9zM549 321h36v5h-36zM624 321h41v5h-41z"/><path fill="#b50000" d="M519 309h7v1h-7zM557 309h26v1h-26zM633 309h27v2h-27zM557 310h27v8h-27zM554 318h30v1h-30zM632 311h29v8h-29zM552 319h32v1h-32zM631 319h34v1h-34zM628 320h37v1h-37zM518 310h9v16h-9zM550 320h34v6h-34zM625 321h40v5h-40z"/><path fill="#a00000" d="M519 309h7v1h-7zM557 309h26v1h-26zM633 309h27v5h-27zM633 314h28v1h-28zM557 310h27v9h-27zM553 319h31v1h-31zM632 315h29v5h-29zM551 320h33v1h-33zM630 320h35v1h-35zM518 310h9v16h-9zM550 321h34v5h-34zM627 321h38v5h-38z"/><path fill="#8a0000" d="M519 309h7v1h-7zM557 309h26v2h-26zM633 309h27v6h-27zM633 315h28v1h-28zM552 320h4v1h-4zM632 316h29v5h-29zM518 310h9v16h-9zM551 321h5v5h-5zM557 311h27v15h-27zM632 321h30v5h-30z"/></g></g></g>
<text x="477.3" y="324.5" text-anchor="end" font-size="6.45">0</text>
<text x="477.3" y="307.6" text-anchor="end" font-size="6.45">10</text>
<text x="477.3" y="290.7" text-anchor="end" font-size="6.45">20</text>
<text x="477.3" y="273.8" text-anchor="end" font-size="6.45">30</text>
<text x="477.3" y="256.9" text-anchor="end" font-size="6.45">40</text>
<text x="477.3" y="240.0" text-anchor="end" font-size="6.45">50</text>
<text x="480.1" y="330.1" text-anchor="middle" font-size="6.45">4.0</text>
<text x="508.7" y="330.1" text-anchor="middle" font-size="6.45">4.5</text>
<text x="537.3" y="330.1" text-anchor="middle" font-size="6.45">5.0</text>
<text x="565.9" y="330.1" text-anchor="middle" font-size="6.45">5.5</text>
<text x="594.5" y="330.1" text-anchor="middle" font-size="6.45">6.0</text>
<text x="623.1" y="330.1" text-anchor="middle" font-size="6.45">6.5</text>
<text x="651.7" y="330.1" text-anchor="middle" font-size="6.45">7.0</text>
<rect x="663.0" y="237.8" width="10.0" height="84.5" fill="url(#jet)"/>
<path d="M673.0 315.7h1.6" stroke="#555" stroke-width=".5"/>
<text x="676.2" y="318.0" font-size="6.45">0</text>
<path d="M673.0 296.2h1.6" stroke="#555" stroke-width=".5"/>
<text x="676.2" y="298.5" font-size="6.45">5</text>
<path d="M673.0 276.7h1.6" stroke="#555" stroke-width=".5"/>
<text x="676.2" y="279.0" font-size="6.45">10</text>
<path d="M673.0 257.3h1.6" stroke="#555" stroke-width=".5"/>
<text x="676.2" y="259.6" font-size="6.45">15</text>
<path d="M673.0 237.8h1.6" stroke="#555" stroke-width=".5"/>
<text x="676.2" y="240.1" font-size="6.45">20</text>
<text x="571.9" y="337.7" text-anchor="middle" font-size="6.8">Butterworth 2nd Order Filtered Signal Between 0.5-100 Hz</text>
<rect x="480.1" y="340.8" width="183.1" height="83.3" fill="#eaeaf2"/>
<text x="480.1" y="432.5" text-anchor="middle" font-size="6.45">4.0</text>
<text x="508.7" y="432.5" text-anchor="middle" font-size="6.45">4.5</text>
<text x="537.3" y="432.5" text-anchor="middle" font-size="6.45">5.0</text>
<text x="565.9" y="432.5" text-anchor="middle" font-size="6.45">5.5</text>
<text x="594.5" y="432.5" text-anchor="middle" font-size="6.45">6.0</text>
<text x="623.1" y="432.5" text-anchor="middle" font-size="6.45">6.5</text>
<text x="651.7" y="432.5" text-anchor="middle" font-size="6.45">7.0</text>
<text x="476.9" y="408.9" text-anchor="end" font-size="6.45">−50</text>
<text x="476.9" y="387.2" text-anchor="end" font-size="6.45">0</text>
<text x="476.9" y="365.5" text-anchor="end" font-size="6.45">50</text>
<text x="476.9" y="343.8" text-anchor="end" font-size="6.45">100</text>
<path d="M480.1 340.8V424.1M508.7 340.8V424.1M537.3 340.8V424.1M565.9 340.8V424.1M594.5 340.8V424.1M623.1 340.8V424.1M651.7 340.8V424.1M480.1 406.7H663.2M480.1 385.0H663.2M480.1 363.3H663.2M480.1 341.6H663.2" stroke="#fff" stroke-width=".45" stroke-opacity=".6" fill="none"/>
<polyline points="480.1,393.2 480.4,394.2 480.8,394.7 481.1,394.3 481.4,393 481.7,394.5 482.1,397.6 482.4,390.5 482.7,391.3 483,389.3 483.4,384.4 483.7,383.3 484,387.3 484.3,387.5 484.7,394.6 485,388 485.3,394.9 485.6,392.9 486,392.8 486.3,395.4 486.6,398.8 487,392.7 487.3,390.7 487.6,396.4 487.9,394.4 488.3,390.1 488.6,387.9 488.9,390.4 489.2,389.3 489.6,389 489.9,389.7 490.2,382.9 490.5,391.4 490.9,387.8 491.2,388.5 491.5,388.8 491.9,392.3 492.2,390.1 492.5,387.7 492.8,390.5 493.2,388.2 493.5,383.8 493.8,387 494.1,384.1 494.5,382.1 494.8,391.7 495.1,389 495.4,384.9 495.8,389.9 496.1,389.3 496.4,387.1 496.7,389 497.1,385.5 497.4,387 497.7,383.4 498.1,388.8 498.4,390.2 498.7,380.9 499,385.7 499.4,389.7 499.7,385.5 500,389.8 500.3,392.4 500.7,388.8 501,385.2 501.3,389.6 501.6,388.6 502,381.6 502.3,388.9 502.6,386.9 502.9,387 503.3,390.4 503.6,392.8 503.9,387 504.3,391.5 504.6,383.7 504.9,383 505.2,390.3 505.6,392.4 505.9,389.3 506.2,385.5 506.5,386.8 506.9,390.2 507.2,391.8 507.5,394.2 507.8,392.2 508.2,391.3 508.5,390 508.8,393.7 509.2,394 509.5,395.5 509.8,390.7 510.1,393.8 510.5,393.1 510.8,394.2 511.1,393 511.4,392.8 511.8,394 512.1,393.6 512.4,387.3 512.7,392.7 513.1,392.2 513.4,400.3 513.7,395.7 514,396.2 514.4,395.8 514.7,391.1 515,386.9 515.4,382 515.7,377.6 516,379.1 516.3,372.9 516.7,373.5 517,371.8 517.3,364.3 517.6,364.3 518,359.9 518.3,361.6 518.6,354.8 518.9,350.1 519.3,353.6 519.6,351.5 519.9,353.7 520.2,346.1 520.6,341.9 520.9,348.1 521.2,350.5 521.6,350.4 521.9,350.5 522.2,344.5 522.5,352 522.9,353.2 523.2,362.9 523.5,360.1 523.8,359.3 524.2,362.5 524.5,365.1 524.8,362.3 525.1,368.1 525.5,371.3 525.8,365.8 526.1,370.2 526.5,369.7 526.8,370.3 527.1,374.6 527.4,373.5 527.8,378.5 528.1,375.5 528.4,380.3 528.7,375.9 529.1,376.4 529.4,380.4 529.7,381.9 530,382.3 530.4,380.3 530.7,378.7 531,378.9 531.3,379.5 531.7,379.1 532,382 532.3,380.1 532.7,382.8 533,380.2 533.3,384.4 533.6,387.2 534,386.3 534.3,382.4 534.6,384.7 534.9,386.2 535.3,385.5 535.6,387.7 535.9,388.9 536.2,387.9 536.6,387.9 536.9,386.3 537.2,390.5 537.5,387.5 537.9,387 538.2,390.8 538.5,388.2 538.9,384.1 539.2,392.1 539.5,387 539.8,381.2 540.2,388.3 540.5,387.8 540.8,388.6 541.1,387.4 541.5,389.9 541.8,386.8 542.1,385.7 542.4,385.6 542.8,385.7 543.1,386.9 543.4,390.8 543.8,393.5 544.1,389.2 544.4,392.3 544.7,398.3 545.1,398.1 545.4,390 545.7,389.9 546,390.4 546.4,389.7 546.7,396.9 547,394.1 547.3,396.6 547.7,395.4 548,396.8 548.3,392.6 548.6,394.9 549,395.1 549.3,389.9 549.6,396.5 550,393.1 550.3,394.6 550.6,389.7 550.9,399.2 551.3,399.5 551.6,400 551.9,396.7 552.2,395.2 552.6,399.4 552.9,399.2 553.2,398.9 553.5,395 553.9,396.3 554.2,400.6 554.5,400 554.8,400.1 555.2,399.6 555.5,398.9 555.8,400.4 556.2,398.5 556.5,401.4 556.8,405.2 557.1,400 557.5,403.4 557.8,404.9 558.1,405 558.4,400.6 558.8,399.8 559.1,405.4 559.4,402.2 559.7,399.1 560.1,400.4 560.4,401.7 560.7,398.1 561.1,402.5 561.4,403 561.7,401.6 562,408.7 562.4,407.8 562.7,406.5 563,405.8 563.3,406.1 563.7,404.8 564,398.8 564.3,405.4 564.6,405.9 565,405.8 565.3,402.7 565.6,402.8 565.9,408.4 566.3,405.1 566.6,410.1 566.9,413.4 567.3,414.2 567.6,405.4 567.9,414.3 568.2,410.3 568.6,410.4 568.9,412.2 569.2,414.3 569.5,417.6 569.9,423.6 570.2,414.8 570.5,417.8 570.8,409.9 571.2,399.9 571.5,398 571.8,397.7 572.2,390.3 572.5,386.2 572.8,386.9 573.1,376.4 573.5,373 573.8,374.4 574.1,368.8 574.4,374.2 574.8,368.5 575.1,364.3 575.4,369.1 575.7,361.8 576.1,368.5 576.4,360.8 576.7,364.8 577,365.5 577.4,371.7 577.7,361.7 578,364.2 578.4,366 578.7,365.8 579,366.3 579.3,365.7 579.7,364.9 580,364.9 580.3,360.8 580.6,359.7 581,366.3 581.3,364.2 581.6,363.6 581.9,368 582.3,366.3 582.6,366.3 582.9,365 583.2,367.9 583.6,365.1 583.9,373.1 584.2,367.7 584.6,366.4 584.9,370.7 585.2,368.6 585.5,371 585.9,374.2 586.2,375.4 586.5,374.9 586.8,373.5 587.2,371.2 587.5,368.6 587.8,372.7 588.1,371.6 588.5,367.1 588.8,370 589.1,378.5 589.5,371.1 589.8,377.1 590.1,371.7 590.4,374.4 590.8,373.6 591.1,374.7 591.4,376.3 591.7,370.8 592.1,374.4 592.4,375.1 592.7,372.5 593,376.7 593.4,380.1 593.7,377.5 594,380.3 594.3,377.2 594.7,378.3 595,379.4 595.3,376.1 595.7,380.9 596,380.9 596.3,379.6 596.6,373.2 597,375.6 597.3,376.5 597.6,372.9 597.9,374.9 598.3,378.4 598.6,378.2 598.9,380 599.2,376.2 599.6,374.9 599.9,378.1 600.2,375.9 600.5,383.4 600.9,377.4 601.2,375.6 601.5,376 601.9,374.3 602.2,378.3 602.5,379 602.8,378 603.2,372.7 603.5,378.7 603.8,380.2 604.1,378.5 604.5,380.2 604.8,379.9 605.1,376.9 605.4,379.3 605.8,377.3 606.1,380.5 606.4,378.3 606.8,378.9 607.1,377.9 607.4,375.1 607.7,375.6 608.1,372.4 608.4,379.8 608.7,377.7 609,378.2 609.4,378.4 609.7,377.4 610,377.4 610.3,376.7 610.7,378.5 611,377.5 611.3,379.4 611.6,378.5 612,375.9 612.3,381.3 612.6,377 613,379.7 613.3,376.3 613.6,371.2 613.9,376.6 614.3,373.2 614.6,375.9 614.9,374.8 615.2,374 615.6,374.5 615.9,374.9 616.2,371.2 616.5,382.3 616.9,375.8 617.2,378.9 617.5,375.9 617.8,376.6 618.2,376.1 618.5,380.8 618.8,376.1 619.2,378.1 619.5,376.9 619.8,379 620.1,373.4 620.5,378.4 620.8,371 621.1,374.7 621.4,376.8 621.8,370.2 622.1,374.5 622.4,377.3 622.7,375.2 623.1,384.1 623.4,374.1 623.7,371.3 624.1,369.8 624.4,373.8 624.7,370.1 625,372 625.4,376.2 625.7,374.3 626,372.2 626.3,371.1 626.7,371.3 627,372.7 627.3,373.7 627.6,371.1 628,370.9 628.3,369.8 628.6,368.5 628.9,371 629.3,369.4 629.6,369.5 629.9,370.8 630.3,364.2 630.6,364.4 630.9,363 631.2,366.5 631.6,366.5 631.9,369.9 632.2,368.4 632.5,370.6 632.9,369 633.2,364.4 633.5,367.3 633.8,361.9 634.2,363 634.5,363.7 634.8,364.9 635.1,363.3 635.5,358.6 635.8,365.2 636.1,362.8 636.5,361.3 636.8,356.3 637.1,360.6 637.4,361.6 637.8,363.1 638.1,356.6 638.4,359.1 638.7,360.7 639.1,366.6 639.4,365.1 639.7,369.3 640,371.8 640.4,371 640.7,373 641,381.8 641.4,385.1 641.7,387.8 642,384.1 642.3,384.6 642.7,392.1 643,391.9 643.3,398.8 643.6,396.1 644,397.1 644.3,401.3 644.6,403.2 644.9,403.5 645.3,406.2 645.6,399.7 645.9,404.6 646.2,405 646.6,400.2 646.9,406.2 647.2,412.6 647.6,412.6 647.9,406.6 648.2,408.5 648.5,406 648.9,408.6 649.2,414 649.5,409.1 649.8,417.4 650.2,413.6 650.5,407.3 650.8,403.9 651.1,400.6 651.5,404.4 651.8,408.1 652.1,402.1 652.4,408.6 652.8,405.3 653.1,405.6 653.4,404.3 653.8,407.3 654.1,397.3 654.4,400.4 654.7,403.3 655.1,397.1 655.4,402.2 655.7,399.1 656,402.4 656.4,401.2 656.7,397.9 657,401.5 657.3,398.7 657.7,398.5 658,398.5 658.3,402.2 658.7,400.6 659,397.7 659.3,397.9 659.6,399.7 660,400.5 660.3,396.9 660.6,399.4 660.9,398.7 661.3,396.6 661.6,393.7 661.9,394 662.2,394.3 662.6,391.9" fill="none" stroke="#1f77b4" stroke-width=".75" stroke-linejoin="round"/>
<text x="571.7" y="439.5" text-anchor="middle" font-size="6.45">s</text>
<rect x="624.4" y="344.1" width="36.5" height="13.0" rx="1.2" fill="#eaeaf2" fill-opacity=".8" stroke="#d2d2da" stroke-width=".6"/>
<path d="M627.4 350.6h15" stroke="#1f77b4" stroke-width=".6"/>
<text x="648.6" y="353.2" font-size="7.3">F8</text></g>
</svg>
</body></html>
